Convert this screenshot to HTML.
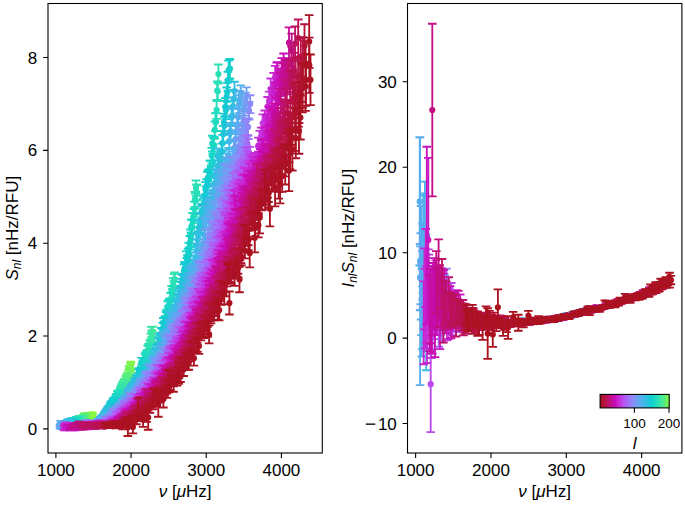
<!DOCTYPE html>
<html><head><meta charset="utf-8"><style>html,body{margin:0;padding:0;background:#fff;overflow:hidden;}svg{display:block;}</style></head>
<body><svg width="685" height="506" viewBox="0 0 685 506"><defs><clipPath id="cl"><rect x="48.0" y="3.5" width="274.3" height="449.5"/></clipPath><clipPath id="cr"><rect x="407.5" y="3.5" width="274.4" height="449.5"/></clipPath><linearGradient id="cm" x1="0" x2="1" y1="0" y2="0"><stop offset="0.000" stop-color="#aa121e"/><stop offset="0.050" stop-color="#b41238"/><stop offset="0.110" stop-color="#bc1260"/><stop offset="0.165" stop-color="#c40e94"/><stop offset="0.215" stop-color="#c80cb8"/><stop offset="0.275" stop-color="#c82cd8"/><stop offset="0.340" stop-color="#b850f0"/><stop offset="0.410" stop-color="#a070f8"/><stop offset="0.485" stop-color="#8890f8"/><stop offset="0.560" stop-color="#60a8f0"/><stop offset="0.635" stop-color="#40b8e8"/><stop offset="0.740" stop-color="#10ccd0"/><stop offset="0.810" stop-color="#20dcc0"/><stop offset="0.885" stop-color="#40e8a0"/><stop offset="0.950" stop-color="#60f070"/><stop offset="1.000" stop-color="#88f840"/></linearGradient></defs><g clip-path="url(#cl)" fill="none"><path stroke="#88f840" stroke-width="6.2" stroke-linecap="round" d="M92.7 416.3h0"/><path stroke="#88f840" stroke-width="6.2" stroke-linecap="round" d="M92.4 416.8h0"/><path stroke="#88f840" stroke-width="6.2" stroke-linecap="round" d="M92.2 414.7h0"/><path stroke="#88f840" stroke-width="6.2" stroke-linecap="round" d="M91.9 415.1h0"/><path stroke="#88f840" stroke-width="6.2" stroke-linecap="round" d="M91.7 414.6h0"/><path stroke="#88f840" stroke-width="6.2" stroke-linecap="round" d="M91.4 415.7h0"/><path stroke="#88f840" stroke-width="6.2" stroke-linecap="round" d="M91.2 416h0"/><path stroke="#88f840" stroke-width="6.2" stroke-linecap="round" d="M90.9 416.3h0"/><path stroke="#88f840" stroke-width="6.2" stroke-linecap="round" d="M90.7 417.5h0"/><path stroke="#88f840" stroke-width="6.2" stroke-linecap="round" d="M90.4 417h0"/><path stroke="#88f840" stroke-width="6.2" stroke-linecap="round" d="M90.2 416.8h0"/><path stroke="#88f840" stroke-width="6.2" stroke-linecap="round" d="M89.9 417.8h0"/><path stroke="#88f840" stroke-width="6.2" stroke-linecap="round" d="M89.6 416.2h0"/><path stroke="#88f840" stroke-width="6.2" stroke-linecap="round" d="M89.4 416.6h0"/><path stroke="#88f840" stroke-width="6.2" stroke-linecap="round" d="M89.1 416.5h0"/><path stroke="#88f840" stroke-width="6.2" stroke-linecap="round" d="M88.9 416.6h0"/><path stroke="#88f840" stroke-width="6.2" stroke-linecap="round" d="M88.6 415.4h0"/><path stroke="#88f840" stroke-width="6.2" stroke-linecap="round" d="M88.3 416.2h0"/><path stroke="#88f840" stroke-width="6.2" stroke-linecap="round" d="M88.1 415.3h0"/><path stroke="#88f840" stroke-width="6.2" stroke-linecap="round" d="M87.8 416.4h0"/><path stroke="#88f840" stroke-width="6.2" stroke-linecap="round" d="M87.5 415.2h0"/><path stroke="#88f840" stroke-width="6.2" stroke-linecap="round" d="M87.3 416.9h0"/><path stroke="#88f840" stroke-width="6.2" stroke-linecap="round" d="M131 365.4h0M87 417.7h0"/><path stroke="#84f745" stroke-width="6.2" stroke-linecap="round" d="M130.7 367.7h0M86.8 416.4h0"/><path stroke="#80f64a" stroke-width="6.2" stroke-linecap="round" d="M130.4 366.2h0M86.5 416.6h0"/><path stroke="#7cf64e" stroke-width="6.2" stroke-linecap="round" d="M130 371h0M86.2 415.2h0"/><path stroke="#78f553" stroke-width="6.2" stroke-linecap="round" d="M129.7 372.7h0M86 417.8h0"/><path stroke="#74f458" stroke-width="6.2" stroke-linecap="round" d="M129.3 371.9h0M85.7 415.7h0"/><path stroke="#70f35d" stroke-width="6.2" stroke-linecap="round" d="M129 369.5h0M85.4 416.9h0"/><path stroke="#6cf262" stroke-width="6.2" stroke-linecap="round" d="M128.6 373.6h0M85.1 419.2h0"/><path stroke="#68f266" stroke-width="6.2" stroke-linecap="round" d="M128.3 377.1h0M84.9 417h0"/><path stroke="#64f16b" stroke-width="6.2" stroke-linecap="round" d="M128 376.7h0M84.6 418.6h0"/><path stroke="#60f070" stroke-width="6.2" stroke-linecap="round" d="M127.6 375.8h0M84.3 415.3h0"/><path stroke="#5eef74" stroke-width="6.2" stroke-linecap="round" d="M127.3 378h0M84.1 417h0"/><path stroke="#5bef77" stroke-width="6.2" stroke-linecap="round" d="M126.9 378.2h0M83.8 420.4h0"/><path stroke="#59ee7b" stroke-width="6.2" stroke-linecap="round" d="M126.6 377.4h0M83.5 418.6h0"/><path stroke="#56ee7f" stroke-width="6.2" stroke-linecap="round" d="M126.2 379.6h0M83.2 417.2h0"/><path stroke="#54ed82" stroke-width="6.2" stroke-linecap="round" d="M125.8 379.4h0M83 417h0"/><path stroke="#51ec86" stroke-width="6.2" stroke-linecap="round" d="M125.5 381.9h0M82.7 417.5h0"/><path stroke="#4fec8a" stroke-width="6.2" stroke-linecap="round" d="M125.1 382.2h0M82.4 419.1h0"/><path stroke="#4ceb8e" stroke-width="6.2" stroke-linecap="round" d="M124.8 382.1h0M82.1 418.4h0"/><path stroke="#4aea91" stroke-width="6.2" stroke-linecap="round" d="M124.4 382.4h0M81.9 417.4h0"/><path stroke="#47ea95" stroke-width="6.2" stroke-linecap="round" d="M124.1 382.6h0M81.6 418h0"/><path stroke="#45e999" stroke-width="6.2" stroke-linecap="round" d="M123.7 384.3h0M152.9 332.2h0M81.3 421.5h0"/><path stroke="#42e99c" stroke-width="6.2" stroke-linecap="round" d="M123.3 385.9h0M152.5 338.6h0M81 418.1h0"/><path stroke="#40e8a0" stroke-width="6.2" stroke-linecap="round" d="M123 384h0M152.1 336h0M80.7 420.2h0"/><path stroke="#3ee7a2" stroke-width="6.2" stroke-linecap="round" d="M122.6 385.4h0M151.7 336.6h0M80.5 419h0"/><path stroke="#3ce6a4" stroke-width="6.2" stroke-linecap="round" d="M122.3 388h0M151.2 332.2h0M80.2 419.6h0"/><path stroke="#3ae6a6" stroke-width="6.2" stroke-linecap="round" d="M121.9 386.6h0M150.8 339h0M79.9 418h0"/><path stroke="#37e5a9" stroke-width="6.2" stroke-linecap="round" d="M121.5 390.4h0M150.4 347.4h0M79.6 419.6h0"/><path stroke="#35e4ab" stroke-width="6.2" stroke-linecap="round" d="M121.2 388.2h0M149.9 345.1h0M79.3 420.5h0"/><path stroke="#33e3ad" stroke-width="6.2" stroke-linecap="round" d="M120.8 388.9h0M149.5 350.9h0M79 418.2h0"/><path stroke="#31e2af" stroke-width="6.2" stroke-linecap="round" d="M120.4 390.6h0M149.1 350.9h0M174.6 279.1h0M78.7 420.9h0"/><path stroke="#2fe2b1" stroke-width="6.2" stroke-linecap="round" d="M120.1 391.3h0M148.6 349h0M174.2 280.6h0M78.5 420.9h0"/><path stroke="#2de1b3" stroke-width="6.2" stroke-linecap="round" d="M119.7 392.7h0M148.2 350.8h0M173.7 287.6h0M197.1 192.9h0M78.2 420.8h0"/><path stroke="#2be0b5" stroke-width="6.2" stroke-linecap="round" d="M119.3 393.9h0M147.8 350.3h0M173.2 284.6h0M196.5 192.2h0M218.4 74h0M77.9 421.7h0"/><path stroke="#29dfb7" stroke-width="6.2" stroke-linecap="round" d="M118.9 395h0M147.3 354.7h0M172.7 294.9h0M196 188.1h0M217.8 91.3h0M77.6 418.9h0"/><path stroke="#26deba" stroke-width="6.2" stroke-linecap="round" d="M118.6 395.3h0M146.9 355.9h0M172.2 295.7h0M195.4 201h0M217.2 90.6h0M77.3 421.5h0"/><path stroke="#24debc" stroke-width="6.2" stroke-linecap="round" d="M118.2 393.5h0M146.4 361.3h0M171.7 292.3h0M194.9 199.4h0M216.6 109.8h0M77 421.1h0"/><path stroke="#22ddbe" stroke-width="6.2" stroke-linecap="round" d="M117.8 393h0M146 356.6h0M171.2 298.5h0M194.3 209h0M216 122h0M76.7 418.8h0"/><path stroke="#20dcc0" stroke-width="6.2" stroke-linecap="round" d="M117.4 393.7h0M145.5 359.2h0M170.7 299.2h0M193.8 216h0M215.4 122.2h0M76.4 418.2h0"/><path stroke="#1fdbc1" stroke-width="6.2" stroke-linecap="round" d="M117.1 396.8h0M145.1 357.8h0M170.2 306.7h0M193.2 220h0M214.8 129.9h0M76.1 420.6h0"/><path stroke="#1edac2" stroke-width="6.2" stroke-linecap="round" d="M116.7 396.6h0M144.7 363.3h0M169.6 304.5h0M192.6 220.2h0M214.2 145.3h0M75.8 420.8h0"/><path stroke="#1dd9c3" stroke-width="6.2" stroke-linecap="round" d="M116.3 396.5h0M144.2 362.8h0M169.1 306.7h0M192.1 226.9h0M213.5 146.4h0M75.5 423.4h0"/><path stroke="#1bd7c5" stroke-width="6.2" stroke-linecap="round" d="M115.9 397.2h0M143.8 363.1h0M168.6 305.9h0M191.5 226.7h0M212.9 161.7h0M75.2 421.9h0"/><path stroke="#1ad6c6" stroke-width="6.2" stroke-linecap="round" d="M115.5 398.9h0M143.3 365.1h0M168.1 312.2h0M190.9 239.2h0M212.3 143.6h0M74.9 420.1h0"/><path stroke="#19d5c7" stroke-width="6.2" stroke-linecap="round" d="M115.2 399.9h0M142.8 367.8h0M167.6 307.2h0M190.4 236.4h0M211.7 155.7h0M74.6 422.1h0"/><path stroke="#18d4c8" stroke-width="6.2" stroke-linecap="round" d="M114.8 401.2h0M142.4 366.7h0M167.1 317h0M189.8 242.8h0M211.1 173.8h0M74.3 420.6h0"/><path stroke="#17d3c9" stroke-width="6.2" stroke-linecap="round" d="M114.4 400.3h0M141.9 368.6h0M166.6 315.6h0M189.2 254h0M210.5 168h0M74 421h0"/><path stroke="#16d2ca" stroke-width="6.2" stroke-linecap="round" d="M114 400.6h0M141.5 362h0M166.1 317.8h0M188.7 249.5h0M209.9 168.6h0M229.9 68.6h0M73.7 422.6h0"/><path stroke="#15d1cb" stroke-width="6.2" stroke-linecap="round" d="M113.6 401.6h0M141 371.8h0M165.5 322.9h0M188.1 255.2h0M209.2 177h0M229.3 69.6h0M73.4 420.6h0"/><path stroke="#13cfcd" stroke-width="6.2" stroke-linecap="round" d="M113.2 400.4h0M140.6 373.5h0M165 321.9h0M187.5 261.6h0M208.6 177.3h0M228.6 70.3h0M73.1 421.9h0"/><path stroke="#12cece" stroke-width="6.2" stroke-linecap="round" d="M112.8 403.2h0M140.1 373.4h0M164.5 324.1h0M186.9 264.5h0M208 177.9h0M227.9 81.3h0M72.8 420.5h0"/><path stroke="#11cdcf" stroke-width="6.2" stroke-linecap="round" d="M112.4 402.6h0M139.6 373h0M164 327h0M186.4 257.9h0M207.4 179.4h0M227.3 92.3h0M72.5 420.6h0"/><path stroke="#10ccd0" stroke-width="6.2" stroke-linecap="round" d="M112 404.3h0M139.2 372.1h0M163.4 323.6h0M185.8 270.3h0M206.7 186.6h0M226.6 96.8h0M72.2 422.3h0"/><path stroke="#12cbd1" stroke-width="6.2" stroke-linecap="round" d="M111.6 403.8h0M138.7 373.1h0M162.9 328.4h0M185.2 269.4h0M206.1 193.9h0M225.9 109.9h0M71.9 421.9h0"/><path stroke="#15cad2" stroke-width="6.2" stroke-linecap="round" d="M111.2 404.4h0M138.2 376.6h0M162.4 334.6h0M184.6 268.4h0M205.5 189.5h0M225.2 107.1h0M71.6 420h0"/><path stroke="#17c9d3" stroke-width="6.2" stroke-linecap="round" d="M110.8 403.8h0M137.8 379.7h0M161.9 333.3h0M184 270.8h0M204.8 201.6h0M224.5 125.7h0M71.3 422.2h0"/><path stroke="#19c8d5" stroke-width="6.2" stroke-linecap="round" d="M110.4 405.8h0M137.3 382.4h0M161.3 333.3h0M183.4 279.9h0M204.2 203.4h0M223.9 122.3h0M71 423.5h0"/><path stroke="#1bc7d6" stroke-width="6.2" stroke-linecap="round" d="M110 406.3h0M136.8 379.3h0M160.8 338.1h0M182.9 281.2h0M203.5 205.6h0M223.2 134.3h0M70.7 422.2h0"/><path stroke="#1ec6d7" stroke-width="6.2" stroke-linecap="round" d="M109.6 407.5h0M136.3 378.8h0M160.2 339.6h0M182.3 280.6h0M202.9 213.1h0M222.5 143.2h0M70.3 421.8h0"/><path stroke="#20c5d8" stroke-width="6.2" stroke-linecap="round" d="M109.2 408.1h0M135.9 383.4h0M159.7 340.4h0M181.7 285.1h0M202.3 211h0M221.8 151.7h0M70 421.8h0"/><path stroke="#22c4d9" stroke-width="6.2" stroke-linecap="round" d="M108.8 408.1h0M135.4 381.6h0M159.2 342.4h0M181.1 288.1h0M201.6 211.9h0M221.1 158.3h0M69.7 421.8h0"/><path stroke="#25c3da" stroke-width="6.2" stroke-linecap="round" d="M108.4 408.8h0M134.9 386h0M158.6 343.9h0M180.5 292.5h0M201 219.5h0M220.4 161.1h0M69.4 422.6h0"/><path stroke="#27c2db" stroke-width="6.2" stroke-linecap="round" d="M108 408.5h0M134.4 381.9h0M158.1 348.3h0M179.9 294.4h0M200.3 220.9h0M219.7 164.4h0M69.1 422.6h0"/><path stroke="#29c2dd" stroke-width="6.2" stroke-linecap="round" d="M107.6 409.4h0M133.9 384.3h0M157.5 349.9h0M179.3 300.8h0M199.7 226.2h0M219 173.7h0M68.8 423.2h0"/><path stroke="#2bc1de" stroke-width="6.2" stroke-linecap="round" d="M107.2 410.6h0M133.5 385.8h0M157 350.4h0M178.7 296.4h0M199 228h0M218.3 168.3h0M68.4 421h0"/><path stroke="#2ec0df" stroke-width="6.2" stroke-linecap="round" d="M106.8 412.6h0M133 386.9h0M156.4 352.8h0M178.1 299.7h0M198.3 237.8h0M217.6 156.2h0M68.1 420.6h0"/><path stroke="#30bfe0" stroke-width="6.2" stroke-linecap="round" d="M106.4 411.9h0M132.5 386.8h0M155.9 354.1h0M177.4 303.8h0M197.7 239.8h0M216.9 174.1h0M67.8 422.6h0"/><path stroke="#32bee1" stroke-width="6.2" stroke-linecap="round" d="M106 411.4h0M132 387.7h0M155.3 354.2h0M176.8 304.4h0M197 250.6h0M216.2 177.7h0M234.5 91.1h0M67.5 422.9h0"/><path stroke="#35bde2" stroke-width="6.2" stroke-linecap="round" d="M105.5 413.1h0M131.5 388.2h0M154.8 355.3h0M176.2 306.5h0M196.4 245.8h0M215.5 183.3h0M233.8 98.9h0M67.1 421.1h0"/><path stroke="#37bce3" stroke-width="6.2" stroke-linecap="round" d="M105.1 413.8h0M131 389.3h0M154.2 355.3h0M175.6 310.8h0M195.7 258.7h0M214.8 176.5h0M233 106.3h0M66.8 422.3h0"/><path stroke="#39bbe5" stroke-width="6.2" stroke-linecap="round" d="M104.7 413.2h0M130.5 392.1h0M153.6 358.6h0M175 310.5h0M195 261.8h0M214 192.7h0M232.2 115.9h0M66.5 425.9h0"/><path stroke="#3bbae6" stroke-width="6.2" stroke-linecap="round" d="M104.3 415.5h0M130 391h0M153.1 361.8h0M174.4 313.7h0M194.3 266.1h0M213.3 191h0M231.5 117.4h0M66.2 424.9h0"/><path stroke="#3eb9e7" stroke-width="6.2" stroke-linecap="round" d="M103.9 415.6h0M129.5 390.8h0M152.5 360.6h0M173.7 314.3h0M193.7 265.5h0M212.6 197.2h0M230.7 131.4h0M65.8 424.2h0"/><path stroke="#40b8e8" stroke-width="6.2" stroke-linecap="round" d="M103.4 415.7h0M129 393.7h0M152 363.8h0M173.1 318.8h0M193 269.9h0M211.9 200.9h0M229.9 133.2h0M65.5 426.2h0"/><path stroke="#42b7e9" stroke-width="6.2" stroke-linecap="round" d="M103 416.7h0M128.5 392h0M151.4 364.2h0M172.5 320.8h0M192.3 270.9h0M211.1 199.2h0M229.2 141.4h0M65.2 425.5h0"/><path stroke="#44b6e9" stroke-width="6.2" stroke-linecap="round" d="M102.6 417.2h0M128 393.9h0M150.8 370.4h0M171.9 318.9h0M191.6 271.2h0M210.4 204.7h0M228.4 155.9h0M64.8 425.3h0"/><path stroke="#46b5ea" stroke-width="6.2" stroke-linecap="round" d="M102.2 417.5h0M127.5 393.9h0M150.2 367.1h0M171.2 321.8h0M190.9 272.4h0M209.7 205.3h0M227.6 161.5h0M64.5 424h0"/><path stroke="#49b4ea" stroke-width="6.2" stroke-linecap="round" d="M101.7 418h0M127 397.1h0M149.7 368.4h0M170.6 324.4h0M190.3 274h0M208.9 206.9h0M226.8 169.5h0M64.1 425.9h0"/><path stroke="#4bb3eb" stroke-width="6.2" stroke-linecap="round" d="M101.3 417.7h0M126.5 396.3h0M149.1 368.4h0M170 317.5h0M189.6 280.1h0M208.2 208.7h0M226 165h0M63.8 425h0"/><path stroke="#4db2eb" stroke-width="6.2" stroke-linecap="round" d="M100.9 418.8h0M126 399.6h0M148.5 375.8h0M169.3 325.9h0M188.9 273.9h0M207.4 215.4h0M225.2 166.6h0M63.5 425.7h0"/><path stroke="#4fb1ec" stroke-width="6.2" stroke-linecap="round" d="M100.4 418.7h0M125.4 398.3h0M147.9 374.3h0M168.7 331.1h0M188.2 279.1h0M206.7 220.9h0M224.5 174h0M63.1 425.4h0"/><path stroke="#51afec" stroke-width="6.2" stroke-linecap="round" d="M100 419.5h0M124.9 399.1h0M147.3 369.9h0M168 336.4h0M187.5 283h0M205.9 212.7h0M223.7 171.4h0M240.7 94.5h0M62.8 425.1h0"/><path stroke="#53aeed" stroke-width="6.2" stroke-linecap="round" d="M99.5 421.4h0M124.4 400.4h0M146.7 374.9h0M167.4 334.8h0M186.8 289.8h0M205.2 236.6h0M222.9 172h0M239.9 100.1h0M62.4 426.3h0M60 426.6h0"/><path stroke="#55aded" stroke-width="6.2" stroke-linecap="round" d="M99.1 422h0M123.9 400.1h0M146.2 376.1h0M166.7 336h0M186.1 290.8h0M204.4 235.2h0M222.1 178.7h0M239.1 104.2h0M62.1 424.5h0"/><path stroke="#57acee" stroke-width="6.2" stroke-linecap="round" d="M98.6 420.6h0M123.4 400.1h0M145.6 379.7h0M166.1 344.5h0M185.4 295.7h0M203.7 223.9h0M221.3 176.3h0M238.2 117.1h0M61.8 426h0M60.4 426.6h0"/><path stroke="#5aabee" stroke-width="6.2" stroke-linecap="round" d="M98.2 420.6h0M122.8 402.9h0M145 376.3h0M165.4 343.9h0M184.6 297h0M202.9 245.5h0M220.4 184.3h0M237.3 125.4h0M61.4 424h0"/><path stroke="#5caaef" stroke-width="6.2" stroke-linecap="round" d="M97.8 421.5h0M122.3 401.3h0M144.4 378.6h0M164.8 342.8h0M183.9 299.4h0M202.2 249.8h0M219.6 189.8h0M236.5 131.1h0M61.1 426.9h0"/><path stroke="#5ea9ef" stroke-width="6.2" stroke-linecap="round" d="M97.3 421.4h0M121.8 402.3h0M143.8 381.2h0M164.1 340.5h0M183.2 300.5h0M201.4 253.3h0M218.8 178.6h0M235.6 139.1h0M60.7 423.4h0"/><path stroke="#60a8f0" stroke-width="6.2" stroke-linecap="round" d="M96.9 423h0M121.2 405.2h0M143.2 380.9h0M163.4 348.3h0M182.5 305.9h0M200.6 259h0M218 195.2h0M234.8 147.9h0M60.3 425.9h0"/><path stroke="#63a6f1" stroke-width="6.2" stroke-linecap="round" d="M96.4 422.7h0M120.7 404.6h0M142.6 382.4h0M162.8 337.7h0M181.8 310.4h0M199.8 257.8h0M217.2 194.7h0M233.9 148.3h0"/><path stroke="#65a5f1" stroke-width="6.2" stroke-linecap="round" d="M95.9 422.6h0M120.2 405.2h0M142 383.8h0M162.1 352.9h0M181 308.3h0M199.1 268.6h0M216.4 195.4h0M233 159.4h0"/><path stroke="#68a3f2" stroke-width="6.2" stroke-linecap="round" d="M95.5 425h0M119.6 405.4h0M141.3 384.1h0M161.4 351.2h0M180.3 311.6h0M198.3 265.9h0M215.5 201.6h0M232.2 170.2h0"/><path stroke="#6ba2f2" stroke-width="6.2" stroke-linecap="round" d="M95 424.1h0M119.1 406h0M140.7 384.8h0M160.8 355.7h0M179.6 315.3h0M197.5 267.7h0M214.7 208h0M231.3 165.6h0"/><path stroke="#6da0f3" stroke-width="6.2" stroke-linecap="round" d="M94.6 424.3h0M118.5 407.1h0M140.1 382.7h0M160.1 357.3h0M178.8 319.1h0M196.7 276.9h0M213.9 210.4h0M230.4 174.5h0M246.5 96.6h0"/><path stroke="#709ef3" stroke-width="6.2" stroke-linecap="round" d="M94.1 423.5h0M118 408.3h0M139.5 387.5h0M159.4 359.2h0M178.1 323.9h0M195.9 272.5h0M213 217.2h0M229.5 164h0M245.5 101.7h0"/><path stroke="#739df4" stroke-width="6.2" stroke-linecap="round" d="M93.6 422.9h0M117.4 407.9h0M138.9 386.3h0M158.7 364.2h0M177.4 319.2h0M195.1 279.6h0M212.2 218.6h0M228.6 174.5h0M244.6 106.7h0"/><path stroke="#759bf4" stroke-width="6.2" stroke-linecap="round" d="M93.2 424.5h0M116.9 408.2h0M138.3 388.9h0M158 361.2h0M176.6 322.3h0M194.3 281.8h0M211.3 223h0M227.7 174h0M243.7 119.8h0"/><path stroke="#789af5" stroke-width="6.2" stroke-linecap="round" d="M92.7 424.1h0M116.3 409h0M137.6 389.2h0M157.3 363.5h0M175.9 324.4h0M193.5 282.1h0M210.5 227.5h0M226.8 178.7h0M242.7 123.8h0"/><path stroke="#7b98f5" stroke-width="6.2" stroke-linecap="round" d="M92.2 424.3h0M115.8 411.2h0M137 390.6h0M156.6 362.8h0M175.1 328.2h0M192.7 288.8h0M209.6 234.3h0M225.9 189.4h0M241.8 134h0"/><path stroke="#7d96f6" stroke-width="6.2" stroke-linecap="round" d="M91.7 424h0M115.2 411.5h0M136.4 392.9h0M155.9 366.1h0M174.4 329h0M191.9 283.9h0M208.8 240.2h0M225 186.7h0M240.8 137.4h0"/><path stroke="#8095f6" stroke-width="6.2" stroke-linecap="round" d="M91.3 422.7h0M114.7 411.1h0M135.7 395h0M155.2 370.6h0M173.6 334.8h0M191.1 293.6h0M207.9 235.5h0M224.1 171h0M239.9 147.2h0"/><path stroke="#8393f7" stroke-width="6.2" stroke-linecap="round" d="M90.8 424.2h0M114.1 412.6h0M135.1 394h0M154.5 363h0M172.8 329.6h0M190.3 293.6h0M207 248.7h0M223.2 192.5h0M238.9 147.1h0"/><path stroke="#8592f7" stroke-width="6.2" stroke-linecap="round" d="M90.3 423.8h0M113.5 410.4h0M134.4 394.5h0M153.8 368.4h0M172.1 331.6h0M189.5 293.3h0M206.2 253.5h0M222.3 196.3h0M237.9 152.2h0"/><path stroke="#8890f8" stroke-width="6.2" stroke-linecap="round" d="M89.8 423.5h0M113 411.2h0M133.8 396.1h0M153.1 377.2h0M171.3 333.5h0M188.6 299.4h0M205.3 255.4h0M221.4 197.6h0M237 165.1h0"/><path stroke="#8a8ef8" stroke-width="6.2" stroke-linecap="round" d="M89.3 423.2h0M112.4 415.5h0M133.1 396.6h0M152.4 374.8h0M170.5 340.9h0M187.8 302h0M204.4 259.6h0M220.4 205.6h0M236 168.6h0"/><path stroke="#8b8cf8" stroke-width="6.2" stroke-linecap="round" d="M88.8 424h0M111.8 413.9h0M132.5 397.7h0M151.7 378.5h0M169.7 338.9h0M187 303.9h0M203.5 260.5h0M219.5 208.8h0M235 164.5h0M250.2 104.1h0"/><path stroke="#8d8af8" stroke-width="6.2" stroke-linecap="round" d="M88.4 424.7h0M111.2 415h0M131.8 398.2h0M151 370.5h0M169 343.3h0M186.1 304.8h0M202.6 266.7h0M218.6 217.8h0M234.1 171.9h0M249.1 110.7h0"/><path stroke="#8e87f8" stroke-width="6.2" stroke-linecap="round" d="M87.9 424.8h0M110.6 416.5h0M131.2 397.7h0M150.2 377.2h0M168.2 341.1h0M185.3 308.6h0M201.7 273.3h0M217.6 219.3h0M233.1 172.9h0M248.1 126.9h0"/><path stroke="#9085f8" stroke-width="6.2" stroke-linecap="round" d="M87.4 425.4h0M110.1 418h0M130.5 399.5h0M149.5 376h0M167.4 353.1h0M184.4 303.1h0M200.8 269.2h0M216.7 219.4h0M232.1 174.1h0M247.1 127.1h0"/><path stroke="#9283f8" stroke-width="6.2" stroke-linecap="round" d="M86.9 422h0M109.5 417.4h0M129.9 396.2h0M148.8 381.5h0M166.6 352.5h0M183.6 315.9h0M199.9 267.4h0M215.7 220.8h0M231.1 183.7h0M246 129.5h0"/><path stroke="#9381f8" stroke-width="6.2" stroke-linecap="round" d="M86.4 424h0M108.9 417.1h0M129.2 400.9h0M148 384.2h0M165.8 353.8h0M182.7 315.5h0M199 279.7h0M214.8 228.5h0M230.1 183.9h0M245 144h0"/><path stroke="#957ff8" stroke-width="6.2" stroke-linecap="round" d="M85.9 426.1h0M108.3 418.2h0M128.5 401.7h0M147.3 384.2h0M165 354.9h0M181.9 316.7h0M198.1 284.4h0M213.8 235.4h0M229.1 189.7h0M243.9 149.1h0"/><path stroke="#967df8" stroke-width="6.2" stroke-linecap="round" d="M85.3 424.4h0M107.7 418.9h0M127.8 401h0M146.5 382.6h0M164.2 359.8h0M181 322.3h0M197.2 283.2h0M212.9 228.4h0M228.1 191.4h0M242.9 155h0"/><path stroke="#987bf8" stroke-width="6.2" stroke-linecap="round" d="M84.8 423.8h0M107.1 420.3h0M127.2 405.2h0M145.8 376.7h0M163.4 358.8h0M180.1 324.5h0M196.3 286h0M211.9 239.8h0M227 197.7h0M241.8 158.1h0"/><path stroke="#9a79f8" stroke-width="6.2" stroke-linecap="round" d="M84.3 423.8h0M106.5 420.8h0M126.5 404h0M145 385.8h0M162.6 359.2h0M179.3 326.5h0M195.4 287.3h0M210.9 245h0M226 193.5h0M240.8 160.9h0"/><path stroke="#9b76f8" stroke-width="6.2" stroke-linecap="round" d="M83.8 425.1h0M105.9 418.6h0M125.8 405.5h0M144.3 386.3h0M161.7 361.9h0M178.4 328h0M194.4 294h0M209.9 248.1h0M225 197.8h0M239.7 174h0"/><path stroke="#9d74f8" stroke-width="6.2" stroke-linecap="round" d="M83.3 426h0M105.2 421.1h0M125.1 405.1h0M143.5 386.5h0M160.9 365.2h0M177.5 327.4h0M193.5 295.2h0M208.9 260.6h0M224 204.1h0M238.6 170h0"/><path stroke="#9e72f8" stroke-width="6.2" stroke-linecap="round" d="M82.8 425.7h0M104.6 421.9h0M124.4 403.5h0M142.8 389.3h0M160.1 366.8h0M176.6 333.7h0M192.5 294h0M207.9 257.6h0M222.9 206.6h0M237.5 174.7h0"/><path stroke="#a070f8" stroke-width="6.2" stroke-linecap="round" d="M82.2 427.3h0M104 421.5h0M123.7 406.8h0M142 393h0M159.2 370.5h0M175.7 331.2h0M191.6 298.3h0M207 264.7h0M221.9 215.5h0M236.4 178.9h0"/><path stroke="#a26ef7" stroke-width="6.2" stroke-linecap="round" d="M81.7 425.5h0M103.4 422.3h0M123 406.5h0M141.2 392.5h0M158.4 372.6h0M174.8 336.6h0M190.6 303.8h0M205.9 267.6h0M220.8 215.5h0M235.4 180.1h0"/><path stroke="#a36bf7" stroke-width="6.2" stroke-linecap="round" d="M81.2 425.8h0M102.8 424.1h0M122.3 409.4h0M140.4 390.8h0M157.6 372.8h0M173.9 340.8h0M189.7 307.8h0M204.9 267.8h0M219.8 226.6h0M234.3 188.6h0M248.4 147.1h0"/><path stroke="#a569f6" stroke-width="6.2" stroke-linecap="round" d="M80.6 426.5h0M102.1 424.5h0M121.6 410.5h0M139.6 391.7h0M156.7 369.4h0M173 346.9h0M188.7 308h0M203.9 274.4h0M218.7 226.9h0M233.1 180.2h0M247.3 143.2h0"/><path stroke="#a767f6" stroke-width="6.2" stroke-linecap="round" d="M80.1 426.5h0M101.5 425.1h0M120.9 409.7h0M138.9 393.8h0M155.9 375.3h0M172.1 346.5h0M187.8 313.9h0M202.9 282.1h0M217.6 231.1h0M232 192h0M246.1 155.8h0"/><path stroke="#a965f5" stroke-width="6.2" stroke-linecap="round" d="M79.6 424.5h0M100.9 424.7h0M120.1 411.8h0M138.1 398.6h0M155 376.5h0M171.2 346.2h0M186.8 312.1h0M201.9 277.9h0M216.6 238.5h0M230.9 199.4h0M245 163.6h0"/><path stroke="#aa62f5" stroke-width="6.2" stroke-linecap="round" d="M79 427.5h0M100.2 423.8h0M119.4 411.4h0M137.3 397.7h0M154.1 378.3h0M170.3 350.7h0M185.8 320.1h0M200.8 280h0M215.5 243.4h0M229.8 197.1h0M243.8 166.5h0"/><path stroke="#ac60f4" stroke-width="6.2" stroke-linecap="round" d="M78.5 425.5h0M99.6 423.9h0M118.7 412.6h0M136.5 400.7h0M153.3 378.1h0M169.3 352h0M184.8 321.9h0M199.8 284.1h0M214.4 248.9h0M228.7 196.4h0M242.6 169h0"/><path stroke="#ae5ef3" stroke-width="6.2" stroke-linecap="round" d="M77.9 426h0M98.9 423.9h0M117.9 413.4h0M135.6 400.9h0M152.4 381.9h0M168.4 356.3h0M183.8 323.9h0M198.8 289.3h0M213.3 251.2h0M227.5 211.6h0M241.4 167.6h0"/><path stroke="#af5bf3" stroke-width="6.2" stroke-linecap="round" d="M77.4 425.5h0M98.3 425.7h0M117.2 414.7h0M134.8 397.2h0M151.5 384.2h0M167.5 362h0M182.8 326h0M197.7 294h0M212.2 254.9h0M226.4 207.8h0M240.2 171.9h0"/><path stroke="#b159f2" stroke-width="6.2" stroke-linecap="round" d="M76.8 425.8h0M97.6 423.2h0M116.5 414.1h0M134 403.2h0M150.6 386.6h0M166.5 358.9h0M181.8 332.5h0M196.7 297.8h0M211.1 261.9h0M225.2 218.7h0M239 177.1h0"/><path stroke="#b357f2" stroke-width="6.2" stroke-linecap="round" d="M76.2 425.1h0M96.9 425.9h0M115.7 417.2h0M133.2 400.9h0M149.7 384h0M165.6 362.1h0M180.8 331.1h0M195.6 300.9h0M210 264.8h0M224.1 218.7h0M237.8 178.7h0"/><path stroke="#b555f1" stroke-width="6.2" stroke-linecap="round" d="M75.7 425.5h0M96.3 424.9h0M115 417.9h0M132.4 403.2h0M148.8 387.5h0M164.6 366.3h0M179.8 332.6h0M194.5 303.9h0M208.9 265.4h0M222.9 227.9h0M236.6 186.4h0M250.1 154.5h0"/><path stroke="#b652f1" stroke-width="6.2" stroke-linecap="round" d="M75.1 426.3h0M95.6 425.1h0M114.2 419.9h0M131.5 403.2h0M147.9 387.1h0M163.6 365.1h0M178.8 340.9h0M193.4 303.5h0M207.7 272.8h0M221.7 228h0M235.4 188.9h0M248.8 164.1h0"/><path stroke="#b850f0" stroke-width="6.2" stroke-linecap="round" d="M74.5 426.8h0M94.9 423.3h0M113.4 419h0M130.7 407h0M147 386.6h0M162.7 369.6h0M177.7 342.7h0M192.4 306.4h0M206.6 280.2h0M220.5 240.2h0M234.2 189.3h0M247.6 158.9h0"/><path stroke="#b94dee" stroke-width="6.2" stroke-linecap="round" d="M73.9 426.2h0M94.2 426h0M112.7 418.9h0M129.8 407.2h0M146.1 391.1h0M161.7 372.2h0M176.7 342.6h0M191.3 308.7h0M205.5 278.1h0M219.3 236.5h0M232.9 193.1h0M246.3 154.7h0"/><path stroke="#ba4aec" stroke-width="6.2" stroke-linecap="round" d="M73.4 425.9h0M93.5 424.6h0M111.9 419.4h0M129 405.6h0M145.2 392.1h0M160.7 375.9h0M175.6 343.4h0M190.2 319h0M204.3 284.1h0M218.1 242.8h0M231.7 203h0M245 174h0M70.9 426.6h0"/><path stroke="#bc48ea" stroke-width="6.2" stroke-linecap="round" d="M72.8 427.8h0M92.9 426.6h0M111.1 420h0M128.1 407h0M144.2 392.8h0M159.7 377.6h0M174.6 346.5h0M189.1 318.6h0M203.1 282.4h0M216.9 250.9h0M230.4 201.9h0M243.7 174.5h0"/><path stroke="#bd45e9" stroke-width="6.2" stroke-linecap="round" d="M72.2 426.8h0M92.2 424.3h0M110.3 421.6h0M127.3 409.1h0M143.3 394.2h0M158.7 369.8h0M173.5 351h0M187.9 321h0M202 286.1h0M215.7 257.9h0M229.2 208.8h0M242.4 180.6h0"/><path stroke="#be42e7" stroke-width="6.2" stroke-linecap="round" d="M71.6 428h0M91.5 423.3h0M109.5 421.7h0M126.4 408.9h0M142.4 398.3h0M157.7 375.3h0M172.5 357.5h0M186.8 325.5h0M200.8 289.5h0M214.5 263.5h0M227.9 215.4h0M241.1 189h0"/><path stroke="#bf3fe5" stroke-width="6.2" stroke-linecap="round" d="M71 426.6h0M90.7 424.6h0M108.7 422.9h0M125.5 409h0M141.4 394.2h0M156.7 377.7h0M171.4 352.6h0M185.7 326.9h0M199.6 296.1h0M213.3 267h0M226.6 218.5h0M239.8 186.7h0M252.7 161.7h0"/><path stroke="#c13de3" stroke-width="6.2" stroke-linecap="round" d="M70.4 427.4h0M90 425.9h0M107.9 422.2h0M124.6 410.2h0M140.5 397.5h0M155.6 378.2h0M170.3 353.5h0M184.5 327.6h0M198.4 294.2h0M212 265.5h0M225.3 221.2h0M238.4 189.7h0M251.3 161.9h0"/><path stroke="#c23ae1" stroke-width="6.2" stroke-linecap="round" d="M69.8 426.5h0M89.3 424.7h0M107.1 423.2h0M123.7 411.2h0M139.5 397.7h0M154.6 382.8h0M169.2 357.7h0M183.4 333.7h0M197.2 301.4h0M210.8 273.7h0M224 237.4h0M237.1 190.8h0M250 168.3h0M262.7 123.3h0"/><path stroke="#c337df" stroke-width="6.2" stroke-linecap="round" d="M69.1 425.9h0M88.6 427.1h0M106.3 422.8h0M122.8 411.1h0M138.5 399.1h0M153.6 382h0M168.1 362.2h0M182.2 334.5h0M196 301.9h0M209.5 277.7h0M222.7 239.2h0M235.7 198h0M248.6 168.6h0M261.2 136.2h0"/><path stroke="#c434de" stroke-width="6.2" stroke-linecap="round" d="M68.5 425.6h0M87.9 425.6h0M105.5 423.4h0M121.9 414.5h0M137.5 399.8h0M152.5 384.5h0M167 364.9h0M181.1 337.4h0M194.8 307.1h0M208.2 278.8h0M221.4 242h0M234.4 204.6h0M247.2 177.6h0M259.8 139.2h0"/><path stroke="#c632dc" stroke-width="6.2" stroke-linecap="round" d="M67.9 427h0M87.1 427.2h0M104.6 423.6h0M121 415.3h0M136.6 401.3h0M151.5 387.7h0M165.9 363.3h0M179.9 343.1h0M193.6 308.2h0M207 282.1h0M220.1 252.3h0M233 206.2h0M245.8 175.6h0M258.3 145.7h0M270.7 89.1h0"/><path stroke="#c72fda" stroke-width="6.2" stroke-linecap="round" d="M67.3 428.1h0M86.4 425.4h0M103.8 424.3h0M120.1 417.1h0M135.6 402.8h0M150.4 390.7h0M164.8 370.1h0M178.7 344.7h0M192.3 311.6h0M205.7 283.3h0M218.8 255.7h0M231.6 209.6h0M244.3 175h0M256.9 162.3h0M269.2 101.7h0"/><path stroke="#c82cd8" stroke-width="6.2" stroke-linecap="round" d="M66.6 426.9h0M85.6 425.1h0M103 423.3h0M119.2 419.2h0M134.6 406.3h0M149.3 391.2h0M163.6 369.3h0M177.5 346.6h0M191.1 318.1h0M204.4 294.4h0M217.4 259.7h0M230.2 221.4h0M242.9 182.2h0M255.4 160.7h0M267.7 106.7h0"/><path stroke="#c829d5" stroke-width="6.2" stroke-linecap="round" d="M66 424.8h0M84.9 425.4h0M102.1 424.1h0M118.2 418h0M133.5 407.5h0M148.3 388.2h0M162.5 375.4h0M176.3 350h0M189.8 323.5h0M203.1 298.1h0M216.1 266.3h0M228.8 224.7h0M241.4 187.7h0M253.9 165.7h0M266.2 125.3h0"/><path stroke="#c827d3" stroke-width="6.2" stroke-linecap="round" d="M65.3 427.2h0M84.1 425.6h0M101.2 424.1h0M117.3 419h0M132.5 405.2h0M147.2 392.2h0M161.3 375.9h0M175.1 352.8h0M188.6 327.3h0M201.7 298.4h0M214.7 270h0M227.4 228.4h0M240 190.7h0M252.4 164.1h0M264.7 119.4h0M276.8 74.6h0"/><path stroke="#c824d0" stroke-width="6.2" stroke-linecap="round" d="M64.7 426.1h0M83.3 425.7h0M100.4 422h0M116.3 419.8h0M131.5 408.9h0M146.1 396.5h0M160.2 377.7h0M173.9 350.4h0M187.3 327h0M200.4 296.9h0M213.3 265.5h0M226 237.2h0M238.5 195.1h0M250.9 176.5h0M263.1 136.1h0M275.2 77.3h0"/><path stroke="#c821cd" stroke-width="6.2" stroke-linecap="round" d="M64 428h0M82.6 424.7h0M99.5 423.8h0M115.4 420.1h0M130.5 408.2h0M145 396.1h0M159 378.2h0M172.7 359.3h0M186 326.8h0M199.1 305.8h0M211.9 274.9h0M224.6 239.2h0M237 205.4h0M249.4 171h0M261.5 152.7h0M273.6 83.8h0"/><path stroke="#c81fcb" stroke-width="6.2" stroke-linecap="round" d="M81.8 424.6h0M98.6 425.4h0M114.4 420.4h0M129.4 410.7h0M143.8 397.9h0M157.8 377.5h0M171.4 364.5h0M184.7 332.4h0M197.7 306.3h0M210.5 278.9h0M223.1 249.4h0M235.5 208.8h0M247.8 178.1h0M260 153.8h0M272 98.5h0"/><path stroke="#c81cc8" stroke-width="6.2" stroke-linecap="round" d="M81 425.3h0M97.7 424.7h0M113.4 423.1h0M128.4 412.1h0M142.7 397.5h0M156.6 385.6h0M170.2 362.1h0M183.4 336.2h0M196.4 311.4h0M209.1 283.8h0M221.7 251.9h0M234 197h0M246.3 183.3h0M258.4 159.3h0M270.4 117.6h0"/><path stroke="#c819c5" stroke-width="6.2" stroke-linecap="round" d="M80.2 427.7h0M96.8 423h0M112.4 421.9h0M127.3 411.1h0M141.6 402.6h0M155.4 383.4h0M168.9 361.7h0M182.1 340.4h0M195 312.3h0M207.7 290.5h0M220.2 259.7h0M232.5 220.4h0M244.7 181.6h0M256.8 171.1h0M268.7 115.9h0"/><path stroke="#c817c3" stroke-width="6.2" stroke-linecap="round" d="M79.4 425.5h0M95.9 425.1h0M111.4 423.2h0M126.2 411.7h0M140.4 396.8h0M154.2 385.6h0M167.6 370.3h0M180.7 348.7h0M193.6 319.3h0M206.2 286.4h0M218.7 255.9h0M231 227.6h0M243.1 194.7h0M255.2 174.6h0M267.1 123.6h0M278.9 80.9h0M68.5 426.6h0"/><path stroke="#c814c0" stroke-width="6.2" stroke-linecap="round" d="M78.6 425.4h0M95 424.1h0M110.4 424.8h0M125.1 412.7h0M139.3 400.6h0M153 391.7h0M166.3 372.5h0M179.4 349.3h0M192.2 321.2h0M204.8 297.2h0M217.2 264.4h0M229.4 227.6h0M241.6 192.8h0M253.5 168.1h0M265.4 135.5h0M277.2 73.9h0"/><path stroke="#c811bd" stroke-width="6.2" stroke-linecap="round" d="M77.7 425.4h0M94.1 425.1h0M109.4 425.1h0M124 415h0M138.1 403.7h0M151.7 388.8h0M165 374.4h0M178 352h0M190.8 322h0M203.3 303.1h0M215.7 271.6h0M227.9 230h0M240 207.6h0M251.9 179.5h0M263.7 147.3h0M275.5 93.6h0M67.1 426.6h0"/><path stroke="#c80fbb" stroke-width="6.2" stroke-linecap="round" d="M76.9 426.5h0M93.1 424.4h0M108.4 423.7h0M122.9 418.1h0M136.9 405.4h0M150.5 394.9h0M163.7 370.5h0M176.6 356.1h0M189.3 327.4h0M201.8 302.4h0M214.2 277.5h0M226.3 241.4h0M238.3 213.2h0M250.2 178.3h0M262 147.9h0M273.7 113.8h0"/><path stroke="#c80cb8" stroke-width="6.2" stroke-linecap="round" d="M76.1 425.4h0M92.2 425.5h0M107.3 424.1h0M121.8 419.4h0M135.7 405.4h0M149.2 393.6h0M162.4 375.8h0M175.3 353.8h0M187.9 330.9h0M200.3 307.2h0M212.6 279.6h0M224.7 251.5h0M236.7 215.6h0M248.6 183.3h0M260.3 156.9h0M272 116.3h0M283.6 67.3h0"/><path stroke="#c80cb4" stroke-width="6.2" stroke-linecap="round" d="M75.2 428.1h0M91.2 427.1h0M106.3 424.4h0M120.7 418.7h0M134.5 407.3h0M147.9 395.6h0M161 383h0M173.9 359.5h0M186.4 339.3h0M198.8 307.4h0M211.1 283.5h0M223.1 257.3h0M235.1 202.2h0M246.9 182.1h0M258.6 164.6h0M270.2 134.5h0M281.8 71.1h0"/><path stroke="#c70cb1" stroke-width="6.2" stroke-linecap="round" d="M74.4 425.6h0M90.3 424.5h0M105.2 423.5h0M119.5 418.5h0M133.3 410.8h0M146.6 395.6h0M159.7 382.6h0M172.4 361.7h0M185 341.3h0M197.3 313.9h0M209.5 286.1h0M221.5 263.8h0M233.4 224.9h0M245.2 193.6h0M256.9 176.4h0M268.4 139.7h0M279.9 92.5h0"/><path stroke="#c70dad" stroke-width="6.2" stroke-linecap="round" d="M73.5 426.1h0M89.3 426h0M104.2 424.8h0M118.4 418.8h0M132 412.1h0M145.3 397.5h0M158.3 383.8h0M171 364.1h0M183.5 343.1h0M195.8 317.4h0M207.9 294.5h0M219.9 262.2h0M231.7 229.4h0M243.5 196.8h0M255.1 180.5h0M266.7 153.8h0M278.1 100h0"/><path stroke="#c60daa" stroke-width="6.2" stroke-linecap="round" d="M72.6 426.5h0M88.3 426.1h0M103.1 425.9h0M117.2 420.2h0M130.8 410.8h0M144 402.8h0M156.9 384.9h0M169.6 368.5h0M182 347h0M194.2 321.7h0M206.3 301.1h0M218.2 263.7h0M230 237.5h0M241.7 199.8h0M253.3 177.9h0M264.8 153.6h0M276.3 108.5h0"/><path stroke="#c60da6" stroke-width="6.2" stroke-linecap="round" d="M71.7 427.6h0M87.3 425.9h0M102 424.6h0M116 423.4h0M129.5 413.5h0M142.7 401.4h0M155.5 386.3h0M168.1 370.3h0M180.5 350.3h0M192.7 327.5h0M204.7 301.7h0M216.6 271.6h0M228.3 243.9h0M240 207.5h0M251.5 184.7h0M263 159.5h0M274.4 118.9h0M285.7 74.4h0"/><path stroke="#c60da2" stroke-width="6.2" stroke-linecap="round" d="M70.8 427h0M86.3 426.4h0M100.9 424.9h0M114.8 423.3h0M128.3 412.6h0M141.3 402.2h0M154.1 390.7h0M166.6 374.9h0M178.9 351.7h0M191.1 327.6h0M203 302.5h0M214.9 275.7h0M226.6 245.2h0M238.2 216.7h0M249.7 187.2h0M261.2 172.6h0M272.5 119.9h0M283.8 76.2h0"/><path stroke="#c50d9f" stroke-width="6.2" stroke-linecap="round" d="M69.9 427.4h0M85.3 425.2h0M99.7 425.4h0M113.6 424.2h0M127 416.6h0M140 405.2h0M152.7 392.3h0M165.1 373h0M177.4 355.2h0M189.5 331.1h0M201.4 308.1h0M213.2 284.7h0M224.9 260.2h0M236.4 216.6h0M247.9 192.7h0M259.3 169.8h0M270.6 139.6h0M281.9 81.1h0"/><path stroke="#c50e9b" stroke-width="6.2" stroke-linecap="round" d="M84.2 424.4h0M98.6 423.2h0M112.4 422.4h0M125.7 417.8h0M138.6 405h0M151.2 393.5h0M163.6 378h0M175.8 360.4h0M187.9 336.7h0M199.7 311.2h0M211.5 289.2h0M223.1 262.1h0M234.6 232.6h0M246 194.5h0M257.4 174.7h0M268.7 152.1h0M279.9 84.3h0"/><path stroke="#c40e98" stroke-width="6.2" stroke-linecap="round" d="M83.2 425.1h0M97.5 424.6h0M111.1 425.1h0M124.3 416.9h0M137.2 407.5h0M149.8 397.8h0M162.1 378.9h0M174.2 363.5h0M186.2 339.7h0M198 313.6h0M209.7 290.6h0M221.3 258.7h0M232.8 231.6h0M244.2 201.6h0M255.5 178.4h0M266.7 162.6h0M277.9 114.8h0M289 42.7h0"/><path stroke="#c40e94" stroke-width="6.2" stroke-linecap="round" d="M82.1 426.2h0M96.3 424.4h0M109.9 424.5h0M123 418.3h0M135.8 409h0M148.3 397.7h0M160.6 382.1h0M172.6 369.8h0M184.6 344.8h0M196.3 315h0M208 298.8h0M219.5 274.6h0M230.9 246h0M242.3 204.9h0M253.6 181h0M264.8 165.6h0M275.9 125.3h0M287 74.9h0"/><path stroke="#c30e8f" stroke-width="6.2" stroke-linecap="round" d="M81 425.8h0M95.1 425.7h0M108.6 424h0M121.6 416.6h0M134.4 411.7h0M146.8 399.9h0M159 385.5h0M171 367.6h0M182.9 347.4h0M194.6 322.1h0M206.2 306.1h0M217.7 273.1h0M229.1 248.4h0M240.4 215.5h0M251.6 189.5h0M262.8 168.9h0M273.9 131.3h0M285 73.2h0"/><path stroke="#c30f8b" stroke-width="6.2" stroke-linecap="round" d="M79.9 425.2h0M93.9 425.5h0M107.3 423.7h0M120.3 422.3h0M132.9 411h0M145.3 401.1h0M157.4 384.8h0M169.4 369.6h0M181.2 355.1h0M192.8 323.9h0M204.4 305.1h0M215.8 272h0M227.2 262.4h0M238.5 224.8h0M249.7 199.5h0M260.8 167.2h0M271.9 143.5h0M282.9 76.1h0"/><path stroke="#c20f86" stroke-width="6.2" stroke-linecap="round" d="M78.8 423.5h0M92.7 425.1h0M106 425.7h0M118.9 421.2h0M131.4 413.9h0M143.7 399.9h0M155.8 387.5h0M167.7 374.7h0M179.5 356h0M191.1 329.2h0M202.6 309.3h0M214 289.3h0M225.3 261.5h0M236.5 231.6h0M247.7 196.2h0M258.8 178.8h0M269.8 154h0M280.8 101.2h0M291.7 49.9h0M72.6 426.6h0"/><path stroke="#c10f81" stroke-width="6.2" stroke-linecap="round" d="M77.7 426h0M91.4 425.4h0M104.7 424.9h0M117.5 424.1h0M129.9 413.5h0M142.2 403.3h0M154.2 393h0M166 373.8h0M177.7 357.6h0M189.3 334.9h0M200.7 316.8h0M212.1 294.3h0M223.3 266.2h0M234.5 234.5h0M245.6 204.7h0M256.7 182.7h0M267.7 162h0M278.7 123.4h0M289.6 79.2h0"/><path stroke="#c0107c" stroke-width="6.2" stroke-linecap="round" d="M76.5 425h0M90.2 425.5h0M103.3 423.4h0M116 422h0M128.4 415.6h0M140.6 406.5h0M152.5 396.5h0M164.3 381.8h0M175.9 362.5h0M187.5 340h0M198.9 318.4h0M210.2 296.7h0M221.4 269.5h0M232.5 243.4h0M243.6 214.1h0M254.6 184.4h0M265.6 165.4h0M276.5 128.7h0M287.4 78h0"/><path stroke="#c01078" stroke-width="6.2" stroke-linecap="round" d="M88.9 424.1h0M101.9 424h0M114.6 422.5h0M126.9 417h0M139 407.6h0M150.9 397.5h0M162.6 382.4h0M174.2 367.9h0M185.6 346h0M197 323.1h0M208.2 302h0M219.4 266.9h0M230.5 252.1h0M241.5 215.9h0M252.5 192.1h0M263.5 173.4h0M274.4 138.6h0M285.2 93h0"/><path stroke="#bf1173" stroke-width="6.2" stroke-linecap="round" d="M87.6 426h0M100.5 425.3h0M113.1 422.6h0M125.3 414.2h0M137.4 408.8h0M149.2 397h0M160.8 382.7h0M172.3 371.9h0M183.7 351h0M195 328.2h0M206.3 306.6h0M217.4 281.1h0M228.5 258.8h0M239.5 223.9h0M250.4 196.1h0M261.3 176.9h0M272.2 155.4h0M283 111.3h0M293.7 69.8h0"/><path stroke="#be116e" stroke-width="6.2" stroke-linecap="round" d="M86.3 425.3h0M99.1 425h0M111.6 422.7h0M123.8 419h0M135.7 408.3h0M147.4 402.9h0M159 389.8h0M170.5 372.4h0M181.9 355.8h0M193.1 331.4h0M204.3 306.8h0M215.4 282.5h0M226.4 265h0M237.3 231h0M248.2 201.2h0M259.1 179.1h0M269.9 162.4h0M280.7 118.9h0M291.5 62.1h0"/><path stroke="#bd1169" stroke-width="6.2" stroke-linecap="round" d="M85 425.6h0M97.7 425.5h0M110.1 424h0M122.2 420.6h0M134 409.5h0M145.7 393.2h0M157.2 392.7h0M168.6 374.3h0M179.9 358.2h0M191.1 336.2h0M202.2 313.5h0M213.3 291.1h0M224.3 274.8h0M235.2 242h0M246.1 208.6h0M256.9 171.4h0M267.7 168.8h0M278.4 136h0M289.1 74.2h0"/><path stroke="#bd1265" stroke-width="6.2" stroke-linecap="round" d="M83.6 427.3h0M96.2 426.9h0M108.5 425.6h0M120.5 422.1h0M132.3 414.1h0M143.9 404h0M155.4 391.7h0M166.7 377.7h0M178 362h0M189.1 341.7h0M200.2 320.4h0M211.2 294.9h0M222.1 274.7h0M233 253.5h0M243.9 215.2h0M254.6 190.2h0M265.4 171.1h0M276.1 141.3h0M286.8 102h0"/><path stroke="#bc1260" stroke-width="6.2" stroke-linecap="round" d="M82.2 424.4h0M94.7 424.8h0M106.9 424.8h0M118.9 423.7h0M130.6 415.7h0M142.1 408.1h0M153.5 396.4h0M164.8 385.7h0M176 363.2h0M187.1 346.7h0M198.1 319.9h0M209.1 302.9h0M220 278.5h0M230.8 257.5h0M241.6 224.6h0M252.4 203.2h0M263.1 176.2h0M273.8 159.3h0M284.4 113h0M295.1 43.6h0"/><path stroke="#bb125d" stroke-width="6.2" stroke-linecap="round" d="M93.2 425.1h0M105.3 426.3h0M117.2 422.8h0M128.8 418.8h0M140.3 400h0M151.6 397h0M162.9 381.2h0M174 370.6h0M185 350.2h0M196 327.9h0M206.9 303.3h0M217.8 288.3h0M228.6 263.1h0M239.3 231.6h0M250.1 206.6h0M260.7 178.5h0M271.4 164.4h0M282 128.4h0M292.6 85.5h0"/><path stroke="#bb1259" stroke-width="6.2" stroke-linecap="round" d="M91.7 425.6h0M103.7 426.7h0M115.4 424.8h0M127 415.5h0M138.4 408.2h0M149.7 399.9h0M160.9 386.4h0M171.9 372.1h0M182.9 354.3h0M193.9 335.1h0M204.7 315.1h0M215.5 294.5h0M226.3 266.5h0M237 239.2h0M247.7 212.9h0M258.4 194h0M269 169h0M279.6 132.3h0M290.2 85.5h0"/><path stroke="#ba1256" stroke-width="6.2" stroke-linecap="round" d="M90.1 425.8h0M102 425.9h0M113.7 422.9h0M125.2 418.4h0M136.5 413.2h0M147.7 402.3h0M158.8 390.5h0M169.9 373.7h0M180.8 362.7h0M191.7 339.6h0M202.5 319h0M213.3 298.2h0M224 278.7h0M234.7 249.3h0M245.3 222.1h0M256 195.7h0M266.6 164.9h0M277.1 149.5h0M287.7 113.4h0M298.2 38h0"/><path stroke="#b91253" stroke-width="6.2" stroke-linecap="round" d="M100.3 424.9h0M111.9 422.8h0M123.3 421.9h0M134.6 413.3h0M145.7 404.4h0M156.8 394.3h0M167.7 378.7h0M178.6 360.6h0M189.5 344.3h0M200.3 327.7h0M211 300.6h0M221.7 280.6h0M232.3 256.4h0M242.9 229.1h0M253.5 199.1h0M264.1 171.6h0M274.6 158.8h0M285.1 124.6h0M295.6 75h0"/><path stroke="#b9124f" stroke-width="6.2" stroke-linecap="round" d="M98.6 425.1h0M110.1 425.4h0M121.4 422.7h0M132.6 416.5h0M143.7 407.8h0M154.7 392h0M165.6 387h0M176.4 371.6h0M187.2 345.7h0M198 330h0M208.6 307.1h0M219.3 285.7h0M229.9 262.7h0M240.5 235.9h0M251 206.4h0M261.6 184.6h0M272.1 165.3h0M282.6 132.2h0M293 86.2h0"/><path stroke="#b8124c" stroke-width="6.2" stroke-linecap="round" d="M96.8 425.2h0M108.2 425.4h0M119.5 423h0M130.6 420.2h0M141.6 408.6h0M152.5 398.9h0M163.4 382.9h0M174.2 371.4h0M184.9 353.8h0M195.6 326.9h0M206.3 309h0M216.9 296.8h0M227.5 275.8h0M238 242.5h0M248.5 214.4h0M259 189.4h0M269.5 170.6h0M280 148h0M290.4 117.4h0M300.8 56.9h0"/><path stroke="#b71249" stroke-width="6.2" stroke-linecap="round" d="M106.3 424.2h0M117.5 423.9h0M128.5 420.2h0M139.5 410h0M150.4 400.2h0M161.2 390.7h0M171.9 378h0M182.6 361.4h0M193.2 342.3h0M203.8 320.9h0M214.4 296.5h0M225 278.3h0M235.5 254.7h0M246 225.1h0M256.4 202.3h0M266.9 176.4h0M277.3 163.5h0M287.7 120.4h0M298.1 76.6h0"/><path stroke="#b71245" stroke-width="6.2" stroke-linecap="round" d="M104.3 424.5h0M115.4 425.6h0M126.4 421.2h0M137.3 413.3h0M148.1 405.7h0M158.9 391.5h0M169.6 381.2h0M180.2 363.1h0M190.8 346.6h0M201.4 325.2h0M211.9 307h0M222.4 283.1h0M232.9 264.7h0M243.4 230.9h0M253.8 202.8h0M264.2 181.7h0M274.6 161h0M285 145.4h0M295.4 102h0"/><path stroke="#b61242" stroke-width="6.2" stroke-linecap="round" d="M102.3 424.9h0M113.3 422.9h0M124.3 421.5h0M135.1 414.7h0M145.8 405.2h0M156.5 398.3h0M167.2 383.9h0M177.8 367.8h0M188.3 353.6h0M198.9 330.4h0M209.4 308h0M219.8 292.1h0M230.3 266.4h0M240.7 241.9h0M251.1 203.3h0M261.5 191.8h0M271.9 175.5h0M282.3 151.1h0M292.6 117.1h0M302.9 58h0"/><path stroke="#b5123f" stroke-width="6.2" stroke-linecap="round" d="M111.2 423.7h0M122.1 423.7h0M132.8 417.3h0M143.5 410.9h0M154.2 397h0M164.8 386.4h0M175.3 374.1h0M185.8 353.1h0M196.3 333.8h0M206.8 316.4h0M217.2 298.8h0M227.6 276.4h0M238 255h0M248.4 221.4h0M258.8 195.1h0M269.1 175.7h0M279.5 167.8h0M289.8 126.4h0M300.1 75.5h0"/><path stroke="#b5123b" stroke-width="6.2" stroke-linecap="round" d="M109 425.3h0M119.8 422.8h0M130.5 419h0M141.1 409.2h0M151.7 403h0M162.3 391.1h0M172.8 374.9h0M183.2 361.9h0M193.7 338.4h0M204.1 321.2h0M214.5 302.6h0M224.9 286.3h0M235.3 265.7h0M245.6 232.8h0M256 206.5h0M266.3 186.8h0M276.6 159.1h0M286.9 132.6h0M297.2 93.2h0"/><path stroke="#b41238" stroke-width="6.2" stroke-linecap="round" d="M106.8 424.3h0M117.5 422.9h0M128.1 422.1h0M138.7 411.5h0M149.2 403.1h0M159.7 393.4h0M170.2 379.1h0M180.6 362.3h0M191 347.5h0M201.4 326.3h0M211.8 308.7h0M222.1 287.3h0M232.5 265.6h0M242.8 239.9h0M253.1 212.1h0M263.4 197h0M273.7 164.9h0M284 155.3h0M294.3 98h0M304.5 45.7h0"/><path stroke="#b31235" stroke-width="6.2" stroke-linecap="round" d="M115.1 425h0M125.6 421.4h0M136.2 417.6h0M146.7 407.8h0M157.1 398.2h0M167.5 384.7h0M177.9 365.4h0M188.3 353.9h0M198.6 333.6h0M209 308.4h0M219.3 296h0M229.6 276.6h0M239.9 254.5h0M250.2 218.5h0M260.5 198.5h0M270.8 176.9h0M281 157.2h0M291.3 131.2h0M301.5 82.4h0"/><path stroke="#b21233" stroke-width="6.2" stroke-linecap="round" d="M112.6 426.3h0M123.1 423.3h0M133.6 413.5h0M144 410.4h0M154.4 402.1h0M164.8 391.5h0M175.2 373.8h0M185.5 357.7h0M195.8 341.4h0M206.1 320.8h0M216.4 302.2h0M226.7 280.9h0M237 261.9h0M247.2 234.1h0M257.5 206.3h0M267.8 189.5h0M278 158.2h0M288.2 141.9h0M298.5 108.9h0"/><path stroke="#b11230" stroke-width="6.2" stroke-linecap="round" d="M110.1 424.8h0M120.5 423.2h0M130.9 421.6h0M141.3 411.8h0M151.7 402.9h0M162 394h0M172.3 374.7h0M182.6 363.5h0M192.9 344.9h0M203.2 330.1h0M213.5 308.6h0M223.7 286.8h0M234 269.3h0M244.2 243.9h0M254.5 218.4h0M264.7 189.2h0M274.9 176.4h0M285.1 157h0M295.3 113.4h0M305.6 64.1h0"/><path stroke="#b0122e" stroke-width="6.2" stroke-linecap="round" d="M107.4 425.2h0M117.8 423.2h0M128.2 421.5h0M138.5 414.1h0M148.8 408.5h0M159.1 396.3h0M169.4 385.5h0M179.7 368h0M189.9 356.8h0M200.2 327.8h0M210.4 316.2h0M220.7 286.3h0M230.9 276.5h0M241.1 256.9h0M251.3 218.2h0M261.6 196.6h0M271.8 182h0M282 164.1h0M292.2 138.1h0M302.4 86.5h0"/><path stroke="#af122b" stroke-width="6.2" stroke-linecap="round" d="M115 424.3h0M125.3 423.2h0M135.6 417.6h0M145.9 412.7h0M156.2 400.4h0M166.4 389.4h0M176.7 374.6h0M186.9 358.5h0M197.1 337.7h0M207.3 322h0M217.5 303.3h0M227.8 268.7h0M238 267.2h0M248.2 238h0M258.4 207.1h0M268.5 192.7h0M278.7 180.4h0M288.9 147.5h0M299.1 102.6h0M309.3 65.2h0"/><path stroke="#ae1228" stroke-width="6.2" stroke-linecap="round" d="M112.1 424.4h0M122.4 423.6h0M132.6 419.2h0M142.9 414.7h0M153.1 404.7h0M163.3 392.8h0M173.5 381.5h0M183.7 362.1h0M193.9 347.1h0M204.1 328.5h0M214.3 310.3h0M224.5 289.9h0M234.7 271.7h0M244.9 250.8h0M255.1 228.1h0M265.3 199.6h0M275.4 178.7h0M285.6 161.6h0M295.8 138.1h0M306 79.9h0"/><path stroke="#ad1226" stroke-width="6.2" stroke-linecap="round" d="M109.1 425.9h0M119.3 426h0M129.5 419.7h0M139.7 415.6h0M149.9 408h0M160.1 397h0M170.3 384.8h0M180.5 376.6h0M190.7 354.1h0M200.9 334.5h0M211 317.2h0M221.2 297.9h0M231.4 276.3h0M241.5 257.2h0M251.7 221h0M261.9 199.8h0M272.1 178.6h0M282.2 175.8h0M292.4 149.4h0M302.5 87.9h0"/><path stroke="#ac1223" stroke-width="6.2" stroke-linecap="round" d="M105.9 425h0M116.1 424.5h0M126.2 421h0M136.4 419.6h0M146.6 416.3h0M156.8 400.4h0M166.9 391.7h0M177.1 379.5h0M187.3 363.8h0M197.4 345.3h0M207.6 329.8h0M217.8 311.8h0M227.9 273.3h0M238.1 267.7h0M248.3 239.6h0M258.4 225.2h0M268.6 193h0M278.7 180.5h0M288.9 170.7h0M299 130.9h0M309.2 41.5h0"/><path stroke="#ab1221" stroke-width="6.2" stroke-linecap="round" d="M112.6 423.9h0M122.8 425.8h0M132.9 427h0M143.1 419.7h0M153.2 397.6h0M163.4 399h0M173.6 384h0M183.7 369.2h0M193.9 358.2h0M204 329.8h0M214.2 310.8h0M224.3 294h0M234.5 274.3h0M244.6 237.6h0M254.8 237.7h0M264.9 187.4h0M275.1 187.7h0M285.2 164.7h0M295.4 129.3h0M305.5 86.4h0"/><path stroke="#aa121e" stroke-width="6.2" stroke-linecap="round" d="M107.6 425.8h0M117.7 425.6h0M127.9 427.3h0M138 409.6h0M148.2 417.5h0M158.3 403.7h0M168.5 381.5h0M178.6 375.5h0M188.8 362.5h0M198.9 345.9h0M209.1 334.4h0M219.2 310.1h0M229.4 303h0M239.5 279.4h0M249.7 253.1h0M259.8 217.4h0M269.9 208.8h0M280.1 184.5h0M290.2 149.5h0M300.4 117.6h0M310.5 79.8h0"/><path stroke="#88f840" stroke-width="1.85" d="M92.7 414V418.7M88.4 414h8.6M88.4 418.7h8.6"/><path stroke="#88f840" stroke-width="1.85" d="M92.4 414.3V419.3M88.1 414.3h8.6M88.1 419.3h8.6"/><path stroke="#88f840" stroke-width="1.85" d="M92.2 412.9V416.6M87.9 412.9h8.6M87.9 416.6h8.6"/><path stroke="#88f840" stroke-width="1.85" d="M91.9 413.1V417M87.6 413.1h8.6M87.6 417h8.6"/><path stroke="#88f840" stroke-width="1.85" d="M91.7 412.3V416.9M87.4 412.3h8.6M87.4 416.9h8.6"/><path stroke="#88f840" stroke-width="1.85" d="M91.4 413.6V417.9M87.1 413.6h8.6M87.1 417.9h8.6"/><path stroke="#88f840" stroke-width="1.85" d="M91.2 413.5V418.6M86.9 413.5h8.6M86.9 418.6h8.6"/><path stroke="#88f840" stroke-width="1.85" d="M90.9 414V418.5M86.6 414h8.6M86.6 418.5h8.6"/><path stroke="#88f840" stroke-width="1.85" d="M90.7 415.5V419.4M86.4 415.5h8.6M86.4 419.4h8.6"/><path stroke="#88f840" stroke-width="1.85" d="M90.4 414.6V419.3M86.1 414.6h8.6M86.1 419.3h8.6"/><path stroke="#88f840" stroke-width="1.85" d="M90.2 414.7V418.9M85.9 414.7h8.6M85.9 418.9h8.6"/><path stroke="#88f840" stroke-width="1.85" d="M89.9 415.5V420M85.6 415.5h8.6M85.6 420h8.6"/><path stroke="#88f840" stroke-width="1.85" d="M89.6 413.7V418.7M85.3 413.7h8.6M85.3 418.7h8.6"/><path stroke="#88f840" stroke-width="1.85" d="M89.4 414.5V418.8M85.1 414.5h8.6M85.1 418.8h8.6"/><path stroke="#88f840" stroke-width="1.85" d="M89.1 414.4V418.6M84.8 414.4h8.6M84.8 418.6h8.6"/><path stroke="#88f840" stroke-width="1.85" d="M88.9 414.1V419.1M84.6 414.1h8.6M84.6 419.1h8.6"/><path stroke="#88f840" stroke-width="1.85" d="M88.6 413.6V417.3M84.3 413.6h8.6M84.3 417.3h8.6"/><path stroke="#88f840" stroke-width="1.85" d="M88.3 414V418.5M84 414h8.6M84 418.5h8.6"/><path stroke="#88f840" stroke-width="1.85" d="M88.1 412.9V417.7M83.8 412.9h8.6M83.8 417.7h8.6"/><path stroke="#88f840" stroke-width="1.85" d="M87.8 413.9V418.8M83.5 413.9h8.6M83.5 418.8h8.6"/><path stroke="#88f840" stroke-width="1.85" d="M87.5 413V417.5M83.2 413h8.6M83.2 417.5h8.6"/><path stroke="#88f840" stroke-width="1.85" d="M87.3 414.5V419.2M83 414.5h8.6M83 419.2h8.6"/><path stroke="#88f840" stroke-width="1.85" d="M131 361.7V369M126.7 361.7h8.6M126.7 369h8.6M87 415.8V419.7M82.7 415.8h8.6M82.7 419.7h8.6"/><path stroke="#84f745" stroke-width="1.85" d="M130.7 364.1V371.3M126.4 364.1h8.6M126.4 371.3h8.6M86.8 414.5V418.2M82.5 414.5h8.6M82.5 418.2h8.6"/><path stroke="#80f64a" stroke-width="1.85" d="M130.4 362.6V369.8M126.1 362.6h8.6M126.1 369.8h8.6M86.5 414.2V419M82.2 414.2h8.6M82.2 419h8.6"/><path stroke="#7cf64e" stroke-width="1.85" d="M130 367.4V374.5M125.7 367.4h8.6M125.7 374.5h8.6M86.2 413.4V417.1M81.9 413.4h8.6M81.9 417.1h8.6"/><path stroke="#78f553" stroke-width="1.85" d="M129.7 369.2V376.2M125.4 369.2h8.6M125.4 376.2h8.6M86 415.8V419.9M81.7 415.8h8.6M81.7 419.9h8.6"/><path stroke="#74f458" stroke-width="1.85" d="M129.3 368.5V375.4M125 368.5h8.6M125 375.4h8.6M85.7 413.7V417.7M81.4 413.7h8.6M81.4 417.7h8.6"/><path stroke="#70f35d" stroke-width="1.85" d="M129 366.1V372.9M124.7 366.1h8.6M124.7 372.9h8.6M85.4 415V418.9M81.1 415h8.6M81.1 418.9h8.6"/><path stroke="#6cf262" stroke-width="1.85" d="M128.6 370.2V376.9M124.3 370.2h8.6M124.3 376.9h8.6M85.1 417.1V421.2M80.8 417.1h8.6M80.8 421.2h8.6"/><path stroke="#68f266" stroke-width="1.85" d="M128.3 373.7V380.4M124 373.7h8.6M124 380.4h8.6M84.9 414.6V419.3M80.6 414.6h8.6M80.6 419.3h8.6"/><path stroke="#64f16b" stroke-width="1.85" d="M128 373.4V380M123.7 373.4h8.6M123.7 380h8.6M84.6 416.7V420.6M80.3 416.7h8.6M80.3 420.6h8.6"/><path stroke="#60f070" stroke-width="1.85" d="M127.6 372.6V379.1M123.3 372.6h8.6M123.3 379.1h8.6M84.3 413.5V417.1M80 413.5h8.6M80 417.1h8.6"/><path stroke="#5eef74" stroke-width="1.85" d="M127.3 374.8V381.2M123 374.8h8.6M123 381.2h8.6M84.1 414.9V419.1M79.8 414.9h8.6M79.8 419.1h8.6"/><path stroke="#5bef77" stroke-width="1.85" d="M126.9 375V381.4M122.6 375h8.6M122.6 381.4h8.6M83.8 418.8V422M79.5 418.8h8.6M79.5 422h8.6"/><path stroke="#59ee7b" stroke-width="1.85" d="M126.6 374.3V380.5M122.3 374.3h8.6M122.3 380.5h8.6M83.5 416.6V420.5M79.2 416.6h8.6M79.2 420.5h8.6"/><path stroke="#56ee7f" stroke-width="1.85" d="M126.2 376.5V382.7M121.9 376.5h8.6M121.9 382.7h8.6M83.2 415.7V418.8M78.9 415.7h8.6M78.9 418.8h8.6"/><path stroke="#54ed82" stroke-width="1.85" d="M125.8 376.3V382.4M121.5 376.3h8.6M121.5 382.4h8.6M83 415.1V418.9M78.7 415.1h8.6M78.7 418.9h8.6"/><path stroke="#51ec86" stroke-width="1.85" d="M125.5 378.8V384.9M121.2 378.8h8.6M121.2 384.9h8.6M82.7 415.7V419.4M78.4 415.7h8.6M78.4 419.4h8.6"/><path stroke="#4fec8a" stroke-width="1.85" d="M125.1 379.2V385.2M120.8 379.2h8.6M120.8 385.2h8.6M82.4 417.3V420.9M78.1 417.3h8.6M78.1 420.9h8.6"/><path stroke="#4ceb8e" stroke-width="1.85" d="M124.8 379.1V385M120.5 379.1h8.6M120.5 385h8.6M82.1 416.5V420.3M77.8 416.5h8.6M77.8 420.3h8.6"/><path stroke="#4aea91" stroke-width="1.85" d="M124.4 379.5V385.3M120.1 379.5h8.6M120.1 385.3h8.6M81.9 415.8V419M77.6 415.8h8.6M77.6 419h8.6"/><path stroke="#47ea95" stroke-width="1.85" d="M124.1 379.7V385.5M119.8 379.7h8.6M119.8 385.5h8.6M81.6 416.3V419.7M77.3 416.3h8.6M77.3 419.7h8.6"/><path stroke="#45e999" stroke-width="1.85" d="M123.7 381.5V387.1M119.4 381.5h8.6M119.4 387.1h8.6M152.9 326.6V337.8M148.6 326.6h8.6M148.6 337.8h8.6M81.3 419.6V423.5M77 419.6h8.6M77 423.5h8.6"/><path stroke="#42e99c" stroke-width="1.85" d="M123.3 383.2V388.7M119 383.2h8.6M119 388.7h8.6M152.5 333.1V344.1M148.2 333.1h8.6M148.2 344.1h8.6M81 416.2V420M76.7 416.2h8.6M76.7 420h8.6"/><path stroke="#40e8a0" stroke-width="1.85" d="M123 381.2V386.7M118.7 381.2h8.6M118.7 386.7h8.6M152.1 330.5V341.5M147.8 330.5h8.6M147.8 341.5h8.6M80.7 418.3V422M76.4 418.3h8.6M76.4 422h8.6"/><path stroke="#3ee7a2" stroke-width="1.85" d="M122.6 382.7V388.1M118.3 382.7h8.6M118.3 388.1h8.6M151.7 331.2V342M147.4 331.2h8.6M147.4 342h8.6M80.5 417.4V420.6M76.2 417.4h8.6M76.2 420.6h8.6"/><path stroke="#3ce6a4" stroke-width="1.85" d="M122.3 385.3V390.7M118 385.3h8.6M118 390.7h8.6M151.2 326.9V337.5M146.9 326.9h8.6M146.9 337.5h8.6M80.2 417.9V421.4M75.9 417.9h8.6M75.9 421.4h8.6"/><path stroke="#3ae6a6" stroke-width="1.85" d="M121.9 384V389.2M117.6 384h8.6M117.6 389.2h8.6M150.8 333.7V344.3M146.5 333.7h8.6M146.5 344.3h8.6M79.9 416.1V419.9M75.6 416.1h8.6M75.6 419.9h8.6"/><path stroke="#37e5a9" stroke-width="1.85" d="M121.5 387.8V393M117.2 387.8h8.6M117.2 393h8.6M150.4 342.2V352.6M146.1 342.2h8.6M146.1 352.6h8.6M79.6 417.7V421.5M75.3 417.7h8.6M75.3 421.5h8.6"/><path stroke="#35e4ab" stroke-width="1.85" d="M121.2 385.7V390.7M116.9 385.7h8.6M116.9 390.7h8.6M149.9 340V350.3M145.6 340h8.6M145.6 350.3h8.6M79.3 419.1V421.9M75 419.1h8.6M75 421.9h8.6"/><path stroke="#33e3ad" stroke-width="1.85" d="M120.8 386.4V391.4M116.5 386.4h8.6M116.5 391.4h8.6M149.5 345.9V356M145.2 345.9h8.6M145.2 356h8.6M79 416.9V419.5M74.7 416.9h8.6M74.7 419.5h8.6"/><path stroke="#31e2af" stroke-width="1.85" d="M120.4 388.1V393M116.1 388.1h8.6M116.1 393h8.6M149.1 345.9V356M144.8 345.9h8.6M144.8 356h8.6M174.6 272.5V285.6M170.3 272.5h8.6M170.3 285.6h8.6M78.7 419.7V422.2M74.4 419.7h8.6M74.4 422.2h8.6"/><path stroke="#2fe2b1" stroke-width="1.85" d="M120.1 388.9V393.8M115.8 388.9h8.6M115.8 393.8h8.6M148.6 344V353.9M144.3 344h8.6M144.3 353.9h8.6M174.2 274.1V287.1M169.9 274.1h8.6M169.9 287.1h8.6M78.5 419.1V422.6M74.2 419.1h8.6M74.2 422.6h8.6"/><path stroke="#2de1b3" stroke-width="1.85" d="M119.7 390.2V395.1M115.4 390.2h8.6M115.4 395.1h8.6M148.2 345.9V355.7M143.9 345.9h8.6M143.9 355.7h8.6M173.7 281.2V294.1M169.4 281.2h8.6M169.4 294.1h8.6M197.1 185.2V200.6M192.8 185.2h8.6M192.8 200.6h8.6M78.2 419.3V422.2M73.9 419.3h8.6M73.9 422.2h8.6"/><path stroke="#2be0b5" stroke-width="1.85" d="M119.3 391.5V396.3M115 391.5h8.6M115 396.3h8.6M147.8 345.5V355.2M143.5 345.5h8.6M143.5 355.2h8.6M173.2 278.2V291M168.9 278.2h8.6M168.9 291h8.6M196.5 184.5V199.8M192.2 184.5h8.6M192.2 199.8h8.6M218.4 64.5V83.5M214.1 64.5h8.6M214.1 83.5h8.6M77.9 419.8V423.6M73.6 419.8h8.6M73.6 423.6h8.6"/><path stroke="#29dfb7" stroke-width="1.85" d="M118.9 392.6V397.4M114.6 392.6h8.6M114.6 397.4h8.6M147.3 349.9V359.5M143 349.9h8.6M143 359.5h8.6M172.7 288.6V301.3M168.4 288.6h8.6M168.4 301.3h8.6M196 180.5V195.7M191.7 180.5h8.6M191.7 195.7h8.6M217.8 81.9V100.8M213.5 81.9h8.6M213.5 100.8h8.6M77.6 417.1V420.8M73.3 417.1h8.6M73.3 420.8h8.6"/><path stroke="#26deba" stroke-width="1.85" d="M118.6 392.9V397.7M114.3 392.9h8.6M114.3 397.7h8.6M146.9 351.2V360.7M142.6 351.2h8.6M142.6 360.7h8.6M172.2 289.4V302.1M167.9 289.4h8.6M167.9 302.1h8.6M195.4 193.4V208.5M191.1 193.4h8.6M191.1 208.5h8.6M217.2 81.4V99.9M212.9 81.4h8.6M212.9 99.9h8.6M77.3 419.8V423.2M73 419.8h8.6M73 423.2h8.6"/><path stroke="#24debc" stroke-width="1.85" d="M118.2 391.1V395.9M113.9 391.1h8.6M113.9 395.9h8.6M146.4 356.6V365.9M142.1 356.6h8.6M142.1 365.9h8.6M171.7 286V298.6M167.4 286h8.6M167.4 298.6h8.6M194.9 191.9V206.8M190.6 191.9h8.6M190.6 206.8h8.6M216.6 100.7V118.9M212.3 100.7h8.6M212.3 118.9h8.6M77 419.7V422.4M72.7 419.7h8.6M72.7 422.4h8.6"/><path stroke="#22ddbe" stroke-width="1.85" d="M117.8 390.7V395.4M113.5 390.7h8.6M113.5 395.4h8.6M146 352V361.3M141.7 352h8.6M141.7 361.3h8.6M171.2 292.3V304.8M166.9 292.3h8.6M166.9 304.8h8.6M194.3 201.6V216.4M190 201.6h8.6M190 216.4h8.6M216 113.1V131M211.7 113.1h8.6M211.7 131h8.6M76.7 417.5V420.1M72.4 417.5h8.6M72.4 420.1h8.6"/><path stroke="#20dcc0" stroke-width="1.85" d="M117.4 391.4V396.1M113.1 391.4h8.6M113.1 396.1h8.6M145.5 354.7V363.8M141.2 354.7h8.6M141.2 363.8h8.6M170.7 293.1V305.4M166.4 293.1h8.6M166.4 305.4h8.6M193.8 208.7V223.3M189.5 208.7h8.6M189.5 223.3h8.6M215.4 113.4V131M211.1 113.4h8.6M211.1 131h8.6M76.4 416.8V419.5M72.1 416.8h8.6M72.1 419.5h8.6"/><path stroke="#1fdbc1" stroke-width="1.85" d="M117.1 394.4V399.1M112.8 394.4h8.6M112.8 399.1h8.6M145.1 353.3V362.4M140.8 353.3h8.6M140.8 362.4h8.6M170.2 300.6V312.8M165.9 300.6h8.6M165.9 312.8h8.6M193.2 212.8V227.3M188.9 212.8h8.6M188.9 227.3h8.6M214.8 121.3V138.5M210.5 121.3h8.6M210.5 138.5h8.6M76.1 418.8V422.4M71.8 418.8h8.6M71.8 422.4h8.6"/><path stroke="#1edac2" stroke-width="1.85" d="M116.7 394.3V398.9M112.4 394.3h8.6M112.4 398.9h8.6M144.7 358.8V367.8M140.4 358.8h8.6M140.4 367.8h8.6M169.6 298.4V310.6M165.3 298.4h8.6M165.3 310.6h8.6M192.6 213V227.4M188.3 213h8.6M188.3 227.4h8.6M214.2 136.9V153.7M209.9 136.9h8.6M209.9 153.7h8.6M75.8 419.6V422M71.5 419.6h8.6M71.5 422h8.6"/><path stroke="#1dd9c3" stroke-width="1.85" d="M116.3 394.2V398.8M112 394.2h8.6M112 398.8h8.6M144.2 358.4V367.3M139.9 358.4h8.6M139.9 367.3h8.6M169.1 300.6V312.7M164.8 300.6h8.6M164.8 312.7h8.6M192.1 219.7V234M187.8 219.7h8.6M187.8 234h8.6M213.5 138.2V154.5M209.2 138.2h8.6M209.2 154.5h8.6M75.5 421.8V425M71.2 421.8h8.6M71.2 425h8.6"/><path stroke="#1bd7c5" stroke-width="1.85" d="M115.9 394.9V399.4M111.6 394.9h8.6M111.6 399.4h8.6M143.8 358.7V367.5M139.5 358.7h8.6M139.5 367.5h8.6M168.6 299.9V311.9M164.3 299.9h8.6M164.3 311.9h8.6M191.5 219.6V233.7M187.2 219.6h8.6M187.2 233.7h8.6M212.9 153.8V169.7M208.6 153.8h8.6M208.6 169.7h8.6M75.2 420.4V423.3M70.9 420.4h8.6M70.9 423.3h8.6"/><path stroke="#1ad6c6" stroke-width="1.85" d="M115.5 396.7V401.2M111.2 396.7h8.6M111.2 401.2h8.6M143.3 360.8V369.5M139 360.8h8.6M139 369.5h8.6M168.1 306.3V318.2M163.8 306.3h8.6M163.8 318.2h8.6M190.9 232.3V246.2M186.6 232.3h8.6M186.6 246.2h8.6M212.3 135.7V151.5M208 135.7h8.6M208 151.5h8.6M74.9 418.9V421.3M70.6 418.9h8.6M70.6 421.3h8.6"/><path stroke="#19d5c7" stroke-width="1.85" d="M115.2 397.6V402.1M110.9 397.6h8.6M110.9 402.1h8.6M142.8 363.5V372M138.5 363.5h8.6M138.5 372h8.6M167.6 301.3V313.2M163.3 301.3h8.6M163.3 313.2h8.6M190.4 229.5V243.3M186.1 229.5h8.6M186.1 243.3h8.6M211.7 147.9V163.6M207.4 147.9h8.6M207.4 163.6h8.6M74.6 420.8V423.3M70.3 420.8h8.6M70.3 423.3h8.6"/><path stroke="#18d4c8" stroke-width="1.85" d="M114.8 399V403.4M110.5 399h8.6M110.5 403.4h8.6M142.4 362.5V371M138.1 362.5h8.6M138.1 371h8.6M167.1 311.1V322.8M162.8 311.1h8.6M162.8 322.8h8.6M189.8 236V249.6M185.5 236h8.6M185.5 249.6h8.6M211.1 166V181.6M206.8 166h8.6M206.8 181.6h8.6M74.3 419.4V421.9M70 419.4h8.6M70 421.9h8.6"/><path stroke="#17d3c9" stroke-width="1.85" d="M114.4 398V402.5M110.1 398h8.6M110.1 402.5h8.6M141.9 364.4V372.8M137.6 364.4h8.6M137.6 372.8h8.6M166.6 309.7V321.4M162.3 309.7h8.6M162.3 321.4h8.6M189.2 247.3V260.7M184.9 247.3h8.6M184.9 260.7h8.6M210.5 160.3V175.8M206.2 160.3h8.6M206.2 175.8h8.6M74 419.6V422.4M69.7 419.6h8.6M69.7 422.4h8.6"/><path stroke="#16d2ca" stroke-width="1.85" d="M114 398.4V402.8M109.7 398.4h8.6M109.7 402.8h8.6M141.5 357.8V366.1M137.2 357.8h8.6M137.2 366.1h8.6M166.1 312V323.6M161.8 312h8.6M161.8 323.6h8.6M188.7 242.8V256.1M184.4 242.8h8.6M184.4 256.1h8.6M209.9 160.9V176.3M205.6 160.9h8.6M205.6 176.3h8.6M229.9 58.8V78.4M225.6 58.8h8.6M225.6 78.4h8.6M73.7 420.9V424.3M69.4 420.9h8.6M69.4 424.3h8.6"/><path stroke="#15d1cb" stroke-width="1.85" d="M113.6 399.4V403.8M109.3 399.4h8.6M109.3 403.8h8.6M141 367.7V375.9M136.7 367.7h8.6M136.7 375.9h8.6M165.5 317.1V328.6M161.2 317.1h8.6M161.2 328.6h8.6M188.1 248.7V261.8M183.8 248.7h8.6M183.8 261.8h8.6M209.2 169.3V184.6M204.9 169.3h8.6M204.9 184.6h8.6M229.3 59.9V79.4M225 59.9h8.6M225 79.4h8.6M73.4 418.9V422.3M69.1 418.9h8.6M69.1 422.3h8.6"/><path stroke="#13cfcd" stroke-width="1.85" d="M113.2 398.2V402.5M108.9 398.2h8.6M108.9 402.5h8.6M140.6 369.5V377.5M136.3 369.5h8.6M136.3 377.5h8.6M165 316.2V327.6M160.7 316.2h8.6M160.7 327.6h8.6M187.5 255.1V268.2M183.2 255.1h8.6M183.2 268.2h8.6M208.6 169.7V184.9M204.3 169.7h8.6M204.3 184.9h8.6M228.6 60.6V79.9M224.3 60.6h8.6M224.3 79.9h8.6M73.1 420.6V423.3M68.8 420.6h8.6M68.8 423.3h8.6"/><path stroke="#12cece" stroke-width="1.85" d="M112.8 401.1V405.4M108.5 401.1h8.6M108.5 405.4h8.6M140.1 369.4V377.4M135.8 369.4h8.6M135.8 377.4h8.6M164.5 318.4V329.8M160.2 318.4h8.6M160.2 329.8h8.6M186.9 258V271M182.6 258h8.6M182.6 271h8.6M208 170.4V185.5M203.7 170.4h8.6M203.7 185.5h8.6M227.9 71.7V90.8M223.6 71.7h8.6M223.6 90.8h8.6M72.8 418.9V422.2M68.5 418.9h8.6M68.5 422.2h8.6"/><path stroke="#11cdcf" stroke-width="1.85" d="M112.4 400.5V404.8M108.1 400.5h8.6M108.1 404.8h8.6M139.6 369V376.9M135.3 369h8.6M135.3 376.9h8.6M164 321.4V332.6M159.7 321.4h8.6M159.7 332.6h8.6M186.4 251.4V264.3M182.1 251.4h8.6M182.1 264.3h8.6M207.4 171.9V186.9M203.1 171.9h8.6M203.1 186.9h8.6M227.3 82.9V101.8M223 82.9h8.6M223 101.8h8.6M72.5 419.1V422.2M68.2 419.1h8.6M68.2 422.2h8.6"/><path stroke="#10ccd0" stroke-width="1.85" d="M112 402.2V406.4M107.7 402.2h8.6M107.7 406.4h8.6M139.2 368.2V376M134.9 368.2h8.6M134.9 376h8.6M163.4 318V329.2M159.1 318h8.6M159.1 329.2h8.6M185.8 263.8V276.7M181.5 263.8h8.6M181.5 276.7h8.6M206.7 179.2V194M202.4 179.2h8.6M202.4 194h8.6M226.6 87.5V106.1M222.3 87.5h8.6M222.3 106.1h8.6M72.2 420.8V423.8M67.9 420.8h8.6M67.9 423.8h8.6"/><path stroke="#12cbd1" stroke-width="1.85" d="M111.6 401.7V405.9M107.3 401.7h8.6M107.3 405.9h8.6M138.7 369.2V376.9M134.4 369.2h8.6M134.4 376.9h8.6M162.9 322.8V334M158.6 322.8h8.6M158.6 334h8.6M185.2 263V275.8M180.9 263h8.6M180.9 275.8h8.6M206.1 186.5V201.2M201.8 186.5h8.6M201.8 201.2h8.6M225.9 100.8V119.1M221.6 100.8h8.6M221.6 119.1h8.6M71.9 420.7V423M67.6 420.7h8.6M67.6 423h8.6"/><path stroke="#15cad2" stroke-width="1.85" d="M111.2 402.3V406.4M106.9 402.3h8.6M106.9 406.4h8.6M138.2 372.8V380.5M133.9 372.8h8.6M133.9 380.5h8.6M162.4 329.1V340.2M158.1 329.1h8.6M158.1 340.2h8.6M184.6 262V274.8M180.3 262h8.6M180.3 274.8h8.6M205.5 182.1V196.8M201.2 182.1h8.6M201.2 196.8h8.6M225.2 98.1V116.1M220.9 98.1h8.6M220.9 116.1h8.6M71.6 418.3V421.7M67.3 418.3h8.6M67.3 421.7h8.6"/><path stroke="#17c9d3" stroke-width="1.85" d="M110.8 401.7V405.9M106.5 401.7h8.6M106.5 405.9h8.6M137.8 375.9V383.5M133.5 375.9h8.6M133.5 383.5h8.6M161.9 327.8V338.8M157.6 327.8h8.6M157.6 338.8h8.6M184 264.4V277.1M179.7 264.4h8.6M179.7 277.1h8.6M204.8 194.3V208.9M200.5 194.3h8.6M200.5 208.9h8.6M224.5 116.9V134.5M220.2 116.9h8.6M220.2 134.5h8.6M71.3 420.6V423.8M67 420.6h8.6M67 423.8h8.6"/><path stroke="#19c8d5" stroke-width="1.85" d="M110.4 403.7V407.8M106.1 403.7h8.6M106.1 407.8h8.6M137.3 378.7V386.1M133 378.7h8.6M133 386.1h8.6M161.3 327.8V338.8M157 327.8h8.6M157 338.8h8.6M183.4 273.6V286.2M179.1 273.6h8.6M179.1 286.2h8.6M204.2 196.2V210.7M199.9 196.2h8.6M199.9 210.7h8.6M223.9 113.6V130.9M219.6 113.6h8.6M219.6 130.9h8.6M71 422.2V424.7M66.7 422.2h8.6M66.7 424.7h8.6"/><path stroke="#1bc7d6" stroke-width="1.85" d="M110 404.3V408.4M105.7 404.3h8.6M105.7 408.4h8.6M136.8 375.6V383M132.5 375.6h8.6M132.5 383h8.6M160.8 332.7V343.6M156.5 332.7h8.6M156.5 343.6h8.6M182.9 275V287.5M178.6 275h8.6M178.6 287.5h8.6M203.5 198.5V212.8M199.2 198.5h8.6M199.2 212.8h8.6M223.2 125.8V142.7M218.9 125.8h8.6M218.9 142.7h8.6M70.7 420.6V423.8M66.4 420.6h8.6M66.4 423.8h8.6"/><path stroke="#1ec6d7" stroke-width="1.85" d="M109.6 405.4V409.5M105.3 405.4h8.6M105.3 409.5h8.6M136.3 375.2V382.5M132 375.2h8.6M132 382.5h8.6M160.2 334.2V345M155.9 334.2h8.6M155.9 345h8.6M182.3 274.4V286.9M178 274.4h8.6M178 286.9h8.6M202.9 206V220.2M198.6 206h8.6M198.6 220.2h8.6M222.5 134.9V151.5M218.2 134.9h8.6M218.2 151.5h8.6M70.3 420.8V422.8M66 420.8h8.6M66 422.8h8.6"/><path stroke="#20c5d8" stroke-width="1.85" d="M109.2 406.1V410.1M104.9 406.1h8.6M104.9 410.1h8.6M135.9 379.7V387M131.6 379.7h8.6M131.6 387h8.6M159.7 335.1V345.8M155.4 335.1h8.6M155.4 345.8h8.6M181.7 278.9V291.3M177.4 278.9h8.6M177.4 291.3h8.6M202.3 204V218.1M198 204h8.6M198 218.1h8.6M221.8 143.6V159.8M217.5 143.6h8.6M217.5 159.8h8.6M70 420.8V422.8M65.7 420.8h8.6M65.7 422.8h8.6"/><path stroke="#22c4d9" stroke-width="1.85" d="M108.8 406.1V410.1M104.5 406.1h8.6M104.5 410.1h8.6M135.4 378V385.1M131.1 378h8.6M131.1 385.1h8.6M159.2 337.1V347.8M154.9 337.1h8.6M154.9 347.8h8.6M181.1 282V294.3M176.8 282h8.6M176.8 294.3h8.6M201.6 204.9V218.8M197.3 204.9h8.6M197.3 218.8h8.6M221.1 150.4V166.3M216.8 150.4h8.6M216.8 166.3h8.6M69.7 420.7V422.9M65.4 420.7h8.6M65.4 422.9h8.6"/><path stroke="#25c3da" stroke-width="1.85" d="M108.4 406.8V410.8M104.1 406.8h8.6M104.1 410.8h8.6M134.9 382.4V389.5M130.6 382.4h8.6M130.6 389.5h8.6M158.6 338.6V349.2M154.3 338.6h8.6M154.3 349.2h8.6M180.5 286.4V298.6M176.2 286.4h8.6M176.2 298.6h8.6M201 212.6V226.4M196.7 212.6h8.6M196.7 226.4h8.6M220.4 153.3V169M216.1 153.3h8.6M216.1 169h8.6M69.4 421.2V424M65.1 421.2h8.6M65.1 424h8.6"/><path stroke="#27c2db" stroke-width="1.85" d="M108 406.6V410.5M103.7 406.6h8.6M103.7 410.5h8.6M134.4 378.4V385.4M130.1 378.4h8.6M130.1 385.4h8.6M158.1 343.1V353.6M153.8 343.1h8.6M153.8 353.6h8.6M179.9 288.3V300.5M175.6 288.3h8.6M175.6 300.5h8.6M200.3 214.1V227.8M196 214.1h8.6M196 227.8h8.6M219.7 156.6V172.3M215.4 156.6h8.6M215.4 172.3h8.6M69.1 421.2V424M64.8 421.2h8.6M64.8 424h8.6"/><path stroke="#29c2dd" stroke-width="1.85" d="M107.6 407.5V411.4M103.3 407.5h8.6M103.3 411.4h8.6M133.9 380.8V387.7M129.6 380.8h8.6M129.6 387.7h8.6M157.5 344.6V355.1M153.2 344.6h8.6M153.2 355.1h8.6M179.3 294.7V306.9M175 294.7h8.6M175 306.9h8.6M199.7 219.4V233M195.4 219.4h8.6M195.4 233h8.6M219 165.9V181.5M214.7 165.9h8.6M214.7 181.5h8.6M68.8 421.9V424.5M64.5 421.9h8.6M64.5 424.5h8.6"/><path stroke="#2bc1de" stroke-width="1.85" d="M107.2 408.6V412.5M102.9 408.6h8.6M102.9 412.5h8.6M133.5 382.4V389.2M129.2 382.4h8.6M129.2 389.2h8.6M157 345.2V355.5M152.7 345.2h8.6M152.7 355.5h8.6M178.7 290.4V302.5M174.4 290.4h8.6M174.4 302.5h8.6M199 221.3V234.7M194.7 221.3h8.6M194.7 234.7h8.6M218.3 160.5V176M214 160.5h8.6M214 176h8.6M68.4 419.9V422.2M64.1 419.9h8.6M64.1 422.2h8.6"/><path stroke="#2ec0df" stroke-width="1.85" d="M106.8 410.6V414.5M102.5 410.6h8.6M102.5 414.5h8.6M133 383.5V390.2M128.7 383.5h8.6M128.7 390.2h8.6M156.4 347.7V358M152.1 347.7h8.6M152.1 358h8.6M178.1 293.7V305.7M173.8 293.7h8.6M173.8 305.7h8.6M198.3 231.1V244.4M194 231.1h8.6M194 244.4h8.6M217.6 148.5V163.9M213.3 148.5h8.6M213.3 163.9h8.6M68.1 419.3V421.9M63.8 419.3h8.6M63.8 421.9h8.6"/><path stroke="#30bfe0" stroke-width="1.85" d="M106.4 410V413.8M102.1 410h8.6M102.1 413.8h8.6M132.5 383.5V390.2M128.2 383.5h8.6M128.2 390.2h8.6M155.9 348.9V359.2M151.6 348.9h8.6M151.6 359.2h8.6M177.4 297.8V309.8M173.1 297.8h8.6M173.1 309.8h8.6M197.7 233.2V246.4M193.4 233.2h8.6M193.4 246.4h8.6M216.9 166.5V181.7M212.6 166.5h8.6M212.6 181.7h8.6M67.8 421.6V423.6M63.5 421.6h8.6M63.5 423.6h8.6"/><path stroke="#32bee1" stroke-width="1.85" d="M106 409.4V413.3M101.7 409.4h8.6M101.7 413.3h8.6M132 384.4V391M127.7 384.4h8.6M127.7 391h8.6M155.3 349.1V359.3M151 349.1h8.6M151 359.3h8.6M176.8 298.4V310.3M172.5 298.4h8.6M172.5 310.3h8.6M197 244.1V257.1M192.7 244.1h8.6M192.7 257.1h8.6M216.2 170.1V185.2M211.9 170.1h8.6M211.9 185.2h8.6M234.5 81.7V100.4M230.2 81.7h8.6M230.2 100.4h8.6M67.5 421.3V424.4M63.2 421.3h8.6M63.2 424.4h8.6"/><path stroke="#35bde2" stroke-width="1.85" d="M105.5 411.2V415M101.2 411.2h8.6M101.2 415h8.6M131.5 385V391.4M127.2 385h8.6M127.2 391.4h8.6M154.8 350.3V360.4M150.5 350.3h8.6M150.5 360.4h8.6M176.2 300.6V312.4M171.9 300.6h8.6M171.9 312.4h8.6M196.4 239.4V252.3M192.1 239.4h8.6M192.1 252.3h8.6M215.5 175.8V190.8M211.2 175.8h8.6M211.2 190.8h8.6M233.8 89.8V108.1M229.5 89.8h8.6M229.5 108.1h8.6M67.1 419.9V422.4M62.8 419.9h8.6M62.8 422.4h8.6"/><path stroke="#37bce3" stroke-width="1.85" d="M105.1 411.8V415.7M100.8 411.8h8.6M100.8 415.7h8.6M131 386.1V392.5M126.7 386.1h8.6M126.7 392.5h8.6M154.2 350.3V360.4M149.9 350.3h8.6M149.9 360.4h8.6M175.6 304.9V316.7M171.3 304.9h8.6M171.3 316.7h8.6M195.7 252.4V265.1M191.4 252.4h8.6M191.4 265.1h8.6M214.8 169.1V184M210.5 169.1h8.6M210.5 184h8.6M233 97.3V115.3M228.7 97.3h8.6M228.7 115.3h8.6M66.8 421.1V423.5M62.5 421.1h8.6M62.5 423.5h8.6"/><path stroke="#39bbe5" stroke-width="1.85" d="M104.7 411.3V415.1M100.4 411.3h8.6M100.4 415.1h8.6M130.5 388.9V395.2M126.2 388.9h8.6M126.2 395.2h8.6M153.6 353.6V363.6M149.3 353.6h8.6M149.3 363.6h8.6M175 304.7V316.4M170.7 304.7h8.6M170.7 316.4h8.6M195 255.5V268.1M190.7 255.5h8.6M190.7 268.1h8.6M214 185.3V200.1M209.7 185.3h8.6M209.7 200.1h8.6M232.2 107V124.7M227.9 107h8.6M227.9 124.7h8.6M66.5 424.9V426.8M62.2 424.9h8.6M62.2 426.8h8.6"/><path stroke="#3bbae6" stroke-width="1.85" d="M104.3 413.5V417.4M100 413.5h8.6M100 417.4h8.6M130 387.9V394M125.7 387.9h8.6M125.7 394h8.6M153.1 356.9V366.8M148.8 356.9h8.6M148.8 366.8h8.6M174.4 307.9V319.5M170.1 307.9h8.6M170.1 319.5h8.6M194.3 259.8V272.3M190 259.8h8.6M190 272.3h8.6M213.3 183.7V198.4M209 183.7h8.6M209 198.4h8.6M231.5 108.7V126.1M227.2 108.7h8.6M227.2 126.1h8.6M66.2 423.5V426.3M61.9 423.5h8.6M61.9 426.3h8.6"/><path stroke="#3eb9e7" stroke-width="1.85" d="M103.9 413.7V417.5M99.6 413.7h8.6M99.6 417.5h8.6M129.5 387.7V393.8M125.2 387.7h8.6M125.2 393.8h8.6M152.5 355.7V365.5M148.2 355.7h8.6M148.2 365.5h8.6M173.7 308.6V320.1M169.4 308.6h8.6M169.4 320.1h8.6M193.7 259.3V271.7M189.4 259.3h8.6M189.4 271.7h8.6M212.6 190V204.5M208.3 190h8.6M208.3 204.5h8.6M230.7 122.9V139.9M226.4 122.9h8.6M226.4 139.9h8.6M65.8 422.6V425.8M61.5 422.6h8.6M61.5 425.8h8.6"/><path stroke="#40b8e8" stroke-width="1.85" d="M103.4 413.8V417.5M99.1 413.8h8.6M99.1 417.5h8.6M129 390.8V396.7M124.7 390.8h8.6M124.7 396.7h8.6M152 358.9V368.6M147.7 358.9h8.6M147.7 368.6h8.6M173.1 313.1V324.6M168.8 313.1h8.6M168.8 324.6h8.6M193 263.7V276.1M188.7 263.7h8.6M188.7 276.1h8.6M211.9 193.7V208.1M207.6 193.7h8.6M207.6 208.1h8.6M229.9 124.8V141.5M225.6 124.8h8.6M225.6 141.5h8.6M65.5 424.7V427.8M61.2 424.7h8.6M61.2 427.8h8.6"/><path stroke="#42b7e9" stroke-width="1.85" d="M103 414.8V418.5M98.7 414.8h8.6M98.7 418.5h8.6M128.5 389.1V394.9M124.2 389.1h8.6M124.2 394.9h8.6M151.4 359.4V369M147.1 359.4h8.6M147.1 369h8.6M172.5 315.1V326.5M168.2 315.1h8.6M168.2 326.5h8.6M192.3 264.7V277.1M188 264.7h8.6M188 277.1h8.6M211.1 192.1V206.4M206.8 192.1h8.6M206.8 206.4h8.6M229.2 133.2V149.6M224.9 133.2h8.6M224.9 149.6h8.6M65.2 423V428M60.9 423h8.6M60.9 428h8.6"/><path stroke="#44b6e9" stroke-width="1.85" d="M102.6 415.3V419.1M98.3 415.3h8.6M98.3 419.1h8.6M128 391V396.7M123.7 391h8.6M123.7 396.7h8.6M150.8 365.7V375.1M146.5 365.7h8.6M146.5 375.1h8.6M171.9 313.3V324.6M167.6 313.3h8.6M167.6 324.6h8.6M191.6 265.1V277.3M187.3 265.1h8.6M187.3 277.3h8.6M210.4 197.6V211.8M206.1 197.6h8.6M206.1 211.8h8.6M228.4 147.9V163.9M224.1 147.9h8.6M224.1 163.9h8.6M64.8 423V427.6M60.5 423h8.6M60.5 427.6h8.6"/><path stroke="#46b5ea" stroke-width="1.85" d="M102.2 415.6V419.4M97.9 415.6h8.6M97.9 419.4h8.6M127.5 391.1V396.8M123.2 391.1h8.6M123.2 396.8h8.6M150.2 362.5V371.8M145.9 362.5h8.6M145.9 371.8h8.6M171.2 316.2V327.4M166.9 316.2h8.6M166.9 327.4h8.6M190.9 266.3V278.5M186.6 266.3h8.6M186.6 278.5h8.6M209.7 198.4V212.3M205.4 198.4h8.6M205.4 212.3h8.6M227.6 153.6V169.3M223.3 153.6h8.6M223.3 169.3h8.6M64.5 422.9V425M60.2 422.9h8.6M60.2 425h8.6"/><path stroke="#49b4ea" stroke-width="1.85" d="M101.7 416.2V419.9M97.4 416.2h8.6M97.4 419.9h8.6M127 394.3V399.8M122.7 394.3h8.6M122.7 399.8h8.6M149.7 363.8V373M145.4 363.8h8.6M145.4 373h8.6M170.6 318.8V329.9M166.3 318.8h8.6M166.3 329.9h8.6M190.3 267.9V280M186 267.9h8.6M186 280h8.6M208.9 200V213.8M204.6 200h8.6M204.6 213.8h8.6M226.8 161.7V177.3M222.5 161.7h8.6M222.5 177.3h8.6M64.1 424.4V427.5M59.8 424.4h8.6M59.8 427.5h8.6"/><path stroke="#4bb3eb" stroke-width="1.85" d="M101.3 415.8V419.5M97 415.8h8.6M97 419.5h8.6M126.5 393.6V399.1M122.2 393.6h8.6M122.2 399.1h8.6M149.1 363.9V373M144.8 363.9h8.6M144.8 373h8.6M170 312V323M165.7 312h8.6M165.7 323h8.6M189.6 274.1V286.2M185.3 274.1h8.6M185.3 286.2h8.6M208.2 201.9V215.5M203.9 201.9h8.6M203.9 215.5h8.6M226 157.3V172.8M221.7 157.3h8.6M221.7 172.8h8.6M63.8 423.5V426.5M59.5 423.5h8.6M59.5 426.5h8.6"/><path stroke="#4db2eb" stroke-width="1.85" d="M100.9 416.9V420.6M96.6 416.9h8.6M96.6 420.6h8.6M126 396.9V402.3M121.7 396.9h8.6M121.7 402.3h8.6M148.5 371.4V380.3M144.2 371.4h8.6M144.2 380.3h8.6M169.3 320.4V331.4M165 320.4h8.6M165 331.4h8.6M188.9 267.9V279.9M184.6 267.9h8.6M184.6 279.9h8.6M207.4 208.7V222.1M203.1 208.7h8.6M203.1 222.1h8.6M225.2 158.8V174.3M220.9 158.8h8.6M220.9 174.3h8.6M63.5 423V428.3M59.2 423h8.6M59.2 428.3h8.6"/><path stroke="#4fb1ec" stroke-width="1.85" d="M100.4 416.8V420.5M96.1 416.8h8.6M96.1 420.5h8.6M125.4 395.7V400.9M121.1 395.7h8.6M121.1 400.9h8.6M147.9 369.9V378.7M143.6 369.9h8.6M143.6 378.7h8.6M168.7 325.7V336.6M164.4 325.7h8.6M164.4 336.6h8.6M188.2 273.1V285.1M183.9 273.1h8.6M183.9 285.1h8.6M206.7 214.2V227.5M202.4 214.2h8.6M202.4 227.5h8.6M224.5 166.4V181.7M220.2 166.4h8.6M220.2 181.7h8.6M63.1 423.2V427.5M58.8 423.2h8.6M58.8 427.5h8.6"/><path stroke="#51afec" stroke-width="1.85" d="M100 417.7V421.3M95.7 417.7h8.6M95.7 421.3h8.6M124.9 396.5V401.7M120.6 396.5h8.6M120.6 401.7h8.6M147.3 365.5V374.3M143 365.5h8.6M143 374.3h8.6M168 330.9V341.8M163.7 330.9h8.6M163.7 341.8h8.6M187.5 277.1V289M183.2 277.1h8.6M183.2 289h8.6M205.9 206.1V219.2M201.6 206.1h8.6M201.6 219.2h8.6M223.7 163.8V179M219.4 163.8h8.6M219.4 179h8.6M240.7 85.3V103.7M236.4 85.3h8.6M236.4 103.7h8.6M62.8 423.9V426.3M58.5 423.9h8.6M58.5 426.3h8.6"/><path stroke="#53aeed" stroke-width="1.85" d="M99.5 419.5V423.2M95.2 419.5h8.6M95.2 423.2h8.6M124.4 397.9V403M120.1 397.9h8.6M120.1 403h8.6M146.7 370.6V379.2M142.4 370.6h8.6M142.4 379.2h8.6M167.4 329.4V340.2M163.1 329.4h8.6M163.1 340.2h8.6M186.8 283.9V295.7M182.5 283.9h8.6M182.5 295.7h8.6M205.2 230.1V243M200.9 230.1h8.6M200.9 243h8.6M222.9 164.5V179.6M218.6 164.5h8.6M218.6 179.6h8.6M239.9 91V109.1M235.6 91h8.6M235.6 109.1h8.6M62.4 424.2V428.5M58.1 424.2h8.6M58.1 428.5h8.6M60 425.2V428M55.7 425.2h8.6M55.7 428h8.6"/><path stroke="#55aded" stroke-width="1.85" d="M99.1 420.1V423.8M94.8 420.1h8.6M94.8 423.8h8.6M123.9 397.6V402.6M119.6 397.6h8.6M119.6 402.6h8.6M146.2 371.8V380.3M141.9 371.8h8.6M141.9 380.3h8.6M166.7 330.7V341.4M162.4 330.7h8.6M162.4 341.4h8.6M186.1 284.9V296.6M181.8 284.9h8.6M181.8 296.6h8.6M204.4 228.8V241.6M200.1 228.8h8.6M200.1 241.6h8.6M222.1 171.3V186.2M217.8 171.3h8.6M217.8 186.2h8.6M239.1 95.3V113.1M234.8 95.3h8.6M234.8 113.1h8.6M62.1 421.8V427.1M57.8 421.8h8.6M57.8 427.1h8.6"/><path stroke="#57acee" stroke-width="1.85" d="M98.6 418.8V422.4M94.3 418.8h8.6M94.3 422.4h8.6M123.4 397.7V402.6M119.1 397.7h8.6M119.1 402.6h8.6M145.6 375.5V383.9M141.3 375.5h8.6M141.3 383.9h8.6M166.1 339.2V349.8M161.8 339.2h8.6M161.8 349.8h8.6M185.4 289.9V301.6M181.1 289.9h8.6M181.1 301.6h8.6M203.7 217.6V230.3M199.4 217.6h8.6M199.4 230.3h8.6M221.3 168.9V183.8M217 168.9h8.6M217 183.8h8.6M238.2 108.3V125.8M233.9 108.3h8.6M233.9 125.8h8.6M61.8 423.9V428.1M57.5 423.9h8.6M57.5 428.1h8.6M60.4 425.2V428M56.1 425.2h8.6M56.1 428h8.6"/><path stroke="#5aabee" stroke-width="1.85" d="M98.2 418.8V422.5M93.9 418.8h8.6M93.9 422.5h8.6M122.8 400.5V405.3M118.5 400.5h8.6M118.5 405.3h8.6M145 372.2V380.5M140.7 372.2h8.6M140.7 380.5h8.6M165.4 338.6V349.2M161.1 338.6h8.6M161.1 349.2h8.6M184.6 291.2V302.8M180.3 291.2h8.6M180.3 302.8h8.6M202.9 239.2V251.7M198.6 239.2h8.6M198.6 251.7h8.6M220.4 176.9V191.6M216.1 176.9h8.6M216.1 191.6h8.6M237.3 116.9V134M233 116.9h8.6M233 134h8.6M61.4 422.7V425.3M57.1 422.7h8.6M57.1 425.3h8.6"/><path stroke="#5caaef" stroke-width="1.85" d="M97.8 419.7V423.3M93.5 419.7h8.6M93.5 423.3h8.6M122.3 399V403.6M118 399h8.6M118 403.6h8.6M144.4 374.5V382.7M140.1 374.5h8.6M140.1 382.7h8.6M164.8 337.6V348.1M160.5 337.6h8.6M160.5 348.1h8.6M183.9 293.6V305.2M179.6 293.6h8.6M179.6 305.2h8.6M202.2 243.6V256M197.9 243.6h8.6M197.9 256h8.6M219.6 182.5V197.1M215.3 182.5h8.6M215.3 197.1h8.6M236.5 122.7V139.5M232.2 122.7h8.6M232.2 139.5h8.6M61.1 424.6V429.1M56.8 424.6h8.6M56.8 429.1h8.6"/><path stroke="#5ea9ef" stroke-width="1.85" d="M97.3 419.6V423.2M93 419.6h8.6M93 423.2h8.6M121.8 400.1V404.6M117.5 400.1h8.6M117.5 404.6h8.6M143.8 377.2V385.3M139.5 377.2h8.6M139.5 385.3h8.6M164.1 335.3V345.7M159.8 335.3h8.6M159.8 345.7h8.6M183.2 294.8V306.3M178.9 294.8h8.6M178.9 306.3h8.6M201.4 247.2V259.5M197.1 247.2h8.6M197.1 259.5h8.6M218.8 171.4V185.9M214.5 171.4h8.6M214.5 185.9h8.6M235.6 130.8V147.3M231.3 130.8h8.6M231.3 147.3h8.6M60.7 420.9V425.9M56.4 420.9h8.6M56.4 425.9h8.6"/><path stroke="#60a8f0" stroke-width="1.85" d="M96.9 421.2V424.8M92.6 421.2h8.6M92.6 424.8h8.6M121.2 402.9V407.4M116.9 402.9h8.6M116.9 407.4h8.6M143.2 376.9V384.9M138.9 376.9h8.6M138.9 384.9h8.6M163.4 343.1V353.4M159.1 343.1h8.6M159.1 353.4h8.6M182.5 300.1V311.6M178.2 300.1h8.6M178.2 311.6h8.6M200.6 253V265.1M196.3 253h8.6M196.3 265.1h8.6M218 188V202.4M213.7 188h8.6M213.7 202.4h8.6M234.8 139.8V156M230.5 139.8h8.6M230.5 156h8.6M60.3 424.2V427.5M56 424.2h8.6M56 427.5h8.6"/><path stroke="#63a6f1" stroke-width="1.85" d="M96.4 420.9V424.6M92.1 420.9h8.6M92.1 424.6h8.6M120.7 402.4V406.8M116.4 402.4h8.6M116.4 406.8h8.6M142.6 378.5V386.4M138.3 378.5h8.6M138.3 386.4h8.6M162.8 332.6V342.8M158.5 332.6h8.6M158.5 342.8h8.6M181.8 304.7V316.1M177.5 304.7h8.6M177.5 316.1h8.6M199.8 251.8V263.9M195.5 251.8h8.6M195.5 263.9h8.6M217.2 187.5V201.8M212.9 187.5h8.6M212.9 201.8h8.6M233.9 140.4V156.3M229.6 140.4h8.6M229.6 156.3h8.6"/><path stroke="#65a5f1" stroke-width="1.85" d="M95.9 420.7V424.4M91.6 420.7h8.6M91.6 424.4h8.6M120.2 403V407.4M115.9 403h8.6M115.9 407.4h8.6M142 379.9V387.7M137.7 379.9h8.6M137.7 387.7h8.6M162.1 347.8V358M157.8 347.8h8.6M157.8 358h8.6M181 302.6V314M176.7 302.6h8.6M176.7 314h8.6M199.1 262.6V274.6M194.8 262.6h8.6M194.8 274.6h8.6M216.4 188.3V202.4M212.1 188.3h8.6M212.1 202.4h8.6M233 151.6V167.2M228.7 151.6h8.6M228.7 167.2h8.6"/><path stroke="#68a3f2" stroke-width="1.85" d="M95.5 423.2V426.8M91.2 423.2h8.6M91.2 426.8h8.6M119.6 403.3V407.5M115.3 403.3h8.6M115.3 407.5h8.6M141.3 380.2V387.9M137 380.2h8.6M137 387.9h8.6M161.4 346.1V356.2M157.1 346.1h8.6M157.1 356.2h8.6M180.3 305.9V317.2M176 305.9h8.6M176 317.2h8.6M198.3 259.9V271.9M194 259.9h8.6M194 271.9h8.6M215.5 194.6V208.6M211.2 194.6h8.6M211.2 208.6h8.6M232.2 162.4V178M227.9 162.4h8.6M227.9 178h8.6"/><path stroke="#6ba2f2" stroke-width="1.85" d="M95 422.2V425.9M90.7 422.2h8.6M90.7 425.9h8.6M119.1 403.8V408.1M114.8 403.8h8.6M114.8 408.1h8.6M140.7 381V388.6M136.4 381h8.6M136.4 388.6h8.6M160.8 350.6V360.7M156.5 350.6h8.6M156.5 360.7h8.6M179.6 309.6V320.9M175.3 309.6h8.6M175.3 320.9h8.6M197.5 261.8V273.7M193.2 261.8h8.6M193.2 273.7h8.6M214.7 201.2V214.9M210.4 201.2h8.6M210.4 214.9h8.6M231.3 157.9V173.3M227 157.9h8.6M227 173.3h8.6"/><path stroke="#6da0f3" stroke-width="1.85" d="M94.6 422.5V426.1M90.3 422.5h8.6M90.3 426.1h8.6M118.5 405V409.2M114.2 405h8.6M114.2 409.2h8.6M140.1 379V386.5M135.8 379h8.6M135.8 386.5h8.6M160.1 352.3V362.3M155.8 352.3h8.6M155.8 362.3h8.6M178.8 313.5V324.7M174.5 313.5h8.6M174.5 324.7h8.6M196.7 270.9V282.8M192.4 270.9h8.6M192.4 282.8h8.6M213.9 203.6V217.2M209.6 203.6h8.6M209.6 217.2h8.6M230.4 166.8V182.2M226.1 166.8h8.6M226.1 182.2h8.6M246.5 87.4V105.8M242.2 87.4h8.6M242.2 105.8h8.6"/><path stroke="#709ef3" stroke-width="1.85" d="M94.1 421.7V425.3M89.8 421.7h8.6M89.8 425.3h8.6M118 406.2V410.4M113.7 406.2h8.6M113.7 410.4h8.6M139.5 383.8V391.2M135.2 383.8h8.6M135.2 391.2h8.6M159.4 354.2V364.2M155.1 354.2h8.6M155.1 364.2h8.6M178.1 318.3V329.4M173.8 318.3h8.6M173.8 329.4h8.6M195.9 266.6V278.4M191.6 266.6h8.6M191.6 278.4h8.6M213 210.5V223.9M208.7 210.5h8.6M208.7 223.9h8.6M229.5 156.4V171.6M225.2 156.4h8.6M225.2 171.6h8.6M245.5 92.7V110.7M241.2 92.7h8.6M241.2 110.7h8.6"/><path stroke="#739df4" stroke-width="1.85" d="M93.6 421.1V424.8M89.3 421.1h8.6M89.3 424.8h8.6M117.4 405.9V410M113.1 405.9h8.6M113.1 410h8.6M138.9 382.7V389.9M134.6 382.7h8.6M134.6 389.9h8.6M158.7 359.3V369.2M154.4 359.3h8.6M154.4 369.2h8.6M177.4 313.6V324.7M173.1 313.6h8.6M173.1 324.7h8.6M195.1 273.8V285.5M190.8 273.8h8.6M190.8 285.5h8.6M212.2 211.9V225.2M207.9 211.9h8.6M207.9 225.2h8.6M228.6 166.9V182M224.3 166.9h8.6M224.3 182h8.6M244.6 97.9V115.6M240.3 97.9h8.6M240.3 115.6h8.6"/><path stroke="#759bf4" stroke-width="1.85" d="M93.2 422.7V426.4M88.9 422.7h8.6M88.9 426.4h8.6M116.9 406.2V410.3M112.6 406.2h8.6M112.6 410.3h8.6M138.3 385.3V392.5M134 385.3h8.6M134 392.5h8.6M158 356.3V366.2M153.7 356.3h8.6M153.7 366.2h8.6M176.6 316.8V327.9M172.3 316.8h8.6M172.3 327.9h8.6M194.3 276V287.7M190 276h8.6M190 287.7h8.6M211.3 216.4V229.5M207 216.4h8.6M207 229.5h8.6M227.7 166.5V181.4M223.4 166.5h8.6M223.4 181.4h8.6M243.7 111.2V128.5M239.4 111.2h8.6M239.4 128.5h8.6"/><path stroke="#789af5" stroke-width="1.85" d="M92.7 422.3V426M88.4 422.3h8.6M88.4 426h8.6M116.3 406.9V411M112 406.9h8.6M112 411h8.6M137.6 385.7V392.7M133.3 385.7h8.6M133.3 392.7h8.6M157.3 358.6V368.4M153 358.6h8.6M153 368.4h8.6M175.9 318.9V330M171.6 318.9h8.6M171.6 330h8.6M193.5 276.3V287.9M189.2 276.3h8.6M189.2 287.9h8.6M210.5 221V233.9M206.2 221h8.6M206.2 233.9h8.6M226.8 171.3V186.1M222.5 171.3h8.6M222.5 186.1h8.6M242.7 115.3V132.4M238.4 115.3h8.6M238.4 132.4h8.6"/><path stroke="#7b98f5" stroke-width="1.85" d="M92.2 422.4V426.1M87.9 422.4h8.6M87.9 426.1h8.6M115.8 409.2V413.2M111.5 409.2h8.6M111.5 413.2h8.6M137 387.2V394.1M132.7 387.2h8.6M132.7 394.1h8.6M156.6 357.9V367.6M152.3 357.9h8.6M152.3 367.6h8.6M175.1 322.7V333.7M170.8 322.7h8.6M170.8 333.7h8.6M192.7 283.1V294.6M188.4 283.1h8.6M188.4 294.6h8.6M209.6 227.9V240.6M205.3 227.9h8.6M205.3 240.6h8.6M225.9 182V196.8M221.6 182h8.6M221.6 196.8h8.6M241.8 125.6V142.4M237.5 125.6h8.6M237.5 142.4h8.6"/><path stroke="#7d96f6" stroke-width="1.85" d="M91.7 422.1V425.9M87.4 422.1h8.6M87.4 425.9h8.6M115.2 409.5V413.5M110.9 409.5h8.6M110.9 413.5h8.6M136.4 389.5V396.3M132.1 389.5h8.6M132.1 396.3h8.6M155.9 361.2V370.9M151.6 361.2h8.6M151.6 370.9h8.6M174.4 323.6V334.5M170.1 323.6h8.6M170.1 334.5h8.6M191.9 278.1V289.6M187.6 278.1h8.6M187.6 289.6h8.6M208.8 233.9V246.4M204.5 233.9h8.6M204.5 246.4h8.6M225 179.4V194M220.7 179.4h8.6M220.7 194h8.6M240.8 129.2V145.6M236.5 129.2h8.6M236.5 145.6h8.6"/><path stroke="#8095f6" stroke-width="1.85" d="M91.3 420.8V424.5M87 420.8h8.6M87 424.5h8.6M114.7 409.2V413.1M110.4 409.2h8.6M110.4 413.1h8.6M135.7 391.6V398.3M131.4 391.6h8.6M131.4 398.3h8.6M155.2 365.8V375.4M150.9 365.8h8.6M150.9 375.4h8.6M173.6 329.4V340.2M169.3 329.4h8.6M169.3 340.2h8.6M191.1 287.9V299.3M186.8 287.9h8.6M186.8 299.3h8.6M207.9 229.3V241.6M203.6 229.3h8.6M203.6 241.6h8.6M224.1 163.7V178.2M219.8 163.7h8.6M219.8 178.2h8.6M239.9 139.1V155.3M235.6 139.1h8.6M235.6 155.3h8.6"/><path stroke="#8393f7" stroke-width="1.85" d="M90.8 422.4V426.1M86.5 422.4h8.6M86.5 426.1h8.6M114.1 410.6V414.5M109.8 410.6h8.6M109.8 414.5h8.6M135.1 390.7V397.3M130.8 390.7h8.6M130.8 397.3h8.6M154.5 358.2V367.8M150.2 358.2h8.6M150.2 367.8h8.6M172.8 324.2V335M168.5 324.2h8.6M168.5 335h8.6M190.3 287.9V299.3M186 287.9h8.6M186 299.3h8.6M207 242.7V254.8M202.7 242.7h8.6M202.7 254.8h8.6M223.2 185.3V199.7M218.9 185.3h8.6M218.9 199.7h8.6M238.9 139.2V155M234.6 139.2h8.6M234.6 155h8.6"/><path stroke="#8592f7" stroke-width="1.85" d="M90.3 421.9V425.7M86 421.9h8.6M86 425.7h8.6M113.5 408.4V412.3M109.2 408.4h8.6M109.2 412.3h8.6M134.4 391.3V397.8M130.1 391.3h8.6M130.1 397.8h8.6M153.8 363.6V373.1M149.5 363.6h8.6M149.5 373.1h8.6M172.1 326.3V337M167.8 326.3h8.6M167.8 337h8.6M189.5 287.6V298.9M185.2 287.6h8.6M185.2 298.9h8.6M206.2 247.5V259.5M201.9 247.5h8.6M201.9 259.5h8.6M222.3 189.2V203.4M218 189.2h8.6M218 203.4h8.6M237.9 144.5V160M233.6 144.5h8.6M233.6 160h8.6"/><path stroke="#8890f8" stroke-width="1.85" d="M89.8 421.6V425.4M85.5 421.6h8.6M85.5 425.4h8.6M113 409.3V413.1M108.7 409.3h8.6M108.7 413.1h8.6M133.8 392.9V399.3M129.5 392.9h8.6M129.5 399.3h8.6M153.1 372.5V381.9M148.8 372.5h8.6M148.8 381.9h8.6M171.3 328.2V338.7M167 328.2h8.6M167 338.7h8.6M188.6 293.8V305M184.3 293.8h8.6M184.3 305h8.6M205.3 249.6V261.3M201 249.6h8.6M201 261.3h8.6M221.4 190.5V204.6M217.1 190.5h8.6M217.1 204.6h8.6M237 157.3V172.8M232.7 157.3h8.6M232.7 172.8h8.6"/><path stroke="#8a8ef8" stroke-width="1.85" d="M89.3 421.3V425.2M85 421.3h8.6M85 425.2h8.6M112.4 413.7V417.4M108.1 413.7h8.6M108.1 417.4h8.6M133.1 393.4V399.7M128.8 393.4h8.6M128.8 399.7h8.6M152.4 370.2V379.4M148.1 370.2h8.6M148.1 379.4h8.6M170.5 335.7V346.2M166.2 335.7h8.6M166.2 346.2h8.6M187.8 296.5V307.6M183.5 296.5h8.6M183.5 307.6h8.6M204.4 253.7V265.5M200.1 253.7h8.6M200.1 265.5h8.6M220.4 198.7V212.6M216.1 198.7h8.6M216.1 212.6h8.6M236 160.9V176.3M231.7 160.9h8.6M231.7 176.3h8.6"/><path stroke="#8b8cf8" stroke-width="1.85" d="M88.8 422.1V425.9M84.5 422.1h8.6M84.5 425.9h8.6M111.8 412V415.7M107.5 412h8.6M107.5 415.7h8.6M132.5 394.6V400.8M128.2 394.6h8.6M128.2 400.8h8.6M151.7 373.9V383.1M147.4 373.9h8.6M147.4 383.1h8.6M169.7 333.7V344.1M165.4 333.7h8.6M165.4 344.1h8.6M187 298.3V309.4M182.7 298.3h8.6M182.7 309.4h8.6M203.5 254.7V266.3M199.2 254.7h8.6M199.2 266.3h8.6M219.5 202V215.7M215.2 202h8.6M215.2 215.7h8.6M235 156.8V172.1M230.7 156.8h8.6M230.7 172.1h8.6M250.2 95.2V113.1M245.9 95.2h8.6M245.9 113.1h8.6"/><path stroke="#8d8af8" stroke-width="1.85" d="M88.4 422.7V426.6M84.1 422.7h8.6M84.1 426.6h8.6M111.2 413.1V416.8M106.9 413.1h8.6M106.9 416.8h8.6M131.8 395.1V401.2M127.5 395.1h8.6M127.5 401.2h8.6M151 366V375M146.7 366h8.6M146.7 375h8.6M169 338.1V348.5M164.7 338.1h8.6M164.7 348.5h8.6M186.1 299.3V310.4M181.8 299.3h8.6M181.8 310.4h8.6M202.6 260.9V272.5M198.3 260.9h8.6M198.3 272.5h8.6M218.6 211V224.6M214.3 211h8.6M214.3 224.6h8.6M234.1 164.4V179.5M229.8 164.4h8.6M229.8 179.5h8.6M249.1 101.9V119.5M244.8 101.9h8.6M244.8 119.5h8.6"/><path stroke="#8e87f8" stroke-width="1.85" d="M87.9 422.9V426.8M83.6 422.9h8.6M83.6 426.8h8.6M110.6 414.7V418.3M106.3 414.7h8.6M106.3 418.3h8.6M131.2 394.7V400.7M126.9 394.7h8.6M126.9 400.7h8.6M150.2 372.8V381.6M145.9 372.8h8.6M145.9 381.6h8.6M168.2 336V346.3M163.9 336h8.6M163.9 346.3h8.6M185.3 303.1V314.2M181 303.1h8.6M181 314.2h8.6M201.7 267.6V279.1M197.4 267.6h8.6M197.4 279.1h8.6M217.6 212.6V226M213.3 212.6h8.6M213.3 226h8.6M233.1 165.4V180.4M228.8 165.4h8.6M228.8 180.4h8.6M248.1 118.3V135.5M243.8 118.3h8.6M243.8 135.5h8.6"/><path stroke="#9085f8" stroke-width="1.85" d="M87.4 423.4V427.3M83.1 423.4h8.6M83.1 427.3h8.6M110.1 416.2V419.8M105.8 416.2h8.6M105.8 419.8h8.6M130.5 396.6V402.4M126.2 396.6h8.6M126.2 402.4h8.6M149.5 371.7V380.4M145.2 371.7h8.6M145.2 380.4h8.6M167.4 348V358.2M163.1 348h8.6M163.1 358.2h8.6M184.4 297.6V308.6M180.1 297.6h8.6M180.1 308.6h8.6M200.8 263.4V274.9M196.5 263.4h8.6M196.5 274.9h8.6M216.7 212.8V226M212.4 212.8h8.6M212.4 226h8.6M232.1 166.6V181.5M227.8 166.6h8.6M227.8 181.5h8.6M247.1 118.7V135.6M242.8 118.7h8.6M242.8 135.6h8.6"/><path stroke="#9283f8" stroke-width="1.85" d="M86.9 420V424M82.6 420h8.6M82.6 424h8.6M109.5 415.6V419.2M105.2 415.6h8.6M105.2 419.2h8.6M129.9 393.3V399.1M125.6 393.3h8.6M125.6 399.1h8.6M148.8 377.2V385.8M144.5 377.2h8.6M144.5 385.8h8.6M166.6 347.5V357.6M162.3 347.5h8.6M162.3 357.6h8.6M183.6 310.4V321.3M179.3 310.4h8.6M179.3 321.3h8.6M199.9 261.7V273.1M195.6 261.7h8.6M195.6 273.1h8.6M215.7 214.3V227.3M211.4 214.3h8.6M211.4 227.3h8.6M231.1 176.3V191.1M226.8 176.3h8.6M226.8 191.1h8.6M246 121.3V137.8M241.7 121.3h8.6M241.7 137.8h8.6"/><path stroke="#9381f8" stroke-width="1.85" d="M86.4 422V426M82.1 422h8.6M82.1 426h8.6M108.9 415.3V418.8M104.6 415.3h8.6M104.6 418.8h8.6M129.2 398.1V403.7M124.9 398.1h8.6M124.9 403.7h8.6M148 379.9V388.4M143.7 379.9h8.6M143.7 388.4h8.6M165.8 348.8V358.8M161.5 348.8h8.6M161.5 358.8h8.6M182.7 310V320.9M178.4 310h8.6M178.4 320.9h8.6M199 274V285.3M194.7 274h8.6M194.7 285.3h8.6M214.8 222.1V234.9M210.5 222.1h8.6M210.5 234.9h8.6M230.1 176.6V191.2M225.8 176.6h8.6M225.8 191.2h8.6M245 135.8V152.1M240.7 135.8h8.6M240.7 152.1h8.6"/><path stroke="#957ff8" stroke-width="1.85" d="M85.9 424.1V428.1M81.6 424.1h8.6M81.6 428.1h8.6M108.3 416.5V420M104 416.5h8.6M104 420h8.6M128.5 398.9V404.4M124.2 398.9h8.6M124.2 404.4h8.6M147.3 380V388.4M143 380h8.6M143 388.4h8.6M165 349.9V359.9M160.7 349.9h8.6M160.7 359.9h8.6M181.9 311.3V322.1M177.6 311.3h8.6M177.6 322.1h8.6M198.1 278.8V290.1M193.8 278.8h8.6M193.8 290.1h8.6M213.8 229.1V241.8M209.5 229.1h8.6M209.5 241.8h8.6M229.1 182.5V197M224.8 182.5h8.6M224.8 197h8.6M243.9 141.2V157.1M239.6 141.2h8.6M239.6 157.1h8.6"/><path stroke="#967df8" stroke-width="1.85" d="M85.3 422.4V426.4M81 422.4h8.6M81 426.4h8.6M107.7 417.2V420.7M103.4 417.2h8.6M103.4 420.7h8.6M127.8 398.3V403.6M123.5 398.3h8.6M123.5 403.6h8.6M146.5 378.5V386.7M142.2 378.5h8.6M142.2 386.7h8.6M164.2 354.8V364.7M159.9 354.8h8.6M159.9 364.7h8.6M181 316.9V327.7M176.7 316.9h8.6M176.7 327.7h8.6M197.2 277.5V288.8M192.9 277.5h8.6M192.9 288.8h8.6M212.9 222.2V234.7M208.6 222.2h8.6M208.6 234.7h8.6M228.1 184.2V198.5M223.8 184.2h8.6M223.8 198.5h8.6M242.9 147.2V162.8M238.6 147.2h8.6M238.6 162.8h8.6"/><path stroke="#987bf8" stroke-width="1.85" d="M84.8 421.8V425.8M80.5 421.8h8.6M80.5 425.8h8.6M107.1 418.5V422M102.8 418.5h8.6M102.8 422h8.6M127.2 402.6V407.8M122.9 402.6h8.6M122.9 407.8h8.6M145.8 372.6V380.7M141.5 372.6h8.6M141.5 380.7h8.6M163.4 353.8V363.7M159.1 353.8h8.6M159.1 363.7h8.6M180.1 319.1V329.9M175.8 319.1h8.6M175.8 329.9h8.6M196.3 280.4V291.6M192 280.4h8.6M192 291.6h8.6M211.9 233.6V245.9M207.6 233.6h8.6M207.6 245.9h8.6M227 190.6V204.8M222.7 190.6h8.6M222.7 204.8h8.6M241.8 150.4V165.8M237.5 150.4h8.6M237.5 165.8h8.6"/><path stroke="#9a79f8" stroke-width="1.85" d="M84.3 421.8V425.8M80 421.8h8.6M80 425.8h8.6M106.5 419.1V422.6M102.2 419.1h8.6M102.2 422.6h8.6M126.5 401.5V406.6M122.2 401.5h8.6M122.2 406.6h8.6M145 381.9V389.8M140.7 381.9h8.6M140.7 389.8h8.6M162.6 354.3V364.1M158.3 354.3h8.6M158.3 364.1h8.6M179.3 321.1V331.9M175 321.1h8.6M175 331.9h8.6M195.4 281.8V292.9M191.1 281.8h8.6M191.1 292.9h8.6M210.9 238.9V251M206.6 238.9h8.6M206.6 251h8.6M226 186.4V200.6M221.7 186.4h8.6M221.7 200.6h8.6M240.8 153.2V168.5M236.5 153.2h8.6M236.5 168.5h8.6"/><path stroke="#9b76f8" stroke-width="1.85" d="M83.8 423.1V427.2M79.5 423.1h8.6M79.5 427.2h8.6M105.9 416.8V420.3M101.6 416.8h8.6M101.6 420.3h8.6M125.8 403V408M121.5 403h8.6M121.5 408h8.6M144.3 382.4V390.2M140 382.4h8.6M140 390.2h8.6M161.7 357V366.7M157.4 357h8.6M157.4 366.7h8.6M178.4 322.7V333.4M174.1 322.7h8.6M174.1 333.4h8.6M194.4 288.5V299.6M190.1 288.5h8.6M190.1 299.6h8.6M209.9 242.2V254M205.6 242.2h8.6M205.6 254h8.6M225 190.9V204.8M220.7 190.9h8.6M220.7 204.8h8.6M239.7 166.4V181.6M235.4 166.4h8.6M235.4 181.6h8.6"/><path stroke="#9d74f8" stroke-width="1.85" d="M83.3 423.9V428M79 423.9h8.6M79 428h8.6M105.2 419.4V422.9M100.9 419.4h8.6M100.9 422.9h8.6M125.1 402.7V407.6M120.8 402.7h8.6M120.8 407.6h8.6M143.5 382.6V390.3M139.2 382.6h8.6M139.2 390.3h8.6M160.9 360.4V370M156.6 360.4h8.6M156.6 370h8.6M177.5 322.1V332.8M173.2 322.1h8.6M173.2 332.8h8.6M193.5 289.7V300.7M189.2 289.7h8.6M189.2 300.7h8.6M208.9 254.8V266.4M204.6 254.8h8.6M204.6 266.4h8.6M224 197.2V211M219.7 197.2h8.6M219.7 211h8.6M238.6 162.4V177.6M234.3 162.4h8.6M234.3 177.6h8.6"/><path stroke="#9e72f8" stroke-width="1.85" d="M82.8 423.6V427.7M78.5 423.6h8.6M78.5 427.7h8.6M104.6 420.2V423.6M100.3 420.2h8.6M100.3 423.6h8.6M124.4 401.2V405.9M120.1 401.2h8.6M120.1 405.9h8.6M142.8 385.5V393.1M138.5 385.5h8.6M138.5 393.1h8.6M160.1 362V371.6M155.8 362h8.6M155.8 371.6h8.6M176.6 328.4V339M172.3 328.4h8.6M172.3 339h8.6M192.5 288.6V299.5M188.2 288.6h8.6M188.2 299.5h8.6M207.9 251.9V263.4M203.6 251.9h8.6M203.6 263.4h8.6M222.9 199.8V213.4M218.6 199.8h8.6M218.6 213.4h8.6M237.5 167.1V182.2M233.2 167.1h8.6M233.2 182.2h8.6"/><path stroke="#a070f8" stroke-width="1.85" d="M82.2 425.2V429.3M77.9 425.2h8.6M77.9 429.3h8.6M104 419.8V423.2M99.7 419.8h8.6M99.7 423.2h8.6M123.7 404.5V409.2M119.4 404.5h8.6M119.4 409.2h8.6M142 389.3V396.7M137.7 389.3h8.6M137.7 396.7h8.6M159.2 365.7V375.2M154.9 365.7h8.6M154.9 375.2h8.6M175.7 325.9V336.5M171.4 325.9h8.6M171.4 336.5h8.6M191.6 292.8V303.8M187.3 292.8h8.6M187.3 303.8h8.6M207 259V270.4M202.7 259h8.6M202.7 270.4h8.6M221.9 208.8V222.2M217.6 208.8h8.6M217.6 222.2h8.6M236.4 171.4V186.3M232.1 171.4h8.6M232.1 186.3h8.6"/><path stroke="#a26ef7" stroke-width="1.85" d="M81.7 423.4V427.6M77.4 423.4h8.6M77.4 427.6h8.6M103.4 420.5V424M99.1 420.5h8.6M99.1 424h8.6M123 404.3V408.8M118.7 404.3h8.6M118.7 408.8h8.6M141.2 388.8V396.1M136.9 388.8h8.6M136.9 396.1h8.6M158.4 367.8V377.3M154.1 367.8h8.6M154.1 377.3h8.6M174.8 331.4V341.9M170.5 331.4h8.6M170.5 341.9h8.6M190.6 298.4V309.3M186.3 298.4h8.6M186.3 309.3h8.6M205.9 262V273.3M201.6 262h8.6M201.6 273.3h8.6M220.8 208.9V222.1M216.5 208.9h8.6M216.5 222.1h8.6M235.4 172.8V187.5M231.1 172.8h8.6M231.1 187.5h8.6"/><path stroke="#a36bf7" stroke-width="1.85" d="M81.2 423.7V427.9M76.9 423.7h8.6M76.9 427.9h8.6M102.8 422.4V425.8M98.5 422.4h8.6M98.5 425.8h8.6M122.3 407.3V411.6M118 407.3h8.6M118 411.6h8.6M140.4 387.2V394.4M136.1 387.2h8.6M136.1 394.4h8.6M157.6 368.1V377.5M153.3 368.1h8.6M153.3 377.5h8.6M173.9 335.6V346M169.6 335.6h8.6M169.6 346h8.6M189.7 302.3V313.2M185.4 302.3h8.6M185.4 313.2h8.6M204.9 262.2V273.4M200.6 262.2h8.6M200.6 273.4h8.6M219.8 220.1V233.1M215.5 220.1h8.6M215.5 233.1h8.6M234.3 181.3V195.9M230 181.3h8.6M230 195.9h8.6M248.4 139.1V155.2M244.1 139.1h8.6M244.1 155.2h8.6"/><path stroke="#a569f6" stroke-width="1.85" d="M80.6 424.4V428.6M76.3 424.4h8.6M76.3 428.6h8.6M102.1 422.8V426.2M97.8 422.8h8.6M97.8 426.2h8.6M121.6 408.4V412.6M117.3 408.4h8.6M117.3 412.6h8.6M139.6 388.2V395.2M135.3 388.2h8.6M135.3 395.2h8.6M156.7 364.7V374.1M152.4 364.7h8.6M152.4 374.1h8.6M173 341.8V352.1M168.7 341.8h8.6M168.7 352.1h8.6M188.7 302.6V313.4M184.4 302.6h8.6M184.4 313.4h8.6M203.9 268.8V279.9M199.6 268.8h8.6M199.6 279.9h8.6M218.7 220.4V233.3M214.4 220.4h8.6M214.4 233.3h8.6M233.1 173V187.5M228.8 173h8.6M228.8 187.5h8.6M247.3 135.4V151.1M243 135.4h8.6M243 151.1h8.6"/><path stroke="#a767f6" stroke-width="1.85" d="M80.1 424.4V428.6M75.8 424.4h8.6M75.8 428.6h8.6M101.5 423.4V426.8M97.2 423.4h8.6M97.2 426.8h8.6M120.9 407.7V411.8M116.6 407.7h8.6M116.6 411.8h8.6M138.9 390.3V397.3M134.6 390.3h8.6M134.6 397.3h8.6M155.9 370.6V379.9M151.6 370.6h8.6M151.6 379.9h8.6M172.1 341.3V351.6M167.8 341.3h8.6M167.8 351.6h8.6M187.8 308.6V319.3M183.5 308.6h8.6M183.5 319.3h8.6M202.9 276.6V287.7M198.6 276.6h8.6M198.6 287.7h8.6M217.6 224.8V237.4M213.3 224.8h8.6M213.3 237.4h8.6M232 184.8V199.2M227.7 184.8h8.6M227.7 199.2h8.6M246.1 148.1V163.5M241.8 148.1h8.6M241.8 163.5h8.6"/><path stroke="#a965f5" stroke-width="1.85" d="M79.6 422.3V426.6M75.3 422.3h8.6M75.3 426.6h8.6M100.9 422.9V426.4M96.6 422.9h8.6M96.6 426.4h8.6M120.1 409.8V413.8M115.8 409.8h8.6M115.8 413.8h8.6M138.1 395.2V402M133.8 395.2h8.6M133.8 402h8.6M155 371.8V381.1M150.7 371.8h8.6M150.7 381.1h8.6M171.2 341.1V351.3M166.9 341.1h8.6M166.9 351.3h8.6M186.8 306.8V317.5M182.5 306.8h8.6M182.5 317.5h8.6M201.9 272.4V283.5M197.6 272.4h8.6M197.6 283.5h8.6M216.6 232.3V244.7M212.3 232.3h8.6M212.3 244.7h8.6M230.9 192.3V206.5M226.6 192.3h8.6M226.6 206.5h8.6M245 155.9V171.3M240.7 155.9h8.6M240.7 171.3h8.6"/><path stroke="#aa62f5" stroke-width="1.85" d="M79 425.4V429.7M74.7 425.4h8.6M74.7 429.7h8.6M100.2 422V425.5M95.9 422h8.6M95.9 425.5h8.6M119.4 409.4V413.4M115.1 409.4h8.6M115.1 413.4h8.6M137.3 394.3V401M133 394.3h8.6M133 401h8.6M154.1 373.7V382.9M149.8 373.7h8.6M149.8 382.9h8.6M170.3 345.7V355.7M166 345.7h8.6M166 355.7h8.6M185.8 314.8V325.4M181.5 314.8h8.6M181.5 325.4h8.6M200.8 274.5V285.5M196.5 274.5h8.6M196.5 285.5h8.6M215.5 237.3V249.6M211.2 237.3h8.6M211.2 249.6h8.6M229.8 190.1V204.2M225.5 190.1h8.6M225.5 204.2h8.6M243.8 158.9V174.1M239.5 158.9h8.6M239.5 174.1h8.6"/><path stroke="#ac60f4" stroke-width="1.85" d="M78.5 423.3V427.6M74.2 423.3h8.6M74.2 427.6h8.6M99.6 422.2V425.7M95.3 422.2h8.6M95.3 425.7h8.6M118.7 410.6V414.5M114.4 410.6h8.6M114.4 414.5h8.6M136.5 397.4V404M132.2 397.4h8.6M132.2 404h8.6M153.3 373.5V382.6M149 373.5h8.6M149 382.6h8.6M169.3 347V356.9M165 347h8.6M165 356.9h8.6M184.8 316.6V327.2M180.5 316.6h8.6M180.5 327.2h8.6M199.8 278.7V289.6M195.5 278.7h8.6M195.5 289.6h8.6M214.4 242.9V254.9M210.1 242.9h8.6M210.1 254.9h8.6M228.7 189.4V203.4M224.4 189.4h8.6M224.4 203.4h8.6M242.6 161.4V176.5M238.3 161.4h8.6M238.3 176.5h8.6"/><path stroke="#ae5ef3" stroke-width="1.85" d="M77.9 423.9V428.2M73.6 423.9h8.6M73.6 428.2h8.6M98.9 422.2V425.7M94.6 422.2h8.6M94.6 425.7h8.6M117.9 411.5V415.3M113.6 411.5h8.6M113.6 415.3h8.6M135.6 397.7V404.2M131.3 397.7h8.6M131.3 404.2h8.6M152.4 377.4V386.4M148.1 377.4h8.6M148.1 386.4h8.6M168.4 351.4V361.3M164.1 351.4h8.6M164.1 361.3h8.6M183.8 318.6V329.1M179.5 318.6h8.6M179.5 329.1h8.6M198.8 283.9V294.7M194.5 283.9h8.6M194.5 294.7h8.6M213.3 245.3V257.1M209 245.3h8.6M209 257.1h8.6M227.5 204.8V218.5M223.2 204.8h8.6M223.2 218.5h8.6M241.4 160.1V175.1M237.1 160.1h8.6M237.1 175.1h8.6"/><path stroke="#af5bf3" stroke-width="1.85" d="M77.4 423.3V427.7M73.1 423.3h8.6M73.1 427.7h8.6M98.3 423.9V427.4M94 423.9h8.6M94 427.4h8.6M117.2 412.8V416.6M112.9 412.8h8.6M112.9 416.6h8.6M134.8 394V400.3M130.5 394h8.6M130.5 400.3h8.6M151.5 379.8V388.7M147.2 379.8h8.6M147.2 388.7h8.6M167.5 357V366.9M163.2 357h8.6M163.2 366.9h8.6M182.8 320.7V331.2M178.5 320.7h8.6M178.5 331.2h8.6M197.7 288.6V299.4M193.4 288.6h8.6M193.4 299.4h8.6M212.2 249.1V260.7M207.9 249.1h8.6M207.9 260.7h8.6M226.4 201V214.5M222.1 201h8.6M222.1 214.5h8.6M240.2 164.5V179.3M235.9 164.5h8.6M235.9 179.3h8.6"/><path stroke="#b159f2" stroke-width="1.85" d="M76.8 423.6V427.9M72.5 423.6h8.6M72.5 427.9h8.6M97.6 421.4V425M93.3 421.4h8.6M93.3 425h8.6M116.5 412.2V416M112.2 412.2h8.6M112.2 416h8.6M134 400.1V406.3M129.7 400.1h8.6M129.7 406.3h8.6M150.6 382.2V390.9M146.3 382.2h8.6M146.3 390.9h8.6M166.5 354.1V363.8M162.2 354.1h8.6M162.2 363.8h8.6M181.8 327.3V337.8M177.5 327.3h8.6M177.5 337.8h8.6M196.7 292.4V303.2M192.4 292.4h8.6M192.4 303.2h8.6M211.1 256.1V267.6M206.8 256.1h8.6M206.8 267.6h8.6M225.2 212V225.4M220.9 212h8.6M220.9 225.4h8.6M239 169.8V184.5M234.7 169.8h8.6M234.7 184.5h8.6"/><path stroke="#b357f2" stroke-width="1.85" d="M76.2 422.9V427.3M71.9 422.9h8.6M71.9 427.3h8.6M96.9 424.1V427.7M92.6 424.1h8.6M92.6 427.7h8.6M115.7 415.4V419.1M111.4 415.4h8.6M111.4 419.1h8.6M133.2 397.9V404M128.9 397.9h8.6M128.9 404h8.6M149.7 379.7V388.2M145.4 379.7h8.6M145.4 388.2h8.6M165.6 357.3V366.9M161.3 357.3h8.6M161.3 366.9h8.6M180.8 325.9V336.3M176.5 325.9h8.6M176.5 336.3h8.6M195.6 295.6V306.3M191.3 295.6h8.6M191.3 306.3h8.6M210 259.1V270.5M205.7 259.1h8.6M205.7 270.5h8.6M224.1 212.1V225.3M219.8 212.1h8.6M219.8 225.3h8.6M237.8 171.4V186M233.5 171.4h8.6M233.5 186h8.6"/><path stroke="#b555f1" stroke-width="1.85" d="M75.7 423.3V427.7M71.4 423.3h8.6M71.4 427.7h8.6M96.3 423.1V426.7M92 423.1h8.6M92 426.7h8.6M115 416V419.7M110.7 416h8.6M110.7 419.7h8.6M132.4 400.2V406.1M128.1 400.2h8.6M128.1 406.1h8.6M148.8 383.4V391.7M144.5 383.4h8.6M144.5 391.7h8.6M164.6 361.5V371.1M160.3 361.5h8.6M160.3 371.1h8.6M179.8 327.4V337.9M175.5 327.4h8.6M175.5 337.9h8.6M194.5 298.6V309.2M190.2 298.6h8.6M190.2 309.2h8.6M208.9 259.8V271M204.6 259.8h8.6M204.6 271h8.6M222.9 221.4V234.4M218.6 221.4h8.6M218.6 234.4h8.6M236.6 179.2V193.6M232.3 179.2h8.6M232.3 193.6h8.6M250.1 146.8V162.3M245.8 146.8h8.6M245.8 162.3h8.6"/><path stroke="#b652f1" stroke-width="1.85" d="M75.1 424.1V428.5M70.8 424.1h8.6M70.8 428.5h8.6M95.6 423.3V426.9M91.3 423.3h8.6M91.3 426.9h8.6M114.2 418.1V421.7M109.9 418.1h8.6M109.9 421.7h8.6M131.5 400.3V406.1M127.2 400.3h8.6M127.2 406.1h8.6M147.9 382.9V391.2M143.6 382.9h8.6M143.6 391.2h8.6M163.6 360.3V369.9M159.3 360.3h8.6M159.3 369.9h8.6M178.8 335.8V346.1M174.5 335.8h8.6M174.5 346.1h8.6M193.4 298.2V308.8M189.1 298.2h8.6M189.1 308.8h8.6M207.7 267.3V278.3M203.4 267.3h8.6M203.4 278.3h8.6M221.7 221.6V234.3M217.4 221.6h8.6M217.4 234.3h8.6M235.4 181.8V196.1M231.1 181.8h8.6M231.1 196.1h8.6M248.8 156.4V171.7M244.5 156.4h8.6M244.5 171.7h8.6"/><path stroke="#b850f0" stroke-width="1.85" d="M74.5 424.6V429M70.2 424.6h8.6M70.2 429h8.6M94.9 421.5V425.1M90.6 421.5h8.6M90.6 425.1h8.6M113.4 417.2V420.8M109.1 417.2h8.6M109.1 420.8h8.6M130.7 404.1V409.8M126.4 404.1h8.6M126.4 409.8h8.6M147 382.6V390.7M142.7 382.6h8.6M142.7 390.7h8.6M162.7 364.9V374.4M158.4 364.9h8.6M158.4 374.4h8.6M177.7 337.5V347.8M173.4 337.5h8.6M173.4 347.8h8.6M192.4 301.1V311.7M188.1 301.1h8.6M188.1 311.7h8.6M206.6 274.7V285.6M202.3 274.7h8.6M202.3 285.6h8.6M220.5 233.9V246.5M216.2 233.9h8.6M216.2 246.5h8.6M234.2 182.2V196.4M229.9 182.2h8.6M229.9 196.4h8.6M247.6 151.3V166.5M243.3 151.3h8.6M243.3 166.5h8.6"/><path stroke="#b94dee" stroke-width="1.85" d="M73.9 424V428.4M69.6 424h8.6M69.6 428.4h8.6M94.2 424.2V427.8M89.9 424.2h8.6M89.9 427.8h8.6M112.7 417.1V420.7M108.4 417.1h8.6M108.4 420.7h8.6M129.8 404.4V409.9M125.5 404.4h8.6M125.5 409.9h8.6M146.1 387.1V395M141.8 387.1h8.6M141.8 395h8.6M161.7 367.5V376.9M157.4 367.5h8.6M157.4 376.9h8.6M176.7 337.5V347.8M172.4 337.5h8.6M172.4 347.8h8.6M191.3 303.5V314M187 303.5h8.6M187 314h8.6M205.5 272.6V283.5M201.2 272.6h8.6M201.2 283.5h8.6M219.3 230.3V242.6M215 230.3h8.6M215 242.6h8.6M232.9 186.1V200.1M228.6 186.1h8.6M228.6 200.1h8.6M246.3 147.2V162.3M242 147.2h8.6M242 162.3h8.6"/><path stroke="#ba4aec" stroke-width="1.85" d="M73.4 423.7V428.1M69.1 423.7h8.6M69.1 428.1h8.6M93.5 422.8V426.4M89.2 422.8h8.6M89.2 426.4h8.6M111.9 417.6V421.1M107.6 417.6h8.6M107.6 421.1h8.6M129 402.9V408.3M124.7 402.9h8.6M124.7 408.3h8.6M145.2 388.2V396M140.9 388.2h8.6M140.9 396h8.6M160.7 371.2V380.5M156.4 371.2h8.6M156.4 380.5h8.6M175.6 338.3V348.5M171.3 338.3h8.6M171.3 348.5h8.6M190.2 313.7V324.2M185.9 313.7h8.6M185.9 324.2h8.6M204.3 278.7V289.5M200 278.7h8.6M200 289.5h8.6M218.1 236.7V248.8M213.8 236.7h8.6M213.8 248.8h8.6M231.7 196.1V210M227.4 196.1h8.6M227.4 210h8.6M245 166.5V181.5M240.7 166.5h8.6M240.7 181.5h8.6M70.9 425.2V428M66.6 425.2h8.6M66.6 428h8.6"/><path stroke="#bc48ea" stroke-width="1.85" d="M72.8 425.6V430M68.5 425.6h8.6M68.5 430h8.6M92.9 424.8V428.5M88.6 424.8h8.6M88.6 428.5h8.6M111.1 418.3V421.8M106.8 418.3h8.6M106.8 421.8h8.6M128.1 404.4V409.6M123.8 404.4h8.6M123.8 409.6h8.6M144.2 389V396.6M139.9 389h8.6M139.9 396.6h8.6M159.7 372.9V382.2M155.4 372.9h8.6M155.4 382.2h8.6M174.6 341.5V351.6M170.3 341.5h8.6M170.3 351.6h8.6M189.1 313.4V323.8M184.8 313.4h8.6M184.8 323.8h8.6M203.1 277V287.8M198.8 277h8.6M198.8 287.8h8.6M216.9 245V256.8M212.6 245h8.6M212.6 256.8h8.6M230.4 195.1V208.7M226.1 195.1h8.6M226.1 208.7h8.6M243.7 167V181.9M239.4 167h8.6M239.4 181.9h8.6"/><path stroke="#bd45e9" stroke-width="1.85" d="M72.2 424.5V429M67.9 424.5h8.6M67.9 429h8.6M92.2 422.4V426.1M87.9 422.4h8.6M87.9 426.1h8.6M110.3 419.9V423.3M106 419.9h8.6M106 423.3h8.6M127.3 406.5V411.6M123 406.5h8.6M123 411.6h8.6M143.3 390.5V398M139 390.5h8.6M139 398h8.6M158.7 365.2V374.4M154.4 365.2h8.6M154.4 374.4h8.6M173.5 346V356M169.2 346h8.6M169.2 356h8.6M187.9 315.8V326.2M183.6 315.8h8.6M183.6 326.2h8.6M202 280.8V291.4M197.7 280.8h8.6M197.7 291.4h8.6M215.7 252.1V263.8M211.4 252.1h8.6M211.4 263.8h8.6M229.2 202.1V215.5M224.9 202.1h8.6M224.9 215.5h8.6M242.4 173.2V187.9M238.1 173.2h8.6M238.1 187.9h8.6"/><path stroke="#be42e7" stroke-width="1.85" d="M71.6 425.8V430.3M67.3 425.8h8.6M67.3 430.3h8.6M91.5 421.4V425.1M87.2 421.4h8.6M87.2 425.1h8.6M109.5 420V423.4M105.2 420h8.6M105.2 423.4h8.6M126.4 406.4V411.3M122.1 406.4h8.6M122.1 411.3h8.6M142.4 394.6V401.9M138.1 394.6h8.6M138.1 401.9h8.6M157.7 370.7V379.9M153.4 370.7h8.6M153.4 379.9h8.6M172.5 352.6V362.5M168.2 352.6h8.6M168.2 362.5h8.6M186.8 320.4V330.7M182.5 320.4h8.6M182.5 330.7h8.6M200.8 284.2V294.8M196.5 284.2h8.6M196.5 294.8h8.6M214.5 257.7V269.2M210.2 257.7h8.6M210.2 269.2h8.6M227.9 208.7V222M223.6 208.7h8.6M223.6 222h8.6M241.1 181.7V196.3M236.8 181.7h8.6M236.8 196.3h8.6"/><path stroke="#bf3fe5" stroke-width="1.85" d="M71 424.3V428.8M66.7 424.3h8.6M66.7 428.8h8.6M90.7 422.8V426.5M86.4 422.8h8.6M86.4 426.5h8.6M108.7 421.2V424.6M104.4 421.2h8.6M104.4 424.6h8.6M125.5 406.7V411.4M121.2 406.7h8.6M121.2 411.4h8.6M141.4 390.7V397.8M137.1 390.7h8.6M137.1 397.8h8.6M156.7 373.1V382.2M152.4 373.1h8.6M152.4 382.2h8.6M171.4 347.7V357.5M167.1 347.7h8.6M167.1 357.5h8.6M185.7 321.7V332M181.4 321.7h8.6M181.4 332h8.6M199.6 290.8V301.4M195.3 290.8h8.6M195.3 301.4h8.6M213.3 261.3V272.6M209 261.3h8.6M209 272.6h8.6M226.6 212V225M222.3 212h8.6M222.3 225h8.6M239.8 179.5V193.9M235.5 179.5h8.6M235.5 193.9h8.6M252.7 154V169.4M248.4 154h8.6M248.4 169.4h8.6"/><path stroke="#c13de3" stroke-width="1.85" d="M70.4 425.2V429.6M66.1 425.2h8.6M66.1 429.6h8.6M90 424.1V427.8M85.7 424.1h8.6M85.7 427.8h8.6M107.9 420.6V423.9M103.6 420.6h8.6M103.6 423.9h8.6M124.6 407.9V412.4M120.3 407.9h8.6M120.3 412.4h8.6M140.5 394V401M136.2 394h8.6M136.2 401h8.6M155.6 373.6V382.7M151.3 373.6h8.6M151.3 382.7h8.6M170.3 348.6V358.3M166 348.6h8.6M166 358.3h8.6M184.5 322.5V332.8M180.2 322.5h8.6M180.2 332.8h8.6M198.4 289V299.5M194.1 289h8.6M194.1 299.5h8.6M212 259.9V271.1M207.7 259.9h8.6M207.7 271.1h8.6M225.3 214.7V227.6M221 214.7h8.6M221 227.6h8.6M238.4 182.6V196.9M234.1 182.6h8.6M234.1 196.9h8.6M251.3 154.2V169.5M247 154.2h8.6M247 169.5h8.6"/><path stroke="#c23ae1" stroke-width="1.85" d="M69.8 424.3V428.8M65.5 424.3h8.6M65.5 428.8h8.6M89.3 422.8V426.6M85 422.8h8.6M85 426.6h8.6M107.1 421.5V424.8M102.8 421.5h8.6M102.8 424.8h8.6M123.7 409V413.4M119.4 409h8.6M119.4 413.4h8.6M139.5 394.3V401.2M135.2 394.3h8.6M135.2 401.2h8.6M154.6 378.2V387.3M150.3 378.2h8.6M150.3 387.3h8.6M169.2 352.9V362.6M164.9 352.9h8.6M164.9 362.6h8.6M183.4 328.6V338.8M179.1 328.6h8.6M179.1 338.8h8.6M197.2 296.2V306.7M192.9 296.2h8.6M192.9 306.7h8.6M210.8 268.2V279.2M206.5 268.2h8.6M206.5 279.2h8.6M224 231.1V243.7M219.7 231.1h8.6M219.7 243.7h8.6M237.1 183.7V197.8M232.8 183.7h8.6M232.8 197.8h8.6M250 160.8V175.9M245.7 160.8h8.6M245.7 175.9h8.6M262.7 114.4V132.2M258.4 114.4h8.6M258.4 132.2h8.6"/><path stroke="#c337df" stroke-width="1.85" d="M69.1 423.6V428.1M64.8 423.6h8.6M64.8 428.1h8.6M88.6 425.2V429M84.3 425.2h8.6M84.3 429h8.6M106.3 421.1V424.5M102 421.1h8.6M102 424.5h8.6M122.8 408.9V413.2M118.5 408.9h8.6M118.5 413.2h8.6M138.5 395.8V402.5M134.2 395.8h8.6M134.2 402.5h8.6M153.6 377.5V386.5M149.3 377.5h8.6M149.3 386.5h8.6M168.1 357.4V367M163.8 357.4h8.6M163.8 367h8.6M182.2 329.4V339.6M177.9 329.4h8.6M177.9 339.6h8.6M196 296.8V307.1M191.7 296.8h8.6M191.7 307.1h8.6M209.5 272.3V283.2M205.2 272.3h8.6M205.2 283.2h8.6M222.7 233.1V245.4M218.4 233.1h8.6M218.4 245.4h8.6M235.7 191V205M231.4 191h8.6M231.4 205h8.6M248.6 161.1V176.1M244.3 161.1h8.6M244.3 176.1h8.6M261.2 127.6V144.8M256.9 127.6h8.6M256.9 144.8h8.6"/><path stroke="#c434de" stroke-width="1.85" d="M68.5 423.4V427.9M64.2 423.4h8.6M64.2 427.9h8.6M87.9 423.7V427.6M83.6 423.7h8.6M83.6 427.6h8.6M105.5 421.7V425.1M101.2 421.7h8.6M101.2 425.1h8.6M121.9 412.4V416.5M117.6 412.4h8.6M117.6 416.5h8.6M137.5 396.5V403.1M133.2 396.5h8.6M133.2 403.1h8.6M152.5 380.1V388.9M148.2 380.1h8.6M148.2 388.9h8.6M167 360.1V369.7M162.7 360.1h8.6M162.7 369.7h8.6M181.1 332.3V342.5M176.8 332.3h8.6M176.8 342.5h8.6M194.8 302V312.3M190.5 302h8.6M190.5 312.3h8.6M208.2 273.4V284.2M203.9 273.4h8.6M203.9 284.2h8.6M221.4 235.9V248M217.1 235.9h8.6M217.1 248h8.6M234.4 197.8V211.5M230.1 197.8h8.6M230.1 211.5h8.6M247.2 170.2V185.1M242.9 170.2h8.6M242.9 185.1h8.6M259.8 130.9V147.6M255.5 130.9h8.6M255.5 147.6h8.6"/><path stroke="#c632dc" stroke-width="1.85" d="M67.9 424.8V429.3M63.6 424.8h8.6M63.6 429.3h8.6M87.1 425.3V429.2M82.8 425.3h8.6M82.8 429.2h8.6M104.6 421.9V425.3M100.3 421.9h8.6M100.3 425.3h8.6M121 413.3V417.2M116.7 413.3h8.6M116.7 417.2h8.6M136.6 398.1V404.5M132.3 398.1h8.6M132.3 404.5h8.6M151.5 383.3V392M147.2 383.3h8.6M147.2 392h8.6M165.9 358.6V368M161.6 358.6h8.6M161.6 368h8.6M179.9 338.1V348.2M175.6 338.1h8.6M175.6 348.2h8.6M193.6 303.1V313.4M189.3 303.1h8.6M189.3 313.4h8.6M207 276.7V287.4M202.7 276.7h8.6M202.7 287.4h8.6M220.1 246.4V258.3M215.8 246.4h8.6M215.8 258.3h8.6M233 199.5V213M228.7 199.5h8.6M228.7 213h8.6M245.8 168.2V182.9M241.5 168.2h8.6M241.5 182.9h8.6M258.3 137.6V153.8M254 137.6h8.6M254 153.8h8.6M270.7 78.5V99.6M266.4 78.5h8.6M266.4 99.6h8.6"/><path stroke="#c72fda" stroke-width="1.85" d="M67.3 425.9V430.4M63 425.9h8.6M63 430.4h8.6M86.4 423.4V427.3M82.1 423.4h8.6M82.1 427.3h8.6M103.8 422.6V426M99.5 422.6h8.6M99.5 426h8.6M120.1 415.2V419M115.8 415.2h8.6M115.8 419h8.6M135.6 399.7V406M131.3 399.7h8.6M131.3 406h8.6M150.4 386.5V395M146.1 386.5h8.6M146.1 395h8.6M164.8 365.4V374.7M160.5 365.4h8.6M160.5 374.7h8.6M178.7 339.7V349.8M174.4 339.7h8.6M174.4 349.8h8.6M192.3 306.5V316.7M188 306.5h8.6M188 316.7h8.6M205.7 278.1V288.6M201.4 278.1h8.6M201.4 288.6h8.6M218.8 249.9V261.6M214.5 249.9h8.6M214.5 261.6h8.6M231.6 202.9V216.2M227.3 202.9h8.6M227.3 216.2h8.6M244.3 167.7V182.3M240 167.7h8.6M240 182.3h8.6M256.9 154.4V170.1M252.6 154.4h8.6M252.6 170.1h8.6M269.2 91.6V111.7M264.9 91.6h8.6M264.9 111.7h8.6"/><path stroke="#c82cd8" stroke-width="1.85" d="M66.6 424.6V429.2M62.3 424.6h8.6M62.3 429.2h8.6M85.6 423.1V427.1M81.3 423.1h8.6M81.3 427.1h8.6M103 421.6V425M98.7 421.6h8.6M98.7 425h8.6M119.2 417.3V421M114.9 417.3h8.6M114.9 421h8.6M134.6 403.2V409.3M130.3 403.2h8.6M130.3 409.3h8.6M149.3 387.1V395.4M145 387.1h8.6M145 395.4h8.6M163.6 364.7V374M159.3 364.7h8.6M159.3 374h8.6M177.5 341.6V351.6M173.2 341.6h8.6M173.2 351.6h8.6M191.1 313V323.2M186.8 313h8.6M186.8 323.2h8.6M204.4 289.2V299.6M200.1 289.2h8.6M200.1 299.6h8.6M217.4 254V265.5M213.1 254h8.6M213.1 265.5h8.6M230.2 214.9V228M225.9 214.9h8.6M225.9 228h8.6M242.9 175V189.4M238.6 175h8.6M238.6 189.4h8.6M255.4 153V168.4M251.1 153h8.6M251.1 168.4h8.6M267.7 97V116.3M263.4 97h8.6M263.4 116.3h8.6"/><path stroke="#c829d5" stroke-width="1.85" d="M66 422.5V427.1M61.7 422.5h8.6M61.7 427.1h8.6M84.9 423.4V427.4M80.6 423.4h8.6M80.6 427.4h8.6M102.1 422.4V425.8M97.8 422.4h8.6M97.8 425.8h8.6M118.2 416.2V419.8M113.9 416.2h8.6M113.9 419.8h8.6M133.5 404.6V410.5M129.2 404.6h8.6M129.2 410.5h8.6M148.3 384.1V392.2M144 384.1h8.6M144 392.2h8.6M162.5 370.8V380.1M158.2 370.8h8.6M158.2 380.1h8.6M176.3 345V355M172 345h8.6M172 355h8.6M189.8 318.4V328.6M185.5 318.4h8.6M185.5 328.6h8.6M203.1 292.9V303.3M198.8 292.9h8.6M198.8 303.3h8.6M216.1 260.7V272M211.8 260.7h8.6M211.8 272h8.6M228.8 218.2V231.2M224.5 218.2h8.6M224.5 231.2h8.6M241.4 180.6V194.9M237.1 180.6h8.6M237.1 194.9h8.6M253.9 158.1V173.3M249.6 158.1h8.6M249.6 173.3h8.6M266.2 116.1V134.6M261.9 116.1h8.6M261.9 134.6h8.6"/><path stroke="#c827d3" stroke-width="1.85" d="M65.3 424.9V429.5M61 424.9h8.6M61 429.5h8.6M84.1 423.5V427.6M79.8 423.5h8.6M79.8 427.6h8.6M101.2 422.4V425.9M96.9 422.4h8.6M96.9 425.9h8.6M117.3 417.2V420.8M113 417.2h8.6M113 420.8h8.6M132.5 402.3V408.1M128.2 402.3h8.6M128.2 408.1h8.6M147.2 388.2V396.1M142.9 388.2h8.6M142.9 396.1h8.6M161.3 371.3V380.5M157 371.3h8.6M157 380.5h8.6M175.1 347.9V357.8M170.8 347.9h8.6M170.8 357.8h8.6M188.6 322.2V332.4M184.3 322.2h8.6M184.3 332.4h8.6M201.7 293.2V303.6M197.4 293.2h8.6M197.4 303.6h8.6M214.7 264.4V275.6M210.4 264.4h8.6M210.4 275.6h8.6M227.4 222V234.7M223.1 222h8.6M223.1 234.7h8.6M240 183.7V197.8M235.7 183.7h8.6M235.7 197.8h8.6M252.4 156.5V171.6M248.1 156.5h8.6M248.1 171.6h8.6M264.7 110.5V128.3M260.4 110.5h8.6M260.4 128.3h8.6M276.8 62.6V86.7M272.5 62.6h8.6M272.5 86.7h8.6"/><path stroke="#c824d0" stroke-width="1.85" d="M64.7 423.8V428.4M60.4 423.8h8.6M60.4 428.4h8.6M83.3 423.7V427.8M79 423.7h8.6M79 427.8h8.6M100.4 420.3V423.8M96.1 420.3h8.6M96.1 423.8h8.6M116.3 418V421.6M112 418h8.6M112 421.6h8.6M131.5 406.1V411.7M127.2 406.1h8.6M127.2 411.7h8.6M146.1 392.7V400.4M141.8 392.7h8.6M141.8 400.4h8.6M160.2 373.1V382.3M155.9 373.1h8.6M155.9 382.3h8.6M173.9 345.5V355.3M169.6 345.5h8.6M169.6 355.3h8.6M187.3 322V332.1M183 322h8.6M183 332.1h8.6M200.4 291.7V302M196.1 291.7h8.6M196.1 302h8.6M213.3 260V271M209 260h8.6M209 271h8.6M226 231V243.4M221.7 231h8.6M221.7 243.4h8.6M238.5 188.1V202M234.2 188.1h8.6M234.2 202h8.6M250.9 169V183.9M246.6 169h8.6M246.6 183.9h8.6M263.1 127.5V144.7M258.8 127.5h8.6M258.8 144.7h8.6M275.2 65.8V88.7M270.9 65.8h8.6M270.9 88.7h8.6"/><path stroke="#c821cd" stroke-width="1.85" d="M64 425.8V430.3M59.7 425.8h8.6M59.7 430.3h8.6M82.6 422.6V426.7M78.3 422.6h8.6M78.3 426.7h8.6M99.5 422.1V425.6M95.2 422.1h8.6M95.2 425.6h8.6M115.4 418.3V421.8M111.1 418.3h8.6M111.1 421.8h8.6M130.5 405.5V411M126.2 405.5h8.6M126.2 411h8.6M145 392.3V399.9M140.7 392.3h8.6M140.7 399.9h8.6M159 373.7V382.7M154.7 373.7h8.6M154.7 382.7h8.6M172.7 354.5V364.2M168.4 354.5h8.6M168.4 364.2h8.6M186 321.8V331.8M181.7 321.8h8.6M181.7 331.8h8.6M199.1 300.7V310.9M194.8 300.7h8.6M194.8 310.9h8.6M211.9 269.5V280.3M207.6 269.5h8.6M207.6 280.3h8.6M224.6 233.1V245.3M220.3 233.1h8.6M220.3 245.3h8.6M237 198.5V212.2M232.7 198.5h8.6M232.7 212.2h8.6M249.4 163.6V178.3M245.1 163.6h8.6M245.1 178.3h8.6M261.5 144.4V161M257.2 144.4h8.6M257.2 161h8.6M273.6 72.9V94.7M269.3 72.9h8.6M269.3 94.7h8.6"/><path stroke="#c81fcb" stroke-width="1.85" d="M81.8 422.5V426.6M77.5 422.5h8.6M77.5 426.6h8.6M98.6 423.6V427.1M94.3 423.6h8.6M94.3 427.1h8.6M114.4 418.7V422.2M110.1 418.7h8.6M110.1 422.2h8.6M129.4 408.1V413.4M125.1 408.1h8.6M125.1 413.4h8.6M143.8 394.2V401.6M139.5 394.2h8.6M139.5 401.6h8.6M157.8 373V382M153.5 373h8.6M153.5 382h8.6M171.4 359.7V369.3M167.1 359.7h8.6M167.1 369.3h8.6M184.7 327.4V337.4M180.4 327.4h8.6M180.4 337.4h8.6M197.7 301.2V311.4M193.4 301.2h8.6M193.4 311.4h8.6M210.5 273.5V284.2M206.2 273.5h8.6M206.2 284.2h8.6M223.1 243.4V255.3M218.8 243.4h8.6M218.8 255.3h8.6M235.5 202.1V215.6M231.2 202.1h8.6M231.2 215.6h8.6M247.8 170.8V185.4M243.5 170.8h8.6M243.5 185.4h8.6M260 145.8V161.8M255.7 145.8h8.6M255.7 161.8h8.6M272 88.1V108.9M267.7 88.1h8.6M267.7 108.9h8.6"/><path stroke="#c81cc8" stroke-width="1.85" d="M81 423.2V427.4M76.7 423.2h8.6M76.7 427.4h8.6M97.7 423V426.5M93.4 423h8.6M93.4 426.5h8.6M113.4 421.4V424.8M109.1 421.4h8.6M109.1 424.8h8.6M128.4 409.6V414.7M124.1 409.6h8.6M124.1 414.7h8.6M142.7 393.9V401.1M138.4 393.9h8.6M138.4 401.1h8.6M156.6 381.1V390.1M152.3 381.1h8.6M152.3 390.1h8.6M170.2 357.3V366.8M165.9 357.3h8.6M165.9 366.8h8.6M183.4 331.2V341.2M179.1 331.2h8.6M179.1 341.2h8.6M196.4 306.3V316.4M192.1 306.3h8.6M192.1 316.4h8.6M209.1 278.5V289.1M204.8 278.5h8.6M204.8 289.1h8.6M221.7 246V257.7M217.4 246h8.6M217.4 257.7h8.6M234 190.4V203.7M229.7 190.4h8.6M229.7 203.7h8.6M246.3 176V190.5M242 176h8.6M242 190.5h8.6M258.4 151.6V167.1M254.1 151.6h8.6M254.1 167.1h8.6M270.4 107.7V127.6M266.1 107.7h8.6M266.1 127.6h8.6"/><path stroke="#c819c5" stroke-width="1.85" d="M80.2 425.6V429.8M75.9 425.6h8.6M75.9 429.8h8.6M96.8 421.2V424.7M92.5 421.2h8.6M92.5 424.7h8.6M112.4 420.2V423.6M108.1 420.2h8.6M108.1 423.6h8.6M127.3 408.6V413.5M123 408.6h8.6M123 413.5h8.6M141.6 399.1V406.1M137.3 399.1h8.6M137.3 406.1h8.6M155.4 379V387.9M151.1 379h8.6M151.1 387.9h8.6M168.9 357V366.4M164.6 357h8.6M164.6 366.4h8.6M182.1 335.4V345.3M177.8 335.4h8.6M177.8 345.3h8.6M195 307.2V317.3M190.7 307.2h8.6M190.7 317.3h8.6M207.7 285.3V295.7M203.4 285.3h8.6M203.4 295.7h8.6M220.2 254V265.4M215.9 254h8.6M215.9 265.4h8.6M232.5 213.8V226.9M228.2 213.8h8.6M228.2 226.9h8.6M244.7 174.5V188.7M240.4 174.5h8.6M240.4 188.7h8.6M256.8 163.4V178.7M252.5 163.4h8.6M252.5 178.7h8.6M268.7 106.5V125.4M264.4 106.5h8.6M264.4 125.4h8.6"/><path stroke="#c817c3" stroke-width="1.85" d="M79.4 423.3V427.6M75.1 423.3h8.6M75.1 427.6h8.6M95.9 423.3V426.9M91.6 423.3h8.6M91.6 426.9h8.6M111.4 421.5V424.9M107.1 421.5h8.6M107.1 424.9h8.6M126.2 409.3V414M121.9 409.3h8.6M121.9 414h8.6M140.4 393.3V400.2M136.1 393.3h8.6M136.1 400.2h8.6M154.2 381.2V390.1M149.9 381.2h8.6M149.9 390.1h8.6M167.6 365.6V375M163.3 365.6h8.6M163.3 375h8.6M180.7 343.8V353.6M176.4 343.8h8.6M176.4 353.6h8.6M193.6 314.3V324.3M189.3 314.3h8.6M189.3 324.3h8.6M206.2 281.3V291.5M201.9 281.3h8.6M201.9 291.5h8.6M218.7 250.3V261.6M214.4 250.3h8.6M214.4 261.6h8.6M231 221.2V234M226.7 221.2h8.6M226.7 234h8.6M243.1 187.6V201.7M238.8 187.6h8.6M238.8 201.7h8.6M255.2 167V182.2M250.9 167h8.6M250.9 182.2h8.6M267.1 114.5V132.6M262.8 114.5h8.6M262.8 132.6h8.6M278.9 68.6V93.2M274.6 68.6h8.6M274.6 93.2h8.6M68.5 425.2V428M64.2 425.2h8.6M64.2 428h8.6"/><path stroke="#c814c0" stroke-width="1.85" d="M78.6 423.3V427.6M74.3 423.3h8.6M74.3 427.6h8.6M95 422.3V425.9M90.7 422.3h8.6M90.7 425.9h8.6M110.4 423.1V426.5M106.1 423.1h8.6M106.1 426.5h8.6M125.1 410.4V414.9M120.8 410.4h8.6M120.8 414.9h8.6M139.3 397.3V403.9M135 397.3h8.6M135 403.9h8.6M153 387.3V396M148.7 387.3h8.6M148.7 396h8.6M166.3 367.8V377.1M162 367.8h8.6M162 377.1h8.6M179.4 344.4V354.2M175.1 344.4h8.6M175.1 354.2h8.6M192.2 316.2V326.2M187.9 316.2h8.6M187.9 326.2h8.6M204.8 292.1V302.3M200.5 292.1h8.6M200.5 302.3h8.6M217.2 258.8V270M212.9 258.8h8.6M212.9 270h8.6M229.4 221.3V233.9M225.1 221.3h8.6M225.1 233.9h8.6M241.6 185.8V199.8M237.3 185.8h8.6M237.3 199.8h8.6M253.5 160.7V175.6M249.2 160.7h8.6M249.2 175.6h8.6M265.4 126.8V144.2M261.1 126.8h8.6M261.1 144.2h8.6M277.2 62.2V85.6M272.9 62.2h8.6M272.9 85.6h8.6"/><path stroke="#c811bd" stroke-width="1.85" d="M77.7 423.3V427.6M73.4 423.3h8.6M73.4 427.6h8.6M94.1 423.3V426.9M89.8 423.3h8.6M89.8 426.9h8.6M109.4 423.4V426.7M105.1 423.4h8.6M105.1 426.7h8.6M124 412.8V417.1M119.7 412.8h8.6M119.7 417.1h8.6M138.1 400.5V407M133.8 400.5h8.6M133.8 407h8.6M151.7 384.5V393M147.4 384.5h8.6M147.4 393h8.6M165 369.8V379M160.7 369.8h8.6M160.7 379h8.6M178 347.1V356.8M173.7 347.1h8.6M173.7 356.8h8.6M190.8 317V327M186.5 317h8.6M186.5 327h8.6M203.3 298V308.2M199 298h8.6M199 308.2h8.6M215.7 266.1V277.1M211.4 266.1h8.6M211.4 277.1h8.6M227.9 223.8V236.1M223.6 223.8h8.6M223.6 236.1h8.6M240 200.7V214.5M235.7 200.7h8.6M235.7 214.5h8.6M251.9 172.1V186.9M247.6 172.1h8.6M247.6 186.9h8.6M263.7 139V155.7M259.4 139h8.6M259.4 155.7h8.6M275.5 82.6V104.7M271.2 82.6h8.6M271.2 104.7h8.6M67.1 425.2V428M62.8 425.2h8.6M62.8 428h8.6"/><path stroke="#c80fbb" stroke-width="1.85" d="M76.9 424.3V428.7M72.6 424.3h8.6M72.6 428.7h8.6M93.1 422.6V426.2M88.8 422.6h8.6M88.8 426.2h8.6M108.4 422V425.3M104.1 422h8.6M104.1 425.3h8.6M122.9 416.1V420.2M118.6 416.1h8.6M118.6 420.2h8.6M136.9 402.3V408.6M132.6 402.3h8.6M132.6 408.6h8.6M150.5 390.8V399.1M146.2 390.8h8.6M146.2 399.1h8.6M163.7 365.9V375M159.4 365.9h8.6M159.4 375h8.6M176.6 351.2V361M172.3 351.2h8.6M172.3 361h8.6M189.3 322.4V332.3M185 322.4h8.6M185 332.3h8.6M201.8 297.4V307.4M197.5 297.4h8.6M197.5 307.4h8.6M214.2 272.1V283M209.9 272.1h8.6M209.9 283h8.6M226.3 235.3V247.4M222 235.3h8.6M222 247.4h8.6M238.3 206.4V220M234 206.4h8.6M234 220h8.6M250.2 171V185.6M245.9 171h8.6M245.9 185.6h8.6M262 139.8V156M257.7 139.8h8.6M257.7 156h8.6M273.7 103.3V124.3M269.4 103.3h8.6M269.4 124.3h8.6"/><path stroke="#c80cb8" stroke-width="1.85" d="M76.1 423.2V427.5M71.8 423.2h8.6M71.8 427.5h8.6M92.2 423.7V427.4M87.9 423.7h8.6M87.9 427.4h8.6M107.3 422.5V425.8M103 422.5h8.6M103 425.8h8.6M121.8 417.5V421.4M117.5 417.5h8.6M117.5 421.4h8.6M135.7 402.3V408.5M131.4 402.3h8.6M131.4 408.5h8.6M149.2 389.6V397.7M144.9 389.6h8.6M144.9 397.7h8.6M162.4 371.3V380.4M158.1 371.3h8.6M158.1 380.4h8.6M175.3 348.9V358.6M171 348.9h8.6M171 358.6h8.6M187.9 326V335.9M183.6 326h8.6M183.6 335.9h8.6M200.3 302.2V312.3M196 302.2h8.6M196 312.3h8.6M212.6 274.3V284.9M208.3 274.3h8.6M208.3 284.9h8.6M224.7 245.6V257.4M220.4 245.6h8.6M220.4 257.4h8.6M236.7 209V222.3M232.4 209h8.6M232.4 222.3h8.6M248.6 176.1V190.5M244.3 176.1h8.6M244.3 190.5h8.6M260.3 149.1V164.7M256 149.1h8.6M256 164.7h8.6M272 106.4V126.2M267.7 106.4h8.6M267.7 126.2h8.6M283.6 53.5V81.1M279.3 53.5h8.6M279.3 81.1h8.6"/><path stroke="#c80cb4" stroke-width="1.85" d="M75.2 425.9V430.2M70.9 425.9h8.6M70.9 430.2h8.6M91.2 425.2V428.9M86.9 425.2h8.6M86.9 428.9h8.6M106.3 422.7V426.1M102 422.7h8.6M102 426.1h8.6M120.7 416.9V420.6M116.4 416.9h8.6M116.4 420.6h8.6M134.5 404.4V410.3M130.2 404.4h8.6M130.2 410.3h8.6M147.9 391.7V399.6M143.6 391.7h8.6M143.6 399.6h8.6M161 378.5V387.5M156.7 378.5h8.6M156.7 387.5h8.6M173.9 354.7V364.3M169.6 354.7h8.6M169.6 364.3h8.6M186.4 334.4V344.2M182.1 334.4h8.6M182.1 344.2h8.6M198.8 302.4V312.4M194.5 302.4h8.6M194.5 312.4h8.6M211.1 278.2V288.7M206.8 278.2h8.6M206.8 288.7h8.6M223.1 251.5V263.1M218.8 251.5h8.6M218.8 263.1h8.6M235.1 195.7V208.7M230.8 195.7h8.6M230.8 208.7h8.6M246.9 175V189.2M242.6 175h8.6M242.6 189.2h8.6M258.6 156.9V172.3M254.3 156.9h8.6M254.3 172.3h8.6M270.2 125V143.9M265.9 125h8.6M265.9 143.9h8.6M281.8 58.1V84.1M277.5 58.1h8.6M277.5 84.1h8.6"/><path stroke="#c70cb1" stroke-width="1.85" d="M74.4 423.4V427.8M70.1 423.4h8.6M70.1 427.8h8.6M90.3 422.6V426.3M86 422.6h8.6M86 426.3h8.6M105.2 421.9V425.2M100.9 421.9h8.6M100.9 425.2h8.6M119.5 416.7V420.3M115.2 416.7h8.6M115.2 420.3h8.6M133.3 407.9V413.7M129 407.9h8.6M129 413.7h8.6M146.6 391.8V399.4M142.3 391.8h8.6M142.3 399.4h8.6M159.7 378.1V387.1M155.4 378.1h8.6M155.4 387.1h8.6M172.4 356.9V366.4M168.1 356.9h8.6M168.1 366.4h8.6M185 336.4V346.1M180.7 336.4h8.6M180.7 346.1h8.6M197.3 308.9V318.8M193 308.9h8.6M193 318.8h8.6M209.5 280.9V291.2M205.2 280.9h8.6M205.2 291.2h8.6M221.5 258.1V269.5M217.2 258.1h8.6M217.2 269.5h8.6M233.4 218.5V231.3M229.1 218.5h8.6M229.1 231.3h8.6M245.2 186.6V200.7M240.9 186.6h8.6M240.9 200.7h8.6M256.9 168.9V184M252.6 168.9h8.6M252.6 184h8.6M268.4 130.7V148.8M264.1 130.7h8.6M264.1 148.8h8.6M279.9 80.2V104.7M275.6 80.2h8.6M275.6 104.7h8.6"/><path stroke="#c70dad" stroke-width="1.85" d="M73.5 423.9V428.3M69.2 423.9h8.6M69.2 428.3h8.6M89.3 424.1V427.9M85 424.1h8.6M85 427.9h8.6M104.2 423.1V426.5M99.9 423.1h8.6M99.9 426.5h8.6M118.4 417V420.6M114.1 417h8.6M114.1 420.6h8.6M132 409.4V414.9M127.7 409.4h8.6M127.7 414.9h8.6M145.3 393.8V401.3M141 393.8h8.6M141 401.3h8.6M158.3 379.4V388.3M154 379.4h8.6M154 388.3h8.6M171 359.3V368.8M166.7 359.3h8.6M166.7 368.8h8.6M183.5 338.2V348M179.2 338.2h8.6M179.2 348h8.6M195.8 312.5V322.4M191.5 312.5h8.6M191.5 322.4h8.6M207.9 289.4V299.5M203.6 289.4h8.6M203.6 299.5h8.6M219.9 256.6V267.8M215.6 256.6h8.6M215.6 267.8h8.6M231.7 223.1V235.7M227.4 223.1h8.6M227.4 235.7h8.6M243.5 189.9V203.8M239.2 189.9h8.6M239.2 203.8h8.6M255.1 173.1V187.9M250.8 173.1h8.6M250.8 187.9h8.6M266.7 145.2V162.4M262.4 145.2h8.6M262.4 162.4h8.6M278.1 88.4V111.5M273.8 88.4h8.6M273.8 111.5h8.6"/><path stroke="#c60daa" stroke-width="1.85" d="M72.6 424.3V428.7M68.3 424.3h8.6M68.3 428.7h8.6M88.3 424.1V428M84 424.1h8.6M84 428h8.6M103.1 424.2V427.6M98.8 424.2h8.6M98.8 427.6h8.6M117.2 418.4V422M112.9 418.4h8.6M112.9 422h8.6M130.8 408.1V413.5M126.5 408.1h8.6M126.5 413.5h8.6M144 399.2V406.4M139.7 399.2h8.6M139.7 406.4h8.6M156.9 380.5V389.3M152.6 380.5h8.6M152.6 389.3h8.6M169.6 363.8V373.1M165.3 363.8h8.6M165.3 373.1h8.6M182 342.2V351.9M177.7 342.2h8.6M177.7 351.9h8.6M194.2 316.8V326.6M189.9 316.8h8.6M189.9 326.6h8.6M206.3 296.1V306.1M202 296.1h8.6M202 306.1h8.6M218.2 258.2V269.2M213.9 258.2h8.6M213.9 269.2h8.6M230 231.4V243.6M225.7 231.4h8.6M225.7 243.6h8.6M241.7 193V206.7M237.4 193h8.6M237.4 206.7h8.6M253.3 170.6V185.2M249 170.6h8.6M249 185.2h8.6M264.8 145.3V161.9M260.5 145.3h8.6M260.5 161.9h8.6M276.3 97.6V119.4M272 97.6h8.6M272 119.4h8.6"/><path stroke="#c60da6" stroke-width="1.85" d="M71.7 425.4V429.8M67.4 425.4h8.6M67.4 429.8h8.6M87.3 423.9V427.8M83 423.9h8.6M83 427.8h8.6M102 422.9V426.3M97.7 422.9h8.6M97.7 426.3h8.6M116 421.6V425.1M111.7 421.6h8.6M111.7 425.1h8.6M129.5 410.9V416.1M125.2 410.9h8.6M125.2 416.1h8.6M142.7 397.9V405M138.4 397.9h8.6M138.4 405h8.6M155.5 382V390.7M151.2 382h8.6M151.2 390.7h8.6M168.1 365.7V374.9M163.8 365.7h8.6M163.8 374.9h8.6M180.5 345.5V355.1M176.2 345.5h8.6M176.2 355.1h8.6M192.7 322.6V332.4M188.4 322.6h8.6M188.4 332.4h8.6M204.7 296.7V306.7M200.4 296.7h8.6M200.4 306.7h8.6M216.6 266.2V277M212.3 266.2h8.6M212.3 277h8.6M228.3 237.9V249.9M224 237.9h8.6M224 249.9h8.6M240 200.8V214.2M235.7 200.8h8.6M235.7 214.2h8.6M251.5 177.5V191.9M247.2 177.5h8.6M247.2 191.9h8.6M263 151.5V167.5M258.7 151.5h8.6M258.7 167.5h8.6M274.4 108.7V129.2M270.1 108.7h8.6M270.1 129.2h8.6M285.7 60.1V88.6M281.4 60.1h8.6M281.4 88.6h8.6"/><path stroke="#c60da2" stroke-width="1.85" d="M70.8 424.8V429.2M66.5 424.8h8.6M66.5 429.2h8.6M86.3 424.5V428.4M82 424.5h8.6M82 428.4h8.6M100.9 423.2V426.6M96.6 423.2h8.6M96.6 426.6h8.6M114.8 421.6V425M110.5 421.6h8.6M110.5 425h8.6M128.3 410.2V415.1M124 410.2h8.6M124 415.1h8.6M141.3 398.8V405.6M137 398.8h8.6M137 405.6h8.6M154.1 386.3V395M149.8 386.3h8.6M149.8 395h8.6M166.6 370.4V379.5M162.3 370.4h8.6M162.3 379.5h8.6M178.9 346.9V356.5M174.6 346.9h8.6M174.6 356.5h8.6M191.1 322.7V332.5M186.8 322.7h8.6M186.8 332.5h8.6M203 297.5V307.4M198.7 297.5h8.6M198.7 307.4h8.6M214.9 270.3V281M210.6 270.3h8.6M210.6 281h8.6M226.6 239.3V251M222.3 239.3h8.6M222.3 251h8.6M238.2 210.2V223.3M233.9 210.2h8.6M233.9 223.3h8.6M249.7 180V194.3M245.4 180h8.6M245.4 194.3h8.6M261.2 164.8V180.3M256.9 164.8h8.6M256.9 180.3h8.6M272.5 110.2V129.5M268.2 110.2h8.6M268.2 129.5h8.6M283.8 62.8V89.5M279.5 62.8h8.6M279.5 89.5h8.6"/><path stroke="#c50d9f" stroke-width="1.85" d="M69.9 425.2V429.7M65.6 425.2h8.6M65.6 429.7h8.6M85.3 423.2V427.2M81 423.2h8.6M81 427.2h8.6M99.7 423.7V427.2M95.4 423.7h8.6M95.4 427.2h8.6M113.6 422.5V425.9M109.3 422.5h8.6M109.3 425.9h8.6M127 414.3V419M122.7 414.3h8.6M122.7 419h8.6M140 401.9V408.6M135.7 401.9h8.6M135.7 408.6h8.6M152.7 388.1V396.6M148.4 388.1h8.6M148.4 396.6h8.6M165.1 368.5V377.5M160.8 368.5h8.6M160.8 377.5h8.6M177.4 350.4V360M173.1 350.4h8.6M173.1 360h8.6M189.5 326.2V335.9M185.2 326.2h8.6M185.2 335.9h8.6M201.4 303.2V313M197.1 303.2h8.6M197.1 313h8.6M213.2 279.5V289.9M208.9 279.5h8.6M208.9 289.9h8.6M224.9 254.5V265.9M220.6 254.5h8.6M220.6 265.9h8.6M236.4 210.1V223M232.1 210.1h8.6M232.1 223h8.6M247.9 185.6V199.7M243.6 185.6h8.6M243.6 199.7h8.6M259.3 162.1V177.4M255 162.1h8.6M255 177.4h8.6M270.6 130.4V148.8M266.3 130.4h8.6M266.3 148.8h8.6M281.9 68.6V93.7M277.6 68.6h8.6M277.6 93.7h8.6"/><path stroke="#c50e9b" stroke-width="1.85" d="M84.2 422.4V426.5M79.9 422.4h8.6M79.9 426.5h8.6M98.6 421.4V424.9M94.3 421.4h8.6M94.3 424.9h8.6M112.4 420.7V424.1M108.1 420.7h8.6M108.1 424.1h8.6M125.7 415.6V420M121.4 415.6h8.6M121.4 420h8.6M138.6 401.8V408.3M134.3 401.8h8.6M134.3 408.3h8.6M151.2 389.4V397.6M146.9 389.4h8.6M146.9 397.6h8.6M163.6 373.5V382.5M159.3 373.5h8.6M159.3 382.5h8.6M175.8 355.6V365.2M171.5 355.6h8.6M171.5 365.2h8.6M187.9 331.9V341.6M183.6 331.9h8.6M183.6 341.6h8.6M199.7 306.3V316.1M195.4 306.3h8.6M195.4 316.1h8.6M211.5 284.1V294.4M207.2 284.1h8.6M207.2 294.4h8.6M223.1 256.5V267.8M218.8 256.5h8.6M218.8 267.8h8.6M234.6 226.2V238.9M230.3 226.2h8.6M230.3 238.9h8.6M246 187.6V201.5M241.7 187.6h8.6M241.7 201.5h8.6M257.4 167.3V182.2M253.1 167.3h8.6M253.1 182.2h8.6M268.7 143.4V160.9M264.4 143.4h8.6M264.4 160.9h8.6M279.9 72.5V96M275.6 72.5h8.6M275.6 96h8.6"/><path stroke="#c40e98" stroke-width="1.85" d="M83.2 423V427.1M78.9 423h8.6M78.9 427.1h8.6M97.5 422.9V426.4M93.2 422.9h8.6M93.2 426.4h8.6M111.1 423.5V426.8M106.8 423.5h8.6M106.8 426.8h8.6M124.3 414.8V419M120 414.8h8.6M120 419h8.6M137.2 404.4V410.7M132.9 404.4h8.6M132.9 410.7h8.6M149.8 393.8V401.8M145.5 393.8h8.6M145.5 401.8h8.6M162.1 374.5V383.4M157.8 374.5h8.6M157.8 383.4h8.6M174.2 358.8V368.2M169.9 358.8h8.6M169.9 368.2h8.6M186.2 334.8V344.5M181.9 334.8h8.6M181.9 344.5h8.6M198 308.7V318.4M193.7 308.7h8.6M193.7 318.4h8.6M209.7 285.5V295.6M205.4 285.5h8.6M205.4 295.6h8.6M221.3 253.1V264.2M217 253.1h8.6M217 264.2h8.6M232.8 225.4V237.8M228.5 225.4h8.6M228.5 237.8h8.6M244.2 194.8V208.4M239.9 194.8h8.6M239.9 208.4h8.6M255.5 171.1V185.8M251.2 171.1h8.6M251.2 185.8h8.6M266.7 154.2V170.9M262.4 154.2h8.6M262.4 170.9h8.6M277.9 103.8V125.8M273.6 103.8h8.6M273.6 125.8h8.6M289 27.3V58.1M284.7 27.3h8.6M284.7 58.1h8.6"/><path stroke="#c40e94" stroke-width="1.85" d="M82.1 424.1V428.2M77.8 424.1h8.6M77.8 428.2h8.6M96.3 422.7V426.2M92 422.7h8.6M92 426.2h8.6M109.9 422.9V426.2M105.6 422.9h8.6M105.6 426.2h8.6M123 416.3V420.3M118.7 416.3h8.6M118.7 420.3h8.6M135.8 405.9V412M131.5 405.9h8.6M131.5 412h8.6M148.3 393.8V401.6M144 393.8h8.6M144 401.6h8.6M160.6 377.7V386.6M156.3 377.7h8.6M156.3 386.6h8.6M172.6 365.1V374.5M168.3 365.1h8.6M168.3 374.5h8.6M184.6 340V349.6M180.3 340h8.6M180.3 349.6h8.6M196.3 310.2V319.9M192 310.2h8.6M192 319.9h8.6M208 293.8V303.8M203.7 293.8h8.6M203.7 303.8h8.6M219.5 269.2V280M215.2 269.2h8.6M215.2 280h8.6M230.9 240V252.1M226.6 240h8.6M226.6 252.1h8.6M242.3 198.2V211.6M238 198.2h8.6M238 211.6h8.6M253.6 173.8V188.2M249.3 173.8h8.6M249.3 188.2h8.6M264.8 157.5V173.7M260.5 157.5h8.6M260.5 173.7h8.6M275.9 115V135.6M271.6 115h8.6M271.6 135.6h8.6M287 60.5V89.3M282.7 60.5h8.6M282.7 89.3h8.6"/><path stroke="#c30e8f" stroke-width="1.85" d="M81 423.7V427.9M76.7 423.7h8.6M76.7 427.9h8.6M95.1 423.9V427.5M90.8 423.9h8.6M90.8 427.5h8.6M108.6 422.3V425.6M104.3 422.3h8.6M104.3 425.6h8.6M121.6 414.7V418.5M117.3 414.7h8.6M117.3 418.5h8.6M134.4 408.8V414.7M130.1 408.8h8.6M130.1 414.7h8.6M146.8 396.1V403.7M142.5 396.1h8.6M142.5 403.7h8.6M159 381.1V389.9M154.7 381.1h8.6M154.7 389.9h8.6M171 362.9V372.2M166.7 362.9h8.6M166.7 372.2h8.6M182.9 342.7V352.2M178.6 342.7h8.6M178.6 352.2h8.6M194.6 317.2V326.9M190.3 317.2h8.6M190.3 326.9h8.6M206.2 301.2V311M201.9 301.2h8.6M201.9 311h8.6M217.7 267.7V278.4M213.4 267.7h8.6M213.4 278.4h8.6M229.1 242.5V254.3M224.8 242.5h8.6M224.8 254.3h8.6M240.4 208.9V222M236.1 208.9h8.6M236.1 222h8.6M251.6 182.4V196.6M247.3 182.4h8.6M247.3 196.6h8.6M262.8 161.1V176.8M258.5 161.1h8.6M258.5 176.8h8.6M273.9 121.5V141M269.6 121.5h8.6M269.6 141h8.6M285 59.8V86.6M280.7 59.8h8.6M280.7 86.6h8.6"/><path stroke="#c30f8b" stroke-width="1.85" d="M79.9 423.1V427.3M75.6 423.1h8.6M75.6 427.3h8.6M93.9 423.7V427.3M89.6 423.7h8.6M89.6 427.3h8.6M107.3 422V425.3M103 422h8.6M103 425.3h8.6M120.3 420.5V424.1M116 420.5h8.6M116 424.1h8.6M132.9 408.2V413.8M128.6 408.2h8.6M128.6 413.8h8.6M145.3 397.4V404.8M141 397.4h8.6M141 404.8h8.6M157.4 380.4V389.2M153.1 380.4h8.6M153.1 389.2h8.6M169.4 365V374.1M165.1 365h8.6M165.1 374.1h8.6M181.2 350.4V359.8M176.9 350.4h8.6M176.9 359.8h8.6M192.8 319.1V328.7M188.5 319.1h8.6M188.5 328.7h8.6M204.4 300.2V310M200.1 300.2h8.6M200.1 310h8.6M215.8 266.8V277.3M211.5 266.8h8.6M211.5 277.3h8.6M227.2 256.7V268.1M222.9 256.7h8.6M222.9 268.1h8.6M238.5 218.4V231.3M234.2 218.4h8.6M234.2 231.3h8.6M249.7 192.5V206.5M245.4 192.5h8.6M245.4 206.5h8.6M260.8 159.6V174.9M256.5 159.6h8.6M256.5 174.9h8.6M271.9 134.3V152.7M267.6 134.3h8.6M267.6 152.7h8.6M282.9 63.6V88.6M278.6 63.6h8.6M278.6 88.6h8.6"/><path stroke="#c20f86" stroke-width="1.85" d="M78.8 421.4V425.6M74.5 421.4h8.6M74.5 425.6h8.6M92.7 423.3V426.9M88.4 423.3h8.6M88.4 426.9h8.6M106 424.1V427.4M101.7 424.1h8.6M101.7 427.4h8.6M118.9 419.5V423M114.6 419.5h8.6M114.6 423h8.6M131.4 411.3V416.6M127.1 411.3h8.6M127.1 416.6h8.6M143.7 396.3V403.4M139.4 396.3h8.6M139.4 403.4h8.6M155.8 383.2V391.9M151.5 383.2h8.6M151.5 391.9h8.6M167.7 370.1V379.2M163.4 370.1h8.6M163.4 379.2h8.6M179.5 351.3V360.7M175.2 351.3h8.6M175.2 360.7h8.6M191.1 324.5V334M186.8 324.5h8.6M186.8 334h8.6M202.6 304.4V314.1M198.3 304.4h8.6M198.3 314.1h8.6M214 284.1V294.4M209.7 284.1h8.6M209.7 294.4h8.6M225.3 255.9V267.2M221 255.9h8.6M221 267.2h8.6M236.5 225.3V237.9M232.2 225.3h8.6M232.2 237.9h8.6M247.7 189.3V203.1M243.4 189.3h8.6M243.4 203.1h8.6M258.8 171.3V186.2M254.5 171.3h8.6M254.5 186.2h8.6M269.8 145.3V162.8M265.5 145.3h8.6M265.5 162.8h8.6M280.8 89.5V112.8M276.5 89.5h8.6M276.5 112.8h8.6M291.7 33.6V66.2M287.4 33.6h8.6M287.4 66.2h8.6M72.6 425.2V428M68.3 425.2h8.6M68.3 428h8.6"/><path stroke="#c10f81" stroke-width="1.85" d="M77.7 423.8V428.1M73.4 423.8h8.6M73.4 428.1h8.6M91.4 423.5V427.2M87.1 423.5h8.6M87.1 427.2h8.6M104.7 423.2V426.6M100.4 423.2h8.6M100.4 426.6h8.6M117.5 422.3V425.8M113.2 422.3h8.6M113.2 425.8h8.6M129.9 410.9V416M125.6 410.9h8.6M125.6 416h8.6M142.2 399.9V406.7M137.9 399.9h8.6M137.9 406.7h8.6M154.2 388.7V397.3M149.9 388.7h8.6M149.9 397.3h8.6M166 369.3V378.2M161.7 369.3h8.6M161.7 378.2h8.6M177.7 352.9V362.4M173.4 352.9h8.6M173.4 362.4h8.6M189.3 330.1V339.7M185 330.1h8.6M185 339.7h8.6M200.7 312V321.6M196.4 312h8.6M196.4 321.6h8.6M212.1 289.2V299.4M207.8 289.2h8.6M207.8 299.4h8.6M223.3 260.6V271.7M219 260.6h8.6M219 271.7h8.6M234.5 228.3V240.6M230.2 228.3h8.6M230.2 240.6h8.6M245.6 197.9V211.4M241.3 197.9h8.6M241.3 211.4h8.6M256.7 175.5V190M252.4 175.5h8.6M252.4 190h8.6M267.7 153.7V170.4M263.4 153.7h8.6M263.4 170.4h8.6M278.7 112.6V134.2M274.4 112.6h8.6M274.4 134.2h8.6M289.6 64V94.3M285.3 64h8.6M285.3 94.3h8.6"/><path stroke="#c0107c" stroke-width="1.85" d="M76.5 422.8V427.2M72.2 422.8h8.6M72.2 427.2h8.6M90.2 423.6V427.4M85.9 423.6h8.6M85.9 427.4h8.6M103.3 421.7V425.1M99 421.7h8.6M99 425.1h8.6M116 420.3V423.8M111.7 420.3h8.6M111.7 423.8h8.6M128.4 413.1V418M124.1 413.1h8.6M124.1 418h8.6M140.6 403.1V409.8M136.3 403.1h8.6M136.3 409.8h8.6M152.5 392.3V400.7M148.2 392.3h8.6M148.2 400.7h8.6M164.3 377.4V386.3M160 377.4h8.6M160 386.3h8.6M175.9 357.8V367.2M171.6 357.8h8.6M171.6 367.2h8.6M187.5 335.3V344.7M183.2 335.3h8.6M183.2 344.7h8.6M198.9 313.6V323.2M194.6 313.6h8.6M194.6 323.2h8.6M210.2 291.7V301.6M205.9 291.7h8.6M205.9 301.6h8.6M221.4 264.1V275M217.1 264.1h8.6M217.1 275h8.6M232.5 237.4V249.3M228.2 237.4h8.6M228.2 249.3h8.6M243.6 207.4V220.7M239.3 207.4h8.6M239.3 220.7h8.6M254.6 177.3V191.6M250.3 177.3h8.6M250.3 191.6h8.6M265.6 157.3V173.4M261.3 157.3h8.6M261.3 173.4h8.6M276.5 118.5V138.8M272.2 118.5h8.6M272.2 138.8h8.6M287.4 64V92M283.1 64h8.6M283.1 92h8.6"/><path stroke="#c01078" stroke-width="1.85" d="M88.9 422.2V426M84.6 422.2h8.6M84.6 426h8.6M101.9 422.3V425.7M97.6 422.3h8.6M97.6 425.7h8.6M114.6 420.8V424.1M110.3 420.8h8.6M110.3 424.1h8.6M126.9 414.7V419.3M122.6 414.7h8.6M122.6 419.3h8.6M139 404.4V410.8M134.7 404.4h8.6M134.7 410.8h8.6M150.9 393.4V401.5M146.6 393.4h8.6M146.6 401.5h8.6M162.6 378V386.8M158.3 378h8.6M158.3 386.8h8.6M174.2 363.2V372.5M169.9 363.2h8.6M169.9 372.5h8.6M185.6 341.3V350.7M181.3 341.3h8.6M181.3 350.7h8.6M197 318.3V327.9M192.7 318.3h8.6M192.7 327.9h8.6M208.2 297.1V306.9M203.9 297.1h8.6M203.9 306.9h8.6M219.4 261.6V272.3M215.1 261.6h8.6M215.1 272.3h8.6M230.5 246.3V257.9M226.2 246.3h8.6M226.2 257.9h8.6M241.5 209.4V222.4M237.2 209.4h8.6M237.2 222.4h8.6M252.5 185.1V199.1M248.2 185.1h8.6M248.2 199.1h8.6M263.5 165.6V181.2M259.2 165.6h8.6M259.2 181.2h8.6M274.4 129V148.1M270.1 129h8.6M270.1 148.1h8.6M285.2 80V106M280.9 80h8.6M280.9 106h8.6"/><path stroke="#bf1173" stroke-width="1.85" d="M87.6 424V427.9M83.3 424h8.6M83.3 427.9h8.6M100.5 423.6V427M96.2 423.6h8.6M96.2 427h8.6M113.1 420.9V424.3M108.8 420.9h8.6M108.8 424.3h8.6M125.3 412V416.3M121 412h8.6M121 416.3h8.6M137.4 405.8V411.9M133.1 405.8h8.6M133.1 411.9h8.6M149.2 393.1V400.9M144.9 393.1h8.6M144.9 400.9h8.6M160.8 378.4V387.1M156.5 378.4h8.6M156.5 387.1h8.6M172.3 367.3V376.5M168 367.3h8.6M168 376.5h8.6M183.7 346.3V355.7M179.4 346.3h8.6M179.4 355.7h8.6M195 323.4V332.9M190.7 323.4h8.6M190.7 332.9h8.6M206.3 301.8V311.4M202 301.8h8.6M202 311.4h8.6M217.4 275.9V286.3M213.1 275.9h8.6M213.1 286.3h8.6M228.5 253.1V264.4M224.2 253.1h8.6M224.2 264.4h8.6M239.5 217.5V230.2M235.2 217.5h8.6M235.2 230.2h8.6M250.4 189.2V203M246.1 189.2h8.6M246.1 203h8.6M261.3 169.3V184.4M257 169.3h8.6M257 184.4h8.6M272.2 146.4V164.4M267.9 146.4h8.6M267.9 164.4h8.6M283 99.3V123.4M278.7 99.3h8.6M278.7 123.4h8.6M293.7 52.8V86.7M289.4 52.8h8.6M289.4 86.7h8.6"/><path stroke="#be116e" stroke-width="1.85" d="M86.3 423.3V427.2M82 423.3h8.6M82 427.2h8.6M99.1 423.3V426.7M94.8 423.3h8.6M94.8 426.7h8.6M111.6 421V424.4M107.3 421h8.6M107.3 424.4h8.6M123.8 417V421M119.5 417h8.6M119.5 421h8.6M135.7 405.3V411.2M131.4 405.3h8.6M131.4 411.2h8.6M147.4 399.1V406.7M143.1 399.1h8.6M143.1 406.7h8.6M159 385.5V394.1M154.7 385.5h8.6M154.7 394.1h8.6M170.5 367.9V376.9M166.2 367.9h8.6M166.2 376.9h8.6M181.9 351.2V360.5M177.6 351.2h8.6M177.6 360.5h8.6M193.1 326.7V336.1M188.8 326.7h8.6M188.8 336.1h8.6M204.3 302V311.6M200 302h8.6M200 311.6h8.6M215.4 277.4V287.6M211.1 277.4h8.6M211.1 287.6h8.6M226.4 259.4V270.5M222.1 259.4h8.6M222.1 270.5h8.6M237.3 224.8V237.2M233 224.8h8.6M233 237.2h8.6M248.2 194.5V208M243.9 194.5h8.6M243.9 208h8.6M259.1 171.7V186.4M254.8 171.7h8.6M254.8 186.4h8.6M269.9 153.8V170.9M265.6 153.8h8.6M265.6 170.9h8.6M280.7 107.8V130.1M276.4 107.8h8.6M276.4 130.1h8.6M291.5 46.5V77.7M287.2 46.5h8.6M287.2 77.7h8.6"/><path stroke="#bd1169" stroke-width="1.85" d="M85 423.6V427.6M80.7 423.6h8.6M80.7 427.6h8.6M97.7 423.8V427.3M93.4 423.8h8.6M93.4 427.3h8.6M110.1 422.3V425.6M105.8 422.3h8.6M105.8 425.6h8.6M122.2 418.7V422.6M117.9 418.7h8.6M117.9 422.6h8.6M134 406.7V412.3M129.7 406.7h8.6M129.7 412.3h8.6M145.7 389.5V396.8M141.4 389.5h8.6M141.4 396.8h8.6M157.2 388.4V396.9M152.9 388.4h8.6M152.9 396.9h8.6M168.6 369.8V378.8M164.3 369.8h8.6M164.3 378.8h8.6M179.9 353.5V362.9M175.6 353.5h8.6M175.6 362.9h8.6M191.1 331.5V340.9M186.8 331.5h8.6M186.8 340.9h8.6M202.2 308.7V318.2M197.9 308.7h8.6M197.9 318.2h8.6M213.3 286.1V296.1M209 286.1h8.6M209 296.1h8.6M224.3 269.3V280.2M220 269.3h8.6M220 280.2h8.6M235.2 236V248M230.9 236h8.6M230.9 248h8.6M246.1 202V215.2M241.8 202h8.6M241.8 215.2h8.6M256.9 164.3V178.6M252.6 164.3h8.6M252.6 178.6h8.6M267.7 160.6V177M263.4 160.6h8.6M263.4 177h8.6M278.4 125.6V146.5M274.1 125.6h8.6M274.1 146.5h8.6M289.1 59.8V88.6M284.8 59.8h8.6M284.8 88.6h8.6"/><path stroke="#bd1265" stroke-width="1.85" d="M83.6 425.2V429.3M79.3 425.2h8.6M79.3 429.3h8.6M96.2 425.2V428.7M91.9 425.2h8.6M91.9 428.7h8.6M108.5 423.9V427.2M104.2 423.9h8.6M104.2 427.2h8.6M120.5 420.4V423.9M116.2 420.4h8.6M116.2 423.9h8.6M132.3 411.4V416.8M128 411.4h8.6M128 416.8h8.6M143.9 400.5V407.5M139.6 400.5h8.6M139.6 407.5h8.6M155.4 387.5V396M151.1 387.5h8.6M151.1 396h8.6M166.7 373.2V382.1M162.4 373.2h8.6M162.4 382.1h8.6M178 357.4V366.7M173.7 357.4h8.6M173.7 366.7h8.6M189.1 337V346.4M184.8 337h8.6M184.8 346.4h8.6M200.2 315.6V325.1M195.9 315.6h8.6M195.9 325.1h8.6M211.2 290V299.8M206.9 290h8.6M206.9 299.8h8.6M222.1 269.3V280.1M217.8 269.3h8.6M217.8 280.1h8.6M233 247.7V259.4M228.7 247.7h8.6M228.7 259.4h8.6M243.9 208.7V221.7M239.6 208.7h8.6M239.6 221.7h8.6M254.6 183.2V197.2M250.3 183.2h8.6M250.3 197.2h8.6M265.4 163.2V179.1M261.1 163.2h8.6M261.1 179.1h8.6M276.1 131.6V151.1M271.8 131.6h8.6M271.8 151.1h8.6M286.8 88.7V115.3M282.5 88.7h8.6M282.5 115.3h8.6"/><path stroke="#bc1260" stroke-width="1.85" d="M82.2 422.3V426.4M77.9 422.3h8.6M77.9 426.4h8.6M94.7 423V426.6M90.4 423h8.6M90.4 426.6h8.6M106.9 423.1V426.4M102.6 423.1h8.6M102.6 426.4h8.6M118.9 421.9V425.4M114.6 421.9h8.6M114.6 425.4h8.6M130.6 413.2V418.3M126.3 413.2h8.6M126.3 418.3h8.6M142.1 404.7V411.5M137.8 404.7h8.6M137.8 411.5h8.6M153.5 392.2V400.6M149.2 392.2h8.6M149.2 400.6h8.6M164.8 381.3V390.1M160.5 381.3h8.6M160.5 390.1h8.6M176 358.5V367.8M171.7 358.5h8.6M171.7 367.8h8.6M187.1 342.1V351.4M182.8 342.1h8.6M182.8 351.4h8.6M198.1 315.2V324.6M193.8 315.2h8.6M193.8 324.6h8.6M209.1 298.1V307.7M204.8 298.1h8.6M204.8 307.7h8.6M220 273.2V283.8M215.7 273.2h8.6M215.7 283.8h8.6M230.8 251.8V263.2M226.5 251.8h8.6M226.5 263.2h8.6M241.6 218.3V230.9M237.3 218.3h8.6M237.3 230.9h8.6M252.4 196.3V210.1M248.1 196.3h8.6M248.1 210.1h8.6M263.1 168.5V183.8M258.8 168.5h8.6M258.8 183.8h8.6M273.8 150.2V168.5M269.5 150.2h8.6M269.5 168.5h8.6M284.4 100.8V125.3M280.1 100.8h8.6M280.1 125.3h8.6M295.1 26.5V60.8M290.8 26.5h8.6M290.8 60.8h8.6"/><path stroke="#bb125d" stroke-width="1.85" d="M93.2 423.3V426.9M88.9 423.3h8.6M88.9 426.9h8.6M105.3 424.6V428M101 424.6h8.6M101 428h8.6M117.2 421.1V424.5M112.9 421.1h8.6M112.9 424.5h8.6M128.8 416.4V421.2M124.5 416.4h8.6M124.5 421.2h8.6M140.3 396.8V403.3M136 396.8h8.6M136 403.3h8.6M151.6 393V401.1M147.3 393h8.6M147.3 401.1h8.6M162.9 376.8V385.5M158.6 376.8h8.6M158.6 385.5h8.6M174 366V375.2M169.7 366h8.6M169.7 375.2h8.6M185 345.6V354.8M180.7 345.6h8.6M180.7 354.8h8.6M196 323.2V332.5M191.7 323.2h8.6M191.7 332.5h8.6M206.9 298.5V308M202.6 298.5h8.6M202.6 308h8.6M217.8 283.1V293.4M213.5 283.1h8.6M213.5 293.4h8.6M228.6 257.5V268.7M224.3 257.5h8.6M224.3 268.7h8.6M239.3 225.4V237.8M235 225.4h8.6M235 237.8h8.6M250.1 199.9V213.3M245.8 199.9h8.6M245.8 213.3h8.6M260.7 171.1V185.9M256.4 171.1h8.6M256.4 185.9h8.6M271.4 155.7V173.1M267.1 155.7h8.6M267.1 173.1h8.6M282 117.1V139.6M277.7 117.1h8.6M277.7 139.6h8.6M292.6 69.8V101.1M288.3 69.8h8.6M288.3 101.1h8.6"/><path stroke="#bb1259" stroke-width="1.85" d="M91.7 423.8V427.4M87.4 423.8h8.6M87.4 427.4h8.6M103.7 425V428.4M99.4 425h8.6M99.4 428.4h8.6M115.4 423.1V426.5M111.1 423.1h8.6M111.1 426.5h8.6M127 413.2V417.8M122.7 413.2h8.6M122.7 417.8h8.6M138.4 405V411.3M134.1 405h8.6M134.1 411.3h8.6M149.7 396V403.8M145.4 396h8.6M145.4 403.8h8.6M160.9 382.1V390.7M156.6 382.1h8.6M156.6 390.7h8.6M171.9 367.6V376.6M167.6 367.6h8.6M167.6 376.6h8.6M182.9 349.7V358.9M178.6 349.7h8.6M178.6 358.9h8.6M193.9 330.5V339.8M189.6 330.5h8.6M189.6 339.8h8.6M204.7 310.4V319.8M200.4 310.4h8.6M200.4 319.8h8.6M215.5 289.5V299.6M211.2 289.5h8.6M211.2 299.6h8.6M226.3 261.1V272M222 261.1h8.6M222 272h8.6M237 233.2V245.3M232.7 233.2h8.6M232.7 245.3h8.6M247.7 206.3V219.5M243.4 206.3h8.6M243.4 219.5h8.6M258.4 186.8V201.2M254.1 186.8h8.6M254.1 201.2h8.6M269 160.7V177.3M264.7 160.7h8.6M264.7 177.3h8.6M279.6 121.8V142.8M275.3 121.8h8.6M275.3 142.8h8.6M290.2 71.1V99.9M285.9 71.1h8.6M285.9 99.9h8.6"/><path stroke="#ba1256" stroke-width="1.85" d="M90.1 423.9V427.6M85.8 423.9h8.6M85.8 427.6h8.6M102 424.2V427.6M97.7 424.2h8.6M97.7 427.6h8.6M113.7 421.2V424.5M109.4 421.2h8.6M109.4 424.5h8.6M125.2 416.3V420.5M120.9 416.3h8.6M120.9 420.5h8.6M136.5 410.2V416.2M132.2 410.2h8.6M132.2 416.2h8.6M147.7 398.5V406M143.4 398.5h8.6M143.4 406h8.6M158.8 386.3V394.8M154.5 386.3h8.6M154.5 394.8h8.6M169.9 369.2V378.1M165.6 369.2h8.6M165.6 378.1h8.6M180.8 358.1V367.3M176.5 358.1h8.6M176.5 367.3h8.6M191.7 335V344.2M187.4 335h8.6M187.4 344.2h8.6M202.5 314.3V323.6M198.2 314.3h8.6M198.2 323.6h8.6M213.3 293.2V303.1M209 293.2h8.6M209 303.1h8.6M224 273.3V284M219.7 273.3h8.6M219.7 284h8.6M234.7 243.4V255.1M230.4 243.4h8.6M230.4 255.1h8.6M245.3 215.7V228.6M241 215.7h8.6M241 228.6h8.6M256 188.7V202.7M251.7 188.7h8.6M251.7 202.7h8.6M266.6 156.9V172.9M262.3 156.9h8.6M262.3 172.9h8.6M277.1 139.7V159.2M272.8 139.7h8.6M272.8 159.2h8.6M287.7 100.2V126.5M283.4 100.2h8.6M283.4 126.5h8.6M298.2 19.5V56.5M293.9 19.5h8.6M293.9 56.5h8.6"/><path stroke="#b91253" stroke-width="1.85" d="M100.3 423.2V426.6M96 423.2h8.6M96 426.6h8.6M111.9 421.2V424.5M107.6 421.2h8.6M107.6 424.5h8.6M123.3 419.9V423.9M119 419.9h8.6M119 423.9h8.6M134.6 410.5V416.1M130.3 410.5h8.6M130.3 416.1h8.6M145.7 400.8V408M141.4 400.8h8.6M141.4 408h8.6M156.8 390.1V398.5M152.5 390.1h8.6M152.5 398.5h8.6M167.7 374.3V383.1M163.4 374.3h8.6M163.4 383.1h8.6M178.6 356V365.2M174.3 356h8.6M174.3 365.2h8.6M189.5 339.7V348.9M185.2 339.7h8.6M185.2 348.9h8.6M200.3 323.1V332.4M196 323.1h8.6M196 332.4h8.6M211 295.7V305.4M206.7 295.7h8.6M206.7 305.4h8.6M221.7 275.4V285.8M217.4 275.4h8.6M217.4 285.8h8.6M232.3 250.7V262M228 250.7h8.6M228 262h8.6M242.9 222.8V235.4M238.6 222.8h8.6M238.6 235.4h8.6M253.5 192.2V205.9M249.2 192.2h8.6M249.2 205.9h8.6M264.1 164V179.3M259.8 164h8.6M259.8 179.3h8.6M274.6 149.7V168M270.3 149.7h8.6M270.3 168h8.6M285.1 112.5V136.6M280.8 112.5h8.6M280.8 136.6h8.6M295.6 58.1V91.9M291.3 58.1h8.6M291.3 91.9h8.6"/><path stroke="#b9124f" stroke-width="1.85" d="M98.6 423.4V426.8M94.3 423.4h8.6M94.3 426.8h8.6M110.1 423.8V427.1M105.8 423.8h8.6M105.8 427.1h8.6M121.4 420.9V424.5M117.1 420.9h8.6M117.1 424.5h8.6M132.6 413.8V419.2M128.3 413.8h8.6M128.3 419.2h8.6M143.7 404.4V411.3M139.4 404.4h8.6M139.4 411.3h8.6M154.7 387.9V396.2M150.4 387.9h8.6M150.4 396.2h8.6M165.6 382.6V391.3M161.3 382.6h8.6M161.3 391.3h8.6M176.4 367V376.1M172.1 367h8.6M172.1 376.1h8.6M187.2 341.2V350.3M182.9 341.2h8.6M182.9 350.3h8.6M198 325.4V334.6M193.7 325.4h8.6M193.7 334.6h8.6M208.6 302.3V311.8M204.3 302.3h8.6M204.3 311.8h8.6M219.3 280.5V290.8M215 280.5h8.6M215 290.8h8.6M229.9 257.1V268.2M225.6 257.1h8.6M225.6 268.2h8.6M240.5 229.8V242.1M236.2 229.8h8.6M236.2 242.1h8.6M251 199.7V213.1M246.7 199.7h8.6M246.7 213.1h8.6M261.6 177.2V192M257.3 177.2h8.6M257.3 192h8.6M272.1 156.6V174M267.8 156.6h8.6M267.8 174h8.6M282.6 121.1V143.3M278.3 121.1h8.6M278.3 143.3h8.6M293 70.8V101.6M288.7 70.8h8.6M288.7 101.6h8.6"/><path stroke="#b8124c" stroke-width="1.85" d="M96.8 423.4V426.9M92.5 423.4h8.6M92.5 426.9h8.6M108.2 423.8V427M103.9 423.8h8.6M103.9 427h8.6M119.5 421.3V424.8M115.2 421.3h8.6M115.2 424.8h8.6M130.6 417.7V422.8M126.3 417.7h8.6M126.3 422.8h8.6M141.6 405.3V411.9M137.3 405.3h8.6M137.3 411.9h8.6M152.5 394.9V403M148.2 394.9h8.6M148.2 403h8.6M163.4 378.6V387.2M159.1 378.6h8.6M159.1 387.2h8.6M174.2 366.9V375.9M169.9 366.9h8.6M169.9 375.9h8.6M184.9 349.3V358.4M180.6 349.3h8.6M180.6 358.4h8.6M195.6 322.3V331.4M191.3 322.3h8.6M191.3 331.4h8.6M206.3 304.3V313.6M202 304.3h8.6M202 313.6h8.6M216.9 291.7V301.8M212.6 291.7h8.6M212.6 301.8h8.6M227.5 270.4V281.2M223.2 270.4h8.6M223.2 281.2h8.6M238 236.6V248.4M233.7 236.6h8.6M233.7 248.4h8.6M248.5 207.9V220.9M244.2 207.9h8.6M244.2 220.9h8.6M259 182.3V196.5M254.7 182.3h8.6M254.7 196.5h8.6M269.5 162.4V178.9M265.2 162.4h8.6M265.2 178.9h8.6M280 137.7V158.3M275.7 137.7h8.6M275.7 158.3h8.6M290.4 103.3V131.4M286.1 103.3h8.6M286.1 131.4h8.6M300.8 37.2V76.6M296.5 37.2h8.6M296.5 76.6h8.6"/><path stroke="#b71249" stroke-width="1.85" d="M106.3 422.5V425.8M102 422.5h8.6M102 425.8h8.6M117.5 422.2V425.7M113.2 422.2h8.6M113.2 425.7h8.6M128.5 417.8V422.5M124.2 417.8h8.6M124.2 422.5h8.6M139.5 406.9V413.2M135.2 406.9h8.6M135.2 413.2h8.6M150.4 396.3V404.1M146.1 396.3h8.6M146.1 404.1h8.6M161.2 386.5V395M156.9 386.5h8.6M156.9 395h8.6M171.9 373.6V382.5M167.6 373.6h8.6M167.6 382.5h8.6M182.6 356.9V366M178.3 356.9h8.6M178.3 366h8.6M193.2 337.7V346.8M188.9 337.7h8.6M188.9 346.8h8.6M203.8 316.3V325.5M199.5 316.3h8.6M199.5 325.5h8.6M214.4 291.6V301.4M210.1 291.6h8.6M210.1 301.4h8.6M225 273V283.6M220.7 273h8.6M220.7 283.6h8.6M235.5 249V260.4M231.2 249h8.6M231.2 260.4h8.6M246 218.7V231.4M241.7 218.7h8.6M241.7 231.4h8.6M256.4 195.3V209.2M252.1 195.3h8.6M252.1 209.2h8.6M266.9 168.5V184.3M262.6 168.5h8.6M262.6 184.3h8.6M277.3 154V173.1M273 154h8.6M273 173.1h8.6M287.7 107.6V133.1M283.4 107.6h8.6M283.4 133.1h8.6M298.1 58.8V94.5M293.8 58.8h8.6M293.8 94.5h8.6"/><path stroke="#b71245" stroke-width="1.85" d="M104.3 422.9V426.2M100 422.9h8.6M100 426.2h8.6M115.4 423.9V427.3M111.1 423.9h8.6M111.1 427.3h8.6M126.4 419V423.4M122.1 419h8.6M122.1 423.4h8.6M137.3 410.3V416.3M133 410.3h8.6M133 416.3h8.6M148.1 401.9V409.4M143.8 401.9h8.6M143.8 409.4h8.6M158.9 387.3V395.7M154.6 387.3h8.6M154.6 395.7h8.6M169.6 376.8V385.6M165.3 376.8h8.6M165.3 385.6h8.6M180.2 358.6V367.7M175.9 358.6h8.6M175.9 367.7h8.6M190.8 342.1V351.2M186.5 342.1h8.6M186.5 351.2h8.6M201.4 320.6V329.8M197.1 320.6h8.6M197.1 329.8h8.6M211.9 302.3V311.8M207.6 302.3h8.6M207.6 311.8h8.6M222.4 277.9V288.3M218.1 277.9h8.6M218.1 288.3h8.6M232.9 259.1V270.3M228.6 259.1h8.6M228.6 270.3h8.6M243.4 224.7V237M239.1 224.7h8.6M239.1 237h8.6M253.8 196.1V209.5M249.5 196.1h8.6M249.5 209.5h8.6M264.2 174.1V189.2M259.9 174.1h8.6M259.9 189.2h8.6M274.6 152V170M270.3 152h8.6M270.3 170h8.6M285 133.7V157.1M280.7 133.7h8.6M280.7 157.1h8.6M295.4 85.8V118.3M291.1 85.8h8.6M291.1 118.3h8.6"/><path stroke="#b61242" stroke-width="1.85" d="M102.3 423.2V426.6M98 423.2h8.6M98 426.6h8.6M113.3 421.2V424.6M109 421.2h8.6M109 424.6h8.6M124.3 419.4V423.5M120 419.4h8.6M120 423.5h8.6M135.1 411.9V417.6M130.8 411.9h8.6M130.8 417.6h8.6M145.8 401.6V408.8M141.5 401.6h8.6M141.5 408.8h8.6M156.5 394.1V402.4M152.2 394.1h8.6M152.2 402.4h8.6M167.2 379.5V388.2M162.9 379.5h8.6M162.9 388.2h8.6M177.8 363.3V372.3M173.5 363.3h8.6M173.5 372.3h8.6M188.3 349.1V358.1M184 349.1h8.6M184 358.1h8.6M198.9 325.9V335M194.6 325.9h8.6M194.6 335h8.6M209.4 303.3V312.7M205.1 303.3h8.6M205.1 312.7h8.6M219.8 287V297.2M215.5 287h8.6M215.5 297.2h8.6M230.3 260.9V271.9M226 260.9h8.6M226 271.9h8.6M240.7 235.9V247.9M236.4 235.9h8.6M236.4 247.9h8.6M251.1 196.7V209.9M246.8 196.7h8.6M246.8 209.9h8.6M261.5 184.6V199.1M257.2 184.6h8.6M257.2 199.1h8.6M271.9 167V184.1M267.6 167h8.6M267.6 184.1h8.6M282.3 140.3V161.8M278 140.3h8.6M278 161.8h8.6M292.6 102.4V131.7M288.3 102.4h8.6M288.3 131.7h8.6M302.9 37.4V78.6M298.6 37.4h8.6M298.6 78.6h8.6"/><path stroke="#b5123f" stroke-width="1.85" d="M111.2 422V425.3M106.9 422h8.6M106.9 425.3h8.6M122.1 421.9V425.6M117.8 421.9h8.6M117.8 425.6h8.6M132.8 414.7V420M128.5 414.7h8.6M128.5 420h8.6M143.5 407.5V414.3M139.2 407.5h8.6M139.2 414.3h8.6M154.2 392.9V401.2M149.9 392.9h8.6M149.9 401.2h8.6M164.8 382.1V390.7M160.5 382.1h8.6M160.5 390.7h8.6M175.3 369.6V378.6M171 369.6h8.6M171 378.6h8.6M185.8 348.6V357.6M181.5 348.6h8.6M181.5 357.6h8.6M196.3 329.3V338.3M192 329.3h8.6M192 338.3h8.6M206.8 311.8V320.9M202.5 311.8h8.6M202.5 320.9h8.6M217.2 293.8V303.7M212.9 293.8h8.6M212.9 303.7h8.6M227.6 271.1V281.8M223.3 271.1h8.6M223.3 281.8h8.6M238 249.2V260.8M233.7 249.2h8.6M233.7 260.8h8.6M248.4 215V227.8M244.1 215h8.6M244.1 227.8h8.6M258.8 188.1V202.1M254.5 188.1h8.6M254.5 202.1h8.6M269.1 167.6V183.8M264.8 167.6h8.6M264.8 183.8h8.6M279.5 157.9V177.7M275.2 157.9h8.6M275.2 177.7h8.6M289.8 113.2V139.7M285.5 113.2h8.6M285.5 139.7h8.6M300.1 56.8V94.1M295.8 56.8h8.6M295.8 94.1h8.6"/><path stroke="#b5123b" stroke-width="1.85" d="M109 423.7V427M104.7 423.7h8.6M104.7 427h8.6M119.8 421V424.5M115.5 421h8.6M115.5 424.5h8.6M130.5 416.5V421.5M126.2 416.5h8.6M126.2 421.5h8.6M141.1 406V412.4M136.8 406h8.6M136.8 412.4h8.6M151.7 399V407M147.4 399h8.6M147.4 407h8.6M162.3 386.8V395.3M158 386.8h8.6M158 395.3h8.6M172.8 370.4V379.3M168.5 370.4h8.6M168.5 379.3h8.6M183.2 357.4V366.4M178.9 357.4h8.6M178.9 366.4h8.6M193.7 333.9V342.9M189.4 333.9h8.6M189.4 342.9h8.6M204.1 316.6V325.7M199.8 316.6h8.6M199.8 325.7h8.6M214.5 297.7V307.4M210.2 297.7h8.6M210.2 307.4h8.6M224.9 281.1V291.6M220.6 281.1h8.6M220.6 291.6h8.6M235.3 260V271.3M231 260h8.6M231 271.3h8.6M245.6 226.6V239.1M241.3 226.6h8.6M241.3 239.1h8.6M256 199.7V213.3M251.7 199.7h8.6M251.7 213.3h8.6M266.3 179V194.5M262 179h8.6M262 194.5h8.6M276.6 149.8V168.5M272.3 149.8h8.6M272.3 168.5h8.6M286.9 120.5V144.8M282.6 120.5h8.6M282.6 144.8h8.6M297.2 76.3V110.1M292.9 76.3h8.6M292.9 110.1h8.6"/><path stroke="#b41238" stroke-width="1.85" d="M106.8 422.7V425.9M102.5 422.7h8.6M102.5 425.9h8.6M117.5 421.2V424.6M113.2 421.2h8.6M113.2 424.6h8.6M128.1 419.8V424.4M123.8 419.8h8.6M123.8 424.4h8.6M138.7 408.5V414.6M134.4 408.5h8.6M134.4 414.6h8.6M149.2 399.3V407M144.9 399.3h8.6M144.9 407h8.6M159.7 389.2V397.6M155.4 389.2h8.6M155.4 397.6h8.6M170.2 374.7V383.5M165.9 374.7h8.6M165.9 383.5h8.6M180.6 357.8V366.8M176.3 357.8h8.6M176.3 366.8h8.6M191 343V352M186.7 343h8.6M186.7 352h8.6M201.4 321.7V330.8M197.1 321.7h8.6M197.1 330.8h8.6M211.8 303.9V313.4M207.5 303.9h8.6M207.5 313.4h8.6M222.1 282.1V292.4M217.8 282.1h8.6M217.8 292.4h8.6M232.5 260.1V271.2M228.2 260.1h8.6M228.2 271.2h8.6M242.8 233.8V246M238.5 233.8h8.6M238.5 246h8.6M253.1 205.4V218.7M248.8 205.4h8.6M248.8 218.7h8.6M263.4 189.6V204.5M259.1 189.6h8.6M259.1 204.5h8.6M273.7 156V173.7M269.4 156h8.6M269.4 173.7h8.6M284 144.1V166.4M279.7 144.1h8.6M279.7 166.4h8.6M294.3 82.7V113.2M290 82.7h8.6M290 113.2h8.6M304.5 24.2V67.2M300.2 24.2h8.6M300.2 67.2h8.6"/><path stroke="#b31235" stroke-width="1.85" d="M115.1 423.3V426.7M110.8 423.3h8.6M110.8 426.7h8.6M125.6 419.3V423.5M121.3 419.3h8.6M121.3 423.5h8.6M136.2 414.8V420.5M131.9 414.8h8.6M131.9 420.5h8.6M146.7 404.2V411.4M142.4 404.2h8.6M142.4 411.4h8.6M157.1 394V402.4M152.8 394h8.6M152.8 402.4h8.6M167.5 380.4V389.1M163.2 380.4h8.6M163.2 389.1h8.6M177.9 360.9V369.9M173.6 360.9h8.6M173.6 369.9h8.6M188.3 349.4V358.3M184 349.4h8.6M184 358.3h8.6M198.6 329.1V338.2M194.3 329.1h8.6M194.3 338.2h8.6M209 303.7V313M204.7 303.7h8.6M204.7 313h8.6M219.3 291V301.1M215 291h8.6M215 301.1h8.6M229.6 271.2V282.1M225.3 271.2h8.6M225.3 282.1h8.6M239.9 248.6V260.4M235.6 248.6h8.6M235.6 260.4h8.6M250.2 212V225M245.9 212h8.6M245.9 225h8.6M260.5 191.3V205.8M256.2 191.3h8.6M256.2 205.8h8.6M270.8 168.4V185.3M266.5 168.4h8.6M266.5 185.3h8.6M281 146.8V167.5M276.7 146.8h8.6M276.7 167.5h8.6M291.3 117.4V145M287 117.4h8.6M287 145h8.6M301.5 63V101.8M297.2 63h8.6M297.2 101.8h8.6"/><path stroke="#b21233" stroke-width="1.85" d="M112.6 424.6V427.9M108.3 424.6h8.6M108.3 427.9h8.6M123.1 421.4V425.2M118.8 421.4h8.6M118.8 425.2h8.6M133.6 410.8V416.2M129.3 410.8h8.6M129.3 416.2h8.6M144 406.9V413.8M139.7 406.9h8.6M139.7 413.8h8.6M154.4 397.9V406.2M150.1 397.9h8.6M150.1 406.2h8.6M164.8 387.2V395.8M160.5 387.2h8.6M160.5 395.8h8.6M175.2 369.3V378.3M170.9 369.3h8.6M170.9 378.3h8.6M185.5 353.2V362.2M181.2 353.2h8.6M181.2 362.2h8.6M195.8 336.9V346M191.5 336.9h8.6M191.5 346h8.6M206.1 316.2V325.4M201.8 316.2h8.6M201.8 325.4h8.6M216.4 297.2V307.2M212.1 297.2h8.6M212.1 307.2h8.6M226.7 275.5V286.3M222.4 275.5h8.6M222.4 286.3h8.6M237 256.1V267.7M232.7 256.1h8.6M232.7 267.7h8.6M247.2 227.7V240.5M242.9 227.7h8.6M242.9 240.5h8.6M257.5 199.3V213.4M253.2 199.3h8.6M253.2 213.4h8.6M267.8 181.4V197.6M263.5 181.4h8.6M263.5 197.6h8.6M278 148.4V168.1M273.7 148.4h8.6M273.7 168.1h8.6M288.2 129.2V154.7M283.9 129.2h8.6M283.9 154.7h8.6M298.5 91.2V126.6M294.2 91.2h8.6M294.2 126.6h8.6"/><path stroke="#b11230" stroke-width="1.85" d="M110.1 423.2V426.5M105.8 423.2h8.6M105.8 426.5h8.6M120.5 421.4V424.9M116.2 421.4h8.6M116.2 424.9h8.6M130.9 419.1V424.2M126.6 419.1h8.6M126.6 424.2h8.6M141.3 408.5V415.1M137 408.5h8.6M137 415.1h8.6M151.7 398.9V406.9M147.4 398.9h8.6M147.4 406.9h8.6M162 389.8V398.3M157.7 389.8h8.6M157.7 398.3h8.6M172.3 370.3V379.2M168 370.3h8.6M168 379.2h8.6M182.6 359V368.1M178.3 359h8.6M178.3 368.1h8.6M192.9 340.3V349.4M188.6 340.3h8.6M188.6 349.4h8.6M203.2 325.5V334.8M198.9 325.5h8.6M198.9 334.8h8.6M213.5 303.7V313.6M209.2 303.7h8.6M209.2 313.6h8.6M223.7 281.4V292.1M219.4 281.4h8.6M219.4 292.1h8.6M234 263.5V275.1M229.7 263.5h8.6M229.7 275.1h8.6M244.2 237.6V250.2M239.9 237.6h8.6M239.9 250.2h8.6M254.5 211.5V225.4M250.2 211.5h8.6M250.2 225.4h8.6M264.7 181.3V197.1M260.4 181.3h8.6M260.4 197.1h8.6M274.9 166.9V185.8M270.6 166.9h8.6M270.6 185.8h8.6M285.1 145.1V169M280.8 145.1h8.6M280.8 169h8.6M295.3 97.2V129.7M291 97.2h8.6M291 129.7h8.6M305.6 41.1V87M301.3 41.1h8.6M301.3 87h8.6"/><path stroke="#b0122e" stroke-width="1.85" d="M107.4 423.5V426.8M103.1 423.5h8.6M103.1 426.8h8.6M117.8 421.5V425M113.5 421.5h8.6M113.5 425h8.6M128.2 419.1V423.8M123.9 419.1h8.6M123.9 423.8h8.6M138.5 411V417.2M134.2 411h8.6M134.2 417.2h8.6M148.8 404.6V412.3M144.5 404.6h8.6M144.5 412.3h8.6M159.1 392.1V400.6M154.8 392.1h8.6M154.8 400.6h8.6M169.4 381V390M165.1 381h8.6M165.1 390h8.6M179.7 363.4V372.7M175.4 363.4h8.6M175.4 372.7h8.6M189.9 352.1V361.4M185.6 352.1h8.6M185.6 361.4h8.6M200.2 323.1V332.6M195.9 323.1h8.6M195.9 332.6h8.6M210.4 311.3V321.2M206.1 311.3h8.6M206.1 321.2h8.6M220.7 280.9V291.6M216.4 280.9h8.6M216.4 291.6h8.6M230.9 270.7V282.3M226.6 270.7h8.6M226.6 282.3h8.6M241.1 250.6V263.2M236.8 250.6h8.6M236.8 263.2h8.6M251.3 211.2V225.2M247 211.2h8.6M247 225.2h8.6M261.6 188.8V204.5M257.3 188.8h8.6M257.3 204.5h8.6M271.8 172.8V191.3M267.5 172.8h8.6M267.5 191.3h8.6M282 152.6V175.6M277.7 152.6h8.6M277.7 175.6h8.6M292.2 122.9V153.4M287.9 122.9h8.6M287.9 153.4h8.6M302.4 65V107.9M298.1 65h8.6M298.1 107.9h8.6"/><path stroke="#af122b" stroke-width="1.85" d="M115 422.6V426M110.7 422.6h8.6M110.7 426h8.6M125.3 421V425.3M121 421h8.6M121 425.3h8.6M135.6 414.7V420.6M131.3 414.7h8.6M131.3 420.6h8.6M145.9 409V416.5M141.6 409h8.6M141.6 416.5h8.6M156.2 396.1V404.8M151.9 396.1h8.6M151.9 404.8h8.6M166.4 384.8V393.9M162.1 384.8h8.6M162.1 393.9h8.6M176.7 369.8V379.3M172.4 369.8h8.6M172.4 379.3h8.6M186.9 353.7V363.2M182.6 353.7h8.6M182.6 363.2h8.6M197.1 332.8V342.6M192.8 332.8h8.6M192.8 342.6h8.6M207.3 316.9V327M203 316.9h8.6M203 327h8.6M217.5 297.8V308.8M213.2 297.8h8.6M213.2 308.8h8.6M227.8 262.7V274.7M223.5 262.7h8.6M223.5 274.7h8.6M238 260.7V273.7M233.7 260.7h8.6M233.7 273.7h8.6M248.2 230.9V245.2M243.9 230.9h8.6M243.9 245.2h8.6M258.4 199.1V215M254.1 199.1h8.6M254.1 215h8.6M268.5 183.4V202M264.2 183.4h8.6M264.2 202h8.6M278.7 168.9V191.8M274.4 168.9h8.6M274.4 191.8h8.6M288.9 132.7V162.2M284.6 132.7h8.6M284.6 162.2h8.6M299.1 82.1V123M294.8 82.1h8.6M294.8 123h8.6M309.3 37.6V92.8M305 37.6h8.6M305 92.8h8.6"/><path stroke="#ae1228" stroke-width="1.85" d="M112.1 422.7V426.1M107.8 422.7h8.6M107.8 426.1h8.6M122.4 421.6V425.7M118.1 421.6h8.6M118.1 425.7h8.6M132.6 416.3V422.2M128.3 416.3h8.6M128.3 422.2h8.6M142.9 411V418.4M138.6 411h8.6M138.6 418.4h8.6M153.1 400.2V409.2M148.8 400.2h8.6M148.8 409.2h8.6M163.3 388.1V397.5M159 388.1h8.6M159 397.5h8.6M173.5 376.6V386.4M169.2 376.6h8.6M169.2 386.4h8.6M183.7 357.2V367.1M179.4 357.2h8.6M179.4 367.1h8.6M193.9 342.1V352.2M189.6 342.1h8.6M189.6 352.2h8.6M204.1 323.2V333.8M199.8 323.2h8.6M199.8 333.8h8.6M214.3 304.5V316M210 304.5h8.6M210 316h8.6M224.5 283.6V296.2M220.2 283.6h8.6M220.2 296.2h8.6M234.7 264.8V278.5M230.4 264.8h8.6M230.4 278.5h8.6M244.9 243.3V258.3M240.6 243.3h8.6M240.6 258.3h8.6M255.1 219.7V236.5M250.8 219.7h8.6M250.8 236.5h8.6M265.3 189.9V209.3M261 189.9h8.6M261 209.3h8.6M275.4 166.9V190.5M271.1 166.9h8.6M271.1 190.5h8.6M285.6 146.7V176.4M281.3 146.7h8.6M281.3 176.4h8.6M295.8 117.9V158.2M291.5 117.9h8.6M291.5 158.2h8.6M306 53.9V105.9M301.7 53.9h8.6M301.7 105.9h8.6"/><path stroke="#ad1226" stroke-width="1.85" d="M109.1 424.2V427.6M104.8 424.2h8.6M104.8 427.6h8.6M119.3 424.1V428M115 424.1h8.6M115 428h8.6M129.5 416.7V422.8M125.2 416.7h8.6M125.2 422.8h8.6M139.7 411.7V419.4M135.4 411.7h8.6M135.4 419.4h8.6M149.9 403.3V412.8M145.6 403.3h8.6M145.6 412.8h8.6M160.1 391.8V402.2M155.8 391.8h8.6M155.8 402.2h8.6M170.3 379.5V390.1M166 379.5h8.6M166 390.1h8.6M180.5 371.3V382M176.2 371.3h8.6M176.2 382h8.6M190.7 348.6V359.5M186.4 348.6h8.6M186.4 359.5h8.6M200.9 328.8V340.3M196.6 328.8h8.6M196.6 340.3h8.6M211 311V323.4M206.7 311h8.6M206.7 323.4h8.6M221.2 291V304.7M216.9 291h8.6M216.9 304.7h8.6M231.4 268.8V283.8M227.1 268.8h8.6M227.1 283.8h8.6M241.5 249V265.4M237.2 249h8.6M237.2 265.4h8.6M251.7 211.8V230.3M247.4 211.8h8.6M247.4 230.3h8.6M261.9 189.3V210.3M257.6 189.3h8.6M257.6 210.3h8.6M272.1 165.9V191.3M267.8 165.9h8.6M267.8 191.3h8.6M282.2 159.8V191.8M277.9 159.8h8.6M277.9 191.8h8.6M292.4 128.3V170.6M288.1 128.3h8.6M288.1 170.6h8.6M302.5 63.5V112.4M298.2 63.5h8.6M298.2 112.4h8.6"/><path stroke="#ac1223" stroke-width="1.85" d="M105.9 423.2V426.7M101.6 423.2h8.6M101.6 426.7h8.6M116.1 422.7V426.3M111.8 422.7h8.6M111.8 426.3h8.6M126.2 417.7V424.3M121.9 417.7h8.6M121.9 424.3h8.6M136.4 415V424.2M132.1 415h8.6M132.1 424.2h8.6M146.6 410.9V421.8M142.3 410.9h8.6M142.3 421.8h8.6M156.8 394.2V406.6M152.5 394.2h8.6M152.5 406.6h8.6M166.9 385.4V397.9M162.6 385.4h8.6M162.6 397.9h8.6M177.1 373.4V385.6M172.8 373.4h8.6M172.8 385.6h8.6M187.3 357.8V369.8M183 357.8h8.6M183 369.8h8.6M197.4 338.9V351.7M193.1 338.9h8.6M193.1 351.7h8.6M207.6 322.8V336.8M203.3 322.8h8.6M203.3 336.8h8.6M217.8 304V319.6M213.5 304h8.6M213.5 319.6h8.6M227.9 264.7V282M223.6 264.7h8.6M223.6 282h8.6M238.1 258.2V277.2M233.8 258.2h8.6M233.8 277.2h8.6M248.3 229V250.2M244 229h8.6M244 250.2h8.6M258.4 213.2V237.3M254.1 213.2h8.6M254.1 237.3h8.6M268.6 178.6V207.5M264.3 178.6h8.6M264.3 207.5h8.6M278.7 162.4V198.6M274.4 162.4h8.6M274.4 198.6h8.6M288.9 150.3V191.1M284.6 150.3h8.6M284.6 191.1h8.6M299 108.2V153.7M294.7 108.2h8.6M294.7 153.7h8.6M309.2 15.1V67.8M304.9 15.1h8.6M304.9 67.8h8.6"/><path stroke="#ab1221" stroke-width="1.85" d="M112.6 422.1V425.7M108.3 422.1h8.6M108.3 425.7h8.6M122.8 422.2V429.4M118.5 422.2h8.6M118.5 429.4h8.6M132.9 420.7V433.4M128.6 420.7h8.6M128.6 433.4h8.6M143.1 412.4V426.9M138.8 412.4h8.6M138.8 426.9h8.6M153.2 389.2V405.9M148.9 389.2h8.6M148.9 405.9h8.6M163.4 390.5V407.5M159.1 390.5h8.6M159.1 407.5h8.6M173.6 376.3V391.7M169.3 376.3h8.6M169.3 391.7h8.6M183.7 362.4V376M179.4 362.4h8.6M179.4 376h8.6M193.9 350.8V365.6M189.6 350.8h8.6M189.6 365.6h8.6M204 321.5V338M199.7 321.5h8.6M199.7 338h8.6M214.2 301.5V320.2M209.9 301.5h8.6M209.9 320.2h8.6M224.3 283.6V304.4M220 283.6h8.6M220 304.4h8.6M234.5 262.7V285.9M230.2 262.7h8.6M230.2 285.9h8.6M244.6 224.8V250.4M240.3 224.8h8.6M240.3 250.4h8.6M254.8 223V252.3M250.5 223h8.6M250.5 252.3h8.6M264.9 170.1V204.6M260.6 170.1h8.6M260.6 204.6h8.6M275.1 169.1V206.4M270.8 169.1h8.6M270.8 206.4h8.6M285.2 144.9V184.5M280.9 144.9h8.6M280.9 184.5h8.6M295.4 107.8V150.8M291.1 107.8h8.6M291.1 150.8h8.6M305.5 61.9V110.8M301.2 61.9h8.6M301.2 110.8h8.6"/><path stroke="#aa121e" stroke-width="1.85" d="M107.6 424V427.6M103.3 424h8.6M103.3 427.6h8.6M117.7 422.8V428.3M113.4 422.8h8.6M113.4 428.3h8.6M127.9 418.7V436M123.6 418.7h8.6M123.6 436h8.6M138 398.4V420.8M133.7 398.4h8.6M133.7 420.8h8.6M148.2 405.3V429.7M143.9 405.3h8.6M143.9 429.7h8.6M158.3 390.6V416.7M154 390.6h8.6M154 416.7h8.6M168.5 370.4V392.6M164.2 370.4h8.6M164.2 392.6h8.6M178.6 367.1V383.8M174.3 367.1h8.6M174.3 383.8h8.6M188.8 355.2V369.7M184.5 355.2h8.6M184.5 369.7h8.6M198.9 337.9V353.9M194.6 337.9h8.6M194.6 353.9h8.6M209.1 325.3V343.4M204.8 325.3h8.6M204.8 343.4h8.6M219.2 299.9V320.4M214.9 299.9h8.6M214.9 320.4h8.6M229.4 291.5V314.5M225.1 291.5h8.6M225.1 314.5h8.6M239.5 266.7V292.2M235.2 266.7h8.6M235.2 292.2h8.6M249.7 239V267.3M245.4 239h8.6M245.4 267.3h8.6M259.8 201.4V233.4M255.5 201.4h8.6M255.5 233.4h8.6M269.9 191.3V226.3M265.6 191.3h8.6M265.6 226.3h8.6M280.1 165.6V203.3M275.8 165.6h8.6M275.8 203.3h8.6M290.2 129.5V169.5M285.9 129.5h8.6M285.9 169.5h8.6M300.4 95.6V139.5M296.1 95.6h8.6M296.1 139.5h8.6M310.5 54.5V105.1M306.2 54.5h8.6M306.2 105.1h8.6"/></g><g clip-path="url(#cr)" fill="none"><path stroke="#88f840" stroke-width="6.2" stroke-linecap="round" d="M452.5 308.2h0"/><path stroke="#88f840" stroke-width="6.2" stroke-linecap="round" d="M452.2 309.7h0"/><path stroke="#88f840" stroke-width="6.2" stroke-linecap="round" d="M452 308.5h0"/><path stroke="#88f840" stroke-width="6.2" stroke-linecap="round" d="M451.7 315.8h0"/><path stroke="#88f840" stroke-width="6.2" stroke-linecap="round" d="M451.5 312.7h0"/><path stroke="#88f840" stroke-width="6.2" stroke-linecap="round" d="M451.2 308.6h0"/><path stroke="#88f840" stroke-width="6.2" stroke-linecap="round" d="M451 310.1h0"/><path stroke="#88f840" stroke-width="6.2" stroke-linecap="round" d="M450.7 309.4h0"/><path stroke="#88f840" stroke-width="6.2" stroke-linecap="round" d="M450.5 308.6h0"/><path stroke="#88f840" stroke-width="6.2" stroke-linecap="round" d="M450.2 314.6h0"/><path stroke="#88f840" stroke-width="6.2" stroke-linecap="round" d="M449.9 307.9h0"/><path stroke="#88f840" stroke-width="6.2" stroke-linecap="round" d="M449.7 308h0"/><path stroke="#88f840" stroke-width="6.2" stroke-linecap="round" d="M449.4 310.3h0"/><path stroke="#88f840" stroke-width="6.2" stroke-linecap="round" d="M449.2 307.4h0"/><path stroke="#88f840" stroke-width="6.2" stroke-linecap="round" d="M448.9 301.2h0"/><path stroke="#88f840" stroke-width="6.2" stroke-linecap="round" d="M448.6 309h0"/><path stroke="#88f840" stroke-width="6.2" stroke-linecap="round" d="M448.4 311h0"/><path stroke="#88f840" stroke-width="6.2" stroke-linecap="round" d="M448.1 306.8h0"/><path stroke="#88f840" stroke-width="6.2" stroke-linecap="round" d="M447.9 303.9h0"/><path stroke="#88f840" stroke-width="6.2" stroke-linecap="round" d="M447.6 316.3h0"/><path stroke="#88f840" stroke-width="6.2" stroke-linecap="round" d="M447.3 303.2h0"/><path stroke="#88f840" stroke-width="6.2" stroke-linecap="round" d="M447.1 313.8h0"/><path stroke="#88f840" stroke-width="6.2" stroke-linecap="round" d="M490.9 322.6h0M446.8 313.4h0"/><path stroke="#84f745" stroke-width="6.2" stroke-linecap="round" d="M490.6 322.9h0M446.5 307.6h0"/><path stroke="#80f64a" stroke-width="6.2" stroke-linecap="round" d="M490.2 322.2h0M446.3 312.2h0"/><path stroke="#7cf64e" stroke-width="6.2" stroke-linecap="round" d="M489.9 323h0M446 306.3h0"/><path stroke="#78f553" stroke-width="6.2" stroke-linecap="round" d="M489.6 323.2h0M445.7 308.1h0"/><path stroke="#74f458" stroke-width="6.2" stroke-linecap="round" d="M489.2 322.7h0M445.5 309.7h0"/><path stroke="#70f35d" stroke-width="6.2" stroke-linecap="round" d="M488.9 321.8h0M445.2 305.9h0"/><path stroke="#6cf262" stroke-width="6.2" stroke-linecap="round" d="M488.5 322.7h0M444.9 308.3h0"/><path stroke="#68f266" stroke-width="6.2" stroke-linecap="round" d="M488.2 323.5h0M444.6 302.7h0"/><path stroke="#64f16b" stroke-width="6.2" stroke-linecap="round" d="M487.8 323.2h0M444.4 305h0"/><path stroke="#60f070" stroke-width="6.2" stroke-linecap="round" d="M487.5 322.7h0M444.1 303.3h0"/><path stroke="#5eef74" stroke-width="6.2" stroke-linecap="round" d="M487.1 323.1h0M443.8 304.7h0"/><path stroke="#5bef77" stroke-width="6.2" stroke-linecap="round" d="M486.8 323h0M443.6 300.2h0"/><path stroke="#59ee7b" stroke-width="6.2" stroke-linecap="round" d="M486.4 322.5h0M443.3 308.9h0"/><path stroke="#56ee7f" stroke-width="6.2" stroke-linecap="round" d="M486.1 322.9h0M443 306.7h0"/><path stroke="#54ed82" stroke-width="6.2" stroke-linecap="round" d="M485.7 322.7h0M442.7 303.9h0"/><path stroke="#51ec86" stroke-width="6.2" stroke-linecap="round" d="M485.4 323.2h0M442.5 312.7h0"/><path stroke="#4fec8a" stroke-width="6.2" stroke-linecap="round" d="M485 323.1h0M442.2 300.2h0"/><path stroke="#4ceb8e" stroke-width="6.2" stroke-linecap="round" d="M484.6 322.8h0M441.9 305.9h0"/><path stroke="#4aea91" stroke-width="6.2" stroke-linecap="round" d="M484.3 322.7h0M441.6 302.1h0"/><path stroke="#47ea95" stroke-width="6.2" stroke-linecap="round" d="M483.9 322.5h0M441.3 301.3h0"/><path stroke="#45e999" stroke-width="6.2" stroke-linecap="round" d="M483.6 322.8h0M512.9 323.2h0M441.1 303.2h0"/><path stroke="#42e99c" stroke-width="6.2" stroke-linecap="round" d="M483.2 323.1h0M512.4 324h0M440.8 291h0"/><path stroke="#40e8a0" stroke-width="6.2" stroke-linecap="round" d="M482.8 322.1h0M512 323.3h0M440.5 303.6h0"/><path stroke="#3ee7a2" stroke-width="6.2" stroke-linecap="round" d="M482.5 322.3h0M511.6 323.1h0M440.2 301.6h0"/><path stroke="#3ce6a4" stroke-width="6.2" stroke-linecap="round" d="M482.1 322.9h0M511.2 322.1h0M439.9 306.6h0"/><path stroke="#3ae6a6" stroke-width="6.2" stroke-linecap="round" d="M481.8 322h0M510.7 322.9h0M439.6 303.8h0"/><path stroke="#37e5a9" stroke-width="6.2" stroke-linecap="round" d="M481.4 323.2h0M510.3 324.1h0M439.4 301.9h0"/><path stroke="#35e4ab" stroke-width="6.2" stroke-linecap="round" d="M481 322h0M509.9 323.4h0M439.1 303h0"/><path stroke="#33e3ad" stroke-width="6.2" stroke-linecap="round" d="M480.7 321.9h0M509.4 324.1h0M438.8 300.2h0"/><path stroke="#31e2af" stroke-width="6.2" stroke-linecap="round" d="M480.3 322.2h0M509 323.8h0M534.6 321.2h0M438.5 304.4h0"/><path stroke="#2fe2b1" stroke-width="6.2" stroke-linecap="round" d="M479.9 322.2h0M508.6 323.1h0M534.1 321.1h0M438.2 300.7h0"/><path stroke="#2de1b3" stroke-width="6.2" stroke-linecap="round" d="M479.5 322.4h0M508.1 323.1h0M533.6 321.7h0M557.1 318.9h0M437.9 301.3h0"/><path stroke="#2be0b5" stroke-width="6.2" stroke-linecap="round" d="M479.2 322.5h0M507.7 322.8h0M533.1 321.1h0M556.6 318.6h0M578.5 312.5h0M437.6 300.7h0"/><path stroke="#29dfb7" stroke-width="6.2" stroke-linecap="round" d="M478.8 322.6h0M507.2 323.4h0M532.6 322.1h0M556 318.1h0M577.9 313.6h0M437.3 299.4h0"/><path stroke="#26deba" stroke-width="6.2" stroke-linecap="round" d="M478.4 322.4h0M506.8 323.4h0M532.1 322h0M555.4 318.9h0M577.3 313.1h0M437 300.6h0"/><path stroke="#24debc" stroke-width="6.2" stroke-linecap="round" d="M478 321.1h0M506.4 324.2h0M531.6 321.3h0M554.9 318.5h0M576.7 314.1h0M436.8 296.2h0"/><path stroke="#22ddbe" stroke-width="6.2" stroke-linecap="round" d="M477.7 320.4h0M505.9 323h0M531.1 321.8h0M554.3 319h0M576.1 314.6h0M436.5 302.4h0"/><path stroke="#20dcc0" stroke-width="6.2" stroke-linecap="round" d="M477.3 320.5h0M505.5 323.3h0M530.6 321.7h0M553.8 319.3h0M575.4 314.2h0M436.2 297.3h0"/><path stroke="#1fdbc1" stroke-width="6.2" stroke-linecap="round" d="M476.9 321.6h0M505 322.7h0M530.1 322.4h0M553.2 319.3h0M574.8 314.3h0M435.9 300.2h0"/><path stroke="#1edac2" stroke-width="6.2" stroke-linecap="round" d="M476.5 321.2h0M504.6 323.6h0M529.6 321.9h0M552.7 319h0M574.2 314.9h0M435.6 294.3h0"/><path stroke="#1dd9c3" stroke-width="6.2" stroke-linecap="round" d="M476.2 320.8h0M504.1 323.3h0M529.1 321.9h0M552.1 319.3h0M573.6 314.4h0M435.3 296.1h0"/><path stroke="#1bd7c5" stroke-width="6.2" stroke-linecap="round" d="M475.8 320.7h0M503.7 323h0M528.6 321.6h0M551.5 319h0M573 315h0M435 293h0"/><path stroke="#1ad6c6" stroke-width="6.2" stroke-linecap="round" d="M475.4 321.3h0M503.2 323.2h0M528.1 322.2h0M551 319.8h0M572.4 313.4h0M434.7 298.3h0"/><path stroke="#19d5c7" stroke-width="6.2" stroke-linecap="round" d="M475 321.5h0M502.8 323.5h0M527.6 321.3h0M550.4 319.1h0M571.8 314.4h0M434.4 296.9h0"/><path stroke="#18d4c8" stroke-width="6.2" stroke-linecap="round" d="M474.6 321.8h0M502.3 323h0M527.1 322.4h0M549.8 319.4h0M571.2 315.9h0M434.1 298.1h0"/><path stroke="#17d3c9" stroke-width="6.2" stroke-linecap="round" d="M474.2 320.9h0M501.8 323.1h0M526.5 321.9h0M549.3 320.2h0M570.5 315.3h0M433.8 297.9h0"/><path stroke="#16d2ca" stroke-width="6.2" stroke-linecap="round" d="M473.8 320.6h0M501.4 321.1h0M526 322h0M548.7 319.3h0M569.9 315.3h0M590.1 310.5h0M433.5 295.2h0"/><path stroke="#15d1cb" stroke-width="6.2" stroke-linecap="round" d="M473.4 320.8h0M500.9 323.3h0M525.5 322.5h0M548.1 319.5h0M569.3 316h0M589.4 310.3h0M433.2 301.6h0"/><path stroke="#13cfcd" stroke-width="6.2" stroke-linecap="round" d="M473.1 319.6h0M500.5 323.5h0M525 322.1h0M547.5 319.9h0M568.7 315.9h0M588.7 310.2h0M432.9 302.3h0"/><path stroke="#12cece" stroke-width="6.2" stroke-linecap="round" d="M472.7 321h0M500 323.3h0M524.5 322.2h0M547 320.1h0M568.1 315.9h0M588 310.8h0M432.6 294.3h0"/><path stroke="#11cdcf" stroke-width="6.2" stroke-linecap="round" d="M472.3 320.1h0M499.5 323h0M523.9 322.4h0M546.4 319.1h0M567.4 315.9h0M587.4 311.5h0M432.3 310.5h0"/><path stroke="#10ccd0" stroke-width="6.2" stroke-linecap="round" d="M471.9 320.8h0M499.1 322.5h0M523.4 321.7h0M545.8 320.3h0M566.8 316.4h0M586.7 311.5h0M431.9 299.4h0"/><path stroke="#12cbd1" stroke-width="6.2" stroke-linecap="round" d="M471.5 319.9h0M498.6 322.6h0M522.9 322.2h0M545.2 319.9h0M566.2 317h0M586 312.1h0M431.6 298h0"/><path stroke="#15cad2" stroke-width="6.2" stroke-linecap="round" d="M471.1 319.9h0M498.1 323.3h0M522.3 323h0M544.6 319.6h0M565.5 316.5h0M585.3 311.5h0M431.3 291.7h0"/><path stroke="#17c9d3" stroke-width="6.2" stroke-linecap="round" d="M470.7 318.9h0M497.7 324h0M521.8 322.5h0M544 319.6h0M564.9 317.5h0M584.6 312.6h0M431 293.5h0"/><path stroke="#19c8d5" stroke-width="6.2" stroke-linecap="round" d="M470.3 319.9h0M497.2 324.5h0M521.3 322.3h0M543.5 320.5h0M564.2 317.5h0M584 311.8h0M430.7 292.5h0"/><path stroke="#1bc7d6" stroke-width="6.2" stroke-linecap="round" d="M469.9 319.8h0M496.7 323.3h0M520.7 322.8h0M542.9 320.4h0M563.6 317.5h0M583.3 312.3h0M430.4 297.2h0"/><path stroke="#1ec6d7" stroke-width="6.2" stroke-linecap="round" d="M469.5 320.2h0M496.2 322.9h0M520.2 322.8h0M542.3 320.1h0M563 318h0M582.6 312.5h0M430.1 302.9h0"/><path stroke="#20c5d8" stroke-width="6.2" stroke-linecap="round" d="M469.1 320.1h0M495.8 324h0M519.7 322.6h0M541.7 320.4h0M562.3 317.6h0M581.9 312.7h0M429.8 294.7h0"/><path stroke="#22c4d9" stroke-width="6.2" stroke-linecap="round" d="M468.7 319.6h0M495.3 323.2h0M519.1 322.7h0M541.1 320.5h0M561.7 317.4h0M581.2 312.8h0M429.4 293.3h0"/><path stroke="#25c3da" stroke-width="6.2" stroke-linecap="round" d="M468.3 319.6h0M494.8 324.3h0M518.6 322.7h0M540.5 320.8h0M561 317.9h0M580.5 312.9h0M429.1 298.6h0"/><path stroke="#27c2db" stroke-width="6.2" stroke-linecap="round" d="M467.8 318.6h0M494.3 322.7h0M518 323.2h0M539.9 320.8h0M560.4 317.9h0M579.8 313.1h0M428.8 292.1h0"/><path stroke="#29c2dd" stroke-width="6.2" stroke-linecap="round" d="M467.4 318.7h0M493.8 323.2h0M517.5 323.1h0M539.3 321.4h0M559.7 318.1h0M579.1 314h0M428.5 300.2h0"/><path stroke="#2bc1de" stroke-width="6.2" stroke-linecap="round" d="M467 319.1h0M493.3 323.4h0M516.9 322.9h0M538.7 320.5h0M559 318h0M578.4 313.4h0M428.2 296h0"/><path stroke="#2ec0df" stroke-width="6.2" stroke-linecap="round" d="M466.6 320.4h0M492.9 323.5h0M516.4 323.1h0M538.1 320.7h0M558.4 318.7h0M577.7 312.2h0M427.8 298.9h0"/><path stroke="#30bfe0" stroke-width="6.2" stroke-linecap="round" d="M466.2 318.9h0M492.4 323.1h0M515.8 323.1h0M537.4 321.1h0M557.7 318.5h0M577 313.8h0M427.5 291.5h0"/><path stroke="#32bee1" stroke-width="6.2" stroke-linecap="round" d="M465.8 317.4h0M491.9 323.1h0M515.3 322.9h0M536.8 320.9h0M557.1 319.3h0M576.3 314.1h0M594.7 309.3h0M427.2 296.5h0"/><path stroke="#35bde2" stroke-width="6.2" stroke-linecap="round" d="M465.4 318.6h0M491.4 323h0M514.7 322.9h0M536.2 320.9h0M556.4 318.4h0M575.5 314.5h0M593.9 309.5h0M426.9 294.1h0"/><path stroke="#37bce3" stroke-width="6.2" stroke-linecap="round" d="M464.9 318.5h0M490.9 323.1h0M514.1 322.6h0M535.6 321.3h0M555.7 319.4h0M574.8 313.7h0M593.1 309.7h0M426.5 297.3h0"/><path stroke="#39bbe5" stroke-width="6.2" stroke-linecap="round" d="M464.5 316.8h0M490.4 323.8h0M513.6 323h0M535 321h0M555 319.3h0M574.1 315.2h0M592.4 310.1h0M426.2 312h0"/><path stroke="#3bbae6" stroke-width="6.2" stroke-linecap="round" d="M464.1 319h0M489.9 323h0M513 323.5h0M534.4 321.2h0M554.4 319.6h0M573.4 315h0M591.6 309.7h0M425.9 261h0"/><path stroke="#3eb9e7" stroke-width="6.2" stroke-linecap="round" d="M463.7 318.2h0M489.4 322.5h0M512.5 322.9h0M533.7 321.1h0M553.7 319.3h0M572.7 315.5h0M590.8 310.5h0M425.5 299.2h0"/><path stroke="#40b8e8" stroke-width="6.2" stroke-linecap="round" d="M463.2 316.9h0M488.9 323.4h0M511.9 323.3h0M533.1 321.5h0M553 319.6h0M571.9 315.7h0M590.1 310.1h0M425.2 271.7h0"/><path stroke="#42b7e9" stroke-width="6.2" stroke-linecap="round" d="M462.8 317h0M488.4 322.3h0M511.3 323.1h0M532.5 321.5h0M552.3 319.5h0M571.2 315.4h0M589.3 310.4h0M424.9 249.4h0"/><path stroke="#44b6e9" stroke-width="6.2" stroke-linecap="round" d="M462.4 316.8h0M487.9 322.6h0M510.7 324.2h0M531.8 321h0M551.7 319.3h0M570.5 315.8h0M588.5 311.2h0M424.5 287.8h0"/><path stroke="#46b5ea" stroke-width="6.2" stroke-linecap="round" d="M462 316.4h0M487.4 322.3h0M510.2 323.1h0M531.2 321.2h0M551 319.2h0M569.7 315.6h0M587.7 311.3h0M424.2 297h0"/><path stroke="#49b4ea" stroke-width="6.2" stroke-linecap="round" d="M461.5 316.5h0M486.9 323.5h0M509.6 323.1h0M530.6 321.4h0M550.3 319.1h0M569 315.5h0M586.9 312h0M423.9 244.2h0"/><path stroke="#4bb3eb" stroke-width="6.2" stroke-linecap="round" d="M461.1 314.7h0M486.3 322.8h0M509 322.8h0M529.9 320h0M549.6 319.6h0M568.3 315.5h0M586.1 311.5h0M423.5 294.5h0"/><path stroke="#4db2eb" stroke-width="6.2" stroke-linecap="round" d="M460.7 316h0M485.8 324h0M508.4 324.3h0M529.3 321.2h0M548.9 318.6h0M567.5 315.9h0M585.4 311.6h0M423.2 247.1h0"/><path stroke="#4fb1ec" stroke-width="6.2" stroke-linecap="round" d="M460.2 314.6h0M485.3 323.1h0M507.8 323.6h0M528.6 321.8h0M548.2 319h0M566.8 316.3h0M584.6 312.3h0M422.8 262.7h0"/><path stroke="#51afec" stroke-width="6.2" stroke-linecap="round" d="M459.8 315.4h0M484.8 323.1h0M507.3 322.2h0M528 322.4h0M547.5 319.2h0M566 315.2h0M583.8 312h0M600.9 307.8h0M422.5 254.9h0"/><path stroke="#53aeed" stroke-width="6.2" stroke-linecap="round" d="M459.3 319h0M484.3 323.4h0M506.7 323.3h0M527.3 321.9h0M546.8 319.8h0M565.3 317.4h0M583 312h0M600 307.8h0M422.2 300h0M419.7 201.4h0"/><path stroke="#55aded" stroke-width="6.2" stroke-linecap="round" d="M458.9 319.5h0M483.8 322.9h0M506.1 323.4h0M526.7 321.7h0M546.1 319.7h0M564.5 317h0M582.2 312.6h0M599.2 307.7h0M421.8 308h0"/><path stroke="#57acee" stroke-width="6.2" stroke-linecap="round" d="M458.5 314.5h0M483.2 322.5h0M505.5 324.2h0M526 322.9h0M545.4 320.1h0M563.7 315.4h0M581.3 312.2h0M598.3 308.4h0M421.5 299.6h0M420.1 261.2h0"/><path stroke="#5aabee" stroke-width="6.2" stroke-linecap="round" d="M458 313.2h0M482.7 323.5h0M504.9 322.9h0M525.4 322.5h0M544.7 320h0M563 317.5h0M580.5 312.9h0M597.5 308.7h0M421.1 262.8h0"/><path stroke="#5caaef" stroke-width="6.2" stroke-linecap="round" d="M457.6 314.3h0M482.2 322.1h0M504.3 323.3h0M524.7 322h0M543.9 320.1h0M562.2 317.7h0M579.7 313.4h0M596.6 308.7h0M420.8 268.7h0"/><path stroke="#5ea9ef" stroke-width="6.2" stroke-linecap="round" d="M457.1 312.4h0M481.6 322.2h0M503.7 323.8h0M524.1 321.2h0M543.2 320h0M561.4 317.8h0M578.9 312.1h0M595.8 309h0M420.4 278.2h0"/><path stroke="#60a8f0" stroke-width="6.2" stroke-linecap="round" d="M456.7 316.4h0M481.1 323.4h0M503.1 323.5h0M523.4 322.3h0M542.5 320.5h0M560.7 318.1h0M578.1 313.8h0M594.9 309.3h0M420.1 277h0"/><path stroke="#63a6f1" stroke-width="6.2" stroke-linecap="round" d="M456.2 313.9h0M480.6 322.5h0M502.5 323.7h0M522.7 319.9h0M541.8 320.9h0M559.9 317.8h0M577.3 313.6h0M594 308.8h0"/><path stroke="#65a5f1" stroke-width="6.2" stroke-linecap="round" d="M455.7 311.2h0M480 322.4h0M501.9 323.8h0M522.1 322.6h0M541 320.3h0M559.1 319h0M576.4 313.5h0M593.2 309.6h0"/><path stroke="#68a3f2" stroke-width="6.2" stroke-linecap="round" d="M455.3 320.7h0M479.5 321.9h0M501.3 323.6h0M521.4 321.9h0M540.3 320.5h0M558.3 318.5h0M575.6 313.9h0M592.3 310.7h0"/><path stroke="#6ba2f2" stroke-width="6.2" stroke-linecap="round" d="M454.8 315.9h0M478.9 321.7h0M500.6 323.6h0M520.7 322.6h0M539.6 320.8h0M557.5 318.5h0M574.8 314.4h0M591.4 310.2h0"/><path stroke="#6da0f3" stroke-width="6.2" stroke-linecap="round" d="M454.4 316.5h0M478.4 321.9h0M500 322.6h0M520 322.7h0M538.8 321.1h0M556.7 319.3h0M573.9 314.4h0M590.5 311.1h0M606.6 306.2h0"/><path stroke="#709ef3" stroke-width="6.2" stroke-linecap="round" d="M453.9 312.1h0M477.8 322.2h0M499.4 323.9h0M519.3 322.8h0M538.1 321.6h0M556 318.5h0M573.1 314.9h0M589.6 309.9h0M605.7 306.3h0"/><path stroke="#739df4" stroke-width="6.2" stroke-linecap="round" d="M453.4 308.6h0M477.3 321.3h0M498.8 323.1h0M518.7 323.6h0M537.4 320.6h0M555.2 319.2h0M572.2 314.8h0M588.7 310.9h0M604.7 306.3h0"/><path stroke="#759bf4" stroke-width="6.2" stroke-linecap="round" d="M453 315.8h0M476.7 320.8h0M498.2 323.7h0M518 322.7h0M536.6 320.8h0M554.4 319.2h0M571.4 315h0M587.8 310.8h0M603.8 307.1h0"/><path stroke="#789af5" stroke-width="6.2" stroke-linecap="round" d="M452.5 313.1h0M476.2 320.7h0M497.5 323.4h0M517.3 322.9h0M535.9 320.9h0M553.6 318.9h0M570.5 315.3h0M586.9 311.2h0M602.9 307h0"/><path stroke="#7b98f5" stroke-width="6.2" stroke-linecap="round" d="M452 312.9h0M475.6 321.9h0M496.9 323.5h0M516.6 322.4h0M535.1 321.3h0M552.7 319.6h0M569.7 315.7h0M586 312.2h0M601.9 307.6h0"/><path stroke="#7d96f6" stroke-width="6.2" stroke-linecap="round" d="M451.5 310.8h0M475.1 321.5h0M496.3 323.9h0M515.9 322.8h0M534.3 321.2h0M551.9 318.6h0M568.8 316.1h0M585.1 311.9h0M601 307.5h0"/><path stroke="#8095f6" stroke-width="6.2" stroke-linecap="round" d="M451.1 302h0M474.5 320.3h0M495.6 324.4h0M515.2 323.6h0M533.6 321.9h0M551.1 319.6h0M568 315.2h0M584.2 310h0M600 308h0"/><path stroke="#8393f7" stroke-width="6.2" stroke-linecap="round" d="M450.6 310.3h0M473.9 320.9h0M495 323.5h0M514.5 321.4h0M532.8 320.7h0M550.3 319.4h0M567.1 316.4h0M583.3 312.3h0M599 307.4h0"/><path stroke="#8592f7" stroke-width="6.2" stroke-linecap="round" d="M450.1 306.7h0M473.4 317.5h0M494.3 323.3h0M513.8 322.4h0M532 320.8h0M549.5 319h0M566.2 316.7h0M582.4 312.6h0M598.1 307.6h0"/><path stroke="#8890f8" stroke-width="6.2" stroke-linecap="round" d="M449.6 303.7h0M472.8 317.4h0M493.7 323.6h0M513 324.3h0M531.3 320.7h0M548.6 319.6h0M565.3 316.6h0M581.5 312.6h0M597.1 309h0"/><path stroke="#8a8ef8" stroke-width="6.2" stroke-linecap="round" d="M449.1 300.8h0M472.2 321.6h0M493 323.4h0M512.3 323.4h0M530.5 321.8h0M547.8 319.7h0M564.5 316.9h0M580.5 313.2h0M596.1 309.3h0"/><path stroke="#8b8cf8" stroke-width="6.2" stroke-linecap="round" d="M448.6 304.5h0M471.6 318.3h0M492.4 323.6h0M511.6 324.1h0M529.7 321h0M547 319.7h0M563.6 316.9h0M579.6 313.3h0M595.2 308.8h0M610.3 304.8h0"/><path stroke="#8d8af8" stroke-width="6.2" stroke-linecap="round" d="M448.1 308.3h0M471.1 318.2h0M491.7 323.4h0M510.9 321.6h0M528.9 321.5h0M546.1 319.6h0M562.7 317.5h0M578.7 314.1h0M594.2 309.6h0M609.3 305h0"/><path stroke="#8e87f8" stroke-width="6.2" stroke-linecap="round" d="M447.6 308.3h0M470.5 319.1h0M491.1 322.7h0M510.2 323.2h0M528.1 320.7h0M545.3 319.8h0M561.8 318.2h0M577.7 314h0M593.2 309.6h0M608.3 306.2h0"/><path stroke="#9085f8" stroke-width="6.2" stroke-linecap="round" d="M447.1 311.2h0M469.9 320.6h0M490.4 323.2h0M509.4 322.5h0M527.4 322.7h0M544.5 318.7h0M560.9 317.5h0M576.8 313.8h0M592.2 309.6h0M607.2 305.7h0"/><path stroke="#9283f8" stroke-width="6.2" stroke-linecap="round" d="M446.6 284h0M469.3 318.7h0M489.7 321h0M508.7 323.8h0M526.6 322.2h0M543.6 320.4h0M560 317.1h0M575.8 313.7h0M591.2 310.6h0M606.2 305.5h0"/><path stroke="#9381f8" stroke-width="6.2" stroke-linecap="round" d="M446.1 298h0M468.7 317h0M489.1 323h0M507.9 324.3h0M525.8 322.1h0M542.7 320h0M559.1 318.6h0M574.9 314.3h0M590.2 310.5h0M605.1 306.6h0"/><path stroke="#957ff8" stroke-width="6.2" stroke-linecap="round" d="M445.6 314.3h0M468.1 318h0M488.4 323h0M507.2 324h0M525 322.1h0M541.9 319.9h0M558.2 319h0M573.9 314.8h0M589.2 311.1h0M604.1 306.7h0"/><path stroke="#967df8" stroke-width="6.2" stroke-linecap="round" d="M445.1 299.2h0M467.5 318.1h0M487.7 322h0M506.5 323.2h0M524.1 322.8h0M541 320.5h0M557.2 318.5h0M572.9 313.6h0M588.2 311.1h0M603 306.9h0"/><path stroke="#987bf8" stroke-width="6.2" stroke-linecap="round" d="M444.6 293.5h0M466.9 319.6h0M487 324h0M505.7 320.8h0M523.3 322.2h0M540.1 320.6h0M556.3 318.6h0M572 314.6h0M587.2 311.8h0M602 307.1h0"/><path stroke="#9a79f8" stroke-width="6.2" stroke-linecap="round" d="M444.1 292.2h0M466.3 319.6h0M486.3 322.8h0M505 323.5h0M522.5 322h0M539.3 320.6h0M555.4 318.4h0M571 314.9h0M586.1 311.2h0M600.9 307.4h0"/><path stroke="#9b76f8" stroke-width="6.2" stroke-linecap="round" d="M443.6 303.5h0M465.7 312.6h0M485.7 323.1h0M504.2 323.3h0M521.7 322.3h0M538.4 320.6h0M554.5 319.1h0M570 314.9h0M585.1 311.4h0M599.8 308.8h0"/><path stroke="#9d74f8" stroke-width="6.2" stroke-linecap="round" d="M443 310.5h0M465.1 317.5h0M485 322.4h0M503.4 322.9h0M520.9 322.7h0M537.5 320.2h0M553.5 318.9h0M569 316.2h0M584.1 311.9h0M598.8 308.3h0"/><path stroke="#9e72f8" stroke-width="6.2" stroke-linecap="round" d="M442.5 307.2h0M464.4 317.9h0M484.3 320.6h0M502.7 323.5h0M520 322.7h0M536.6 321h0M552.6 318.5h0M568 315.6h0M583 311.9h0M597.7 308.8h0"/><path stroke="#a070f8" stroke-width="6.2" stroke-linecap="round" d="M442 322.2h0M463.8 314.9h0M483.6 322.3h0M501.9 324.5h0M519.2 323.3h0M535.7 320.2h0M551.6 318.8h0M567 316.4h0M582 312.7h0M596.6 309.2h0"/><path stroke="#a26ef7" stroke-width="6.2" stroke-linecap="round" d="M441.5 303.9h0M463.2 315.4h0M482.9 321.2h0M501.1 323.9h0M518.4 323.5h0M534.8 320.8h0M550.7 319.3h0M566 316.6h0M580.9 312.4h0M595.5 309.2h0"/><path stroke="#a36bf7" stroke-width="6.2" stroke-linecap="round" d="M440.9 306.3h0M462.6 319.9h0M482.1 322.7h0M500.3 322.7h0M517.5 323.1h0M533.9 321.2h0M549.7 319.6h0M565 316.5h0M579.9 313.5h0M594.4 310.1h0M608.6 305.4h0"/><path stroke="#a569f6" stroke-width="6.2" stroke-linecap="round" d="M440.4 313h0M461.9 320.7h0M481.4 322.7h0M499.5 322.6h0M516.7 321.8h0M533 322h0M548.7 319.3h0M564 317.2h0M578.8 313.3h0M593.3 309h0M607.4 304.5h0"/><path stroke="#a767f6" stroke-width="6.2" stroke-linecap="round" d="M439.9 312.4h0M461.3 322.5h0M480.7 321.1h0M498.8 323h0M515.8 323.1h0M532.1 321.5h0M547.8 319.9h0M563 318.1h0M577.7 313.4h0M592.2 310.3h0M606.3 305.6h0"/><path stroke="#a965f5" stroke-width="6.2" stroke-linecap="round" d="M439.3 290h0M460.7 320.3h0M480 322.1h0M498 324.7h0M514.9 323.2h0M531.2 321h0M546.8 319.3h0M561.9 317.3h0M576.7 314h0M591 311h0M605.1 306.5h0"/><path stroke="#aa62f5" stroke-width="6.2" stroke-linecap="round" d="M438.8 322.9h0M460 315.6h0M479.3 320.6h0M497.2 323.9h0M514.1 323.4h0M530.2 321.5h0M545.8 320.2h0M560.9 317.4h0M575.6 314.2h0M589.9 310.7h0M603.9 306.9h0"/><path stroke="#ac60f4" stroke-width="6.2" stroke-linecap="round" d="M438.2 299.4h0M459.4 315.6h0M478.5 320.7h0M496.4 324.8h0M513.2 323h0M529.3 321.4h0M544.8 320.2h0M559.9 317.8h0M574.5 314.5h0M588.8 310.3h0M602.8 307.2h0"/><path stroke="#ae5ef3" stroke-width="6.2" stroke-linecap="round" d="M437.7 305.1h0M458.7 314.7h0M477.8 320.4h0M495.5 324.5h0M512.3 323.8h0M528.4 322.1h0M543.8 320.2h0M558.8 318.4h0M573.4 314.4h0M587.6 311.9h0M601.6 307h0"/><path stroke="#af5bf3" stroke-width="6.2" stroke-linecap="round" d="M437.1 298h0M458.1 322.4h0M477.1 320.7h0M494.7 322.1h0M511.4 324.1h0M527.4 323h0M542.8 320.3h0M557.8 318.7h0M572.3 314.5h0M586.5 311.2h0M600.4 307.5h0"/><path stroke="#b159f2" stroke-width="6.2" stroke-linecap="round" d="M436.5 300.4h0M457.4 309.3h0M476.3 318.1h0M493.9 324.7h0M510.6 324.5h0M526.5 321.9h0M541.8 321.1h0M556.7 318.9h0M571.2 315.3h0M585.3 312.2h0M599.2 308h0"/><path stroke="#b357f2" stroke-width="6.2" stroke-linecap="round" d="M436 291.6h0M456.7 322.4h0M475.6 321.1h0M493.1 323h0M509.7 323.2h0M525.5 322.3h0M540.8 320.5h0M555.6 319h0M570.1 315.6h0M584.2 311.9h0M598 308h0"/><path stroke="#b555f1" stroke-width="6.2" stroke-linecap="round" d="M435.4 295.5h0M456.1 316.2h0M474.8 321h0M492.2 323.6h0M508.8 324h0M524.6 322.9h0M539.8 320.4h0M554.6 319.2h0M568.9 315.4h0M583 312.8h0M596.8 308.9h0M610.3 304.4h0"/><path stroke="#b652f1" stroke-width="6.2" stroke-linecap="round" d="M434.8 304.7h0M455.4 316.8h0M474 323.3h0M491.4 323.1h0M507.8 323.4h0M523.6 322.2h0M538.8 321.6h0M553.5 318.8h0M567.8 316.3h0M581.8 312.5h0M595.5 309.1h0M609 305.5h0"/><path stroke="#b850f0" stroke-width="6.2" stroke-linecap="round" d="M434.3 310.2h0M454.7 305.3h0M473.3 320.8h0M490.6 324.7h0M506.9 322.8h0M522.6 322.9h0M537.7 321.5h0M552.4 318.9h0M566.7 317.1h0M580.6 313.7h0M594.3 309h0M607.7 304.9h0"/><path stroke="#b94dee" stroke-width="6.2" stroke-linecap="round" d="M433.7 301.2h0M454 320.4h0M472.5 319.3h0M489.7 324.2h0M506 323.9h0M521.6 323.2h0M536.7 321.1h0M551.3 318.9h0M565.5 316.6h0M579.4 312.8h0M593.1 309.3h0M606.5 304.4h0"/><path stroke="#ba4aec" stroke-width="6.2" stroke-linecap="round" d="M433.1 296.8h0M453.3 310.5h0M471.7 318.8h0M488.9 322.5h0M505.1 323.8h0M520.6 323.7h0M535.6 320.8h0M550.2 320.2h0M564.4 317.3h0M578.2 313.2h0M591.8 310.3h0M605.2 306.8h0M430.7 384.2h0"/><path stroke="#bc48ea" stroke-width="6.2" stroke-linecap="round" d="M432.5 322.6h0M452.6 323h0M470.9 318.8h0M488 322.7h0M504.2 323.5h0M519.6 323.7h0M534.6 321h0M549.1 319.8h0M563.2 316.9h0M577 313.8h0M590.6 309.8h0M603.9 306.8h0"/><path stroke="#bd45e9" stroke-width="6.2" stroke-linecap="round" d="M431.9 307.3h0M451.9 305.4h0M470.1 320.9h0M487.1 323.5h0M503.2 323.6h0M518.6 321.2h0M533.5 321.4h0M548 319.8h0M562 317.2h0M575.8 314.3h0M589.3 310.4h0M602.6 307.5h0"/><path stroke="#be42e7" stroke-width="6.2" stroke-linecap="round" d="M431.3 325.3h0M451.2 296.6h0M469.4 319.5h0M486.3 322.5h0M502.3 324.8h0M517.6 322.4h0M532.4 322.4h0M546.8 320.2h0M560.8 317.5h0M574.6 314.9h0M588 310.9h0M601.2 308.5h0"/><path stroke="#bf3fe5" stroke-width="6.2" stroke-linecap="round" d="M430.7 303h0M450.5 305.7h0M468.6 321h0M485.4 321.8h0M501.3 322.6h0M516.6 322.7h0M531.4 321h0M545.7 320.1h0M559.7 318.2h0M573.3 315.2h0M586.7 311h0M599.9 308.1h0M612.9 304.2h0"/><path stroke="#c13de3" stroke-width="6.2" stroke-linecap="round" d="M430.1 315.4h0M449.8 314.9h0M467.7 316.9h0M484.5 321.7h0M500.4 323.6h0M515.6 322.5h0M530.3 320.8h0M544.6 319.9h0M558.5 317.7h0M572.1 314.8h0M585.4 311.1h0M598.6 308.4h0M611.5 304.2h0"/><path stroke="#c23ae1" stroke-width="6.2" stroke-linecap="round" d="M429.5 301.5h0M449.1 304h0M466.9 318h0M483.6 321.7h0M499.4 323.2h0M514.6 323.5h0M529.2 321.3h0M543.4 320.6h0M557.3 318.5h0M570.8 315.7h0M584.1 312.8h0M597.2 308.4h0M610.1 305.1h0M622.8 301h0"/><path stroke="#c337df" stroke-width="6.2" stroke-linecap="round" d="M428.9 290.1h0M448.4 323.1h0M466.1 315.7h0M482.7 320.2h0M498.4 323.4h0M513.5 322.9h0M528.1 322h0M542.2 320.4h0M556.1 318.2h0M569.6 316.1h0M582.8 312.6h0M595.9 309.1h0M608.7 305.1h0M621.4 301.9h0"/><path stroke="#c434de" stroke-width="6.2" stroke-linecap="round" d="M428.3 285.5h0M447.6 310.2h0M465.3 316.9h0M481.8 322.4h0M497.4 323.1h0M512.5 323.2h0M527 322.2h0M541.1 320.5h0M554.8 318.6h0M568.3 316.1h0M581.5 312.5h0M594.5 309.7h0M607.3 306.2h0M620 301.8h0"/><path stroke="#c632dc" stroke-width="6.2" stroke-linecap="round" d="M427.6 307.8h0M446.9 323.1h0M464.5 317h0M480.9 321.8h0M496.5 323.2h0M511.4 323.8h0M525.9 321.3h0M539.9 321.1h0M553.6 318.4h0M567 316.3h0M580.2 313.5h0M593.1 309.6h0M605.9 305.9h0M618.5 302.1h0M631 298.3h0"/><path stroke="#c72fda" stroke-width="6.2" stroke-linecap="round" d="M427 325.5h0M446.2 306h0M463.6 318.9h0M479.9 322.2h0M495.5 323.4h0M510.3 324.3h0M524.7 322.5h0M538.7 321h0M552.4 318.6h0M565.7 316.3h0M578.8 313.5h0M591.8 309.7h0M604.5 305.8h0M617 303.6h0M629.5 299.1h0"/><path stroke="#c82cd8" stroke-width="6.2" stroke-linecap="round" d="M426.4 304.6h0M445.4 302.6h0M462.8 313.4h0M479 324.1h0M494.4 324.7h0M509.3 324h0M523.6 321.8h0M537.5 320.8h0M551.1 319.2h0M564.4 317.7h0M577.5 313.7h0M590.4 310.9h0M603 306.7h0M615.6 303.1h0M627.9 299h0"/><path stroke="#c829d5" stroke-width="6.2" stroke-linecap="round" d="M425.7 268h0M444.6 303.9h0M461.9 316.2h0M478.1 321.3h0M493.4 324.8h0M508.2 322.2h0M522.4 323h0M536.3 321h0M549.8 319.8h0M563.1 318.1h0M576.1 314.5h0M589 311h0M601.6 307.4h0M614.1 303.8h0M626.4 300.5h0"/><path stroke="#c827d3" stroke-width="6.2" stroke-linecap="round" d="M425.1 308.5h0M443.9 304.8h0M461.1 315.1h0M477.1 321.6h0M492.4 322.6h0M507.1 323.1h0M521.3 322.7h0M535.1 321.2h0M548.6 320.1h0M561.8 317.9h0M574.8 314.8h0M587.5 311.1h0M600.1 307.7h0M612.6 303.6h0M624.9 299.1h0M637 296.9h0"/><path stroke="#c824d0" stroke-width="6.2" stroke-linecap="round" d="M424.4 288.9h0M443.1 305.7h0M460.2 303.2h0M476.2 321.6h0M491.4 324.2h0M506 324.3h0M520.1 322.9h0M533.9 320.2h0M547.3 319.6h0M560.5 317.4h0M573.4 313.9h0M586.1 311.9h0M598.7 308.1h0M611.1 305.2h0M623.3 300.6h0M635.4 296.5h0"/><path stroke="#c821cd" stroke-width="6.2" stroke-linecap="round" d="M423.7 322.7h0M442.3 293.3h0M459.3 311.2h0M475.2 320.6h0M490.3 322.9h0M504.9 323.6h0M518.9 322.6h0M532.6 321.8h0M546 319.1h0M559.1 318.6h0M572 315.1h0M584.7 311.7h0M597.2 309.1h0M609.5 304.5h0M621.7 302.2h0M633.8 296.8h0"/><path stroke="#c81fcb" stroke-width="6.2" stroke-linecap="round" d="M441.5 290.8h0M458.4 318.2h0M474.2 319.7h0M489.3 323.8h0M503.8 323.9h0M517.8 321.9h0M531.4 322.6h0M544.7 319.8h0M557.8 318.4h0M570.6 315.4h0M583.2 312.6h0M595.7 309.2h0M608 305.4h0M620.2 301.8h0M632.2 297.8h0"/><path stroke="#c81cc8" stroke-width="6.2" stroke-linecap="round" d="M440.8 297.6h0M457.5 313.5h0M473.3 324.2h0M488.2 324h0M502.6 323.2h0M516.6 324h0M530.1 321.6h0M543.4 320h0M556.4 318.8h0M569.2 315.9h0M581.8 312.4h0M594.2 307.3h0M606.4 306h0M618.6 302.1h0M630.6 299.3h0"/><path stroke="#c819c5" stroke-width="6.2" stroke-linecap="round" d="M440 324.5h0M456.6 301.1h0M472.3 319.3h0M487.2 322h0M501.5 325.1h0M515.4 322.8h0M528.9 321h0M542.1 320.3h0M555 318.5h0M567.7 316.7h0M580.3 313.1h0M592.6 310.1h0M604.9 305.7h0M617 303.7h0M628.9 298.3h0"/><path stroke="#c817c3" stroke-width="6.2" stroke-linecap="round" d="M439.1 297.1h0M455.7 313h0M471.3 320.7h0M486.1 321.3h0M500.3 321.5h0M514.1 323h0M527.6 322.7h0M540.7 321.4h0M553.6 319.3h0M566.3 315.8h0M578.8 312.3h0M591.1 310.7h0M603.3 307.4h0M615.3 304.2h0M627.3 298.5h0M639.1 296.5h0M428.3 239.9h0"/><path stroke="#c814c0" stroke-width="6.2" stroke-linecap="round" d="M438.3 294.8h0M454.8 305.3h0M470.3 324.4h0M485 320.8h0M499.2 322.8h0M512.9 324.6h0M526.3 322.7h0M539.4 321h0M552.2 319.2h0M564.8 317.3h0M577.3 313.4h0M589.6 310.3h0M601.7 307.1h0M613.7 303.3h0M625.6 299.5h0M637.4 295h0"/><path stroke="#c811bd" stroke-width="6.2" stroke-linecap="round" d="M437.5 293.8h0M453.9 311.5h0M469.2 324.7h0M483.9 321.7h0M498 323.8h0M511.7 322.9h0M525 322.6h0M538 321h0M550.8 318.9h0M563.4 318h0M575.8 314.2h0M588 310.1h0M600.1 308.8h0M612.1 304.8h0M623.9 300.5h0M635.7 296.7h0M426.8 235.6h0"/><path stroke="#c80fbb" stroke-width="6.2" stroke-linecap="round" d="M436.7 306.2h0M452.9 305.5h0M468.2 319.1h0M482.8 324h0M496.8 324h0M510.4 324.6h0M523.7 321h0M536.6 321.4h0M549.4 319.4h0M561.9 317.6h0M574.2 314.9h0M586.4 311.1h0M598.5 309.2h0M610.4 304.6h0M622.2 299.9h0M634 298.3h0"/><path stroke="#c80cb8" stroke-width="6.2" stroke-linecap="round" d="M435.8 290h0M452 312.6h0M467.2 319.7h0M481.7 324.5h0M495.6 323.1h0M509.1 323.3h0M522.3 322.1h0M535.2 320.4h0M547.9 319.6h0M560.4 318.2h0M572.7 314.9h0M584.8 312.1h0M596.8 309.2h0M608.7 305.2h0M620.5 300.9h0M632.2 297.8h0M643.8 294.6h0"/><path stroke="#c80cb4" stroke-width="6.2" stroke-linecap="round" d="M435 326.3h0M451 323.6h0M466.1 319.7h0M480.5 322.2h0M494.4 323.4h0M507.9 323.5h0M521 323.8h0M533.8 321.3h0M546.5 320.7h0M558.9 318h0M571.1 315.3h0M583.2 312.3h0M595.2 307h0M607 305h0M618.8 302h0M630.4 299.3h0M642 294.5h0"/><path stroke="#c70cb1" stroke-width="6.2" stroke-linecap="round" d="M434.1 290h0M450.1 301.6h0M465.1 314.8h0M479.4 320.3h0M493.2 324.9h0M506.6 322.9h0M519.6 323.2h0M532.4 321.3h0M545 320.5h0M557.4 318.6h0M569.6 315.4h0M581.6 313h0M593.5 309.7h0M605.3 306.5h0M617 303.6h0M628.7 299.4h0M640.2 296.5h0"/><path stroke="#c70dad" stroke-width="6.2" stroke-linecap="round" d="M433.2 296.1h0M449.1 313.3h0M464 319h0M478.2 318.9h0M491.9 325h0M505.3 323.1h0M518.3 323h0M531 321.3h0M543.5 320.3h0M555.8 318.7h0M568 316.5h0M580 312.5h0M591.9 309.9h0M603.6 306.8h0M615.3 304.2h0M626.9 300.7h0M638.3 296.7h0"/><path stroke="#c60daa" stroke-width="6.2" stroke-linecap="round" d="M432.4 300.5h0M448.1 312.7h0M462.9 323.2h0M477 319.5h0M490.7 322.7h0M503.9 325.1h0M516.9 322.8h0M529.5 321.9h0M542 320.5h0M554.3 319h0M566.4 317.3h0M578.3 312.5h0M590.2 310.5h0M601.9 307h0M613.5 303.8h0M625 300h0M636.5 296.8h0"/><path stroke="#c60da6" stroke-width="6.2" stroke-linecap="round" d="M431.5 317.4h0M447.1 309.9h0M461.8 315.4h0M475.8 324.8h0M489.4 323.8h0M502.6 323.7h0M515.5 322.6h0M528.1 321.8h0M540.5 320.6h0M552.7 319.6h0M564.7 317.1h0M576.6 313.4h0M588.4 310.9h0M600.1 307.7h0M611.7 304.6h0M623.2 300.5h0M634.6 297.2h0M646 294.2h0"/><path stroke="#c60da2" stroke-width="6.2" stroke-linecap="round" d="M430.6 306.1h0M446.1 314.1h0M460.7 315.6h0M474.6 322.6h0M488.1 321.5h0M501.2 323.4h0M514.1 323.6h0M526.6 322.5h0M538.9 320.3h0M551.1 319.1h0M563.1 317h0M575 313.8h0M586.7 310.4h0M598.3 308.6h0M609.9 304.9h0M621.3 302.3h0M632.7 296.5h0M644 293.8h0"/><path stroke="#c50d9f" stroke-width="6.2" stroke-linecap="round" d="M429.6 312.9h0M445 300.2h0M459.5 317.4h0M473.4 323.2h0M486.8 324.1h0M499.9 324.3h0M512.6 323.4h0M525.1 321.3h0M537.4 320.6h0M549.5 319.3h0M561.4 317.7h0M573.3 314.9h0M585 312.1h0M596.6 308.2h0M608.1 305.6h0M619.5 302h0M630.8 298.5h0M642.1 294h0"/><path stroke="#c50e9b" stroke-width="6.2" stroke-linecap="round" d="M444 291h0M458.4 301.9h0M472.2 316.3h0M485.5 323.8h0M498.5 323.3h0M511.2 323h0M523.6 322.3h0M535.8 321.3h0M547.9 319.8h0M559.8 317.9h0M571.5 315.4h0M583.2 312.2h0M594.7 310h0M606.2 305.8h0M617.6 302.6h0M628.9 299.6h0M640.1 293.5h0"/><path stroke="#c40e98" stroke-width="6.2" stroke-linecap="round" d="M442.9 295.8h0M457.3 310.2h0M471 324.8h0M484.2 321.3h0M497.1 323.9h0M509.7 324.2h0M522.1 322h0M534.2 321.5h0M546.2 319.7h0M558.1 317.9h0M569.8 315.3h0M581.4 311.3h0M592.9 309.3h0M604.3 306.5h0M615.7 303.1h0M626.9 300.3h0M638.2 296.5h0M649.3 289.4h0"/><path stroke="#c40e94" stroke-width="6.2" stroke-linecap="round" d="M441.9 306.7h0M456.1 307.5h0M469.7 321.9h0M482.9 321.8h0M495.7 323.8h0M508.2 323.5h0M520.5 322.4h0M532.6 322.5h0M544.6 320.1h0M556.4 317.7h0M568 316.3h0M579.6 313.5h0M591.1 310.8h0M602.4 306.7h0M613.7 303.4h0M625 300.6h0M636.2 296.8h0M647.3 292.8h0"/><path stroke="#c30e8f" stroke-width="6.2" stroke-linecap="round" d="M440.8 300.7h0M454.9 315.5h0M468.4 318.8h0M481.5 316.9h0M494.2 324.7h0M506.7 323.8h0M518.9 322.8h0M531 321.3h0M542.9 320h0M554.6 318.4h0M566.2 317.3h0M577.8 313h0M589.2 310.5h0M600.5 307.9h0M611.8 304.5h0M623 301.1h0M634.1 296.9h0M645.2 291.9h0"/><path stroke="#c30f8b" stroke-width="6.2" stroke-linecap="round" d="M439.7 291.6h0M453.7 313.1h0M467.1 315.9h0M480.1 325.1h0M492.8 322.7h0M505.2 323.6h0M517.4 321.8h0M529.3 321.1h0M541.2 321h0M552.9 318.2h0M564.4 316.9h0M575.9 312.5h0M587.3 312h0M598.6 308.8h0M609.8 305.9h0M621 300.9h0M632.1 297.9h0M643.1 291.7h0"/><path stroke="#c20f86" stroke-width="6.2" stroke-linecap="round" d="M438.6 267.4h0M452.5 308.8h0M465.8 323.7h0M478.7 320.9h0M491.3 323.8h0M503.6 322.1h0M515.8 322h0M527.7 322h0M539.5 320.7h0M551.1 318.6h0M562.6 317.3h0M574 315h0M585.4 311.6h0M596.6 309.3h0M607.8 305.3h0M618.9 302.5h0M630 298.7h0M641 294.1h0M652 289.3h0M432.3 110h0"/><path stroke="#c10f81" stroke-width="6.2" stroke-linecap="round" d="M437.4 297.9h0M451.2 309h0M464.5 318.3h0M477.3 325.4h0M489.8 321.6h0M502.1 323.1h0M514.1 323.3h0M526 321h0M537.7 320.4h0M549.3 319.1h0M560.8 318.3h0M572.1 315.5h0M583.4 312h0M594.7 309.1h0M605.8 306.2h0M616.9 303h0M627.9 299.4h0M638.9 296h0M649.8 292.4h0"/><path stroke="#c0107c" stroke-width="6.2" stroke-linecap="round" d="M436.3 282.2h0M450 308.8h0M463.1 308.8h0M475.9 317h0M488.3 321.6h0M500.5 324h0M512.5 323.8h0M524.3 322.9h0M535.9 321h0M547.5 319.4h0M558.9 318.3h0M570.2 315.6h0M581.5 312.2h0M592.7 309.8h0M603.8 307.2h0M614.8 303.1h0M625.8 299.9h0M636.7 295.9h0M647.7 291.5h0"/><path stroke="#c01078" stroke-width="6.2" stroke-linecap="round" d="M448.7 294.6h0M461.8 309.8h0M474.4 317h0M486.8 321.9h0M498.9 323.7h0M510.8 323.5h0M522.5 322.4h0M534.1 321.7h0M545.6 319.9h0M557 318.6h0M568.3 316.2h0M579.5 311.5h0M590.6 310.4h0M601.7 307.2h0M612.7 304.2h0M623.7 301.1h0M634.6 296.5h0M645.4 292.8h0"/><path stroke="#bf1173" stroke-width="6.2" stroke-linecap="round" d="M447.4 309.8h0M460.4 316.2h0M472.9 316.2h0M485.2 315.8h0M497.2 323.3h0M509.1 322.5h0M520.8 321.7h0M532.3 322.1h0M543.8 320.2h0M555.1 318.9h0M566.3 316.7h0M577.5 313.4h0M588.6 310.8h0M599.6 307.9h0M610.6 304.7h0M621.5 301.5h0M632.4 298.2h0M643.2 294.5h0M654 290.8h0"/><path stroke="#be116e" stroke-width="6.2" stroke-linecap="round" d="M446.1 301.3h0M458.9 313.1h0M471.4 315.1h0M483.6 321.4h0M495.6 321.2h0M507.4 324.6h0M519 323.4h0M530.5 321.5h0M541.9 320.7h0M553.1 318.9h0M564.3 316.4h0M575.4 313.3h0M586.5 311.5h0M597.5 308.3h0M608.4 305.1h0M619.3 301.8h0M630.1 298.7h0M640.9 294.5h0M651.7 288.9h0"/><path stroke="#bd1169" stroke-width="6.2" stroke-linecap="round" d="M444.7 302.6h0M457.5 315.3h0M469.9 318.5h0M482 322h0M493.9 320.3h0M505.6 318.3h0M517.2 323.6h0M528.6 321.4h0M539.9 320.6h0M551.2 319.2h0M562.3 317.2h0M573.4 314.4h0M584.4 312.8h0M595.3 309.3h0M606.2 305.8h0M617.1 300.6h0M627.9 299.7h0M638.7 296.1h0M649.4 289.7h0"/><path stroke="#bd1265" stroke-width="6.2" stroke-linecap="round" d="M443.4 319.5h0M456 324h0M468.3 323.8h0M480.4 322.5h0M492.2 322.6h0M503.8 323.3h0M515.3 322.2h0M526.7 321.7h0M538 320.8h0M549.1 319.5h0M560.2 318.1h0M571.3 314.7h0M582.2 312.4h0M593.1 310.4h0M604 306.5h0M614.8 303.2h0M625.6 300.1h0M636.3 296.1h0M647.1 292.7h0"/><path stroke="#bc1260" stroke-width="6.2" stroke-linecap="round" d="M442 283.8h0M454.5 307.6h0M466.8 318.8h0M478.7 323.5h0M490.5 321.9h0M502 324.7h0M513.5 323.3h0M524.8 323.5h0M536 320.4h0M547.1 319.8h0M558.2 317.6h0M569.1 315.8h0M580.1 312.7h0M590.9 310.2h0M601.8 307.5h0M612.5 305h0M623.3 300.7h0M634 297.9h0M644.7 293.3h0M655.3 285.9h0"/><path stroke="#bb125d" stroke-width="6.2" stroke-linecap="round" d="M453 308.1h0M465.1 324.7h0M477 319h0M488.7 324.2h0M500.2 317.8h0M511.6 322.7h0M522.8 321.1h0M534 321.6h0M545 319.7h0M556 318.5h0M567 315.5h0M577.9 314h0M588.7 310.8h0M599.5 307.9h0M610.2 305.2h0M620.9 301h0M631.6 298.4h0M642.3 294.6h0M652.9 290.6h0"/><path stroke="#bb1259" stroke-width="6.2" stroke-linecap="round" d="M451.5 310.3h0M463.5 325.7h0M475.3 324.3h0M486.9 317.5h0M498.3 322h0M509.6 323.2h0M520.8 322h0M531.9 321.2h0M542.9 319.9h0M553.9 319.2h0M564.8 317.2h0M575.6 314.7h0M586.4 311h0M597.2 308.4h0M607.9 305.8h0M618.6 303.2h0M629.2 299.1h0M639.8 294.5h0M650.4 289.8h0"/><path stroke="#ba1256" stroke-width="6.2" stroke-linecap="round" d="M449.9 309.8h0M461.8 319.9h0M473.5 316.3h0M485 319.6h0M496.4 324.3h0M507.7 323.4h0M518.8 322.5h0M529.8 320.9h0M540.8 321.3h0M551.7 319.3h0M562.6 317.6h0M573.4 314.9h0M584.1 312.6h0M594.8 309.1h0M605.5 306.8h0M616.1 303.4h0M626.8 298.4h0M637.4 296.2h0M647.9 292.8h0M658.5 284.5h0"/><path stroke="#b91253" stroke-width="6.2" stroke-linecap="round" d="M460.1 312.5h0M471.7 314.3h0M483.2 323.6h0M494.5 322.3h0M505.6 323.4h0M516.7 322.9h0M527.7 321.6h0M538.6 319.9h0M549.5 319.4h0M560.3 318.9h0M571.1 314.9h0M581.8 312.6h0M592.4 309.5h0M603.1 307.5h0M613.7 303.6h0M624.3 299.3h0M634.8 296.9h0M645.4 293.3h0M655.9 288.5h0"/><path stroke="#b9124f" stroke-width="6.2" stroke-linecap="round" d="M458.4 312.5h0M469.9 323.3h0M481.3 322.4h0M492.5 323.1h0M503.6 324.3h0M514.6 320.9h0M525.6 323.5h0M536.4 322.1h0M547.2 318.7h0M558 318.8h0M568.7 315.7h0M579.4 313h0M590 310.2h0M600.6 307.9h0M611.2 304.4h0M621.8 301.2h0M632.3 297.8h0M642.8 293.8h0M653.3 289.1h0"/><path stroke="#b8124c" stroke-width="6.2" stroke-linecap="round" d="M456.6 311.4h0M468 321.7h0M479.3 320.5h0M490.5 326.2h0M501.5 323.4h0M512.5 323.2h0M523.4 321h0M534.2 321.1h0M544.9 319.8h0M555.7 317.4h0M566.3 315.7h0M577 314.5h0M587.6 312h0M598.1 308.1h0M608.7 305.2h0M619.2 301.8h0M629.7 298.7h0M640.2 295.5h0M650.7 292.6h0M661.1 286.3h0"/><path stroke="#b71249" stroke-width="6.2" stroke-linecap="round" d="M466.1 313.1h0M477.3 322h0M488.4 324.4h0M499.4 322.7h0M510.3 322.7h0M521.1 322.8h0M531.9 322.2h0M542.6 320.9h0M553.3 319.7h0M563.9 317.5h0M574.5 314.1h0M585.1 312h0M595.6 309.2h0M606.1 306.4h0M616.6 303.6h0M627.1 299.4h0M637.5 297h0M648 291.8h0M658.4 287.9h0"/><path stroke="#b71245" stroke-width="6.2" stroke-linecap="round" d="M464.1 313.2h0M475.3 326.3h0M486.3 323.9h0M497.2 323.4h0M508 324.5h0M518.8 321.8h0M529.5 322.4h0M540.2 320.4h0M550.8 319.7h0M561.4 317.9h0M572 315.6h0M582.5 312.4h0M593 310.3h0M603.5 306.8h0M614 303.3h0M624.4 300.1h0M634.8 296.5h0M645.3 294.9h0M655.7 290.5h0"/><path stroke="#b61242" stroke-width="6.2" stroke-linecap="round" d="M462.1 313.6h0M473.2 314.7h0M484.1 321.6h0M495 322.1h0M505.8 322.8h0M516.5 323.7h0M527.2 322.3h0M537.8 320.8h0M548.4 320.2h0M558.9 318.5h0M569.4 315.3h0M579.9 313.5h0M590.4 310.1h0M600.9 307.8h0M611.3 302.9h0M621.7 301.5h0M632.1 298.8h0M642.5 295.2h0M652.9 291.5h0M663.2 285.5h0"/><path stroke="#b5123f" stroke-width="6.2" stroke-linecap="round" d="M471 315.5h0M481.9 323.4h0M492.7 322.7h0M503.4 325.1h0M514.1 322.1h0M524.7 322h0M535.3 321.6h0M545.8 319.2h0M556.3 318.3h0M566.8 316.4h0M577.3 314.2h0M587.7 311.4h0M598.2 309h0M608.6 305.3h0M618.9 301.9h0M629.3 298.7h0M639.7 297h0M650 291.6h0M660.4 286.7h0"/><path stroke="#b5123b" stroke-width="6.2" stroke-linecap="round" d="M468.8 321h0M479.6 319.1h0M490.4 322.8h0M501 321.8h0M511.6 323.9h0M522.2 322.5h0M532.7 320.8h0M543.3 320.5h0M553.7 318.2h0M564.2 316.9h0M574.6 314.5h0M585 312.7h0M595.4 310.1h0M605.8 306.6h0M616.1 303.3h0M626.5 300.2h0M636.8 295.5h0M647.2 291.8h0M657.5 288h0"/><path stroke="#b41238" stroke-width="6.2" stroke-linecap="round" d="M466.6 313.4h0M477.3 317.5h0M488 325.5h0M498.6 321.3h0M509.1 322.5h0M519.7 321.9h0M530.2 321.1h0M540.6 319.6h0M551 319.1h0M561.5 317.4h0M571.9 315.2h0M582.2 312.3h0M592.6 309.6h0M602.9 306.9h0M613.3 303.7h0M623.6 301.7h0M633.9 296.4h0M644.2 294.8h0M654.5 287.3h0M664.8 282.5h0"/><path stroke="#b31235" stroke-width="6.2" stroke-linecap="round" d="M474.9 323.2h0M485.5 320.9h0M496.1 324.6h0M506.6 323.8h0M517 323.1h0M527.5 321.8h0M537.9 319.3h0M548.3 319.5h0M558.7 318.4h0M569.1 314.6h0M579.4 313.4h0M589.7 311h0M600.1 308.5h0M610.4 304.2h0M620.7 301.7h0M631 298.1h0M641.3 294.5h0M651.5 291h0M661.8 286.3h0"/><path stroke="#b21233" stroke-width="6.2" stroke-linecap="round" d="M472.4 326.7h0M483 322.2h0M493.5 316.4h0M503.9 323.7h0M514.4 323.8h0M524.8 323h0M535.1 320.6h0M545.5 319.5h0M555.8 318.9h0M566.2 316.5h0M576.5 314h0M586.8 311.2h0M597.1 308.9h0M607.4 306.1h0M617.7 302.5h0M628 300h0M638.2 294.7h0M648.5 292h0M658.7 288.9h0"/><path stroke="#b11230" stroke-width="6.2" stroke-linecap="round" d="M469.9 318.2h0M480.4 319.9h0M490.8 325.8h0M501.2 322.4h0M511.6 322.8h0M522 322.4h0M532.3 319.7h0M542.6 319.9h0M552.9 318.4h0M563.2 317.8h0M573.5 314.7h0M583.8 311.7h0M594.1 309.7h0M604.4 306.8h0M614.6 303.9h0M624.9 299.7h0M635.1 297.5h0M645.4 293.8h0M655.6 288h0M665.9 283.5h0"/><path stroke="#b0122e" stroke-width="6.2" stroke-linecap="round" d="M467.2 318.1h0M477.7 317.8h0M488 322.3h0M498.4 321.4h0M508.7 324.5h0M519.1 322.1h0M529.4 322.1h0M539.7 320h0M550 320.1h0M560.2 316.7h0M570.5 315.6h0M580.8 311h0M591 310.4h0M601.3 308.1h0M611.5 303.3h0M621.7 300.5h0M632 298.2h0M642.2 294.8h0M652.4 290.7h0M662.7 285.2h0"/><path stroke="#af122b" stroke-width="6.2" stroke-linecap="round" d="M474.8 319.2h0M485.2 322.2h0M495.5 322.6h0M505.8 325.5h0M516.1 322.8h0M526.4 322h0M536.6 320.7h0M546.9 319.4h0M557.1 317.7h0M567.4 316.2h0M577.6 313.7h0M587.9 308.3h0M598.1 309.2h0M608.3 305.7h0M618.5 301.7h0M628.8 299.7h0M639 297.5h0M649.2 291.4h0M659.4 285.9h0M669.6 283.4h0"/><path stroke="#ae1228" stroke-width="6.2" stroke-linecap="round" d="M471.9 316.6h0M482.2 321.8h0M492.5 321.7h0M502.8 324.8h0M513 323.5h0M523.3 321.4h0M533.5 321.6h0M543.7 319.1h0M554 318.5h0M564.2 316.9h0M574.4 314.4h0M584.6 311.6h0M594.8 309.4h0M605 306.9h0M615.3 304.5h0M625.5 300.5h0M635.7 297h0M645.9 293.1h0M656.1 289.8h0M666.3 283.7h0"/><path stroke="#ad1226" stroke-width="6.2" stroke-linecap="round" d="M468.9 322.6h0M479.1 327.9h0M489.4 317.7h0M499.6 322h0M509.8 323.5h0M520.1 321.9h0M530.3 321.2h0M540.5 322h0M550.7 318.8h0M560.9 317.4h0M571.1 315.1h0M581.3 312.4h0M591.5 309.5h0M601.7 307.1h0M611.9 302.5h0M622.1 299.9h0M632.3 296.6h0M642.5 295.9h0M652.6 290.8h0M662.8 282.9h0"/><path stroke="#ac1223" stroke-width="6.2" stroke-linecap="round" d="M465.7 315h0M475.9 319.7h0M486.1 315.6h0M496.3 324.3h0M506.5 327.5h0M516.7 321.8h0M526.9 321.9h0M537.1 321.5h0M547.3 320.1h0M557.5 318.6h0M567.7 317h0M577.9 314.5h0M588 308.1h0M598.2 308.3h0M608.4 304.5h0M618.6 303.4h0M628.8 298.7h0M639 296.5h0M649.1 293.4h0M659.3 287.6h0M669.5 276.9h0"/><path stroke="#ab1221" stroke-width="6.2" stroke-linecap="round" d="M472.4 313.7h0M482.6 328.1h0M492.8 334.4h0M503 327.9h0M513.2 317.3h0M523.4 323.2h0M533.5 321.2h0M543.7 320h0M553.9 320.1h0M564.1 316.1h0M574.2 313.4h0M584.4 311.2h0M594.6 308.6h0M604.8 302.7h0M615 304.6h0M625.1 296.9h0M635.3 297.2h0M645.5 292.6h0M655.7 285.9h0M665.8 281.3h0"/><path stroke="#aa121e" stroke-width="6.2" stroke-linecap="round" d="M467.4 320.4h0M477.6 323.9h0M487.7 333.6h0M497.9 307.3h0M508.1 327.6h0M518.3 322.7h0M528.4 315.9h0M538.6 319.2h0M548.8 318.9h0M559 317.8h0M569.1 317h0M579.3 313.1h0M589.5 312.8h0M599.6 309.3h0M609.8 305.1h0M620 300.4h0M630.2 299.7h0M640.3 295.7h0M650.5 288h0M660.7 282.6h0M670.8 280h0"/><path stroke="#88f840" stroke-width="1.85" d="M452.5 304.3V312.1M448.2 304.3h8.6M448.2 312.1h8.6"/><path stroke="#88f840" stroke-width="1.85" d="M452.2 305.7V313.6M447.9 305.7h8.6M447.9 313.6h8.6"/><path stroke="#88f840" stroke-width="1.85" d="M452 304.5V312.5M447.7 304.5h8.6M447.7 312.5h8.6"/><path stroke="#88f840" stroke-width="1.85" d="M451.7 311.8V319.8M447.4 311.8h8.6M447.4 319.8h8.6"/><path stroke="#88f840" stroke-width="1.85" d="M451.5 308.7V316.8M447.2 308.7h8.6M447.2 316.8h8.6"/><path stroke="#88f840" stroke-width="1.85" d="M451.2 304.5V312.7M446.9 304.5h8.6M446.9 312.7h8.6"/><path stroke="#88f840" stroke-width="1.85" d="M451 305.9V314.2M446.7 305.9h8.6M446.7 314.2h8.6"/><path stroke="#88f840" stroke-width="1.85" d="M450.7 305.2V313.5M446.4 305.2h8.6M446.4 313.5h8.6"/><path stroke="#88f840" stroke-width="1.85" d="M450.5 304.4V312.8M446.2 304.4h8.6M446.2 312.8h8.6"/><path stroke="#88f840" stroke-width="1.85" d="M450.2 310.4V318.8M445.9 310.4h8.6M445.9 318.8h8.6"/><path stroke="#88f840" stroke-width="1.85" d="M449.9 303.7V312.2M445.6 303.7h8.6M445.6 312.2h8.6"/><path stroke="#88f840" stroke-width="1.85" d="M449.7 303.7V312.2M445.4 303.7h8.6M445.4 312.2h8.6"/><path stroke="#88f840" stroke-width="1.85" d="M449.4 306V314.6M445.1 306h8.6M445.1 314.6h8.6"/><path stroke="#88f840" stroke-width="1.85" d="M449.2 303.1V311.7M444.9 303.1h8.6M444.9 311.7h8.6"/><path stroke="#88f840" stroke-width="1.85" d="M448.9 296.9V305.5M444.6 296.9h8.6M444.6 305.5h8.6"/><path stroke="#88f840" stroke-width="1.85" d="M448.6 304.7V313.4M444.3 304.7h8.6M444.3 313.4h8.6"/><path stroke="#88f840" stroke-width="1.85" d="M448.4 306.6V315.4M444.1 306.6h8.6M444.1 315.4h8.6"/><path stroke="#88f840" stroke-width="1.85" d="M448.1 302.4V311.2M443.8 302.4h8.6M443.8 311.2h8.6"/><path stroke="#88f840" stroke-width="1.85" d="M447.9 299.5V308.4M443.6 299.5h8.6M443.6 308.4h8.6"/><path stroke="#88f840" stroke-width="1.85" d="M447.6 311.8V320.8M443.3 311.8h8.6M443.3 320.8h8.6"/><path stroke="#88f840" stroke-width="1.85" d="M447.3 298.7V307.8M443 298.7h8.6M443 307.8h8.6"/><path stroke="#88f840" stroke-width="1.85" d="M447.1 309.3V318.4M442.8 309.3h8.6M442.8 318.4h8.6"/><path stroke="#88f840" stroke-width="1.85" d="M490.9 321.7V323.5M486.6 321.7h8.6M486.6 323.5h8.6M446.8 308.8V318M442.5 308.8h8.6M442.5 318h8.6"/><path stroke="#84f745" stroke-width="1.85" d="M490.6 322V323.8M486.3 322h8.6M486.3 323.8h8.6M446.5 303V312.2M442.2 303h8.6M442.2 312.2h8.6"/><path stroke="#80f64a" stroke-width="1.85" d="M490.2 321.3V323.1M485.9 321.3h8.6M485.9 323.1h8.6M446.3 307.6V316.9M442 307.6h8.6M442 316.9h8.6"/><path stroke="#7cf64e" stroke-width="1.85" d="M489.9 322.1V324M485.6 322.1h8.6M485.6 324h8.6M446 301.7V311M441.7 301.7h8.6M441.7 311h8.6"/><path stroke="#78f553" stroke-width="1.85" d="M489.6 322.2V324.1M485.3 322.2h8.6M485.3 324.1h8.6M445.7 303.4V312.8M441.4 303.4h8.6M441.4 312.8h8.6"/><path stroke="#74f458" stroke-width="1.85" d="M489.2 321.7V323.6M484.9 321.7h8.6M484.9 323.6h8.6M445.5 305V314.4M441.2 305h8.6M441.2 314.4h8.6"/><path stroke="#70f35d" stroke-width="1.85" d="M488.9 320.9V322.7M484.6 320.9h8.6M484.6 322.7h8.6M445.2 301.1V310.6M440.9 301.1h8.6M440.9 310.6h8.6"/><path stroke="#6cf262" stroke-width="1.85" d="M488.5 321.8V323.6M484.2 321.8h8.6M484.2 323.6h8.6M444.9 303.5V313.1M440.6 303.5h8.6M440.6 313.1h8.6"/><path stroke="#68f266" stroke-width="1.85" d="M488.2 322.5V324.4M483.9 322.5h8.6M483.9 324.4h8.6M444.6 297.9V307.6M440.3 297.9h8.6M440.3 307.6h8.6"/><path stroke="#64f16b" stroke-width="1.85" d="M487.8 322.2V324.1M483.5 322.2h8.6M483.5 324.1h8.6M444.4 300.2V309.9M440.1 300.2h8.6M440.1 309.9h8.6"/><path stroke="#60f070" stroke-width="1.85" d="M487.5 321.8V323.6M483.2 321.8h8.6M483.2 323.6h8.6M444.1 298.4V308.2M439.8 298.4h8.6M439.8 308.2h8.6"/><path stroke="#5eef74" stroke-width="1.85" d="M487.1 322.2V324.1M482.8 322.2h8.6M482.8 324.1h8.6M443.8 299.8V309.6M439.5 299.8h8.6M439.5 309.6h8.6"/><path stroke="#5bef77" stroke-width="1.85" d="M486.8 322V323.9M482.5 322h8.6M482.5 323.9h8.6M443.6 295.2V305.1M439.3 295.2h8.6M439.3 305.1h8.6"/><path stroke="#59ee7b" stroke-width="1.85" d="M486.4 321.6V323.5M482.1 321.6h8.6M482.1 323.5h8.6M443.3 304V313.9M439 304h8.6M439 313.9h8.6"/><path stroke="#56ee7f" stroke-width="1.85" d="M486.1 322V323.9M481.8 322h8.6M481.8 323.9h8.6M443 301.7V311.7M438.7 301.7h8.6M438.7 311.7h8.6"/><path stroke="#54ed82" stroke-width="1.85" d="M485.7 321.7V323.6M481.4 321.7h8.6M481.4 323.6h8.6M442.7 298.9V309M438.4 298.9h8.6M438.4 309h8.6"/><path stroke="#51ec86" stroke-width="1.85" d="M485.4 322.3V324.2M481.1 322.3h8.6M481.1 324.2h8.6M442.5 307.6V317.8M438.2 307.6h8.6M438.2 317.8h8.6"/><path stroke="#4fec8a" stroke-width="1.85" d="M485 322.1V324.1M480.7 322.1h8.6M480.7 324.1h8.6M442.2 295.1V305.3M437.9 295.1h8.6M437.9 305.3h8.6"/><path stroke="#4ceb8e" stroke-width="1.85" d="M484.6 321.9V323.8M480.3 321.9h8.6M480.3 323.8h8.6M441.9 300.8V311.1M437.6 300.8h8.6M437.6 311.1h8.6"/><path stroke="#4aea91" stroke-width="1.85" d="M484.3 321.7V323.6M480 321.7h8.6M480 323.6h8.6M441.6 296.9V307.2M437.3 296.9h8.6M437.3 307.2h8.6"/><path stroke="#47ea95" stroke-width="1.85" d="M483.9 321.5V323.5M479.6 321.5h8.6M479.6 323.5h8.6M441.3 296.1V306.5M437 296.1h8.6M437 306.5h8.6"/><path stroke="#45e999" stroke-width="1.85" d="M483.6 321.9V323.8M479.3 321.9h8.6M479.3 323.8h8.6M512.9 322.3V324.1M508.6 322.3h8.6M508.6 324.1h8.6M441.1 297.9V308.4M436.8 297.9h8.6M436.8 308.4h8.6"/><path stroke="#42e99c" stroke-width="1.85" d="M483.2 322.2V324.1M478.9 322.2h8.6M478.9 324.1h8.6M512.4 323.1V324.8M508.1 323.1h8.6M508.1 324.8h8.6M440.8 285.7V296.2M436.5 285.7h8.6M436.5 296.2h8.6"/><path stroke="#40e8a0" stroke-width="1.85" d="M482.8 321.1V323.1M478.5 321.1h8.6M478.5 323.1h8.6M512 322.4V324.2M507.7 322.4h8.6M507.7 324.2h8.6M440.5 298.3V308.9M436.2 298.3h8.6M436.2 308.9h8.6"/><path stroke="#3ee7a2" stroke-width="1.85" d="M482.5 321.3V323.3M478.2 321.3h8.6M478.2 323.3h8.6M511.6 322.2V324M507.3 322.2h8.6M507.3 324h8.6M440.2 296.3V307M435.9 296.3h8.6M435.9 307h8.6"/><path stroke="#3ce6a4" stroke-width="1.85" d="M482.1 321.9V323.9M477.8 321.9h8.6M477.8 323.9h8.6M511.2 321.2V323M506.9 321.2h8.6M506.9 323h8.6M439.9 301.2V311.9M435.6 301.2h8.6M435.6 311.9h8.6"/><path stroke="#3ae6a6" stroke-width="1.85" d="M481.8 321V323M477.5 321h8.6M477.5 323h8.6M510.7 322V323.8M506.4 322h8.6M506.4 323.8h8.6M439.6 298.4V309.2M435.3 298.4h8.6M435.3 309.2h8.6"/><path stroke="#37e5a9" stroke-width="1.85" d="M481.4 322.2V324.2M477.1 322.2h8.6M477.1 324.2h8.6M510.3 323.2V324.9M506 323.2h8.6M506 324.9h8.6M439.4 296.5V307.3M435.1 296.5h8.6M435.1 307.3h8.6"/><path stroke="#35e4ab" stroke-width="1.85" d="M481 321V323M476.7 321h8.6M476.7 323h8.6M509.9 322.4V324.3M505.6 322.4h8.6M505.6 324.3h8.6M439.1 297.6V308.5M434.8 297.6h8.6M434.8 308.5h8.6"/><path stroke="#33e3ad" stroke-width="1.85" d="M480.7 320.9V322.9M476.4 320.9h8.6M476.4 322.9h8.6M509.4 323.2V325M505.1 323.2h8.6M505.1 325h8.6M438.8 294.7V305.7M434.5 294.7h8.6M434.5 305.7h8.6"/><path stroke="#31e2af" stroke-width="1.85" d="M480.3 321.2V323.2M476 321.2h8.6M476 323.2h8.6M509 322.9V324.7M504.7 322.9h8.6M504.7 324.7h8.6M534.6 320.5V321.9M530.3 320.5h8.6M530.3 321.9h8.6M438.5 298.9V309.9M434.2 298.9h8.6M434.2 309.9h8.6"/><path stroke="#2fe2b1" stroke-width="1.85" d="M479.9 321.1V323.2M475.6 321.1h8.6M475.6 323.2h8.6M508.6 322.2V324M504.3 322.2h8.6M504.3 324h8.6M534.1 320.4V321.9M529.8 320.4h8.6M529.8 321.9h8.6M438.2 295.1V306.2M433.9 295.1h8.6M433.9 306.2h8.6"/><path stroke="#2de1b3" stroke-width="1.85" d="M479.5 321.3V323.4M475.2 321.3h8.6M475.2 323.4h8.6M508.1 322.2V324.1M503.8 322.2h8.6M503.8 324.1h8.6M533.6 321V322.5M529.3 321h8.6M529.3 322.5h8.6M557.1 318.2V319.5M552.8 318.2h8.6M552.8 319.5h8.6M437.9 295.7V306.9M433.6 295.7h8.6M433.6 306.9h8.6"/><path stroke="#2be0b5" stroke-width="1.85" d="M479.2 321.4V323.6M474.9 321.4h8.6M474.9 323.6h8.6M507.7 321.8V323.7M503.4 321.8h8.6M503.4 323.7h8.6M533.1 320.4V321.9M528.8 320.4h8.6M528.8 321.9h8.6M556.6 318V319.3M552.3 318h8.6M552.3 319.3h8.6M578.5 311.9V313.2M574.2 311.9h8.6M574.2 313.2h8.6M437.6 295.1V306.3M433.3 295.1h8.6M433.3 306.3h8.6"/><path stroke="#29dfb7" stroke-width="1.85" d="M478.8 321.5V323.7M474.5 321.5h8.6M474.5 323.7h8.6M507.2 322.4V324.3M502.9 322.4h8.6M502.9 324.3h8.6M532.6 321.3V322.9M528.3 321.3h8.6M528.3 322.9h8.6M556 317.5V318.7M551.7 317.5h8.6M551.7 318.7h8.6M577.9 312.9V314.2M573.6 312.9h8.6M573.6 314.2h8.6M437.3 293.7V305M433 293.7h8.6M433 305h8.6"/><path stroke="#26deba" stroke-width="1.85" d="M478.4 321.3V323.5M474.1 321.3h8.6M474.1 323.5h8.6M506.8 322.4V324.3M502.5 322.4h8.6M502.5 324.3h8.6M532.1 321.2V322.7M527.8 321.2h8.6M527.8 322.7h8.6M555.4 318.3V319.5M551.1 318.3h8.6M551.1 319.5h8.6M577.3 312.4V313.8M573 312.4h8.6M573 313.8h8.6M437 294.9V306.2M432.7 294.9h8.6M432.7 306.2h8.6"/><path stroke="#24debc" stroke-width="1.85" d="M478 320V322.3M473.7 320h8.6M473.7 322.3h8.6M506.4 323.3V325.2M502.1 323.3h8.6M502.1 325.2h8.6M531.6 320.5V322.1M527.3 320.5h8.6M527.3 322.1h8.6M554.9 317.8V319.1M550.6 317.8h8.6M550.6 319.1h8.6M576.7 313.4V314.8M572.4 313.4h8.6M572.4 314.8h8.6M436.8 290.5V301.9M432.5 290.5h8.6M432.5 301.9h8.6"/><path stroke="#22ddbe" stroke-width="1.85" d="M477.7 319.3V321.6M473.4 319.3h8.6M473.4 321.6h8.6M505.9 322V324M501.6 322h8.6M501.6 324h8.6M531.1 321V322.6M526.8 321h8.6M526.8 322.6h8.6M554.3 318.3V319.6M550 318.3h8.6M550 319.6h8.6M576.1 314V315.3M571.8 314h8.6M571.8 315.3h8.6M436.5 296.7V308.2M432.2 296.7h8.6M432.2 308.2h8.6"/><path stroke="#20dcc0" stroke-width="1.85" d="M477.3 319.3V321.6M473 319.3h8.6M473 321.6h8.6M505.5 322.3V324.3M501.2 322.3h8.6M501.2 324.3h8.6M530.6 320.9V322.5M526.3 320.9h8.6M526.3 322.5h8.6M553.8 318.6V319.9M549.5 318.6h8.6M549.5 319.9h8.6M575.4 313.6V314.9M571.1 313.6h8.6M571.1 314.9h8.6M436.2 291.5V303.1M431.9 291.5h8.6M431.9 303.1h8.6"/><path stroke="#1fdbc1" stroke-width="1.85" d="M476.9 320.5V322.8M472.6 320.5h8.6M472.6 322.8h8.6M505 321.7V323.7M500.7 321.7h8.6M500.7 323.7h8.6M530.1 321.6V323.2M525.8 321.6h8.6M525.8 323.2h8.6M553.2 318.7V320M548.9 318.7h8.6M548.9 320h8.6M574.8 313.7V315M570.5 313.7h8.6M570.5 315h8.6M435.9 294.4V306M431.6 294.4h8.6M431.6 306h8.6"/><path stroke="#1edac2" stroke-width="1.85" d="M476.5 320V322.4M472.2 320h8.6M472.2 322.4h8.6M504.6 322.7V324.6M500.3 322.7h8.6M500.3 324.6h8.6M529.6 321.1V322.7M525.3 321.1h8.6M525.3 322.7h8.6M552.7 318.4V319.7M548.4 318.4h8.6M548.4 319.7h8.6M574.2 314.3V315.6M569.9 314.3h8.6M569.9 315.6h8.6M435.6 288.4V300.1M431.3 288.4h8.6M431.3 300.1h8.6"/><path stroke="#1dd9c3" stroke-width="1.85" d="M476.2 319.6V322M471.9 319.6h8.6M471.9 322h8.6M504.1 322.3V324.3M499.8 322.3h8.6M499.8 324.3h8.6M529.1 321.2V322.7M524.8 321.2h8.6M524.8 322.7h8.6M552.1 318.7V320M547.8 318.7h8.6M547.8 320h8.6M573.6 313.7V315.1M569.3 313.7h8.6M569.3 315.1h8.6M435.3 290.3V302M431 290.3h8.6M431 302h8.6"/><path stroke="#1bd7c5" stroke-width="1.85" d="M475.8 319.5V322M471.5 319.5h8.6M471.5 322h8.6M503.7 322V324M499.4 322h8.6M499.4 324h8.6M528.6 320.8V322.4M524.3 320.8h8.6M524.3 322.4h8.6M551.5 318.3V319.6M547.2 318.3h8.6M547.2 319.6h8.6M573 314.3V315.7M568.7 314.3h8.6M568.7 315.7h8.6M435 287.1V299M430.7 287.1h8.6M430.7 299h8.6"/><path stroke="#1ad6c6" stroke-width="1.85" d="M475.4 320V322.6M471.1 320h8.6M471.1 322.6h8.6M503.2 322.2V324.2M498.9 322.2h8.6M498.9 324.2h8.6M528.1 321.4V323M523.8 321.4h8.6M523.8 323h8.6M551 319.1V320.5M546.7 319.1h8.6M546.7 320.5h8.6M572.4 312.7V314.1M568.1 312.7h8.6M568.1 314.1h8.6M434.7 292.3V304.2M430.4 292.3h8.6M430.4 304.2h8.6"/><path stroke="#19d5c7" stroke-width="1.85" d="M475 320.2V322.8M470.7 320.2h8.6M470.7 322.8h8.6M502.8 322.5V324.6M498.5 322.5h8.6M498.5 324.6h8.6M527.6 320.5V322.1M523.3 320.5h8.6M523.3 322.1h8.6M550.4 318.5V319.8M546.1 318.5h8.6M546.1 319.8h8.6M571.8 313.7V315.1M567.5 313.7h8.6M567.5 315.1h8.6M434.4 290.9V302.9M430.1 290.9h8.6M430.1 302.9h8.6"/><path stroke="#18d4c8" stroke-width="1.85" d="M474.6 320.5V323.1M470.3 320.5h8.6M470.3 323.1h8.6M502.3 322V324M498 322h8.6M498 324h8.6M527.1 321.5V323.2M522.8 321.5h8.6M522.8 323.2h8.6M549.8 318.7V320.1M545.5 318.7h8.6M545.5 320.1h8.6M571.2 315.2V316.6M566.9 315.2h8.6M566.9 316.6h8.6M434.1 292V304.1M429.8 292h8.6M429.8 304.1h8.6"/><path stroke="#17d3c9" stroke-width="1.85" d="M474.2 319.5V322.2M469.9 319.5h8.6M469.9 322.2h8.6M501.8 322.1V324.2M497.5 322.1h8.6M497.5 324.2h8.6M526.5 321.1V322.7M522.2 321.1h8.6M522.2 322.7h8.6M549.3 319.5V320.8M545 319.5h8.6M545 320.8h8.6M570.5 314.7V316M566.2 314.7h8.6M566.2 316h8.6M433.8 291.9V304M429.5 291.9h8.6M429.5 304h8.6"/><path stroke="#16d2ca" stroke-width="1.85" d="M473.8 319.3V322M469.5 319.3h8.6M469.5 322h8.6M501.4 320.1V322.2M497.1 320.1h8.6M497.1 322.2h8.6M526 321.1V322.8M521.7 321.1h8.6M521.7 322.8h8.6M548.7 318.6V320M544.4 318.6h8.6M544.4 320h8.6M569.9 314.7V316M565.6 314.7h8.6M565.6 316h8.6M590.1 309.7V311.2M585.8 309.7h8.6M585.8 311.2h8.6M433.5 289.1V301.3M429.2 289.1h8.6M429.2 301.3h8.6"/><path stroke="#15d1cb" stroke-width="1.85" d="M473.4 319.4V322.2M469.1 319.4h8.6M469.1 322.2h8.6M500.9 322.3V324.4M496.6 322.3h8.6M496.6 324.4h8.6M525.5 321.6V323.3M521.2 321.6h8.6M521.2 323.3h8.6M548.1 318.8V320.2M543.8 318.8h8.6M543.8 320.2h8.6M569.3 315.3V316.6M565 315.3h8.6M565 316.6h8.6M589.4 309.6V311.1M585.1 309.6h8.6M585.1 311.1h8.6M433.2 295.5V307.8M428.9 295.5h8.6M428.9 307.8h8.6"/><path stroke="#13cfcd" stroke-width="1.85" d="M473.1 318.2V321M468.8 318.2h8.6M468.8 321h8.6M500.5 322.4V324.6M496.2 322.4h8.6M496.2 324.6h8.6M525 321.2V323M520.7 321.2h8.6M520.7 323h8.6M547.5 319.2V320.6M543.2 319.2h8.6M543.2 320.6h8.6M568.7 315.2V316.6M564.4 315.2h8.6M564.4 316.6h8.6M588.7 309.4V310.9M584.4 309.4h8.6M584.4 310.9h8.6M432.9 296.1V308.4M428.6 296.1h8.6M428.6 308.4h8.6"/><path stroke="#12cece" stroke-width="1.85" d="M472.7 319.5V322.4M468.4 319.5h8.6M468.4 322.4h8.6M500 322.2V324.3M495.7 322.2h8.6M495.7 324.3h8.6M524.5 321.4V323.1M520.2 321.4h8.6M520.2 323.1h8.6M547 319.3V320.8M542.7 319.3h8.6M542.7 320.8h8.6M568.1 315.2V316.5M563.8 315.2h8.6M563.8 316.5h8.6M588 310.1V311.6M583.7 310.1h8.6M583.7 311.6h8.6M432.6 288.1V300.5M428.3 288.1h8.6M428.3 300.5h8.6"/><path stroke="#11cdcf" stroke-width="1.85" d="M472.3 318.7V321.6M468 318.7h8.6M468 321.6h8.6M499.5 321.9V324M495.2 321.9h8.6M495.2 324h8.6M523.9 321.6V323.3M519.6 321.6h8.6M519.6 323.3h8.6M546.4 318.4V319.8M542.1 318.4h8.6M542.1 319.8h8.6M567.4 315.2V316.6M563.1 315.2h8.6M563.1 316.6h8.6M587.4 310.7V312.2M583.1 310.7h8.6M583.1 312.2h8.6M432.3 304.2V316.7M428 304.2h8.6M428 316.7h8.6"/><path stroke="#10ccd0" stroke-width="1.85" d="M471.9 319.3V322.3M467.6 319.3h8.6M467.6 322.3h8.6M499.1 321.4V323.6M494.8 321.4h8.6M494.8 323.6h8.6M523.4 320.8V322.6M519.1 320.8h8.6M519.1 322.6h8.6M545.8 319.5V321M541.5 319.5h8.6M541.5 321h8.6M566.8 315.8V317.1M562.5 315.8h8.6M562.5 317.1h8.6M586.7 310.7V312.2M582.4 310.7h8.6M582.4 312.2h8.6M431.9 293.1V305.6M427.6 293.1h8.6M427.6 305.6h8.6"/><path stroke="#12cbd1" stroke-width="1.85" d="M471.5 318.4V321.5M467.2 318.4h8.6M467.2 321.5h8.6M498.6 321.5V323.6M494.3 321.5h8.6M494.3 323.6h8.6M522.9 321.3V323.1M518.6 321.3h8.6M518.6 323.1h8.6M545.2 319.2V320.7M540.9 319.2h8.6M540.9 320.7h8.6M566.2 316.3V317.6M561.9 316.3h8.6M561.9 317.6h8.6M586 311.4V312.9M581.7 311.4h8.6M581.7 312.9h8.6M431.6 291.7V304.2M427.3 291.7h8.6M427.3 304.2h8.6"/><path stroke="#15cad2" stroke-width="1.85" d="M471.1 318.3V321.4M466.8 318.3h8.6M466.8 321.4h8.6M498.1 322.2V324.4M493.8 322.2h8.6M493.8 324.4h8.6M522.3 322.1V323.9M518 322.1h8.6M518 323.9h8.6M544.6 318.9V320.3M540.3 318.9h8.6M540.3 320.3h8.6M565.5 315.8V317.2M561.2 315.8h8.6M561.2 317.2h8.6M585.3 310.7V312.2M581 310.7h8.6M581 312.2h8.6M431.3 285.4V298M427 285.4h8.6M427 298h8.6"/><path stroke="#17c9d3" stroke-width="1.85" d="M470.7 317.3V320.5M466.4 317.3h8.6M466.4 320.5h8.6M497.7 322.9V325M493.4 322.9h8.6M493.4 325h8.6M521.8 321.6V323.4M517.5 321.6h8.6M517.5 323.4h8.6M544 318.9V320.4M539.7 318.9h8.6M539.7 320.4h8.6M564.9 316.8V318.2M560.6 316.8h8.6M560.6 318.2h8.6M584.6 311.8V313.3M580.3 311.8h8.6M580.3 313.3h8.6M431 287.1V299.9M426.7 287.1h8.6M426.7 299.9h8.6"/><path stroke="#19c8d5" stroke-width="1.85" d="M470.3 318.3V321.5M466 318.3h8.6M466 321.5h8.6M497.2 323.4V325.6M492.9 323.4h8.6M492.9 325.6h8.6M521.3 321.4V323.2M517 321.4h8.6M517 323.2h8.6M543.5 319.7V321.2M539.2 319.7h8.6M539.2 321.2h8.6M564.2 316.9V318.2M559.9 316.9h8.6M559.9 318.2h8.6M584 311.1V312.6M579.7 311.1h8.6M579.7 312.6h8.6M430.7 286.1V298.9M426.4 286.1h8.6M426.4 298.9h8.6"/><path stroke="#1bc7d6" stroke-width="1.85" d="M469.9 318.1V321.4M465.6 318.1h8.6M465.6 321.4h8.6M496.7 322.2V324.4M492.4 322.2h8.6M492.4 324.4h8.6M520.7 321.9V323.7M516.4 321.9h8.6M516.4 323.7h8.6M542.9 319.6V321.1M538.6 319.6h8.6M538.6 321.1h8.6M563.6 316.9V318.2M559.3 316.9h8.6M559.3 318.2h8.6M583.3 311.6V313.1M579 311.6h8.6M579 313.1h8.6M430.4 290.7V303.6M426.1 290.7h8.6M426.1 303.6h8.6"/><path stroke="#1ec6d7" stroke-width="1.85" d="M469.5 318.5V321.9M465.2 318.5h8.6M465.2 321.9h8.6M496.2 321.8V324M491.9 321.8h8.6M491.9 324h8.6M520.2 321.9V323.7M515.9 321.9h8.6M515.9 323.7h8.6M542.3 319.3V320.8M538 319.3h8.6M538 320.8h8.6M563 317.3V318.6M558.7 317.3h8.6M558.7 318.6h8.6M582.6 311.8V313.3M578.3 311.8h8.6M578.3 313.3h8.6M430.1 296.5V309.3M425.8 296.5h8.6M425.8 309.3h8.6"/><path stroke="#20c5d8" stroke-width="1.85" d="M469.1 318.4V321.8M464.8 318.4h8.6M464.8 321.8h8.6M495.8 322.9V325.1M491.5 322.9h8.6M491.5 325.1h8.6M519.7 321.7V323.6M515.4 321.7h8.6M515.4 323.6h8.6M541.7 319.6V321.1M537.4 319.6h8.6M537.4 321.1h8.6M562.3 316.9V318.2M558 316.9h8.6M558 318.2h8.6M581.9 312V313.5M577.6 312h8.6M577.6 313.5h8.6M429.8 288.3V301.1M425.5 288.3h8.6M425.5 301.1h8.6"/><path stroke="#22c4d9" stroke-width="1.85" d="M468.7 317.8V321.4M464.4 317.8h8.6M464.4 321.4h8.6M495.3 322.1V324.3M491 322.1h8.6M491 324.3h8.6M519.1 321.7V323.6M514.8 321.7h8.6M514.8 323.6h8.6M541.1 319.7V321.3M536.8 319.7h8.6M536.8 321.3h8.6M561.7 316.8V318.1M557.4 316.8h8.6M557.4 318.1h8.6M581.2 312V313.5M576.9 312h8.6M576.9 313.5h8.6M429.4 286.8V299.7M425.1 286.8h8.6M425.1 299.7h8.6"/><path stroke="#25c3da" stroke-width="1.85" d="M468.3 317.7V321.4M464 317.7h8.6M464 321.4h8.6M494.8 323.2V325.4M490.5 323.2h8.6M490.5 325.4h8.6M518.6 321.7V323.6M514.3 321.7h8.6M514.3 323.6h8.6M540.5 320V321.6M536.2 320h8.6M536.2 321.6h8.6M561 317.3V318.6M556.7 317.3h8.6M556.7 318.6h8.6M580.5 312.1V313.6M576.2 312.1h8.6M576.2 313.6h8.6M429.1 292.1V305M424.8 292.1h8.6M424.8 305h8.6"/><path stroke="#27c2db" stroke-width="1.85" d="M467.8 316.7V320.5M463.5 316.7h8.6M463.5 320.5h8.6M494.3 321.6V323.8M490 321.6h8.6M490 323.8h8.6M518 322.2V324.1M513.7 322.2h8.6M513.7 324.1h8.6M539.9 320V321.6M535.6 320h8.6M535.6 321.6h8.6M560.4 317.2V318.5M556.1 317.2h8.6M556.1 318.5h8.6M579.8 312.4V313.9M575.5 312.4h8.6M575.5 313.9h8.6M428.8 285.6V298.6M424.5 285.6h8.6M424.5 298.6h8.6"/><path stroke="#29c2dd" stroke-width="1.85" d="M467.4 316.7V320.6M463.1 316.7h8.6M463.1 320.6h8.6M493.8 322V324.3M489.5 322h8.6M489.5 324.3h8.6M517.5 322.2V324.1M513.2 322.2h8.6M513.2 324.1h8.6M539.3 320.6V322.2M535 320.6h8.6M535 322.2h8.6M559.7 317.5V318.8M555.4 317.5h8.6M555.4 318.8h8.6M579.1 313.2V314.7M574.8 313.2h8.6M574.8 314.7h8.6M428.5 293.8V306.7M424.2 293.8h8.6M424.2 306.7h8.6"/><path stroke="#2bc1de" stroke-width="1.85" d="M467 317V321.1M462.7 317h8.6M462.7 321.1h8.6M493.3 322.2V324.6M489 322.2h8.6M489 324.6h8.6M516.9 321.9V323.9M512.6 321.9h8.6M512.6 323.9h8.6M538.7 319.7V321.3M534.4 319.7h8.6M534.4 321.3h8.6M559 317.4V318.7M554.7 317.4h8.6M554.7 318.7h8.6M578.4 312.7V314.1M574.1 312.7h8.6M574.1 314.1h8.6M428.2 289.5V302.5M423.9 289.5h8.6M423.9 302.5h8.6"/><path stroke="#2ec0df" stroke-width="1.85" d="M466.6 318.3V322.5M462.3 318.3h8.6M462.3 322.5h8.6M492.9 322.3V324.6M488.6 322.3h8.6M488.6 324.6h8.6M516.4 322.1V324.1M512.1 322.1h8.6M512.1 324.1h8.6M538.1 319.9V321.6M533.8 319.9h8.6M533.8 321.6h8.6M558.4 318V319.4M554.1 318h8.6M554.1 319.4h8.6M577.7 311.5V312.9M573.4 311.5h8.6M573.4 312.9h8.6M427.8 292.4V305.3M423.5 292.4h8.6M423.5 305.3h8.6"/><path stroke="#30bfe0" stroke-width="1.85" d="M466.2 316.7V321.1M461.9 316.7h8.6M461.9 321.1h8.6M492.4 322V324.3M488.1 322h8.6M488.1 324.3h8.6M515.8 322.1V324.1M511.5 322.1h8.6M511.5 324.1h8.6M537.4 320.2V321.9M533.1 320.2h8.6M533.1 321.9h8.6M557.7 317.8V319.2M553.4 317.8h8.6M553.4 319.2h8.6M577 313.1V314.5M572.7 313.1h8.6M572.7 314.5h8.6M427.5 285V298M423.2 285h8.6M423.2 298h8.6"/><path stroke="#32bee1" stroke-width="1.85" d="M465.8 315.1V319.7M461.5 315.1h8.6M461.5 319.7h8.6M491.9 321.9V324.3M487.6 321.9h8.6M487.6 324.3h8.6M515.3 321.8V323.9M511 321.8h8.6M511 323.9h8.6M536.8 320.1V321.7M532.5 320.1h8.6M532.5 321.7h8.6M557.1 318.6V319.9M552.8 318.6h8.6M552.8 319.9h8.6M576.3 313.3V314.8M572 313.3h8.6M572 314.8h8.6M594.7 308.5V310.1M590.4 308.5h8.6M590.4 310.1h8.6M427.2 290V303M422.9 290h8.6M422.9 303h8.6"/><path stroke="#35bde2" stroke-width="1.85" d="M465.4 316.2V321M461.1 316.2h8.6M461.1 321h8.6M491.4 321.8V324.2M487.1 321.8h8.6M487.1 324.2h8.6M514.7 321.8V323.9M510.4 321.8h8.6M510.4 323.9h8.6M536.2 320.1V321.8M531.9 320.1h8.6M531.9 321.8h8.6M556.4 317.7V319.1M552.1 317.7h8.6M552.1 319.1h8.6M575.5 313.8V315.2M571.2 313.8h8.6M571.2 315.2h8.6M593.9 308.7V310.3M589.6 308.7h8.6M589.6 310.3h8.6M426.9 287.6V300.6M422.6 287.6h8.6M422.6 300.6h8.6"/><path stroke="#37bce3" stroke-width="1.85" d="M464.9 316.1V321M460.6 316.1h8.6M460.6 321h8.6M490.9 321.8V324.3M486.6 321.8h8.6M486.6 324.3h8.6M514.1 321.6V323.7M509.8 321.6h8.6M509.8 323.7h8.6M535.6 320.5V322.2M531.3 320.5h8.6M531.3 322.2h8.6M555.7 318.7V320.1M551.4 318.7h8.6M551.4 320.1h8.6M574.8 313V314.5M570.5 313h8.6M570.5 314.5h8.6M593.1 308.9V310.5M588.8 308.9h8.6M588.8 310.5h8.6M426.5 290.7V303.8M422.2 290.7h8.6M422.2 303.8h8.6"/><path stroke="#39bbe5" stroke-width="1.85" d="M464.5 314.3V319.4M460.2 314.3h8.6M460.2 319.4h8.6M490.4 322.6V325M486.1 322.6h8.6M486.1 325h8.6M513.6 322V324.1M509.3 322h8.6M509.3 324.1h8.6M535 320.2V321.9M530.7 320.2h8.6M530.7 321.9h8.6M555 318.6V320M550.7 318.6h8.6M550.7 320h8.6M574.1 314.5V315.9M569.8 314.5h8.6M569.8 315.9h8.6M592.4 309.3V310.9M588.1 309.3h8.6M588.1 310.9h8.6M426.2 253.9V370.2M421.9 253.9h8.6M421.9 370.2h8.6"/><path stroke="#3bbae6" stroke-width="1.85" d="M464.1 316.3V321.7M459.8 316.3h8.6M459.8 321.7h8.6M489.9 321.8V324.2M485.6 321.8h8.6M485.6 324.2h8.6M513 322.4V324.5M508.7 322.4h8.6M508.7 324.5h8.6M534.4 320.4V322.1M530.1 320.4h8.6M530.1 322.1h8.6M554.4 318.9V320.3M550.1 318.9h8.6M550.1 320.3h8.6M573.4 314.2V315.7M569.1 314.2h8.6M569.1 315.7h8.6M591.6 308.9V310.5M587.3 308.9h8.6M587.3 310.5h8.6M425.9 235V287.1M421.6 235h8.6M421.6 287.1h8.6"/><path stroke="#3eb9e7" stroke-width="1.85" d="M463.7 315.4V321.1M459.4 315.4h8.6M459.4 321.1h8.6M489.4 321.3V323.8M485.1 321.3h8.6M485.1 323.8h8.6M512.5 321.8V324M508.2 321.8h8.6M508.2 324h8.6M533.7 320.2V321.9M529.4 320.2h8.6M529.4 321.9h8.6M553.7 318.6V320M549.4 318.6h8.6M549.4 320h8.6M572.7 314.8V316.2M568.4 314.8h8.6M568.4 316.2h8.6M590.8 309.7V311.3M586.5 309.7h8.6M586.5 311.3h8.6M425.5 268V330.4M421.2 268h8.6M421.2 330.4h8.6"/><path stroke="#40b8e8" stroke-width="1.85" d="M463.2 313.9V319.9M458.9 313.9h8.6M458.9 319.9h8.6M488.9 322.1V324.6M484.6 322.1h8.6M484.6 324.6h8.6M511.9 322.2V324.4M507.6 322.2h8.6M507.6 324.4h8.6M533.1 320.6V322.3M528.8 320.6h8.6M528.8 322.3h8.6M553 318.9V320.3M548.7 318.9h8.6M548.7 320.3h8.6M571.9 315V316.4M567.6 315h8.6M567.6 316.4h8.6M590.1 309.4V310.9M585.8 309.4h8.6M585.8 310.9h8.6M425.2 248.5V294.9M420.9 248.5h8.6M420.9 294.9h8.6"/><path stroke="#42b7e9" stroke-width="1.85" d="M462.8 313.8V320.2M458.5 313.8h8.6M458.5 320.2h8.6M488.4 321V323.5M484.1 321h8.6M484.1 323.5h8.6M511.3 322V324.2M507 322h8.6M507 324.2h8.6M532.5 320.6V322.4M528.2 320.6h8.6M528.2 322.4h8.6M552.3 318.8V320.2M548 318.8h8.6M548 320.2h8.6M571.2 314.7V316.2M566.9 314.7h8.6M566.9 316.2h8.6M589.3 309.6V311.2M585 309.6h8.6M585 311.2h8.6M424.9 181.6V317.2M420.6 181.6h8.6M420.6 317.2h8.6"/><path stroke="#44b6e9" stroke-width="1.85" d="M462.4 313.4V320.2M458.1 313.4h8.6M458.1 320.2h8.6M487.9 321.4V323.9M483.6 321.4h8.6M483.6 323.9h8.6M510.7 323.1V325.4M506.4 323.1h8.6M506.4 325.4h8.6M531.8 320.1V321.9M527.5 320.1h8.6M527.5 321.9h8.6M551.7 318.6V320M547.4 318.6h8.6M547.4 320h8.6M570.5 315.1V316.5M566.2 315.1h8.6M566.2 316.5h8.6M588.5 310.4V312M584.2 310.4h8.6M584.2 312h8.6M424.5 260V315.6M420.2 260h8.6M420.2 315.6h8.6"/><path stroke="#46b5ea" stroke-width="1.85" d="M462 312.9V319.9M457.7 312.9h8.6M457.7 319.9h8.6M487.4 321.1V323.6M483.1 321.1h8.6M483.1 323.6h8.6M510.2 322V324.3M505.9 322h8.6M505.9 324.3h8.6M531.2 320.3V322.1M526.9 320.3h8.6M526.9 322.1h8.6M551 318.5V319.9M546.7 318.5h8.6M546.7 319.9h8.6M569.7 314.9V316.3M565.4 314.9h8.6M565.4 316.3h8.6M587.7 310.5V312.1M583.4 310.5h8.6M583.4 312.1h8.6M424.2 277.9V316M419.9 277.9h8.6M419.9 316h8.6"/><path stroke="#49b4ea" stroke-width="1.85" d="M461.5 312.8V320.2M457.2 312.8h8.6M457.2 320.2h8.6M486.9 322.2V324.7M482.6 322.2h8.6M482.6 324.7h8.6M509.6 322V324.3M505.3 322h8.6M505.3 324.3h8.6M530.6 320.5V322.3M526.3 320.5h8.6M526.3 322.3h8.6M550.3 318.4V319.9M546 318.4h8.6M546 319.9h8.6M569 314.8V316.2M564.7 314.8h8.6M564.7 316.2h8.6M586.9 311.2V312.8M582.6 311.2h8.6M582.6 312.8h8.6M423.9 195.8V292.6M419.6 195.8h8.6M419.6 292.6h8.6"/><path stroke="#4bb3eb" stroke-width="1.85" d="M461.1 310.8V318.5M456.8 310.8h8.6M456.8 318.5h8.6M486.3 321.5V324.1M482 321.5h8.6M482 324.1h8.6M509 321.6V323.9M504.7 321.6h8.6M504.7 323.9h8.6M529.9 319.1V320.9M525.6 319.1h8.6M525.6 320.9h8.6M549.6 318.9V320.4M545.3 318.9h8.6M545.3 320.4h8.6M568.3 314.8V316.2M564 314.8h8.6M564 316.2h8.6M586.1 310.8V312.3M581.8 310.8h8.6M581.8 312.3h8.6M423.5 238V351.1M419.2 238h8.6M419.2 351.1h8.6"/><path stroke="#4db2eb" stroke-width="1.85" d="M460.7 312V320.1M456.4 312h8.6M456.4 320.1h8.6M485.8 322.7V325.3M481.5 322.7h8.6M481.5 325.3h8.6M508.4 323.2V325.5M504.1 323.2h8.6M504.1 325.5h8.6M529.3 320.3V322.1M525 320.3h8.6M525 322.1h8.6M548.9 317.9V319.4M544.6 317.9h8.6M544.6 319.4h8.6M567.5 315.2V316.6M563.2 315.2h8.6M563.2 316.6h8.6M585.4 310.9V312.4M581.1 310.9h8.6M581.1 312.4h8.6M423.2 193.5V300.6M418.9 193.5h8.6M418.9 300.6h8.6"/><path stroke="#4fb1ec" stroke-width="1.85" d="M460.2 310.4V318.9M455.9 310.4h8.6M455.9 318.9h8.6M485.3 321.8V324.4M481 321.8h8.6M481 324.4h8.6M507.8 322.4V324.8M503.5 322.4h8.6M503.5 324.8h8.6M528.6 320.9V322.7M524.3 320.9h8.6M524.3 322.7h8.6M548.2 318.2V319.8M543.9 318.2h8.6M543.9 319.8h8.6M566.8 315.6V317M562.5 315.6h8.6M562.5 317h8.6M584.6 311.6V313.1M580.3 311.6h8.6M580.3 313.1h8.6M422.8 232.5V292.9M418.5 232.5h8.6M418.5 292.9h8.6"/><path stroke="#51afec" stroke-width="1.85" d="M459.8 311V319.9M455.5 311h8.6M455.5 319.9h8.6M484.8 321.8V324.4M480.5 321.8h8.6M480.5 324.4h8.6M507.3 321V323.3M503 321h8.6M503 323.3h8.6M528 321.5V323.3M523.7 321.5h8.6M523.7 323.3h8.6M547.5 318.5V320M543.2 318.5h8.6M543.2 320h8.6M566 314.5V315.9M561.7 314.5h8.6M561.7 315.9h8.6M583.8 311.2V312.8M579.5 311.2h8.6M579.5 312.8h8.6M600.9 306.9V308.6M596.6 306.9h8.6M596.6 308.6h8.6M422.5 223.5V286.3M418.2 223.5h8.6M418.2 286.3h8.6"/><path stroke="#53aeed" stroke-width="1.85" d="M459.3 314.3V323.7M455 314.3h8.6M455 323.7h8.6M484.3 322.1V324.7M480 322.1h8.6M480 324.7h8.6M506.7 322.1V324.5M502.4 322.1h8.6M502.4 324.5h8.6M527.3 320.9V322.8M523 320.9h8.6M523 322.8h8.6M546.8 319.1V320.6M542.5 319.1h8.6M542.5 320.6h8.6M565.3 316.7V318.1M561 316.7h8.6M561 318.1h8.6M583 311.2V312.7M578.7 311.2h8.6M578.7 312.7h8.6M600 306.9V308.6M595.7 306.9h8.6M595.7 308.6h8.6M422.2 251.1V348.9M417.9 251.1h8.6M417.9 348.9h8.6M419.7 137.4V265.5M415.4 137.4h8.6M415.4 265.5h8.6"/><path stroke="#55aded" stroke-width="1.85" d="M458.9 314.5V324.4M454.6 314.5h8.6M454.6 324.4h8.6M483.8 321.6V324.2M479.5 321.6h8.6M479.5 324.2h8.6M506.1 322.2V324.6M501.8 322.2h8.6M501.8 324.6h8.6M526.7 320.8V322.7M522.4 320.8h8.6M522.4 322.7h8.6M546.1 318.9V320.5M541.8 318.9h8.6M541.8 320.5h8.6M564.5 316.3V317.7M560.2 316.3h8.6M560.2 317.7h8.6M582.2 311.8V313.3M577.9 311.8h8.6M577.9 313.3h8.6M599.2 306.8V308.5M594.9 306.8h8.6M594.9 308.5h8.6M421.8 259.5V356.5M417.5 259.5h8.6M417.5 356.5h8.6"/><path stroke="#57acee" stroke-width="1.85" d="M458.5 309.3V319.7M454.2 309.3h8.6M454.2 319.7h8.6M483.2 321.1V323.8M478.9 321.1h8.6M478.9 323.8h8.6M505.5 323V325.4M501.2 323h8.6M501.2 325.4h8.6M526 322V323.9M521.7 322h8.6M521.7 323.9h8.6M545.4 319.3V320.9M541.1 319.3h8.6M541.1 320.9h8.6M563.7 314.7V316.1M559.4 314.7h8.6M559.4 316.1h8.6M581.3 311.5V313M577 311.5h8.6M577 313h8.6M598.3 307.6V309.2M594 307.6h8.6M594 309.2h8.6M421.5 264.2V335.1M417.2 264.2h8.6M417.2 335.1h8.6M420.1 137.4V385.1M415.8 137.4h8.6M415.8 385.1h8.6"/><path stroke="#5aabee" stroke-width="1.85" d="M458 307.6V318.7M453.7 307.6h8.6M453.7 318.7h8.6M482.7 322.2V324.9M478.4 322.2h8.6M478.4 324.9h8.6M504.9 321.7V324.1M500.6 321.7h8.6M500.6 324.1h8.6M525.4 321.6V323.5M521.1 321.6h8.6M521.1 323.5h8.6M544.7 319.2V320.8M540.4 319.2h8.6M540.4 320.8h8.6M563 316.8V318.2M558.7 316.8h8.6M558.7 318.2h8.6M580.5 312.2V313.7M576.2 312.2h8.6M576.2 313.7h8.6M597.5 307.8V309.5M593.2 307.8h8.6M593.2 309.5h8.6M421.1 206V319.5M416.8 206h8.6M416.8 319.5h8.6"/><path stroke="#5caaef" stroke-width="1.85" d="M457.6 308.5V320.2M453.3 308.5h8.6M453.3 320.2h8.6M482.2 320.8V323.5M477.9 320.8h8.6M477.9 323.5h8.6M504.3 322.1V324.5M500 322.1h8.6M500 324.5h8.6M524.7 321V323M520.4 321h8.6M520.4 323h8.6M543.9 319.3V320.9M539.6 319.3h8.6M539.6 320.9h8.6M562.2 317V318.4M557.9 317h8.6M557.9 318.4h8.6M579.7 312.6V314.2M575.4 312.6h8.6M575.4 314.2h8.6M596.6 307.9V309.5M592.3 307.9h8.6M592.3 309.5h8.6M420.8 233.2V304.2M416.5 233.2h8.6M416.5 304.2h8.6"/><path stroke="#5ea9ef" stroke-width="1.85" d="M457.1 306.2V318.7M452.8 306.2h8.6M452.8 318.7h8.6M481.6 320.8V323.6M477.3 320.8h8.6M477.3 323.6h8.6M503.7 322.6V325.1M499.4 322.6h8.6M499.4 325.1h8.6M524.1 320.2V322.2M519.8 320.2h8.6M519.8 322.2h8.6M543.2 319.2V320.8M538.9 319.2h8.6M538.9 320.8h8.6M561.4 317.1V318.5M557.1 317.1h8.6M557.1 318.5h8.6M578.9 311.4V312.9M574.6 311.4h8.6M574.6 312.9h8.6M595.8 308.1V309.8M591.5 308.1h8.6M591.5 309.8h8.6M420.4 246.3V310.2M416.1 246.3h8.6M416.1 310.2h8.6"/><path stroke="#60a8f0" stroke-width="1.85" d="M456.7 309.8V323.1M452.4 309.8h8.6M452.4 323.1h8.6M481.1 322V324.8M476.8 322h8.6M476.8 324.8h8.6M503.1 322.3V324.7M498.8 322.3h8.6M498.8 324.7h8.6M523.4 321.3V323.3M519.1 321.3h8.6M519.1 323.3h8.6M542.5 319.7V321.3M538.2 319.7h8.6M538.2 321.3h8.6M560.7 317.4V318.8M556.4 317.4h8.6M556.4 318.8h8.6M578.1 313V314.5M573.8 313h8.6M573.8 314.5h8.6M594.9 308.5V310.2M590.6 308.5h8.6M590.6 310.2h8.6M420.1 244V309.9M415.8 244h8.6M415.8 309.9h8.6"/><path stroke="#63a6f1" stroke-width="1.85" d="M456.2 306.8V321M451.9 306.8h8.6M451.9 321h8.6M480.6 321.1V323.9M476.3 321.1h8.6M476.3 323.9h8.6M502.5 322.5V324.9M498.2 322.5h8.6M498.2 324.9h8.6M522.7 318.8V320.9M518.4 318.8h8.6M518.4 320.9h8.6M541.8 320V321.7M537.5 320h8.6M537.5 321.7h8.6M559.9 317.1V318.6M555.6 317.1h8.6M555.6 318.6h8.6M577.3 312.9V314.4M573 312.9h8.6M573 314.4h8.6M594 308V309.7M589.7 308h8.6M589.7 309.7h8.6"/><path stroke="#65a5f1" stroke-width="1.85" d="M455.7 303.5V318.9M451.4 303.5h8.6M451.4 318.9h8.6M480 320.9V323.8M475.7 320.9h8.6M475.7 323.8h8.6M501.9 322.6V325.1M497.6 322.6h8.6M497.6 325.1h8.6M522.1 321.5V323.6M517.8 321.5h8.6M517.8 323.6h8.6M541 319.5V321.2M536.7 319.5h8.6M536.7 321.2h8.6M559.1 318.3V319.7M554.8 318.3h8.6M554.8 319.7h8.6M576.4 312.8V314.2M572.1 312.8h8.6M572.1 314.2h8.6M593.2 308.8V310.4M588.9 308.8h8.6M588.9 310.4h8.6"/><path stroke="#68a3f2" stroke-width="1.85" d="M455.3 312.6V328.8M451 312.6h8.6M451 328.8h8.6M479.5 320.4V323.4M475.2 320.4h8.6M475.2 323.4h8.6M501.3 322.4V324.9M497 322.4h8.6M497 324.9h8.6M521.4 320.9V323M517.1 320.9h8.6M517.1 323h8.6M540.3 319.7V321.4M536 319.7h8.6M536 321.4h8.6M558.3 317.8V319.2M554 317.8h8.6M554 319.2h8.6M575.6 313.2V314.7M571.3 313.2h8.6M571.3 314.7h8.6M592.3 309.9V311.5M588 309.9h8.6M588 311.5h8.6"/><path stroke="#6ba2f2" stroke-width="1.85" d="M454.8 307.6V324.2M450.5 307.6h8.6M450.5 324.2h8.6M478.9 320.2V323.2M474.6 320.2h8.6M474.6 323.2h8.6M500.6 322.3V324.8M496.3 322.3h8.6M496.3 324.8h8.6M520.7 321.5V323.7M516.4 321.5h8.6M516.4 323.7h8.6M539.6 320V321.7M535.3 320h8.6M535.3 321.7h8.6M557.5 317.7V319.2M553.2 317.7h8.6M553.2 319.2h8.6M574.8 313.6V315.1M570.5 313.6h8.6M570.5 315.1h8.6M591.4 309.4V311M587.1 309.4h8.6M587.1 311h8.6"/><path stroke="#6da0f3" stroke-width="1.85" d="M454.4 308V325.1M450.1 308h8.6M450.1 325.1h8.6M478.4 320.4V323.5M474.1 320.4h8.6M474.1 323.5h8.6M500 321.3V323.8M495.7 321.3h8.6M495.7 323.8h8.6M520 321.6V323.7M515.7 321.6h8.6M515.7 323.7h8.6M538.8 320.2V322M534.5 320.2h8.6M534.5 322h8.6M556.7 318.6V320.1M552.4 318.6h8.6M552.4 320.1h8.6M573.9 313.6V315.1M569.6 313.6h8.6M569.6 315.1h8.6M590.5 310.3V311.9M586.2 310.3h8.6M586.2 311.9h8.6M606.6 305.3V307.1M602.3 305.3h8.6M602.3 307.1h8.6"/><path stroke="#709ef3" stroke-width="1.85" d="M453.9 303.3V320.9M449.6 303.3h8.6M449.6 320.9h8.6M477.8 320.6V323.8M473.5 320.6h8.6M473.5 323.8h8.6M499.4 322.6V325.1M495.1 322.6h8.6M495.1 325.1h8.6M519.3 321.7V323.9M515 321.7h8.6M515 323.9h8.6M538.1 320.7V322.5M533.8 320.7h8.6M533.8 322.5h8.6M556 317.8V319.3M551.7 317.8h8.6M551.7 319.3h8.6M573.1 314.2V315.6M568.8 314.2h8.6M568.8 315.6h8.6M589.6 309.1V310.7M585.3 309.1h8.6M585.3 310.7h8.6M605.7 305.4V307.1M601.4 305.4h8.6M601.4 307.1h8.6"/><path stroke="#739df4" stroke-width="1.85" d="M453.4 299.6V317.7M449.1 299.6h8.6M449.1 317.7h8.6M477.3 319.6V322.9M473 319.6h8.6M473 322.9h8.6M498.8 321.8V324.4M494.5 321.8h8.6M494.5 324.4h8.6M518.7 322.5V324.7M514.4 322.5h8.6M514.4 324.7h8.6M537.4 319.7V321.5M533.1 319.7h8.6M533.1 321.5h8.6M555.2 318.4V319.9M550.9 318.4h8.6M550.9 319.9h8.6M572.2 314.1V315.5M567.9 314.1h8.6M567.9 315.5h8.6M588.7 310.1V311.7M584.4 310.1h8.6M584.4 311.7h8.6M604.7 305.4V307.2M600.4 305.4h8.6M600.4 307.2h8.6"/><path stroke="#759bf4" stroke-width="1.85" d="M453 306.5V325.2M448.7 306.5h8.6M448.7 325.2h8.6M476.7 319.1V322.5M472.4 319.1h8.6M472.4 322.5h8.6M498.2 322.4V325M493.9 322.4h8.6M493.9 325h8.6M518 321.5V323.8M513.7 321.5h8.6M513.7 323.8h8.6M536.6 319.9V321.7M532.3 319.9h8.6M532.3 321.7h8.6M554.4 318.4V319.9M550.1 318.4h8.6M550.1 319.9h8.6M571.4 314.3V315.8M567.1 314.3h8.6M567.1 315.8h8.6M587.8 310V311.6M583.5 310h8.6M583.5 311.6h8.6M603.8 306.2V308M599.5 306.2h8.6M599.5 308h8.6"/><path stroke="#789af5" stroke-width="1.85" d="M452.5 303.4V322.8M448.2 303.4h8.6M448.2 322.8h8.6M476.2 318.9V322.4M471.9 318.9h8.6M471.9 322.4h8.6M497.5 322.1V324.7M493.2 322.1h8.6M493.2 324.7h8.6M517.3 321.7V324M513 321.7h8.6M513 324h8.6M535.9 320V321.8M531.6 320h8.6M531.6 321.8h8.6M553.6 318.2V319.7M549.3 318.2h8.6M549.3 319.7h8.6M570.5 314.5V316M566.2 314.5h8.6M566.2 316h8.6M586.9 310.4V312M582.6 310.4h8.6M582.6 312h8.6M602.9 306.2V307.9M598.6 306.2h8.6M598.6 307.9h8.6"/><path stroke="#7b98f5" stroke-width="1.85" d="M452 302.9V323M447.7 302.9h8.6M447.7 323h8.6M475.6 320.1V323.7M471.3 320.1h8.6M471.3 323.7h8.6M496.9 322.2V324.8M492.6 322.2h8.6M492.6 324.8h8.6M516.6 321.2V323.5M512.3 321.2h8.6M512.3 323.5h8.6M535.1 320.4V322.2M530.8 320.4h8.6M530.8 322.2h8.6M552.7 318.8V320.3M548.4 318.8h8.6M548.4 320.3h8.6M569.7 315V316.5M565.4 315h8.6M565.4 316.5h8.6M586 311.4V313M581.7 311.4h8.6M581.7 313h8.6M601.9 306.7V308.5M597.6 306.7h8.6M597.6 308.5h8.6"/><path stroke="#7d96f6" stroke-width="1.85" d="M451.5 300.3V321.2M447.2 300.3h8.6M447.2 321.2h8.6M475.1 319.6V323.4M470.8 319.6h8.6M470.8 323.4h8.6M496.3 322.6V325.3M492 322.6h8.6M492 325.3h8.6M515.9 321.7V324M511.6 321.7h8.6M511.6 324h8.6M534.3 320.2V322.1M530 320.2h8.6M530 322.1h8.6M551.9 317.8V319.4M547.6 317.8h8.6M547.6 319.4h8.6M568.8 315.4V316.8M564.5 315.4h8.6M564.5 316.8h8.6M585.1 311.1V312.6M580.8 311.1h8.6M580.8 312.6h8.6M601 306.6V308.3M596.7 306.6h8.6M596.7 308.3h8.6"/><path stroke="#8095f6" stroke-width="1.85" d="M451.1 291.1V312.8M446.8 291.1h8.6M446.8 312.8h8.6M474.5 318.3V322.2M470.2 318.3h8.6M470.2 322.2h8.6M495.6 323V325.7M491.3 323h8.6M491.3 325.7h8.6M515.2 322.4V324.8M510.9 322.4h8.6M510.9 324.8h8.6M533.6 321V322.8M529.3 321h8.6M529.3 322.8h8.6M551.1 318.9V320.4M546.8 318.9h8.6M546.8 320.4h8.6M568 314.5V315.9M563.7 314.5h8.6M563.7 315.9h8.6M584.2 309.3V310.8M579.9 309.3h8.6M579.9 310.8h8.6M600 307.1V308.8M595.7 307.1h8.6M595.7 308.8h8.6"/><path stroke="#8393f7" stroke-width="1.85" d="M450.6 299.1V321.6M446.3 299.1h8.6M446.3 321.6h8.6M473.9 318.8V322.9M469.6 318.8h8.6M469.6 322.9h8.6M495 322.1V324.9M490.7 322.1h8.6M490.7 324.9h8.6M514.5 320.1V322.6M510.2 320.1h8.6M510.2 322.6h8.6M532.8 319.8V321.7M528.5 319.8h8.6M528.5 321.7h8.6M550.3 318.6V320.1M546 318.6h8.6M546 320.1h8.6M567.1 315.7V317.2M562.8 315.7h8.6M562.8 317.2h8.6M583.3 311.5V313.1M579 311.5h8.6M579 313.1h8.6M599 306.6V308.3M594.7 306.6h8.6M594.7 308.3h8.6"/><path stroke="#8592f7" stroke-width="1.85" d="M450.1 295V318.4M445.8 295h8.6M445.8 318.4h8.6M473.4 315.4V319.7M469.1 315.4h8.6M469.1 319.7h8.6M494.3 321.9V324.7M490 321.9h8.6M490 324.7h8.6M513.8 321.1V323.6M509.5 321.1h8.6M509.5 323.6h8.6M532 319.8V321.7M527.7 319.8h8.6M527.7 321.7h8.6M549.5 318.2V319.8M545.2 318.2h8.6M545.2 319.8h8.6M566.2 315.9V317.4M561.9 315.9h8.6M561.9 317.4h8.6M582.4 311.8V313.4M578.1 311.8h8.6M578.1 313.4h8.6M598.1 306.7V308.4M593.8 306.7h8.6M593.8 308.4h8.6"/><path stroke="#8890f8" stroke-width="1.85" d="M449.6 291.6V315.9M445.3 291.6h8.6M445.3 315.9h8.6M472.8 315.2V319.6M468.5 315.2h8.6M468.5 319.6h8.6M493.7 322.2V325M489.4 322.2h8.6M489.4 325h8.6M513 323V325.5M508.7 323h8.6M508.7 325.5h8.6M531.3 319.8V321.7M527 319.8h8.6M527 321.7h8.6M548.6 318.8V320.4M544.3 318.8h8.6M544.3 320.4h8.6M565.3 315.8V317.3M561 315.8h8.6M561 317.3h8.6M581.5 311.8V313.4M577.2 311.8h8.6M577.2 313.4h8.6M597.1 308.1V309.8M592.8 308.1h8.6M592.8 309.8h8.6"/><path stroke="#8a8ef8" stroke-width="1.85" d="M449.1 288.2V313.5M444.8 288.2h8.6M444.8 313.5h8.6M472.2 319.3V323.9M467.9 319.3h8.6M467.9 323.9h8.6M493 322V324.9M488.7 322h8.6M488.7 324.9h8.6M512.3 322.1V324.6M508 322.1h8.6M508 324.6h8.6M530.5 320.8V322.7M526.2 320.8h8.6M526.2 322.7h8.6M547.8 318.9V320.5M543.5 318.9h8.6M543.5 320.5h8.6M564.5 316.2V317.6M560.2 316.2h8.6M560.2 317.6h8.6M580.5 312.5V314M576.2 312.5h8.6M576.2 314h8.6M596.1 308.4V310.1M591.8 308.4h8.6M591.8 310.1h8.6"/><path stroke="#8b8cf8" stroke-width="1.85" d="M448.6 291.4V317.7M444.3 291.4h8.6M444.3 317.7h8.6M471.6 315.9V320.8M467.3 315.9h8.6M467.3 320.8h8.6M492.4 322.1V325M488.1 322.1h8.6M488.1 325h8.6M511.6 322.8V325.4M507.3 322.8h8.6M507.3 325.4h8.6M529.7 320V322M525.4 320h8.6M525.4 322h8.6M547 318.9V320.5M542.7 318.9h8.6M542.7 320.5h8.6M563.6 316.1V317.6M559.3 316.1h8.6M559.3 317.6h8.6M579.6 312.6V314.1M575.3 312.6h8.6M575.3 314.1h8.6M595.2 307.9V309.6M590.9 307.9h8.6M590.9 309.6h8.6M610.3 303.9V305.7M606 303.9h8.6M606 305.7h8.6"/><path stroke="#8d8af8" stroke-width="1.85" d="M448.1 294.6V322M443.8 294.6h8.6M443.8 322h8.6M471.1 315.6V320.9M466.8 315.6h8.6M466.8 320.9h8.6M491.7 321.9V324.8M487.4 321.9h8.6M487.4 324.8h8.6M510.9 320.3V322.8M506.6 320.3h8.6M506.6 322.8h8.6M528.9 320.5V322.5M524.6 320.5h8.6M524.6 322.5h8.6M546.1 318.7V320.4M541.8 318.7h8.6M541.8 320.4h8.6M562.7 316.8V318.3M558.4 316.8h8.6M558.4 318.3h8.6M578.7 313.3V314.9M574.4 313.3h8.6M574.4 314.9h8.6M594.2 308.7V310.4M589.9 308.7h8.6M589.9 310.4h8.6M609.3 304.1V305.9M605 304.1h8.6M605 305.9h8.6"/><path stroke="#8e87f8" stroke-width="1.85" d="M447.6 294.1V322.5M443.3 294.1h8.6M443.3 322.5h8.6M470.5 316.4V321.9M466.2 316.4h8.6M466.2 321.9h8.6M491.1 321.3V324.2M486.8 321.3h8.6M486.8 324.2h8.6M510.2 321.9V324.4M505.9 321.9h8.6M505.9 324.4h8.6M528.1 319.7V321.7M523.8 319.7h8.6M523.8 321.7h8.6M545.3 319V320.7M541 319h8.6M541 320.7h8.6M561.8 317.5V319M557.5 317.5h8.6M557.5 319h8.6M577.7 313.3V314.8M573.4 313.3h8.6M573.4 314.8h8.6M593.2 308.7V310.4M588.9 308.7h8.6M588.9 310.4h8.6M608.3 305.3V307.1M604 305.3h8.6M604 307.1h8.6"/><path stroke="#9085f8" stroke-width="1.85" d="M447.1 296.4V326M442.8 296.4h8.6M442.8 326h8.6M469.9 317.7V323.5M465.6 317.7h8.6M465.6 323.5h8.6M490.4 321.7V324.7M486.1 321.7h8.6M486.1 324.7h8.6M509.4 321.2V323.8M505.1 321.2h8.6M505.1 323.8h8.6M527.4 321.6V323.7M523.1 321.6h8.6M523.1 323.7h8.6M544.5 317.8V319.5M540.2 317.8h8.6M540.2 319.5h8.6M560.9 316.8V318.3M556.6 316.8h8.6M556.6 318.3h8.6M576.8 313V314.6M572.5 313h8.6M572.5 314.6h8.6M592.2 308.8V310.4M587.9 308.8h8.6M587.9 310.4h8.6M607.2 304.8V306.6M602.9 304.8h8.6M602.9 306.6h8.6"/><path stroke="#9283f8" stroke-width="1.85" d="M446.6 268.6V299.5M442.3 268.6h8.6M442.3 299.5h8.6M469.3 315.7V321.7M465 315.7h8.6M465 321.7h8.6M489.7 319.5V322.5M485.4 319.5h8.6M485.4 322.5h8.6M508.7 322.5V325.1M504.4 322.5h8.6M504.4 325.1h8.6M526.6 321.1V323.2M522.3 321.1h8.6M522.3 323.2h8.6M543.6 319.5V321.2M539.3 319.5h8.6M539.3 321.2h8.6M560 316.4V317.9M555.7 316.4h8.6M555.7 317.9h8.6M575.8 312.9V314.5M571.5 312.9h8.6M571.5 314.5h8.6M591.2 309.8V311.4M586.9 309.8h8.6M586.9 311.4h8.6M606.2 304.6V306.4M601.9 304.6h8.6M601.9 306.4h8.6"/><path stroke="#9381f8" stroke-width="1.85" d="M446.1 281.9V314.1M441.8 281.9h8.6M441.8 314.1h8.6M468.7 313.9V320.2M464.4 313.9h8.6M464.4 320.2h8.6M489.1 321.5V324.5M484.8 321.5h8.6M484.8 324.5h8.6M507.9 323V325.6M503.6 323h8.6M503.6 325.6h8.6M525.8 321.1V323.2M521.5 321.1h8.6M521.5 323.2h8.6M542.7 319.1V320.9M538.4 319.1h8.6M538.4 320.9h8.6M559.1 317.8V319.3M554.8 317.8h8.6M554.8 319.3h8.6M574.9 313.6V315.1M570.6 313.6h8.6M570.6 315.1h8.6M590.2 309.7V311.3M585.9 309.7h8.6M585.9 311.3h8.6M605.1 305.7V307.5M600.8 305.7h8.6M600.8 307.5h8.6"/><path stroke="#957ff8" stroke-width="1.85" d="M445.6 297.5V331.1M441.3 297.5h8.6M441.3 331.1h8.6M468.1 314.7V321.3M463.8 314.7h8.6M463.8 321.3h8.6M488.4 321.4V324.5M484.1 321.4h8.6M484.1 324.5h8.6M507.2 322.7V325.3M502.9 322.7h8.6M502.9 325.3h8.6M525 321V323.1M520.7 321h8.6M520.7 323.1h8.6M541.9 319V320.7M537.6 319h8.6M537.6 320.7h8.6M558.2 318.2V319.7M553.9 318.2h8.6M553.9 319.7h8.6M573.9 314V315.6M569.6 314h8.6M569.6 315.6h8.6M589.2 310.2V311.9M584.9 310.2h8.6M584.9 311.9h8.6M604.1 305.8V307.6M599.8 305.8h8.6M599.8 307.6h8.6"/><path stroke="#967df8" stroke-width="1.85" d="M445.1 281.9V316.4M440.8 281.9h8.6M440.8 316.4h8.6M467.5 314.5V321.6M463.2 314.5h8.6M463.2 321.6h8.6M487.7 320.5V323.6M483.4 320.5h8.6M483.4 323.6h8.6M506.5 321.8V324.5M502.2 321.8h8.6M502.2 324.5h8.6M524.1 321.7V323.9M519.8 321.7h8.6M519.8 323.9h8.6M541 319.6V321.4M536.7 319.6h8.6M536.7 321.4h8.6M557.2 317.7V319.2M552.9 317.7h8.6M552.9 319.2h8.6M572.9 312.8V314.4M568.6 312.8h8.6M568.6 314.4h8.6M588.2 310.3V312M583.9 310.3h8.6M583.9 312h8.6M603 306V307.7M598.7 306h8.6M598.7 307.7h8.6"/><path stroke="#987bf8" stroke-width="1.85" d="M444.6 275.8V311.2M440.3 275.8h8.6M440.3 311.2h8.6M466.9 315.9V323.4M462.6 315.9h8.6M462.6 323.4h8.6M487 322.5V325.6M482.7 322.5h8.6M482.7 325.6h8.6M505.7 319.5V322.2M501.4 319.5h8.6M501.4 322.2h8.6M523.3 321.1V323.4M519 321.1h8.6M519 323.4h8.6M540.1 319.7V321.5M535.8 319.7h8.6M535.8 321.5h8.6M556.3 317.8V319.3M552 317.8h8.6M552 319.3h8.6M572 313.9V315.4M567.7 313.9h8.6M567.7 315.4h8.6M587.2 310.9V312.6M582.9 310.9h8.6M582.9 312.6h8.6M602 306.2V307.9M597.7 306.2h8.6M597.7 307.9h8.6"/><path stroke="#9a79f8" stroke-width="1.85" d="M444.1 274V310.4M439.8 274h8.6M439.8 310.4h8.6M466.3 315.6V323.6M462 315.6h8.6M462 323.6h8.6M486.3 321.2V324.4M482 321.2h8.6M482 324.4h8.6M505 322.2V324.9M500.7 322.2h8.6M500.7 324.9h8.6M522.5 320.9V323.1M518.2 320.9h8.6M518.2 323.1h8.6M539.3 319.7V321.6M535 319.7h8.6M535 321.6h8.6M555.4 317.7V319.2M551.1 317.7h8.6M551.1 319.2h8.6M571 314.1V315.7M566.7 314.1h8.6M566.7 315.7h8.6M586.1 310.4V312M581.8 310.4h8.6M581.8 312h8.6M600.9 306.5V308.3M596.6 306.5h8.6M596.6 308.3h8.6"/><path stroke="#9b76f8" stroke-width="1.85" d="M443.6 284.8V322.2M439.3 284.8h8.6M439.3 322.2h8.6M465.7 308.3V316.9M461.4 308.3h8.6M461.4 316.9h8.6M485.7 321.5V324.7M481.4 321.5h8.6M481.4 324.7h8.6M504.2 321.9V324.7M499.9 321.9h8.6M499.9 324.7h8.6M521.7 321.1V323.4M517.4 321.1h8.6M517.4 323.4h8.6M538.4 319.7V321.5M534.1 319.7h8.6M534.1 321.5h8.6M554.5 318.3V319.9M550.2 318.3h8.6M550.2 319.9h8.6M570 314.1V315.7M565.7 314.1h8.6M565.7 315.7h8.6M585.1 310.6V312.2M580.8 310.6h8.6M580.8 312.2h8.6M599.8 308V309.7M595.5 308h8.6M595.5 309.7h8.6"/><path stroke="#9d74f8" stroke-width="1.85" d="M443 291.3V329.7M438.7 291.3h8.6M438.7 329.7h8.6M465.1 312.8V322.1M460.8 312.8h8.6M460.8 322.1h8.6M485 320.7V324M480.7 320.7h8.6M480.7 324h8.6M503.4 321.6V324.3M499.1 321.6h8.6M499.1 324.3h8.6M520.9 321.5V323.9M516.6 321.5h8.6M516.6 323.9h8.6M537.5 319.3V321.1M533.2 319.3h8.6M533.2 321.1h8.6M553.5 318.1V319.7M549.2 318.1h8.6M549.2 319.7h8.6M569 315.4V316.9M564.7 315.4h8.6M564.7 316.9h8.6M584.1 311.1V312.7M579.8 311.1h8.6M579.8 312.7h8.6M598.8 307.5V309.2M594.5 307.5h8.6M594.5 309.2h8.6"/><path stroke="#9e72f8" stroke-width="1.85" d="M442.5 287.5V326.9M438.2 287.5h8.6M438.2 326.9h8.6M464.4 312.9V322.9M460.1 312.9h8.6M460.1 322.9h8.6M484.3 319V322.2M480 319h8.6M480 322.2h8.6M502.7 322.1V324.9M498.4 322.1h8.6M498.4 324.9h8.6M520 321.6V323.9M515.7 321.6h8.6M515.7 323.9h8.6M536.6 320V322M532.3 320h8.6M532.3 322h8.6M552.6 317.7V319.2M548.3 317.7h8.6M548.3 319.2h8.6M568 314.9V316.4M563.7 314.9h8.6M563.7 316.4h8.6M583 311.1V312.7M578.7 311.1h8.6M578.7 312.7h8.6M597.7 307.9V309.7M593.4 307.9h8.6M593.4 309.7h8.6"/><path stroke="#a070f8" stroke-width="1.85" d="M442 301.9V342.4M437.7 301.9h8.6M437.7 342.4h8.6M463.8 309.5V320.3M459.5 309.5h8.6M459.5 320.3h8.6M483.6 320.6V323.9M479.3 320.6h8.6M479.3 323.9h8.6M501.9 323.1V325.9M497.6 323.1h8.6M497.6 325.9h8.6M519.2 322.1V324.5M514.9 322.1h8.6M514.9 324.5h8.6M535.7 319.2V321.1M531.4 319.2h8.6M531.4 321.1h8.6M551.6 318V319.6M547.3 318h8.6M547.3 319.6h8.6M567 315.7V317.2M562.7 315.7h8.6M562.7 317.2h8.6M582 311.9V313.5M577.7 311.9h8.6M577.7 313.5h8.6M596.6 308.3V310M592.3 308.3h8.6M592.3 310h8.6"/><path stroke="#a26ef7" stroke-width="1.85" d="M441.5 283.1V324.7M437.2 283.1h8.6M437.2 324.7h8.6M463.2 309.5V321.4M458.9 309.5h8.6M458.9 321.4h8.6M482.9 319.6V322.9M478.6 319.6h8.6M478.6 322.9h8.6M501.1 322.5V325.3M496.8 322.5h8.6M496.8 325.3h8.6M518.4 322.2V324.7M514.1 322.2h8.6M514.1 324.7h8.6M534.8 319.8V321.8M530.5 319.8h8.6M530.5 321.8h8.6M550.7 318.5V320.1M546.4 318.5h8.6M546.4 320.1h8.6M566 315.9V317.4M561.7 315.9h8.6M561.7 317.4h8.6M580.9 311.7V313.2M576.6 311.7h8.6M576.6 313.2h8.6M595.5 308.4V310.1M591.2 308.4h8.6M591.2 310.1h8.6"/><path stroke="#a36bf7" stroke-width="1.85" d="M440.9 285V327.7M436.6 285h8.6M436.6 327.7h8.6M462.6 313.4V326.5M458.3 313.4h8.6M458.3 326.5h8.6M482.1 320.9V324.4M477.8 320.9h8.6M477.8 324.4h8.6M500.3 321.3V324.2M496 321.3h8.6M496 324.2h8.6M517.5 321.9V324.4M513.2 321.9h8.6M513.2 324.4h8.6M533.9 320.2V322.2M529.6 320.2h8.6M529.6 322.2h8.6M549.7 318.7V320.4M545.4 318.7h8.6M545.4 320.4h8.6M565 315.7V317.2M560.7 315.7h8.6M560.7 317.2h8.6M579.9 312.7V314.3M575.6 312.7h8.6M575.6 314.3h8.6M594.4 309.2V310.9M590.1 309.2h8.6M590.1 310.9h8.6M608.6 304.5V306.3M604.3 304.5h8.6M604.3 306.3h8.6"/><path stroke="#a569f6" stroke-width="1.85" d="M440.4 291.1V335M436.1 291.1h8.6M436.1 335h8.6M461.9 313.9V327.6M457.6 313.9h8.6M457.6 327.6h8.6M481.4 320.9V324.5M477.1 320.9h8.6M477.1 324.5h8.6M499.5 321.2V324.1M495.2 321.2h8.6M495.2 324.1h8.6M516.7 320.5V323.1M512.4 320.5h8.6M512.4 323.1h8.6M533 321V323M528.7 321h8.6M528.7 323h8.6M548.7 318.4V320.1M544.4 318.4h8.6M544.4 320.1h8.6M564 316.4V317.9M559.7 316.4h8.6M559.7 317.9h8.6M578.8 312.5V314.1M574.5 312.5h8.6M574.5 314.1h8.6M593.3 308.2V309.9M589 308.2h8.6M589 309.9h8.6M607.4 303.5V305.4M603.1 303.5h8.6M603.1 305.4h8.6"/><path stroke="#a767f6" stroke-width="1.85" d="M439.9 289.9V334.9M435.6 289.9h8.6M435.6 334.9h8.6M461.3 315.4V329.6M457 315.4h8.6M457 329.6h8.6M480.7 319.3V322.9M476.4 319.3h8.6M476.4 322.9h8.6M498.8 321.5V324.5M494.5 321.5h8.6M494.5 324.5h8.6M515.8 321.8V324.4M511.5 321.8h8.6M511.5 324.4h8.6M532.1 320.5V322.5M527.8 320.5h8.6M527.8 322.5h8.6M547.8 319V320.7M543.5 319h8.6M543.5 320.7h8.6M563 317.3V318.8M558.7 317.3h8.6M558.7 318.8h8.6M577.7 312.6V314.2M573.4 312.6h8.6M573.4 314.2h8.6M592.2 309.4V311.1M587.9 309.4h8.6M587.9 311.1h8.6M606.3 304.6V306.5M602 304.6h8.6M602 306.5h8.6"/><path stroke="#a965f5" stroke-width="1.85" d="M439.3 266.9V313.1M435 266.9h8.6M435 313.1h8.6M460.7 312.9V327.7M456.4 312.9h8.6M456.4 327.7h8.6M480 320.2V323.9M475.7 320.2h8.6M475.7 323.9h8.6M498 323.2V326.2M493.7 323.2h8.6M493.7 326.2h8.6M514.9 321.8V324.5M510.6 321.8h8.6M510.6 324.5h8.6M531.2 320V322.1M526.9 320h8.6M526.9 322.1h8.6M546.8 318.4V320.1M542.5 318.4h8.6M542.5 320.1h8.6M561.9 316.6V318.1M557.6 316.6h8.6M557.6 318.1h8.6M576.7 313.2V314.8M572.4 313.2h8.6M572.4 314.8h8.6M591 310.2V311.9M586.7 310.2h8.6M586.7 311.9h8.6M605.1 305.6V307.4M600.8 305.6h8.6M600.8 307.4h8.6"/><path stroke="#aa62f5" stroke-width="1.85" d="M438.8 299.1V346.7M434.5 299.1h8.6M434.5 346.7h8.6M460 308V323.3M455.7 308h8.6M455.7 323.3h8.6M479.3 318.6V322.6M475 318.6h8.6M475 322.6h8.6M497.2 322.4V325.4M492.9 322.4h8.6M492.9 325.4h8.6M514.1 322V324.7M509.8 322h8.6M509.8 324.7h8.6M530.2 320.4V322.6M525.9 320.4h8.6M525.9 322.6h8.6M545.8 319.4V321.1M541.5 319.4h8.6M541.5 321.1h8.6M560.9 316.7V318.2M556.6 316.7h8.6M556.6 318.2h8.6M575.6 313.4V315M571.3 313.4h8.6M571.3 315h8.6M589.9 309.8V311.5M585.6 309.8h8.6M585.6 311.5h8.6M603.9 306V307.8M599.6 306h8.6M599.6 307.8h8.6"/><path stroke="#ac60f4" stroke-width="1.85" d="M438.2 275V323.8M433.9 275h8.6M433.9 323.8h8.6M459.4 307.6V323.5M455.1 307.6h8.6M455.1 323.5h8.6M478.5 318.6V322.8M474.2 318.6h8.6M474.2 322.8h8.6M496.4 323.3V326.4M492.1 323.3h8.6M492.1 326.4h8.6M513.2 321.6V324.3M508.9 321.6h8.6M508.9 324.3h8.6M529.3 320.4V322.5M525 320.4h8.6M525 322.5h8.6M544.8 319.3V321.1M540.5 319.3h8.6M540.5 321.1h8.6M559.9 317V318.6M555.6 317h8.6M555.6 318.6h8.6M574.5 313.7V315.3M570.2 313.7h8.6M570.2 315.3h8.6M588.8 309.5V311.2M584.5 309.5h8.6M584.5 311.2h8.6M602.8 306.3V308.1M598.5 306.3h8.6M598.5 308.1h8.6"/><path stroke="#ae5ef3" stroke-width="1.85" d="M437.7 280.1V330.1M433.4 280.1h8.6M433.4 330.1h8.6M458.7 306.5V323M454.4 306.5h8.6M454.4 323h8.6M477.8 318.2V322.6M473.5 318.2h8.6M473.5 322.6h8.6M495.5 322.9V326.1M491.2 322.9h8.6M491.2 326.1h8.6M512.3 322.4V325.1M508 322.4h8.6M508 325.1h8.6M528.4 321V323.2M524.1 321h8.6M524.1 323.2h8.6M543.8 319.3V321.1M539.5 319.3h8.6M539.5 321.1h8.6M558.8 317.6V319.1M554.5 317.6h8.6M554.5 319.1h8.6M573.4 313.6V315.2M569.1 313.6h8.6M569.1 315.2h8.6M587.6 311.1V312.7M583.3 311.1h8.6M583.3 312.7h8.6M601.6 306.1V307.9M597.3 306.1h8.6M597.3 307.9h8.6"/><path stroke="#af5bf3" stroke-width="1.85" d="M437.1 272.4V323.6M432.8 272.4h8.6M432.8 323.6h8.6M458.1 313.8V331M453.8 313.8h8.6M453.8 331h8.6M477.1 318.3V323M472.8 318.3h8.6M472.8 323h8.6M494.7 320.5V323.7M490.4 320.5h8.6M490.4 323.7h8.6M511.4 322.7V325.5M507.1 322.7h8.6M507.1 325.5h8.6M527.4 321.9V324.1M523.1 321.9h8.6M523.1 324.1h8.6M542.8 319.4V321.2M538.5 319.4h8.6M538.5 321.2h8.6M557.8 317.9V319.5M553.5 317.9h8.6M553.5 319.5h8.6M572.3 313.7V315.3M568 313.7h8.6M568 315.3h8.6M586.5 310.3V312M582.2 310.3h8.6M582.2 312h8.6M600.4 306.6V308.4M596.1 306.6h8.6M596.1 308.4h8.6"/><path stroke="#b159f2" stroke-width="1.85" d="M436.5 274.1V326.6M432.2 274.1h8.6M432.2 326.6h8.6M457.4 300.4V318.3M453.1 300.4h8.6M453.1 318.3h8.6M476.3 315.6V320.6M472 315.6h8.6M472 320.6h8.6M493.9 323.1V326.3M489.6 323.1h8.6M489.6 326.3h8.6M510.6 323.1V325.9M506.3 323.1h8.6M506.3 325.9h8.6M526.5 320.8V323M522.2 320.8h8.6M522.2 323h8.6M541.8 320.2V322M537.5 320.2h8.6M537.5 322h8.6M556.7 318.1V319.7M552.4 318.1h8.6M552.4 319.7h8.6M571.2 314.5V316.1M566.9 314.5h8.6M566.9 316.1h8.6M585.3 311.4V313M581 311.4h8.6M581 313h8.6M599.2 307.1V308.9M594.9 307.1h8.6M594.9 308.9h8.6"/><path stroke="#b357f2" stroke-width="1.85" d="M436 264.8V318.5M431.7 264.8h8.6M431.7 318.5h8.6M456.7 313.1V331.7M452.4 313.1h8.6M452.4 331.7h8.6M475.6 318.4V323.8M471.3 318.4h8.6M471.3 323.8h8.6M493.1 321.3V324.6M488.8 321.3h8.6M488.8 324.6h8.6M509.7 321.8V324.6M505.4 321.8h8.6M505.4 324.6h8.6M525.5 321.1V323.4M521.2 321.1h8.6M521.2 323.4h8.6M540.8 319.6V321.4M536.5 319.6h8.6M536.5 321.4h8.6M555.6 318.2V319.8M551.3 318.2h8.6M551.3 319.8h8.6M570.1 314.8V316.3M565.8 314.8h8.6M565.8 316.3h8.6M584.2 311.1V312.8M579.9 311.1h8.6M579.9 312.8h8.6M598 307.2V308.9M593.7 307.2h8.6M593.7 308.9h8.6"/><path stroke="#b555f1" stroke-width="1.85" d="M435.4 268V323M431.1 268h8.6M431.1 323h8.6M456.1 306.5V325.9M451.8 306.5h8.6M451.8 325.9h8.6M474.8 318.2V323.8M470.5 318.2h8.6M470.5 323.8h8.6M492.2 321.9V325.3M487.9 321.9h8.6M487.9 325.3h8.6M508.8 322.6V325.4M504.5 322.6h8.6M504.5 325.4h8.6M524.6 321.7V324M520.3 321.7h8.6M520.3 324h8.6M539.8 319.5V321.4M535.5 319.5h8.6M535.5 321.4h8.6M554.6 318.4V320M550.3 318.4h8.6M550.3 320h8.6M568.9 314.7V316.2M564.6 314.7h8.6M564.6 316.2h8.6M583 312V313.6M578.7 312h8.6M578.7 313.6h8.6M596.8 308V309.7M592.5 308h8.6M592.5 309.7h8.6M610.3 303.4V305.3M606 303.4h8.6M606 305.3h8.6"/><path stroke="#b652f1" stroke-width="1.85" d="M434.8 276.6V332.9M430.5 276.6h8.6M430.5 332.9h8.6M455.4 306.7V326.9M451.1 306.7h8.6M451.1 326.9h8.6M474 320.3V326.3M469.7 320.3h8.6M469.7 326.3h8.6M491.4 321.4V324.8M487.1 321.4h8.6M487.1 324.8h8.6M507.8 322V324.8M503.5 322h8.6M503.5 324.8h8.6M523.6 321V323.4M519.3 321h8.6M519.3 323.4h8.6M538.8 320.6V322.6M534.5 320.6h8.6M534.5 322.6h8.6M553.5 318V319.6M549.2 318h8.6M549.2 319.6h8.6M567.8 315.5V317.1M563.5 315.5h8.6M563.5 317.1h8.6M581.8 311.7V313.3M577.5 311.7h8.6M577.5 313.3h8.6M595.5 308.2V309.9M591.2 308.2h8.6M591.2 309.9h8.6M609 304.5V306.4M604.7 304.5h8.6M604.7 306.4h8.6"/><path stroke="#b850f0" stroke-width="1.85" d="M434.3 281.3V339.1M430 281.3h8.6M430 339.1h8.6M454.7 294.7V315.9M450.4 294.7h8.6M450.4 315.9h8.6M473.3 317.6V323.9M469 317.6h8.6M469 323.9h8.6M490.6 323V326.4M486.3 323h8.6M486.3 326.4h8.6M506.9 321.3V324.2M502.6 321.3h8.6M502.6 324.2h8.6M522.6 321.7V324.1M518.3 321.7h8.6M518.3 324.1h8.6M537.7 320.5V322.5M533.4 320.5h8.6M533.4 322.5h8.6M552.4 318.1V319.7M548.1 318.1h8.6M548.1 319.7h8.6M566.7 316.4V317.9M562.4 316.4h8.6M562.4 317.9h8.6M580.6 312.8V314.5M576.3 312.8h8.6M576.3 314.5h8.6M594.3 308.1V309.8M590 308.1h8.6M590 309.8h8.6M607.7 303.9V305.8M603.4 303.9h8.6M603.4 305.8h8.6"/><path stroke="#b94dee" stroke-width="1.85" d="M433.7 271.6V330.8M429.4 271.6h8.6M429.4 330.8h8.6M454 309.4V331.5M449.7 309.4h8.6M449.7 331.5h8.6M472.5 316V322.7M468.2 316h8.6M468.2 322.7h8.6M489.7 322.5V326M485.4 322.5h8.6M485.4 326h8.6M506 322.4V325.4M501.7 322.4h8.6M501.7 325.4h8.6M521.6 321.9V324.4M517.3 321.9h8.6M517.3 324.4h8.6M536.7 320.1V322.1M532.4 320.1h8.6M532.4 322.1h8.6M551.3 318.1V319.7M547 318.1h8.6M547 319.7h8.6M565.5 315.9V317.4M561.2 315.9h8.6M561.2 317.4h8.6M579.4 311.9V313.6M575.1 311.9h8.6M575.1 313.6h8.6M593.1 308.5V310.2M588.8 308.5h8.6M588.8 310.2h8.6M606.5 303.4V305.3M602.2 303.4h8.6M602.2 305.3h8.6"/><path stroke="#ba4aec" stroke-width="1.85" d="M433.1 266.4V327.1M428.8 266.4h8.6M428.8 327.1h8.6M453.3 298.9V322M449 298.9h8.6M449 322h8.6M471.7 315.3V322.4M467.4 315.3h8.6M467.4 322.4h8.6M488.9 320.7V324.3M484.6 320.7h8.6M484.6 324.3h8.6M505.1 322.3V325.3M500.8 322.3h8.6M500.8 325.3h8.6M520.6 322.4V325M516.3 322.4h8.6M516.3 325h8.6M535.6 319.8V321.8M531.3 319.8h8.6M531.3 321.8h8.6M550.2 319.3V321M545.9 319.3h8.6M545.9 321h8.6M564.4 316.5V318.1M560.1 316.5h8.6M560.1 318.1h8.6M578.2 312.3V314M573.9 312.3h8.6M573.9 314h8.6M591.8 309.4V311.1M587.5 309.4h8.6M587.5 311.1h8.6M605.2 305.8V307.7M600.9 305.8h8.6M600.9 307.7h8.6M430.7 336.4V432.1M426.4 336.4h8.6M426.4 432.1h8.6"/><path stroke="#bc48ea" stroke-width="1.85" d="M432.5 291.5V353.7M428.2 291.5h8.6M428.2 353.7h8.6M452.6 310.8V335.2M448.3 310.8h8.6M448.3 335.2h8.6M470.9 315V322.6M466.6 315h8.6M466.6 322.6h8.6M488 320.9V324.6M483.7 320.9h8.6M483.7 324.6h8.6M504.2 322V325.1M499.9 322h8.6M499.9 325.1h8.6M519.6 322.5V325M515.3 322.5h8.6M515.3 325h8.6M534.6 319.9V322M530.3 319.9h8.6M530.3 322h8.6M549.1 318.9V320.6M544.8 318.9h8.6M544.8 320.6h8.6M563.2 316.1V317.6M558.9 316.1h8.6M558.9 317.6h8.6M577 313V314.6M572.7 313h8.6M572.7 314.6h8.6M590.6 309V310.7M586.3 309h8.6M586.3 310.7h8.6M603.9 305.9V307.7M599.6 305.9h8.6M599.6 307.7h8.6"/><path stroke="#bd45e9" stroke-width="1.85" d="M431.9 275.4V339.2M427.6 275.4h8.6M427.6 339.2h8.6M451.9 292.4V318.3M447.6 292.4h8.6M447.6 318.3h8.6M470.1 316.8V324.9M465.8 316.8h8.6M465.8 324.9h8.6M487.1 321.6V325.3M482.8 321.6h8.6M482.8 325.3h8.6M503.2 322V325.1M498.9 322h8.6M498.9 325.1h8.6M518.6 319.9V322.5M514.3 319.9h8.6M514.3 322.5h8.6M533.5 320.3V322.5M529.2 320.3h8.6M529.2 322.5h8.6M548 318.9V320.7M543.7 318.9h8.6M543.7 320.7h8.6M562 316.4V318M557.7 316.4h8.6M557.7 318h8.6M575.8 313.5V315.1M571.5 313.5h8.6M571.5 315.1h8.6M589.3 309.6V311.2M585 309.6h8.6M585 311.2h8.6M602.6 306.6V308.4M598.3 306.6h8.6M598.3 308.4h8.6"/><path stroke="#be42e7" stroke-width="1.85" d="M431.3 292.6V358M427 292.6h8.6M427 358h8.6M451.2 283V310.2M446.9 283h8.6M446.9 310.2h8.6M469.4 315.1V323.8M465.1 315.1h8.6M465.1 323.8h8.6M486.3 320.6V324.4M482 320.6h8.6M482 324.4h8.6M502.3 323.2V326.4M498 323.2h8.6M498 326.4h8.6M517.6 321.1V323.8M513.3 321.1h8.6M513.3 323.8h8.6M532.4 321.3V323.5M528.1 321.3h8.6M528.1 323.5h8.6M546.8 319.4V321.1M542.5 319.4h8.6M542.5 321.1h8.6M560.8 316.7V318.3M556.5 316.7h8.6M556.5 318.3h8.6M574.6 314.1V315.7M570.3 314.1h8.6M570.3 315.7h8.6M588 310.1V311.8M583.7 310.1h8.6M583.7 311.8h8.6M601.2 307.6V309.4M596.9 307.6h8.6M596.9 309.4h8.6"/><path stroke="#bf3fe5" stroke-width="1.85" d="M430.7 269.4V336.5M426.4 269.4h8.6M426.4 336.5h8.6M450.5 291.6V319.9M446.2 291.6h8.6M446.2 319.9h8.6M468.6 316.2V325.7M464.3 316.2h8.6M464.3 325.7h8.6M485.4 319.8V323.7M481.1 319.8h8.6M481.1 323.7h8.6M501.3 321V324.2M497 321h8.6M497 324.2h8.6M516.6 321.4V324.1M512.3 321.4h8.6M512.3 324.1h8.6M531.4 319.9V322.1M527.1 319.9h8.6M527.1 322.1h8.6M545.7 319.2V321M541.4 319.2h8.6M541.4 321h8.6M559.7 317.5V319M555.4 317.5h8.6M555.4 319h8.6M573.3 314.4V316M569 314.4h8.6M569 316h8.6M586.7 310.2V311.9M582.4 310.2h8.6M582.4 311.9h8.6M599.9 307.2V309M595.6 307.2h8.6M595.6 309h8.6M612.9 303.2V305.1M608.6 303.2h8.6M608.6 305.1h8.6"/><path stroke="#c13de3" stroke-width="1.85" d="M430.1 281.2V349.5M425.8 281.2h8.6M425.8 349.5h8.6M449.8 300.2V329.6M445.5 300.2h8.6M445.5 329.6h8.6M467.7 311.6V322.2M463.4 311.6h8.6M463.4 322.2h8.6M484.5 319.8V323.7M480.2 319.8h8.6M480.2 323.7h8.6M500.4 322V325.2M496.1 322h8.6M496.1 325.2h8.6M515.6 321.1V323.9M511.3 321.1h8.6M511.3 323.9h8.6M530.3 319.6V321.9M526 319.6h8.6M526 321.9h8.6M544.6 319V320.8M540.3 319h8.6M540.3 320.8h8.6M558.5 316.9V318.5M554.2 316.9h8.6M554.2 318.5h8.6M572.1 314V315.6M567.8 314h8.6M567.8 315.6h8.6M585.4 310.2V311.9M581.1 310.2h8.6M581.1 311.9h8.6M598.6 307.5V309.3M594.3 307.5h8.6M594.3 309.3h8.6M611.5 303.2V305.2M607.2 303.2h8.6M607.2 305.2h8.6"/><path stroke="#c23ae1" stroke-width="1.85" d="M429.5 266.8V336.3M425.2 266.8h8.6M425.2 336.3h8.6M449.1 288.7V319.3M444.8 288.7h8.6M444.8 319.3h8.6M466.9 312.1V323.9M462.6 312.1h8.6M462.6 323.9h8.6M483.6 319.6V323.7M479.3 319.6h8.6M479.3 323.7h8.6M499.4 321.6V324.9M495.1 321.6h8.6M495.1 324.9h8.6M514.6 322.1V325M510.3 322.1h8.6M510.3 325h8.6M529.2 320.2V322.5M524.9 320.2h8.6M524.9 322.5h8.6M543.4 319.7V321.6M539.1 319.7h8.6M539.1 321.6h8.6M557.3 317.7V319.3M553 317.7h8.6M553 319.3h8.6M570.8 314.9V316.5M566.5 314.9h8.6M566.5 316.5h8.6M584.1 311.9V313.6M579.8 311.9h8.6M579.8 313.6h8.6M597.2 307.5V309.3M592.9 307.5h8.6M592.9 309.3h8.6M610.1 304.1V306M605.8 304.1h8.6M605.8 306h8.6M622.8 299.9V302.1M618.5 299.9h8.6M618.5 302.1h8.6"/><path stroke="#c337df" stroke-width="1.85" d="M428.9 254.6V325.5M424.6 254.6h8.6M424.6 325.5h8.6M448.4 307.2V339M444.1 307.2h8.6M444.1 339h8.6M466.1 309.5V321.8M461.8 309.5h8.6M461.8 321.8h8.6M482.7 318.1V322.3M478.4 318.1h8.6M478.4 322.3h8.6M498.4 321.7V325M494.1 321.7h8.6M494.1 325h8.6M513.5 321.4V324.3M509.2 321.4h8.6M509.2 324.3h8.6M528.1 320.8V323.1M523.8 320.8h8.6M523.8 323.1h8.6M542.2 319.4V321.4M537.9 319.4h8.6M537.9 321.4h8.6M556.1 317.4V319M551.8 317.4h8.6M551.8 319h8.6M569.6 315.3V316.9M565.3 315.3h8.6M565.3 316.9h8.6M582.8 311.8V313.4M578.5 311.8h8.6M578.5 313.4h8.6M595.9 308.3V310M591.6 308.3h8.6M591.6 310h8.6M608.7 304.2V306.1M604.4 304.2h8.6M604.4 306.1h8.6M621.4 300.9V303M617.1 300.9h8.6M617.1 303h8.6"/><path stroke="#c434de" stroke-width="1.85" d="M428.3 249.4V321.6M424 249.4h8.6M424 321.6h8.6M447.6 293.6V326.7M443.3 293.6h8.6M443.3 326.7h8.6M465.3 310.5V323.4M461 310.5h8.6M461 323.4h8.6M481.8 320.2V324.6M477.5 320.2h8.6M477.5 324.6h8.6M497.4 321.4V324.8M493.1 321.4h8.6M493.1 324.8h8.6M512.5 321.7V324.7M508.2 321.7h8.6M508.2 324.7h8.6M527 321V323.4M522.7 321h8.6M522.7 323.4h8.6M541.1 319.5V321.5M536.8 319.5h8.6M536.8 321.5h8.6M554.8 317.8V319.4M550.5 317.8h8.6M550.5 319.4h8.6M568.3 315.3V316.8M564 315.3h8.6M564 316.8h8.6M581.5 311.7V313.3M577.2 311.7h8.6M577.2 313.3h8.6M594.5 308.8V310.5M590.2 308.8h8.6M590.2 310.5h8.6M607.3 305.3V307.2M603 305.3h8.6M603 307.2h8.6M620 300.7V302.8M615.7 300.7h8.6M615.7 302.8h8.6"/><path stroke="#c632dc" stroke-width="1.85" d="M427.6 271.1V344.6M423.3 271.1h8.6M423.3 344.6h8.6M446.9 305.9V340.3M442.6 305.9h8.6M442.6 340.3h8.6M464.5 310.2V323.8M460.2 310.2h8.6M460.2 323.8h8.6M480.9 319.4V324.1M476.6 319.4h8.6M476.6 324.1h8.6M496.5 321.5V325M492.2 321.5h8.6M492.2 325h8.6M511.4 322.3V325.3M507.1 322.3h8.6M507.1 325.3h8.6M525.9 320.1V322.5M521.6 320.1h8.6M521.6 322.5h8.6M539.9 320.1V322.1M535.6 320.1h8.6M535.6 322.1h8.6M553.6 317.6V319.2M549.3 317.6h8.6M549.3 319.2h8.6M567 315.5V317.1M562.7 315.5h8.6M562.7 317.1h8.6M580.2 312.6V314.3M575.9 312.6h8.6M575.9 314.3h8.6M593.1 308.7V310.4M588.8 308.7h8.6M588.8 310.4h8.6M605.9 305V306.9M601.6 305h8.6M601.6 306.9h8.6M618.5 301V303.1M614.2 301h8.6M614.2 303.1h8.6M631 297.1V299.6M626.7 297.1h8.6M626.7 299.6h8.6"/><path stroke="#c72fda" stroke-width="1.85" d="M427 288.1V363M422.7 288.1h8.6M422.7 363h8.6M446.2 288.1V323.9M441.9 288.1h8.6M441.9 323.9h8.6M463.6 311.8V326M459.3 311.8h8.6M459.3 326h8.6M479.9 319.7V324.8M475.6 319.7h8.6M475.6 324.8h8.6M495.5 321.6V325.2M491.2 321.6h8.6M491.2 325.2h8.6M510.3 322.8V325.9M506 322.8h8.6M506 325.9h8.6M524.7 321.3V323.8M520.4 321.3h8.6M520.4 323.8h8.6M538.7 320V322M534.4 320h8.6M534.4 322h8.6M552.4 317.7V319.4M548.1 317.7h8.6M548.1 319.4h8.6M565.7 315.5V317.1M561.4 315.5h8.6M561.4 317.1h8.6M578.8 312.6V314.3M574.5 312.6h8.6M574.5 314.3h8.6M591.8 308.8V310.5M587.5 308.8h8.6M587.5 310.5h8.6M604.5 304.9V306.7M600.2 304.9h8.6M600.2 306.7h8.6M617 302.6V304.6M612.7 302.6h8.6M612.7 304.6h8.6M629.5 297.9V300.3M625.2 297.9h8.6M625.2 300.3h8.6"/><path stroke="#c82cd8" stroke-width="1.85" d="M426.4 266.4V342.8M422.1 266.4h8.6M422.1 342.8h8.6M445.4 284V321.2M441.1 284h8.6M441.1 321.2h8.6M462.8 305.9V320.9M458.5 305.9h8.6M458.5 320.9h8.6M479 321.5V326.8M474.7 321.5h8.6M474.7 326.8h8.6M494.4 322.9V326.5M490.1 322.9h8.6M490.1 326.5h8.6M509.3 322.4V325.5M505 322.4h8.6M505 325.5h8.6M523.6 320.6V323.1M519.3 320.6h8.6M519.3 323.1h8.6M537.5 319.8V321.9M533.2 319.8h8.6M533.2 321.9h8.6M551.1 318.4V320.1M546.8 318.4h8.6M546.8 320.1h8.6M564.4 316.9V318.5M560.1 316.9h8.6M560.1 318.5h8.6M577.5 312.9V314.5M573.2 312.9h8.6M573.2 314.5h8.6M590.4 310V311.8M586.1 310h8.6M586.1 311.8h8.6M603 305.8V307.6M598.7 305.8h8.6M598.7 307.6h8.6M615.6 302.1V304.1M611.3 302.1h8.6M611.3 304.1h8.6M627.9 297.8V300.2M623.6 297.8h8.6M623.6 300.2h8.6"/><path stroke="#c829d5" stroke-width="1.85" d="M425.7 229V307M421.4 229h8.6M421.4 307h8.6M444.6 284.6V323.3M440.3 284.6h8.6M440.3 323.3h8.6M461.9 308.3V324.1M457.6 308.3h8.6M457.6 324.1h8.6M478.1 318.4V324.1M473.8 318.4h8.6M473.8 324.1h8.6M493.4 323V326.7M489.1 323h8.6M489.1 326.7h8.6M508.2 320.6V323.8M503.9 320.6h8.6M503.9 323.8h8.6M522.4 321.7V324.3M518.1 321.7h8.6M518.1 324.3h8.6M536.3 319.9V322.1M532 319.9h8.6M532 322.1h8.6M549.8 318.9V320.7M545.5 318.9h8.6M545.5 320.7h8.6M563.1 317.3V318.9M558.8 317.3h8.6M558.8 318.9h8.6M576.1 313.6V315.3M571.8 313.6h8.6M571.8 315.3h8.6M589 310.2V311.9M584.7 310.2h8.6M584.7 311.9h8.6M601.6 306.5V308.3M597.3 306.5h8.6M597.3 308.3h8.6M614.1 302.8V304.8M609.8 302.8h8.6M609.8 304.8h8.6M626.4 299.4V301.7M622.1 299.4h8.6M622.1 301.7h8.6"/><path stroke="#c827d3" stroke-width="1.85" d="M425.1 268.8V348.3M420.8 268.8h8.6M420.8 348.3h8.6M443.9 284.7V324.9M439.6 284.7h8.6M439.6 324.9h8.6M461.1 306.8V323.4M456.8 306.8h8.6M456.8 323.4h8.6M477.1 318.5V324.6M472.8 318.5h8.6M472.8 324.6h8.6M492.4 320.7V324.5M488.1 320.7h8.6M488.1 324.5h8.6M507.1 321.5V324.7M502.8 321.5h8.6M502.8 324.7h8.6M521.3 321.4V324.1M517 321.4h8.6M517 324.1h8.6M535.1 320.1V322.3M530.8 320.1h8.6M530.8 322.3h8.6M548.6 319.2V321M544.3 319.2h8.6M544.3 321h8.6M561.8 317.1V318.7M557.5 317.1h8.6M557.5 318.7h8.6M574.8 314V315.6M570.5 314h8.6M570.5 315.6h8.6M587.5 310.3V312M583.2 310.3h8.6M583.2 312h8.6M600.1 306.8V308.6M595.8 306.8h8.6M595.8 308.6h8.6M612.6 302.6V304.6M608.3 302.6h8.6M608.3 304.6h8.6M624.9 297.9V300.2M620.6 297.9h8.6M620.6 300.2h8.6M637 295.5V298.3M632.7 295.5h8.6M632.7 298.3h8.6"/><path stroke="#c824d0" stroke-width="1.85" d="M424.4 248.3V329.4M420.1 248.3h8.6M420.1 329.4h8.6M443.1 284.8V326.7M438.8 284.8h8.6M438.8 326.7h8.6M460.2 294.5V312M455.9 294.5h8.6M455.9 312h8.6M476.2 318.3V324.9M471.9 318.3h8.6M471.9 324.9h8.6M491.4 322.3V326.2M487.1 322.3h8.6M487.1 326.2h8.6M506 322.6V325.9M501.7 322.6h8.6M501.7 325.9h8.6M520.1 321.5V324.2M515.8 321.5h8.6M515.8 324.2h8.6M533.9 319.1V321.3M529.6 319.1h8.6M529.6 321.3h8.6M547.3 318.7V320.5M543 318.7h8.6M543 320.5h8.6M560.5 316.6V318.3M556.2 316.6h8.6M556.2 318.3h8.6M573.4 313.1V314.7M569.1 313.1h8.6M569.1 314.7h8.6M586.1 311V312.7M581.8 311h8.6M581.8 312.7h8.6M598.7 307.2V309M594.4 307.2h8.6M594.4 309h8.6M611.1 304.3V306.2M606.8 304.3h8.6M606.8 306.2h8.6M623.3 299.5V301.7M619 299.5h8.6M619 301.7h8.6M635.4 295.2V297.9M631.1 295.2h8.6M631.1 297.9h8.6"/><path stroke="#c821cd" stroke-width="1.85" d="M423.7 281.3V364.2M419.4 281.3h8.6M419.4 364.2h8.6M442.3 271.5V315.1M438 271.5h8.6M438 315.1h8.6M459.3 301.9V320.4M455 301.9h8.6M455 320.4h8.6M475.2 317.1V324.1M470.9 317.1h8.6M470.9 324.1h8.6M490.3 320.9V324.9M486 320.9h8.6M486 324.9h8.6M504.9 321.9V325.2M500.6 321.9h8.6M500.6 325.2h8.6M518.9 321.2V324M514.6 321.2h8.6M514.6 324h8.6M532.6 320.7V322.9M528.3 320.7h8.6M528.3 322.9h8.6M546 318.2V320.1M541.7 318.2h8.6M541.7 320.1h8.6M559.1 317.8V319.5M554.8 317.8h8.6M554.8 319.5h8.6M572 314.2V315.9M567.7 314.2h8.6M567.7 315.9h8.6M584.7 310.8V312.5M580.4 310.8h8.6M580.4 312.5h8.6M597.2 308.2V310M592.9 308.2h8.6M592.9 310h8.6M609.5 303.5V305.4M605.2 303.5h8.6M605.2 305.4h8.6M621.7 301.1V303.3M617.4 301.1h8.6M617.4 303.3h8.6M633.8 295.5V298.1M629.5 295.5h8.6M629.5 298.1h8.6"/><path stroke="#c81fcb" stroke-width="1.85" d="M441.5 268.2V313.5M437.2 268.2h8.6M437.2 313.5h8.6M458.4 308.4V328M454.1 308.4h8.6M454.1 328h8.6M474.2 315.9V323.5M469.9 315.9h8.6M469.9 323.5h8.6M489.3 321.8V325.9M485 321.8h8.6M485 325.9h8.6M503.8 322.2V325.6M499.5 322.2h8.6M499.5 325.6h8.6M517.8 320.5V323.3M513.5 320.5h8.6M513.5 323.3h8.6M531.4 321.4V323.8M527.1 321.4h8.6M527.1 323.8h8.6M544.7 318.8V320.7M540.4 318.8h8.6M540.4 320.7h8.6M557.8 317.6V319.2M553.5 317.6h8.6M553.5 319.2h8.6M570.6 314.6V316.2M566.3 314.6h8.6M566.3 316.2h8.6M583.2 311.7V313.4M578.9 311.7h8.6M578.9 313.4h8.6M595.7 308.3V310.1M591.4 308.3h8.6M591.4 310.1h8.6M608 304.4V306.3M603.7 304.4h8.6M603.7 306.3h8.6M620.2 300.7V302.8M615.9 300.7h8.6M615.9 302.8h8.6M632.2 296.5V299.1M627.9 296.5h8.6M627.9 299.1h8.6"/><path stroke="#c81cc8" stroke-width="1.85" d="M440.8 274V321.1M436.5 274h8.6M436.5 321.1h8.6M457.5 303.1V323.9M453.2 303.1h8.6M453.2 323.9h8.6M473.3 320V328.3M469 320h8.6M469 328.3h8.6M488.2 321.9V326.2M483.9 321.9h8.6M483.9 326.2h8.6M502.6 321.5V324.9M498.3 321.5h8.6M498.3 324.9h8.6M516.6 322.6V325.5M512.3 322.6h8.6M512.3 325.5h8.6M530.1 320.4V322.7M525.8 320.4h8.6M525.8 322.7h8.6M543.4 319V321M539.1 319h8.6M539.1 321h8.6M556.4 318V319.6M552.1 318h8.6M552.1 319.6h8.6M569.2 315.1V316.7M564.9 315.1h8.6M564.9 316.7h8.6M581.8 311.6V313.3M577.5 311.6h8.6M577.5 313.3h8.6M594.2 306.4V308.2M589.9 306.4h8.6M589.9 308.2h8.6M606.4 305.1V306.9M602.1 305.1h8.6M602.1 306.9h8.6M618.6 301V303.1M614.3 301h8.6M614.3 303.1h8.6M630.6 298.1V300.6M626.3 298.1h8.6M626.3 300.6h8.6"/><path stroke="#c819c5" stroke-width="1.85" d="M440 299.9V349.1M435.7 299.9h8.6M435.7 349.1h8.6M456.6 290.1V312.1M452.3 290.1h8.6M452.3 312.1h8.6M472.3 314.7V323.9M468 314.7h8.6M468 323.9h8.6M487.2 319.8V324.2M482.9 319.8h8.6M482.9 324.2h8.6M501.5 323.3V326.8M497.2 323.3h8.6M497.2 326.8h8.6M515.4 321.3V324.3M511.1 321.3h8.6M511.1 324.3h8.6M528.9 319.8V322.2M524.6 319.8h8.6M524.6 322.2h8.6M542.1 319.3V321.3M537.8 319.3h8.6M537.8 321.3h8.6M555 317.7V319.4M550.7 317.7h8.6M550.7 319.4h8.6M567.7 315.9V317.5M563.4 315.9h8.6M563.4 317.5h8.6M580.3 312.3V314M576 312.3h8.6M576 314h8.6M592.6 309.2V310.9M588.3 309.2h8.6M588.3 310.9h8.6M604.9 304.8V306.7M600.6 304.8h8.6M600.6 306.7h8.6M617 302.6V304.7M612.7 302.6h8.6M612.7 304.7h8.6M628.9 297.1V299.5M624.6 297.1h8.6M624.6 299.5h8.6"/><path stroke="#c817c3" stroke-width="1.85" d="M439.1 271.5V322.7M434.8 271.5h8.6M434.8 322.7h8.6M455.7 301.3V324.7M451.4 301.3h8.6M451.4 324.7h8.6M471.3 315.6V325.8M467 315.6h8.6M467 325.8h8.6M486.1 319V323.5M481.8 319h8.6M481.8 323.5h8.6M500.3 319.7V323.3M496 319.7h8.6M496 323.3h8.6M514.1 321.5V324.6M509.8 321.5h8.6M509.8 324.6h8.6M527.6 321.4V323.9M523.3 321.4h8.6M523.3 323.9h8.6M540.7 320.4V322.4M536.4 320.4h8.6M536.4 322.4h8.6M553.6 318.4V320.1M549.3 318.4h8.6M549.3 320.1h8.6M566.3 315V316.6M562 315h8.6M562 316.6h8.6M578.8 311.5V313.2M574.5 311.5h8.6M574.5 313.2h8.6M591.1 309.8V311.6M586.8 309.8h8.6M586.8 311.6h8.6M603.3 306.5V308.3M599 306.5h8.6M599 308.3h8.6M615.3 303.1V305.2M611 303.1h8.6M611 305.2h8.6M627.3 297.4V299.7M623 297.4h8.6M623 299.7h8.6M639.1 295V298M634.8 295h8.6M634.8 298h8.6M428.3 157.9V321.9M424 157.9h8.6M424 321.9h8.6"/><path stroke="#c814c0" stroke-width="1.85" d="M438.3 268.2V321.5M434 268.2h8.6M434 321.5h8.6M454.8 293.2V317.4M450.5 293.2h8.6M450.5 317.4h8.6M470.3 318.9V330M466 318.9h8.6M466 330h8.6M485 318.4V323.2M480.7 318.4h8.6M480.7 323.2h8.6M499.2 321V324.6M494.9 321h8.6M494.9 324.6h8.6M512.9 323V326.2M508.6 323h8.6M508.6 326.2h8.6M526.3 321.4V323.9M522 321.4h8.6M522 323.9h8.6M539.4 319.9V322M535.1 319.9h8.6M535.1 322h8.6M552.2 318.3V320M547.9 318.3h8.6M547.9 320h8.6M564.8 316.5V318.1M560.5 316.5h8.6M560.5 318.1h8.6M577.3 312.5V314.2M573 312.5h8.6M573 314.2h8.6M589.6 309.4V311.1M585.3 309.4h8.6M585.3 311.1h8.6M601.7 306.2V308M597.4 306.2h8.6M597.4 308h8.6M613.7 302.3V304.3M609.4 302.3h8.6M609.4 304.3h8.6M625.6 298.4V300.6M621.3 298.4h8.6M621.3 300.6h8.6M637.4 293.5V296.4M633.1 293.5h8.6M633.1 296.4h8.6"/><path stroke="#c811bd" stroke-width="1.85" d="M437.5 266.2V321.4M433.2 266.2h8.6M433.2 321.4h8.6M453.9 299V324.1M449.6 299h8.6M449.6 324.1h8.6M469.2 318.9V330.5M464.9 318.9h8.6M464.9 330.5h8.6M483.9 319.1V324.2M479.6 319.1h8.6M479.6 324.2h8.6M498 322V325.7M493.7 322h8.6M493.7 325.7h8.6M511.7 321.3V324.5M507.4 321.3h8.6M507.4 324.5h8.6M525 321.3V324M520.7 321.3h8.6M520.7 324h8.6M538 319.9V322.1M533.7 319.9h8.6M533.7 322.1h8.6M550.8 318V319.8M546.5 318h8.6M546.5 319.8h8.6M563.4 317.2V318.8M559.1 317.2h8.6M559.1 318.8h8.6M575.8 313.4V315M571.5 313.4h8.6M571.5 315h8.6M588 309.2V310.9M583.7 309.2h8.6M583.7 310.9h8.6M600.1 307.9V309.7M595.8 307.9h8.6M595.8 309.7h8.6M612.1 303.8V305.8M607.8 303.8h8.6M607.8 305.8h8.6M623.9 299.4V301.6M619.6 299.4h8.6M619.6 301.6h8.6M635.7 295.3V298M631.4 295.3h8.6M631.4 298h8.6M426.8 146.7V324.4M422.5 146.7h8.6M422.5 324.4h8.6"/><path stroke="#c80fbb" stroke-width="1.85" d="M436.7 277.6V334.9M432.4 277.6h8.6M432.4 334.9h8.6M452.9 292.4V318.6M448.6 292.4h8.6M448.6 318.6h8.6M468.2 313.1V325.1M463.9 313.1h8.6M463.9 325.1h8.6M482.8 321.3V326.6M478.5 321.3h8.6M478.5 326.6h8.6M496.8 322.1V325.9M492.5 322.1h8.6M492.5 325.9h8.6M510.4 322.9V326.2M506.1 322.9h8.6M506.1 326.2h8.6M523.7 319.7V322.3M519.4 319.7h8.6M519.4 322.3h8.6M536.6 320.3V322.5M532.3 320.3h8.6M532.3 322.5h8.6M549.4 318.5V320.3M545.1 318.5h8.6M545.1 320.3h8.6M561.9 316.8V318.4M557.6 316.8h8.6M557.6 318.4h8.6M574.2 314V315.7M569.9 314h8.6M569.9 315.7h8.6M586.4 310.3V312M582.1 310.3h8.6M582.1 312h8.6M598.5 308.3V310.1M594.2 308.3h8.6M594.2 310.1h8.6M610.4 303.6V305.5M606.1 303.6h8.6M606.1 305.5h8.6M622.2 298.8V301M617.9 298.8h8.6M617.9 301h8.6M634 297V299.7M629.7 297h8.6M629.7 299.7h8.6"/><path stroke="#c80cb8" stroke-width="1.85" d="M435.8 260.3V319.6M431.5 260.3h8.6M431.5 319.6h8.6M452 298.7V326.4M447.7 298.7h8.6M447.7 326.4h8.6M467.2 313.3V326.1M462.9 313.3h8.6M462.9 326.1h8.6M481.7 321.8V327.3M477.4 321.8h8.6M477.4 327.3h8.6M495.6 321.2V325.1M491.3 321.2h8.6M491.3 325.1h8.6M509.1 321.6V325M504.8 321.6h8.6M504.8 325h8.6M522.3 320.7V323.5M518 320.7h8.6M518 323.5h8.6M535.2 319.3V321.5M530.9 319.3h8.6M530.9 321.5h8.6M547.9 318.6V320.5M543.6 318.6h8.6M543.6 320.5h8.6M560.4 317.4V319M556.1 317.4h8.6M556.1 319h8.6M572.7 314.1V315.8M568.4 314.1h8.6M568.4 315.8h8.6M584.8 311.2V312.9M580.5 311.2h8.6M580.5 312.9h8.6M596.8 308.3V310.1M592.5 308.3h8.6M592.5 310.1h8.6M608.7 304.2V306.2M604.4 304.2h8.6M604.4 306.2h8.6M620.5 299.8V302M616.2 299.8h8.6M616.2 302h8.6M632.2 296.5V299.1M627.9 296.5h8.6M627.9 299.1h8.6M643.8 292.9V296.2M639.5 292.9h8.6M639.5 296.2h8.6"/><path stroke="#c80cb4" stroke-width="1.85" d="M435 295.6V357.1M430.7 295.6h8.6M430.7 357.1h8.6M451 309V338.2M446.7 309h8.6M446.7 338.2h8.6M466.1 312.9V326.5M461.8 312.9h8.6M461.8 326.5h8.6M480.5 319.3V325.1M476.2 319.3h8.6M476.2 325.1h8.6M494.4 321.4V325.5M490.1 321.4h8.6M490.1 325.5h8.6M507.9 321.7V325.2M503.6 321.7h8.6M503.6 325.2h8.6M521 322.4V325.2M516.7 322.4h8.6M516.7 325.2h8.6M533.8 320.1V322.4M529.5 320.1h8.6M529.5 322.4h8.6M546.5 319.8V321.7M542.2 319.8h8.6M542.2 321.7h8.6M558.9 317.1V318.8M554.6 317.1h8.6M554.6 318.8h8.6M571.1 314.4V316.1M566.8 314.4h8.6M566.8 316.1h8.6M583.2 311.5V313.2M578.9 311.5h8.6M578.9 313.2h8.6M595.2 306.1V307.9M590.9 306.1h8.6M590.9 307.9h8.6M607 304V305.9M602.7 304h8.6M602.7 305.9h8.6M618.8 300.9V303M614.5 300.9h8.6M614.5 303h8.6M630.4 298V300.5M626.1 298h8.6M626.1 300.5h8.6M642 293V296.1M637.7 293h8.6M637.7 296.1h8.6"/><path stroke="#c70cb1" stroke-width="1.85" d="M434.1 258.1V321.9M429.8 258.1h8.6M429.8 321.9h8.6M450.1 286.2V317M445.8 286.2h8.6M445.8 317h8.6M465.1 307.5V322.1M460.8 307.5h8.6M460.8 322.1h8.6M479.4 317.1V323.4M475.1 317.1h8.6M475.1 323.4h8.6M493.2 322.8V327M488.9 322.8h8.6M488.9 327h8.6M506.6 321.1V324.6M502.3 321.1h8.6M502.3 324.6h8.6M519.6 321.7V324.6M515.3 321.7h8.6M515.3 324.6h8.6M532.4 320.1V322.5M528.1 320.1h8.6M528.1 322.5h8.6M545 319.6V321.5M540.7 319.6h8.6M540.7 321.5h8.6M557.4 317.8V319.4M553.1 317.8h8.6M553.1 319.4h8.6M569.6 314.6V316.2M565.3 314.6h8.6M565.3 316.2h8.6M581.6 312.2V313.9M577.3 312.2h8.6M577.3 313.9h8.6M593.5 308.9V310.6M589.2 308.9h8.6M589.2 310.6h8.6M605.3 305.5V307.4M601 305.5h8.6M601 307.4h8.6M617 302.6V304.7M612.7 302.6h8.6M612.7 304.7h8.6M628.7 298.2V300.6M624.4 298.2h8.6M624.4 300.6h8.6M640.2 294.9V298M635.9 294.9h8.6M635.9 298h8.6"/><path stroke="#c70dad" stroke-width="1.85" d="M433.2 263V329.3M428.9 263h8.6M428.9 329.3h8.6M449.1 297V329.5M444.8 297h8.6M444.8 329.5h8.6M464 311.3V326.8M459.7 311.3h8.6M459.7 326.8h8.6M478.2 315.5V322.3M473.9 315.5h8.6M473.9 322.3h8.6M491.9 322.8V327.1M487.6 322.8h8.6M487.6 327.1h8.6M505.3 321.3V324.9M501 321.3h8.6M501 324.9h8.6M518.3 321.5V324.5M514 321.5h8.6M514 324.5h8.6M531 320.1V322.6M526.7 320.1h8.6M526.7 322.6h8.6M543.5 319.3V321.3M539.2 319.3h8.6M539.2 321.3h8.6M555.8 317.9V319.6M551.5 317.9h8.6M551.5 319.6h8.6M568 315.6V317.3M563.7 315.6h8.6M563.7 317.3h8.6M580 311.7V313.4M575.7 311.7h8.6M575.7 313.4h8.6M591.9 309V310.8M587.6 309h8.6M587.6 310.8h8.6M603.6 305.9V307.8M599.3 305.9h8.6M599.3 307.8h8.6M615.3 303.2V305.2M611 303.2h8.6M611 305.2h8.6M626.9 299.5V301.9M622.6 299.5h8.6M622.6 301.9h8.6M638.3 295.2V298.1M634 295.2h8.6M634 298.1h8.6"/><path stroke="#c60daa" stroke-width="1.85" d="M432.4 266.1V334.9M428.1 266.1h8.6M428.1 334.9h8.6M448.1 295.5V329.8M443.8 295.5h8.6M443.8 329.8h8.6M462.9 314.9V331.5M458.6 314.9h8.6M458.6 331.5h8.6M477 315.7V323.3M472.7 315.7h8.6M472.7 323.3h8.6M490.7 320.4V325M486.4 320.4h8.6M486.4 325h8.6M503.9 323.2V326.9M499.6 323.2h8.6M499.6 326.9h8.6M516.9 321.2V324.3M512.6 321.2h8.6M512.6 324.3h8.6M529.5 320.7V323.2M525.2 320.7h8.6M525.2 323.2h8.6M542 319.5V321.6M537.7 319.5h8.6M537.7 321.6h8.6M554.3 318.1V319.9M550 318.1h8.6M550 319.9h8.6M566.4 316.4V318.1M562.1 316.4h8.6M562.1 318.1h8.6M578.3 311.6V313.3M574 311.6h8.6M574 313.3h8.6M590.2 309.6V311.4M585.9 309.6h8.6M585.9 311.4h8.6M601.9 306.1V307.9M597.6 306.1h8.6M597.6 307.9h8.6M613.5 302.8V304.8M609.2 302.8h8.6M609.2 304.8h8.6M625 298.9V301.2M620.7 298.9h8.6M620.7 301.2h8.6M636.5 295.4V298.2M632.2 295.4h8.6M632.2 298.2h8.6"/><path stroke="#c60da6" stroke-width="1.85" d="M431.5 281.7V353.2M427.2 281.7h8.6M427.2 353.2h8.6M447.1 291.8V328M442.8 291.8h8.6M442.8 328h8.6M461.8 306.5V324.3M457.5 306.5h8.6M457.5 324.3h8.6M475.8 320.6V329M471.5 320.6h8.6M471.5 329h8.6M489.4 321.4V326.2M485.1 321.4h8.6M485.1 326.2h8.6M502.6 321.9V325.6M498.3 321.9h8.6M498.3 325.6h8.6M515.5 321V324.2M511.2 321h8.6M511.2 324.2h8.6M528.1 320.5V323.1M523.8 320.5h8.6M523.8 323.1h8.6M540.5 319.5V321.6M536.2 319.5h8.6M536.2 321.6h8.6M552.7 318.7V320.5M548.4 318.7h8.6M548.4 320.5h8.6M564.7 316.3V317.9M560.4 316.3h8.6M560.4 317.9h8.6M576.6 312.6V314.3M572.3 312.6h8.6M572.3 314.3h8.6M588.4 310V311.7M584.1 310h8.6M584.1 311.7h8.6M600.1 306.8V308.6M595.8 306.8h8.6M595.8 308.6h8.6M611.7 303.7V305.6M607.4 303.7h8.6M607.4 305.6h8.6M623.2 299.4V301.6M618.9 299.4h8.6M618.9 301.6h8.6M634.6 295.9V298.6M630.3 295.9h8.6M630.3 298.6h8.6M646 292.4V296M641.7 292.4h8.6M641.7 296h8.6"/><path stroke="#c60da2" stroke-width="1.85" d="M430.6 269V343.2M426.3 269h8.6M426.3 343.2h8.6M446.1 295V333.2M441.8 295h8.6M441.8 333.2h8.6M460.7 306.1V325.2M456.4 306.1h8.6M456.4 325.2h8.6M474.6 317.9V327.4M470.3 317.9h8.6M470.3 327.4h8.6M488.1 319V324M483.8 319h8.6M483.8 324h8.6M501.2 321.5V325.3M496.9 321.5h8.6M496.9 325.3h8.6M514.1 321.9V325.2M509.8 321.9h8.6M509.8 325.2h8.6M526.6 321.1V323.8M522.3 321.1h8.6M522.3 323.8h8.6M538.9 319.2V321.4M534.6 319.2h8.6M534.6 321.4h8.6M551.1 318.2V320M546.8 318.2h8.6M546.8 320h8.6M563.1 316.2V317.8M558.8 316.2h8.6M558.8 317.8h8.6M575 312.9V314.6M570.7 312.9h8.6M570.7 314.6h8.6M586.7 309.6V311.3M582.4 309.6h8.6M582.4 311.3h8.6M598.3 307.7V309.5M594 307.7h8.6M594 309.5h8.6M609.9 303.9V305.9M605.6 303.9h8.6M605.6 305.9h8.6M621.3 301.2V303.4M617 301.2h8.6M617 303.4h8.6M632.7 295.1V297.8M628.4 295.1h8.6M628.4 297.8h8.6M644 292.2V295.5M639.7 292.2h8.6M639.7 295.5h8.6"/><path stroke="#c50d9f" stroke-width="1.85" d="M429.6 274.8V351.1M425.3 274.8h8.6M425.3 351.1h8.6M445 280.1V320.4M440.7 280.1h8.6M440.7 320.4h8.6M459.5 307.1V327.7M455.2 307.1h8.6M455.2 327.7h8.6M473.4 317.8V328.5M469.1 317.8h8.6M469.1 328.5h8.6M486.8 321.4V326.8M482.5 321.4h8.6M482.5 326.8h8.6M499.9 322.4V326.2M495.6 322.4h8.6M495.6 326.2h8.6M512.6 321.7V325.1M508.3 321.7h8.6M508.3 325.1h8.6M525.1 320V322.7M520.8 320h8.6M520.8 322.7h8.6M537.4 319.4V321.7M533.1 319.4h8.6M533.1 321.7h8.6M549.5 318.3V320.2M545.2 318.3h8.6M545.2 320.2h8.6M561.4 316.8V318.5M557.1 316.8h8.6M557.1 318.5h8.6M573.3 314.1V315.8M569 314.1h8.6M569 315.8h8.6M585 311.2V313M580.7 311.2h8.6M580.7 313h8.6M596.6 307.3V309.1M592.3 307.3h8.6M592.3 309.1h8.6M608.1 304.7V306.6M603.8 304.7h8.6M603.8 306.6h8.6M619.5 300.9V303M615.2 300.9h8.6M615.2 303h8.6M630.8 297.2V299.7M626.5 297.2h8.6M626.5 299.7h8.6M642.1 292.4V295.6M637.8 292.4h8.6M637.8 295.6h8.6"/><path stroke="#c50e9b" stroke-width="1.85" d="M444 269.8V312.3M439.7 269.8h8.6M439.7 312.3h8.6M458.4 290.9V312.8M454.1 290.9h8.6M454.1 312.8h8.6M472.2 310.7V321.9M467.9 310.7h8.6M467.9 321.9h8.6M485.5 320.9V326.7M481.2 320.9h8.6M481.2 326.7h8.6M498.5 321.3V325.3M494.2 321.3h8.6M494.2 325.3h8.6M511.2 321.3V324.8M506.9 321.3h8.6M506.9 324.8h8.6M523.6 320.9V323.7M519.3 320.9h8.6M519.3 323.7h8.6M535.8 320.1V322.5M531.5 320.1h8.6M531.5 322.5h8.6M547.9 318.8V320.7M543.6 318.8h8.6M543.6 320.7h8.6M559.8 317.1V318.8M555.5 317.1h8.6M555.5 318.8h8.6M571.5 314.5V316.2M567.2 314.5h8.6M567.2 316.2h8.6M583.2 311.3V313M578.9 311.3h8.6M578.9 313h8.6M594.7 309.1V310.9M590.4 309.1h8.6M590.4 310.9h8.6M606.2 304.9V306.8M601.9 304.9h8.6M601.9 306.8h8.6M617.6 301.6V303.7M613.3 301.6h8.6M613.3 303.7h8.6M628.9 298.3V300.8M624.6 298.3h8.6M624.6 300.8h8.6M640.1 292V295M635.8 292h8.6M635.8 295h8.6"/><path stroke="#c40e98" stroke-width="1.85" d="M442.9 273.4V318.3M438.6 273.4h8.6M438.6 318.3h8.6M457.3 298.7V321.6M453 298.7h8.6M453 321.6h8.6M471 319V330.7M466.7 319h8.6M466.7 330.7h8.6M484.2 318.4V324.3M479.9 318.4h8.6M479.9 324.3h8.6M497.1 321.8V326M492.8 321.8h8.6M492.8 326h8.6M509.7 322.4V326M505.4 322.4h8.6M505.4 326h8.6M522.1 320.5V323.4M517.8 320.5h8.6M517.8 323.4h8.6M534.2 320.3V322.7M529.9 320.3h8.6M529.9 322.7h8.6M546.2 318.7V320.7M541.9 318.7h8.6M541.9 320.7h8.6M558.1 317.1V318.8M553.8 317.1h8.6M553.8 318.8h8.6M569.8 314.5V316.1M565.5 314.5h8.6M565.5 316.1h8.6M581.4 310.5V312.2M577.1 310.5h8.6M577.1 312.2h8.6M592.9 308.4V310.2M588.6 308.4h8.6M588.6 310.2h8.6M604.3 305.6V307.5M600 305.6h8.6M600 307.5h8.6M615.7 302.1V304.1M611.4 302.1h8.6M611.4 304.1h8.6M626.9 299.2V301.5M622.6 299.2h8.6M622.6 301.5h8.6M638.2 295V297.9M633.9 295h8.6M633.9 297.9h8.6M649.3 287.5V291.3M645 287.5h8.6M645 291.3h8.6"/><path stroke="#c40e94" stroke-width="1.85" d="M441.9 282.9V330.4M437.6 282.9h8.6M437.6 330.4h8.6M456.1 295.4V319.5M451.8 295.4h8.6M451.8 319.5h8.6M469.7 315.7V328M465.4 315.7h8.6M465.4 328h8.6M482.9 318.7V324.8M478.6 318.7h8.6M478.6 324.8h8.6M495.7 321.6V325.9M491.4 321.6h8.6M491.4 325.9h8.6M508.2 321.6V325.3M503.9 321.6h8.6M503.9 325.3h8.6M520.5 320.9V323.9M516.2 320.9h8.6M516.2 323.9h8.6M532.6 321.3V323.8M528.3 321.3h8.6M528.3 323.8h8.6M544.6 319.1V321.1M540.3 319.1h8.6M540.3 321.1h8.6M556.4 316.8V318.5M552.1 316.8h8.6M552.1 318.5h8.6M568 315.5V317.2M563.7 315.5h8.6M563.7 317.2h8.6M579.6 312.7V314.4M575.3 312.7h8.6M575.3 314.4h8.6M591.1 309.9V311.7M586.8 309.9h8.6M586.8 311.7h8.6M602.4 305.8V307.6M598.1 305.8h8.6M598.1 307.6h8.6M613.7 302.4V304.4M609.4 302.4h8.6M609.4 304.4h8.6M625 299.5V301.8M620.7 299.5h8.6M620.7 301.8h8.6M636.2 295.4V298.2M631.9 295.4h8.6M631.9 298.2h8.6M647.3 291V294.6M643 291h8.6M643 294.6h8.6"/><path stroke="#c30e8f" stroke-width="1.85" d="M440.8 275.6V325.7M436.5 275.6h8.6M436.5 325.7h8.6M454.9 302.9V328.1M450.6 302.9h8.6M450.6 328.1h8.6M468.4 312.3V325.2M464.1 312.3h8.6M464.1 325.2h8.6M481.5 313.6V320.1M477.2 313.6h8.6M477.2 320.1h8.6M494.2 322.4V326.9M489.9 322.4h8.6M489.9 326.9h8.6M506.7 322V325.7M502.4 322h8.6M502.4 325.7h8.6M518.9 321.3V324.4M514.6 321.3h8.6M514.6 324.4h8.6M531 320V322.6M526.7 320h8.6M526.7 322.6h8.6M542.9 318.9V321M538.6 318.9h8.6M538.6 321h8.6M554.6 317.5V319.3M550.3 317.5h8.6M550.3 319.3h8.6M566.2 316.5V318.1M561.9 316.5h8.6M561.9 318.1h8.6M577.8 312.1V313.9M573.5 312.1h8.6M573.5 313.9h8.6M589.2 309.6V311.4M584.9 309.6h8.6M584.9 311.4h8.6M600.5 306.9V308.8M596.2 306.9h8.6M596.2 308.8h8.6M611.8 303.5V305.5M607.5 303.5h8.6M607.5 305.5h8.6M623 300V302.2M618.7 300h8.6M618.7 302.2h8.6M634.1 295.5V298.2M629.8 295.5h8.6M629.8 298.2h8.6M645.2 290.2V293.7M640.9 290.2h8.6M640.9 293.7h8.6"/><path stroke="#c30f8b" stroke-width="1.85" d="M439.7 265.1V318.1M435.4 265.1h8.6M435.4 318.1h8.6M453.7 299.9V326.3M449.4 299.9h8.6M449.4 326.3h8.6M467.1 309V322.9M462.8 309h8.6M462.8 322.9h8.6M480.1 321.6V328.7M475.8 321.6h8.6M475.8 328.7h8.6M492.8 320.3V325.1M488.5 320.3h8.6M488.5 325.1h8.6M505.2 321.7V325.5M500.9 321.7h8.6M500.9 325.5h8.6M517.4 320.2V323.4M513.1 320.2h8.6M513.1 323.4h8.6M529.3 319.8V322.4M525 319.8h8.6M525 322.4h8.6M541.2 319.9V322.1M536.9 319.9h8.6M536.9 322.1h8.6M552.9 317.3V319.1M548.6 317.3h8.6M548.6 319.1h8.6M564.4 316V317.7M560.1 316h8.6M560.1 317.7h8.6M575.9 311.6V313.4M571.6 311.6h8.6M571.6 313.4h8.6M587.3 311.1V312.9M583 311.1h8.6M583 312.9h8.6M598.6 307.9V309.7M594.3 307.9h8.6M594.3 309.7h8.6M609.8 304.9V306.9M605.5 304.9h8.6M605.5 306.9h8.6M621 299.8V302M616.7 299.8h8.6M616.7 302h8.6M632.1 296.6V299.2M627.8 296.6h8.6M627.8 299.2h8.6M643.1 290.1V293.3M638.8 290.1h8.6M638.8 293.3h8.6"/><path stroke="#c20f86" stroke-width="1.85" d="M438.6 239.4V295.4M434.3 239.4h8.6M434.3 295.4h8.6M452.5 294.8V322.9M448.2 294.8h8.6M448.2 322.9h8.6M465.8 316.1V331.3M461.5 316.1h8.6M461.5 331.3h8.6M478.7 317V324.9M474.4 317h8.6M474.4 324.9h8.6M491.3 321.3V326.4M487 321.3h8.6M487 326.4h8.6M503.6 320.2V324.1M499.3 320.2h8.6M499.3 324.1h8.6M515.8 320.3V323.7M511.5 320.3h8.6M511.5 323.7h8.6M527.7 320.6V323.3M523.4 320.6h8.6M523.4 323.3h8.6M539.5 319.5V321.8M535.2 319.5h8.6M535.2 321.8h8.6M551.1 317.7V319.5M546.8 317.7h8.6M546.8 319.5h8.6M562.6 316.4V318.1M558.3 316.4h8.6M558.3 318.1h8.6M574 314.1V315.9M569.7 314.1h8.6M569.7 315.9h8.6M585.4 310.7V312.5M581.1 310.7h8.6M581.1 312.5h8.6M596.6 308.4V310.2M592.3 308.4h8.6M592.3 310.2h8.6M607.8 304.3V306.2M603.5 304.3h8.6M603.5 306.2h8.6M618.9 301.4V303.5M614.6 301.4h8.6M614.6 303.5h8.6M630 297.4V299.9M625.7 297.4h8.6M625.7 299.9h8.6M641 292.6V295.7M636.7 292.6h8.6M636.7 295.7h8.6M652 287.2V291.4M647.7 287.2h8.6M647.7 291.4h8.6M432.3 23.7V196.3M428 23.7h8.6M428 196.3h8.6"/><path stroke="#c10f81" stroke-width="1.85" d="M437.4 268.4V327.5M433.1 268.4h8.6M433.1 327.5h8.6M451.2 293.9V324.1M446.9 293.9h8.6M446.9 324.1h8.6M464.5 310.1V326.6M460.2 310.1h8.6M460.2 326.6h8.6M477.3 320.9V330M473 320.9h8.6M473 330h8.6M489.8 318.8V324.3M485.5 318.8h8.6M485.5 324.3h8.6M502.1 321.1V325.1M497.8 321.1h8.6M497.8 325.1h8.6M514.1 321.5V325.1M509.8 321.5h8.6M509.8 325.1h8.6M526 319.6V322.4M521.7 319.6h8.6M521.7 322.4h8.6M537.7 319.3V321.6M533.4 319.3h8.6M533.4 321.6h8.6M549.3 318.1V320M545 318.1h8.6M545 320h8.6M560.8 317.4V319.1M556.5 317.4h8.6M556.5 319.1h8.6M572.1 314.7V316.4M567.8 314.7h8.6M567.8 316.4h8.6M583.4 311.1V312.9M579.1 311.1h8.6M579.1 312.9h8.6M594.7 308.2V310M590.4 308.2h8.6M590.4 310h8.6M605.8 305.2V307.1M601.5 305.2h8.6M601.5 307.1h8.6M616.9 301.9V304M612.6 301.9h8.6M612.6 304h8.6M627.9 298.2V300.6M623.6 298.2h8.6M623.6 300.6h8.6M638.9 294.5V297.5M634.6 294.5h8.6M634.6 297.5h8.6M649.8 290.4V294.4M645.5 290.4h8.6M645.5 294.4h8.6"/><path stroke="#c0107c" stroke-width="1.85" d="M436.3 251.1V313.2M432 251.1h8.6M432 313.2h8.6M450 292.7V325M445.7 292.7h8.6M445.7 325h8.6M463.1 299.8V317.8M458.8 299.8h8.6M458.8 317.8h8.6M475.9 311.7V322.2M471.6 311.7h8.6M471.6 322.2h8.6M488.3 318.6V324.6M484 318.6h8.6M484 324.6h8.6M500.5 321.9V326.1M496.2 321.9h8.6M496.2 326.1h8.6M512.5 322V325.6M508.2 322h8.6M508.2 325.6h8.6M524.3 321.4V324.3M520 321.4h8.6M520 324.3h8.6M535.9 319.8V322.2M531.6 319.8h8.6M531.6 322.2h8.6M547.5 318.4V320.4M543.2 318.4h8.6M543.2 320.4h8.6M558.9 317.4V319.1M554.6 317.4h8.6M554.6 319.1h8.6M570.2 314.7V316.4M565.9 314.7h8.6M565.9 316.4h8.6M581.5 311.3V313.1M577.2 311.3h8.6M577.2 313.1h8.6M592.7 308.8V310.7M588.4 308.8h8.6M588.4 310.7h8.6M603.8 306.3V308.2M599.5 306.3h8.6M599.5 308.2h8.6M614.8 302.1V304.2M610.5 302.1h8.6M610.5 304.2h8.6M625.8 298.7V301.1M621.5 298.7h8.6M621.5 301.1h8.6M636.7 294.4V297.3M632.4 294.4h8.6M632.4 297.3h8.6M647.7 289.6V293.3M643.4 289.6h8.6M643.4 293.3h8.6"/><path stroke="#c01078" stroke-width="1.85" d="M448.7 277.2V311.9M444.4 277.2h8.6M444.4 311.9h8.6M461.8 300V319.7M457.5 300h8.6M457.5 319.7h8.6M474.4 311.4V322.5M470.1 311.4h8.6M470.1 322.5h8.6M486.8 318.8V325M482.5 318.8h8.6M482.5 325h8.6M498.9 321.5V325.9M494.6 321.5h8.6M494.6 325.9h8.6M510.8 321.7V325.4M506.5 321.7h8.6M506.5 325.4h8.6M522.5 320.9V323.8M518.2 320.9h8.6M518.2 323.8h8.6M534.1 320.5V323M529.8 320.5h8.6M529.8 323h8.6M545.6 318.8V320.9M541.3 318.8h8.6M541.3 320.9h8.6M557 317.7V319.5M552.7 317.7h8.6M552.7 319.5h8.6M568.3 315.3V317M564 315.3h8.6M564 317h8.6M579.5 310.6V312.3M575.2 310.6h8.6M575.2 312.3h8.6M590.6 309.5V311.3M586.3 309.5h8.6M586.3 311.3h8.6M601.7 306.2V308.1M597.4 306.2h8.6M597.4 308.1h8.6M612.7 303.2V305.2M608.4 303.2h8.6M608.4 305.2h8.6M623.7 299.9V302.2M619.4 299.9h8.6M619.4 302.2h8.6M634.6 295.2V297.9M630.3 295.2h8.6M630.3 297.9h8.6M645.4 291.1V294.6M641.1 291.1h8.6M641.1 294.6h8.6"/><path stroke="#bf1173" stroke-width="1.85" d="M447.4 291.2V328.4M443.1 291.2h8.6M443.1 328.4h8.6M460.4 305.7V326.7M456.1 305.7h8.6M456.1 326.7h8.6M472.9 310.4V322M468.6 310.4h8.6M468.6 322h8.6M485.2 312.6V319.1M480.9 312.6h8.6M480.9 319.1h8.6M497.2 321V325.5M492.9 321h8.6M492.9 325.5h8.6M509.1 320.6V324.4M504.8 320.6h8.6M504.8 324.4h8.6M520.8 320.1V323.2M516.5 320.1h8.6M516.5 323.2h8.6M532.3 320.9V323.4M528 320.9h8.6M528 323.4h8.6M543.8 319.1V321.3M539.5 319.1h8.6M539.5 321.3h8.6M555.1 318V319.8M550.8 318h8.6M550.8 319.8h8.6M566.3 315.8V317.5M562 315.8h8.6M562 317.5h8.6M577.5 312.6V314.3M573.2 312.6h8.6M573.2 314.3h8.6M588.6 309.9V311.7M584.3 309.9h8.6M584.3 311.7h8.6M599.6 307V308.8M595.3 307h8.6M595.3 308.8h8.6M610.6 303.7V305.7M606.3 303.7h8.6M606.3 305.7h8.6M621.5 300.4V302.6M617.2 300.4h8.6M617.2 302.6h8.6M632.4 296.9V299.5M628.1 296.9h8.6M628.1 299.5h8.6M643.2 292.8V296.1M638.9 292.8h8.6M638.9 296.1h8.6M654 288.6V293M649.7 288.6h8.6M649.7 293h8.6"/><path stroke="#be116e" stroke-width="1.85" d="M446.1 281.3V321.3M441.8 281.3h8.6M441.8 321.3h8.6M458.9 302V324.2M454.6 302h8.6M454.6 324.2h8.6M471.4 308.9V321.3M467.1 308.9h8.6M467.1 321.3h8.6M483.6 317.9V324.8M479.3 317.9h8.6M479.3 324.8h8.6M495.6 318.8V323.6M491.3 318.8h8.6M491.3 323.6h8.6M507.4 322.6V326.6M503.1 322.6h8.6M503.1 326.6h8.6M519 321.8V325M514.7 321.8h8.6M514.7 325h8.6M530.5 320.2V322.8M526.2 320.2h8.6M526.2 322.8h8.6M541.9 319.5V321.8M537.6 319.5h8.6M537.6 321.8h8.6M553.1 318V319.9M548.8 318h8.6M548.8 319.9h8.6M564.3 315.5V317.2M560 315.5h8.6M560 317.2h8.6M575.4 312.4V314.2M571.1 312.4h8.6M571.1 314.2h8.6M586.5 310.6V312.4M582.2 310.6h8.6M582.2 312.4h8.6M597.5 307.4V309.3M593.2 307.4h8.6M593.2 309.3h8.6M608.4 304.1V306.1M604.1 304.1h8.6M604.1 306.1h8.6M619.3 300.7V302.8M615 300.7h8.6M615 302.8h8.6M630.1 297.5V300M625.8 297.5h8.6M625.8 300h8.6M640.9 293V296.1M636.6 293h8.6M636.6 296.1h8.6M651.7 286.8V291M647.4 286.8h8.6M647.4 291h8.6"/><path stroke="#bd1169" stroke-width="1.85" d="M444.7 281.2V324.1M440.4 281.2h8.6M440.4 324.1h8.6M457.5 303.5V327M453.2 303.5h8.6M453.2 327h8.6M469.9 312V325.1M465.6 312h8.6M465.6 325.1h8.6M482 318.2V325.7M477.7 318.2h8.6M477.7 325.7h8.6M493.9 317.7V322.9M489.6 317.7h8.6M489.6 322.9h8.6M505.6 316.3V320.3M501.3 316.3h8.6M501.3 320.3h8.6M517.2 321.9V325.3M512.9 321.9h8.6M512.9 325.3h8.6M528.6 320V322.8M524.3 320h8.6M524.3 322.8h8.6M539.9 319.4V321.7M535.6 319.4h8.6M535.6 321.7h8.6M551.2 318.2V320.1M546.9 318.2h8.6M546.9 320.1h8.6M562.3 316.4V318.1M558 316.4h8.6M558 318.1h8.6M573.4 313.5V315.3M569.1 313.5h8.6M569.1 315.3h8.6M584.4 311.9V313.7M580.1 311.9h8.6M580.1 313.7h8.6M595.3 308.4V310.2M591 308.4h8.6M591 310.2h8.6M606.2 304.9V306.8M601.9 304.9h8.6M601.9 306.8h8.6M617.1 299.5V301.6M612.8 299.5h8.6M612.8 301.6h8.6M627.9 298.5V300.9M623.6 298.5h8.6M623.6 300.9h8.6M638.7 294.6V297.6M634.4 294.6h8.6M634.4 297.6h8.6M649.4 287.8V291.7M645.1 287.8h8.6M645.1 291.7h8.6"/><path stroke="#bd1265" stroke-width="1.85" d="M443.4 296.4V342.5M439.1 296.4h8.6M439.1 342.5h8.6M456 311.5V336.5M451.7 311.5h8.6M451.7 336.5h8.6M468.3 316.9V330.8M464 316.9h8.6M464 330.8h8.6M480.4 318.4V326.6M476.1 318.4h8.6M476.1 326.6h8.6M492.2 319.8V325.4M487.9 319.8h8.6M487.9 325.4h8.6M503.8 321.2V325.4M499.5 321.2h8.6M499.5 325.4h8.6M515.3 320.4V324M511 320.4h8.6M511 324h8.6M526.7 320.3V323.1M522.4 320.3h8.6M522.4 323.1h8.6M538 319.6V322M533.7 319.6h8.6M533.7 322h8.6M549.1 318.5V320.5M544.8 318.5h8.6M544.8 320.5h8.6M560.2 317.3V319M555.9 317.3h8.6M555.9 319h8.6M571.3 313.8V315.6M567 313.8h8.6M567 315.6h8.6M582.2 311.5V313.3M577.9 311.5h8.6M577.9 313.3h8.6M593.1 309.4V311.3M588.8 309.4h8.6M588.8 311.3h8.6M604 305.5V307.4M599.7 305.5h8.6M599.7 307.4h8.6M614.8 302.2V304.2M610.5 302.2h8.6M610.5 304.2h8.6M625.6 298.9V301.2M621.3 298.9h8.6M621.3 301.2h8.6M636.3 294.6V297.5M632 294.6h8.6M632 297.5h8.6M647.1 290.9V294.6M642.8 290.9h8.6M642.8 294.6h8.6"/><path stroke="#bc1260" stroke-width="1.85" d="M442 259V308.5M437.7 259h8.6M437.7 308.5h8.6M454.5 294.3V320.8M450.2 294.3h8.6M450.2 320.8h8.6M466.8 311.1V326.5M462.5 311.1h8.6M462.5 326.5h8.6M478.7 318.6V328.4M474.4 318.6h8.6M474.4 328.4h8.6M490.5 318.8V325.1M486.2 318.8h8.6M486.2 325.1h8.6M502 322.5V326.9M497.7 322.5h8.6M497.7 326.9h8.6M513.5 321.4V325.2M509.2 321.4h8.6M509.2 325.2h8.6M524.8 322V325M520.5 322h8.6M520.5 325h8.6M536 319.1V321.6M531.7 319.1h8.6M531.7 321.6h8.6M547.1 318.8V320.8M542.8 318.8h8.6M542.8 320.8h8.6M558.2 316.7V318.5M553.9 316.7h8.6M553.9 318.5h8.6M569.1 314.9V316.6M564.8 314.9h8.6M564.8 316.6h8.6M580.1 311.8V313.6M575.8 311.8h8.6M575.8 313.6h8.6M590.9 309.3V311.1M586.6 309.3h8.6M586.6 311.1h8.6M601.8 306.6V308.5M597.5 306.6h8.6M597.5 308.5h8.6M612.5 304V306M608.2 304h8.6M608.2 306h8.6M623.3 299.6V301.9M619 299.6h8.6M619 301.9h8.6M634 296.6V299.3M629.7 296.6h8.6M629.7 299.3h8.6M644.7 291.6V295.1M640.4 291.6h8.6M640.4 295.1h8.6M655.3 283.6V288.2M651 283.6h8.6M651 288.2h8.6"/><path stroke="#bb125d" stroke-width="1.85" d="M453 293.9V322.2M448.7 293.9h8.6M448.7 322.2h8.6M465.1 316.1V333.2M460.8 316.1h8.6M460.8 333.2h8.6M477 313.7V324.4M472.7 313.7h8.6M472.7 324.4h8.6M488.7 320.9V327.5M484.4 320.9h8.6M484.4 327.5h8.6M500.2 315.5V320.1M495.9 315.5h8.6M495.9 320.1h8.6M511.6 320.8V324.7M507.3 320.8h8.6M507.3 324.7h8.6M522.8 319.5V322.7M518.5 319.5h8.6M518.5 322.7h8.6M534 320.3V322.9M529.7 320.3h8.6M529.7 322.9h8.6M545 318.6V320.7M540.7 318.6h8.6M540.7 320.7h8.6M556 317.6V319.4M551.7 317.6h8.6M551.7 319.4h8.6M567 314.6V316.3M562.7 314.6h8.6M562.7 316.3h8.6M577.9 313.1V314.8M573.6 313.1h8.6M573.6 314.8h8.6M588.7 309.9V311.7M584.4 309.9h8.6M584.4 311.7h8.6M599.5 307V308.9M595.2 307h8.6M595.2 308.9h8.6M610.2 304.2V306.2M605.9 304.2h8.6M605.9 306.2h8.6M620.9 299.9V302.1M616.6 299.9h8.6M616.6 302.1h8.6M631.6 297.1V299.7M627.3 297.1h8.6M627.3 299.7h8.6M642.3 293V296.3M638 293h8.6M638 296.3h8.6M652.9 288.5V292.8M648.6 288.5h8.6M648.6 292.8h8.6"/><path stroke="#bb1259" stroke-width="1.85" d="M451.5 294.9V325.8M447.2 294.9h8.6M447.2 325.8h8.6M463.5 316.2V335.2M459.2 316.2h8.6M459.2 335.2h8.6M475.3 318.6V330M471 318.6h8.6M471 330h8.6M486.9 314V321M482.6 314h8.6M482.6 321h8.6M498.3 319.6V324.4M494 319.6h8.6M494 324.4h8.6M509.6 321.1V325.2M505.3 321.1h8.6M505.3 325.2h8.6M520.8 320.4V323.6M516.5 320.4h8.6M516.5 323.6h8.6M531.9 319.8V322.5M527.6 319.8h8.6M527.6 322.5h8.6M542.9 318.8V321M538.6 318.8h8.6M538.6 321h8.6M553.9 318.3V320.1M549.6 318.3h8.6M549.6 320.1h8.6M564.8 316.4V318.1M560.5 316.4h8.6M560.5 318.1h8.6M575.6 313.8V315.5M571.3 313.8h8.6M571.3 315.5h8.6M586.4 310.1V311.9M582.1 310.1h8.6M582.1 311.9h8.6M597.2 307.4V309.3M592.9 307.4h8.6M592.9 309.3h8.6M607.9 304.8V306.8M603.6 304.8h8.6M603.6 306.8h8.6M618.6 302.1V304.3M614.3 302.1h8.6M614.3 304.3h8.6M629.2 297.8V300.3M624.9 297.8h8.6M624.9 300.3h8.6M639.8 292.9V296M635.5 292.9h8.6M635.5 296h8.6M650.4 287.8V291.8M646.1 287.8h8.6M646.1 291.8h8.6"/><path stroke="#ba1256" stroke-width="1.85" d="M449.9 292.9V326.7M445.6 292.9h8.6M445.6 326.7h8.6M461.8 309.7V330.1M457.5 309.7h8.6M457.5 330.1h8.6M473.5 310.2V322.4M469.2 310.2h8.6M469.2 322.4h8.6M485 315.9V323.4M480.7 315.9h8.6M480.7 323.4h8.6M496.4 321.7V326.9M492.1 321.7h8.6M492.1 326.9h8.6M507.7 321.3V325.5M503.4 321.3h8.6M503.4 325.5h8.6M518.8 320.8V324.2M514.5 320.8h8.6M514.5 324.2h8.6M529.8 319.5V322.3M525.5 319.5h8.6M525.5 322.3h8.6M540.8 320.1V322.5M536.5 320.1h8.6M536.5 322.5h8.6M551.7 318.3V320.3M547.4 318.3h8.6M547.4 320.3h8.6M562.6 316.7V318.4M558.3 316.7h8.6M558.3 318.4h8.6M573.4 314V315.8M569.1 314h8.6M569.1 315.8h8.6M584.1 311.7V313.5M579.8 311.7h8.6M579.8 313.5h8.6M594.8 308.2V310.1M590.5 308.2h8.6M590.5 310.1h8.6M605.5 305.8V307.8M601.2 305.8h8.6M601.2 307.8h8.6M616.1 302.3V304.4M611.8 302.3h8.6M611.8 304.4h8.6M626.8 297.2V299.6M622.5 297.2h8.6M622.5 299.6h8.6M637.4 294.7V297.6M633.1 294.7h8.6M633.1 297.6h8.6M647.9 290.9V294.7M643.6 290.9h8.6M643.6 294.7h8.6M658.5 282V287M654.2 282h8.6M654.2 287h8.6"/><path stroke="#b91253" stroke-width="1.85" d="M460.1 301.6V323.4M455.8 301.6h8.6M455.8 323.4h8.6M471.7 307.8V320.8M467.4 307.8h8.6M467.4 320.8h8.6M483.2 319.6V327.7M478.9 319.6h8.6M478.9 327.7h8.6M494.5 319.5V325.2M490.2 319.5h8.6M490.2 325.2h8.6M505.6 321.3V325.6M501.3 321.3h8.6M501.3 325.6h8.6M516.7 321.1V324.8M512.4 321.1h8.6M512.4 324.8h8.6M527.7 320.2V323.1M523.4 320.2h8.6M523.4 323.1h8.6M538.6 318.7V321.2M534.3 318.7h8.6M534.3 321.2h8.6M549.5 318.4V320.4M545.2 318.4h8.6M545.2 320.4h8.6M560.3 318V319.7M556 318h8.6M556 319.7h8.6M571.1 314.1V315.8M566.8 314.1h8.6M566.8 315.8h8.6M581.8 311.7V313.5M577.5 311.7h8.6M577.5 313.5h8.6M592.4 308.6V310.5M588.1 308.6h8.6M588.1 310.5h8.6M603.1 306.5V308.4M598.8 306.5h8.6M598.8 308.4h8.6M613.7 302.6V304.7M609.4 302.6h8.6M609.4 304.7h8.6M624.3 298.2V300.5M620 298.2h8.6M620 300.5h8.6M634.8 295.5V298.2M630.5 295.5h8.6M630.5 298.2h8.6M645.4 291.5V295.1M641.1 291.5h8.6M641.1 295.1h8.6M655.9 286.2V290.9M651.6 286.2h8.6M651.6 290.9h8.6"/><path stroke="#b9124f" stroke-width="1.85" d="M458.4 300.7V324.2M454.1 300.7h8.6M454.1 324.2h8.6M469.9 316.3V330.3M465.6 316.3h8.6M465.6 330.3h8.6M481.3 317.8V327M477 317.8h8.6M477 327h8.6M492.5 319.9V326.4M488.2 319.9h8.6M488.2 326.4h8.6M503.6 322V326.6M499.3 322h8.6M499.3 326.6h8.6M514.6 319V322.9M510.3 319h8.6M510.3 322.9h8.6M525.6 322V325M521.3 322h8.6M521.3 325h8.6M536.4 320.8V323.3M532.1 320.8h8.6M532.1 323.3h8.6M547.2 317.7V319.8M542.9 317.7h8.6M542.9 319.8h8.6M558 317.9V319.7M553.7 317.9h8.6M553.7 319.7h8.6M568.7 314.9V316.6M564.4 314.9h8.6M564.4 316.6h8.6M579.4 312.1V313.9M575.1 312.1h8.6M575.1 313.9h8.6M590 309.3V311.1M585.7 309.3h8.6M585.7 311.1h8.6M600.6 306.9V308.8M596.3 306.9h8.6M596.3 308.8h8.6M611.2 303.4V305.4M606.9 303.4h8.6M606.9 305.4h8.6M621.8 300.1V302.3M617.5 300.1h8.6M617.5 302.3h8.6M632.3 296.5V299.2M628 296.5h8.6M628 299.2h8.6M642.8 292.2V295.5M638.5 292.2h8.6M638.5 295.5h8.6M653.3 286.9V291.3M649 286.9h8.6M649 291.3h8.6"/><path stroke="#b8124c" stroke-width="1.85" d="M456.6 298.8V324M452.3 298.8h8.6M452.3 324h8.6M468 314.1V329.4M463.7 314.1h8.6M463.7 329.4h8.6M479.3 315.3V325.7M475 315.3h8.6M475 325.7h8.6M490.5 322.7V329.7M486.2 322.7h8.6M486.2 329.7h8.6M501.5 321V325.8M497.2 321h8.6M497.2 325.8h8.6M512.5 321.1V325.2M508.2 321.1h8.6M508.2 325.2h8.6M523.4 319.4V322.6M519.1 319.4h8.6M519.1 322.6h8.6M534.2 319.8V322.4M529.9 319.8h8.6M529.9 322.4h8.6M544.9 318.7V320.9M540.6 318.7h8.6M540.6 320.9h8.6M555.7 316.5V318.3M551.4 316.5h8.6M551.4 318.3h8.6M566.3 314.8V316.5M562 314.8h8.6M562 316.5h8.6M577 313.7V315.4M572.7 313.7h8.6M572.7 315.4h8.6M587.6 311.1V312.9M583.3 311.1h8.6M583.3 312.9h8.6M598.1 307.1V309M593.8 307.1h8.6M593.8 309h8.6M608.7 304.2V306.2M604.4 304.2h8.6M604.4 306.2h8.6M619.2 300.7V302.9M614.9 300.7h8.6M614.9 302.9h8.6M629.7 297.4V299.9M625.4 297.4h8.6M625.4 299.9h8.6M640.2 293.9V297.1M635.9 293.9h8.6M635.9 297.1h8.6M650.7 290.5V294.6M646.4 290.5h8.6M646.4 294.6h8.6M661.1 283.6V289.1M656.8 283.6h8.6M656.8 289.1h8.6"/><path stroke="#b71249" stroke-width="1.85" d="M466.1 304.4V321.8M461.8 304.4h8.6M461.8 321.8h8.6M477.3 316.4V327.5M473 316.4h8.6M473 327.5h8.6M488.4 320.7V328.1M484.1 320.7h8.6M484.1 328.1h8.6M499.4 320.2V325.3M495.1 320.2h8.6M495.1 325.3h8.6M510.3 320.5V324.8M506 320.5h8.6M506 324.8h8.6M521.1 321.1V324.5M516.8 321.1h8.6M516.8 324.5h8.6M531.9 320.8V323.6M527.6 320.8h8.6M527.6 323.6h8.6M542.6 319.7V322M538.3 319.7h8.6M538.3 322h8.6M553.3 318.7V320.6M549 318.7h8.6M549 320.6h8.6M563.9 316.6V318.4M559.6 316.6h8.6M559.6 318.4h8.6M574.5 313.2V315M570.2 313.2h8.6M570.2 315h8.6M585.1 311.1V312.9M580.8 311.1h8.6M580.8 312.9h8.6M595.6 308.2V310.1M591.3 308.2h8.6M591.3 310.1h8.6M606.1 305.4V307.4M601.8 305.4h8.6M601.8 307.4h8.6M616.6 302.6V304.7M612.3 302.6h8.6M612.3 304.7h8.6M627.1 298.2V300.6M622.8 298.2h8.6M622.8 300.6h8.6M637.5 295.5V298.5M633.2 295.5h8.6M633.2 298.5h8.6M648 289.9V293.7M643.7 289.9h8.6M643.7 293.7h8.6M658.4 285.4V290.5M654.1 285.4h8.6M654.1 290.5h8.6"/><path stroke="#b71245" stroke-width="1.85" d="M464.1 303.7V322.7M459.8 303.7h8.6M459.8 322.7h8.6M475.3 320.3V332.3M471 320.3h8.6M471 332.3h8.6M486.3 319.8V327.9M482 319.8h8.6M482 327.9h8.6M497.2 320.6V326.2M492.9 320.6h8.6M492.9 326.2h8.6M508 322.3V326.7M503.7 322.3h8.6M503.7 326.7h8.6M518.8 319.9V323.6M514.5 319.9h8.6M514.5 323.6h8.6M529.5 320.9V323.8M525.2 320.9h8.6M525.2 323.8h8.6M540.2 319.2V321.7M535.9 319.2h8.6M535.9 321.7h8.6M550.8 318.6V320.7M546.5 318.6h8.6M546.5 320.7h8.6M561.4 317V318.8M557.1 317h8.6M557.1 318.8h8.6M572 314.7V316.5M567.7 314.7h8.6M567.7 316.5h8.6M582.5 311.5V313.3M578.2 311.5h8.6M578.2 313.3h8.6M593 309.3V311.2M588.7 309.3h8.6M588.7 311.2h8.6M603.5 305.8V307.8M599.2 305.8h8.6M599.2 307.8h8.6M614 302.3V304.3M609.7 302.3h8.6M609.7 304.3h8.6M624.4 298.9V301.3M620.1 298.9h8.6M620.1 301.3h8.6M634.8 295.1V297.9M630.5 295.1h8.6M630.5 297.9h8.6M645.3 293.1V296.6M641 293.1h8.6M641 296.6h8.6M655.7 288.1V292.8M651.4 288.1h8.6M651.4 292.8h8.6"/><path stroke="#b61242" stroke-width="1.85" d="M462.1 303.3V324M457.8 303.3h8.6M457.8 324h8.6M473.2 308.2V321.2M468.9 308.2h8.6M468.9 321.2h8.6M484.1 317.1V326.1M479.8 317.1h8.6M479.8 326.1h8.6M495 319V325.3M490.7 319h8.6M490.7 325.3h8.6M505.8 320.5V325.1M501.5 320.5h8.6M501.5 325.1h8.6M516.5 321.8V325.7M512.2 321.8h8.6M512.2 325.7h8.6M527.2 320.7V323.8M522.9 320.7h8.6M522.9 323.8h8.6M537.8 319.5V322.1M533.5 319.5h8.6M533.5 322.1h8.6M548.4 319.1V321.3M544.1 319.1h8.6M544.1 321.3h8.6M558.9 317.6V319.4M554.6 317.6h8.6M554.6 319.4h8.6M569.4 314.4V316.2M565.1 314.4h8.6M565.1 316.2h8.6M579.9 312.6V314.4M575.6 312.6h8.6M575.6 314.4h8.6M590.4 309.2V311.1M586.1 309.2h8.6M586.1 311.1h8.6M600.9 306.8V308.8M596.6 306.8h8.6M596.6 308.8h8.6M611.3 301.9V304M607 301.9h8.6M607 304h8.6M621.7 300.4V302.7M617.4 300.4h8.6M617.4 302.7h8.6M632.1 297.4V300.1M627.8 297.4h8.6M627.8 300.1h8.6M642.5 293.6V296.9M638.2 293.6h8.6M638.2 296.9h8.6M652.9 289.3V293.7M648.6 289.3h8.6M648.6 293.7h8.6M663.2 282.6V288.4M658.9 282.6h8.6M658.9 288.4h8.6"/><path stroke="#b5123f" stroke-width="1.85" d="M471 308.3V322.6M466.7 308.3h8.6M466.7 322.6h8.6M481.9 318.2V328.6M477.6 318.2h8.6M477.6 328.6h8.6M492.7 319.2V326.3M488.4 319.2h8.6M488.4 326.3h8.6M503.4 322.6V327.5M499.1 322.6h8.6M499.1 327.5h8.6M514.1 320V324.2M509.8 320h8.6M509.8 324.2h8.6M524.7 320.4V323.7M520.4 320.4h8.6M520.4 323.7h8.6M535.3 320.2V322.9M531 320.2h8.6M531 322.9h8.6M545.8 318.1V320.3M541.5 318.1h8.6M541.5 320.3h8.6M556.3 317.4V319.2M552 317.4h8.6M552 319.2h8.6M566.8 315.6V317.3M562.5 315.6h8.6M562.5 317.3h8.6M577.3 313.3V315.2M573 313.3h8.6M573 315.2h8.6M587.7 310.4V312.3M583.4 310.4h8.6M583.4 312.3h8.6M598.2 308.1V310M593.9 308.1h8.6M593.9 310h8.6M608.6 304.3V306.3M604.3 304.3h8.6M604.3 306.3h8.6M618.9 300.8V303M614.6 300.8h8.6M614.6 303h8.6M629.3 297.4V299.9M625 297.4h8.6M625 299.9h8.6M639.7 295.4V298.5M635.4 295.4h8.6M635.4 298.5h8.6M650 289.6V293.7M645.7 289.6h8.6M645.7 293.7h8.6M660.4 284V289.4M656.1 284h8.6M656.1 289.4h8.6"/><path stroke="#b5123b" stroke-width="1.85" d="M468.8 313.2V328.8M464.5 313.2h8.6M464.5 328.8h8.6M479.6 313.7V324.5M475.3 313.7h8.6M475.3 324.5h8.6M490.4 318.9V326.7M486.1 318.9h8.6M486.1 326.7h8.6M501 319.2V324.5M496.7 319.2h8.6M496.7 324.5h8.6M511.6 321.8V326.1M507.3 321.8h8.6M507.3 326.1h8.6M522.2 320.8V324.3M517.9 320.8h8.6M517.9 324.3h8.6M532.7 319.4V322.2M528.4 319.4h8.6M528.4 322.2h8.6M543.3 319.3V321.7M539 319.3h8.6M539 321.7h8.6M553.7 317.2V319.2M549.4 317.2h8.6M549.4 319.2h8.6M564.2 316V317.8M559.9 316h8.6M559.9 317.8h8.6M574.6 313.6V315.4M570.3 313.6h8.6M570.3 315.4h8.6M585 311.7V313.6M580.7 311.7h8.6M580.7 313.6h8.6M595.4 309.1V311M591.1 309.1h8.6M591.1 311h8.6M605.8 305.6V307.6M601.5 305.6h8.6M601.5 307.6h8.6M616.1 302.2V304.3M611.8 302.2h8.6M611.8 304.3h8.6M626.5 299V301.5M622.2 299h8.6M622.2 301.5h8.6M636.8 294V297M632.5 294h8.6M632.5 297h8.6M647.2 289.9V293.7M642.9 289.9h8.6M642.9 293.7h8.6M657.5 285.5V290.5M653.2 285.5h8.6M653.2 290.5h8.6"/><path stroke="#b41238" stroke-width="1.85" d="M466.6 304.7V322.2M462.3 304.7h8.6M462.3 322.2h8.6M477.3 311.6V323.3M473 311.6h8.6M473 323.3h8.6M488 321.3V329.8M483.7 321.3h8.6M483.7 329.8h8.6M498.6 318.4V324.3M494.3 318.4h8.6M494.3 324.3h8.6M509.1 320.2V324.8M504.8 320.2h8.6M504.8 324.8h8.6M519.7 320V323.8M515.4 320h8.6M515.4 323.8h8.6M530.2 319.6V322.6M525.9 319.6h8.6M525.9 322.6h8.6M540.6 318.3V320.9M536.3 318.3h8.6M536.3 320.9h8.6M551 318V320.1M546.7 318h8.6M546.7 320.1h8.6M561.5 316.5V318.3M557.2 316.5h8.6M557.2 318.3h8.6M571.9 314.3V316.1M567.6 314.3h8.6M567.6 316.1h8.6M582.2 311.4V313.3M577.9 311.4h8.6M577.9 313.3h8.6M592.6 308.6V310.5M588.3 308.6h8.6M588.3 310.5h8.6M602.9 305.9V307.9M598.6 305.9h8.6M598.6 307.9h8.6M613.3 302.6V304.7M609 302.6h8.6M609 304.7h8.6M623.6 300.5V302.9M619.3 300.5h8.6M619.3 302.9h8.6M633.9 295V297.8M629.6 295h8.6M629.6 297.8h8.6M644.2 293V296.5M639.9 293h8.6M639.9 296.5h8.6M654.5 285V289.7M650.2 285h8.6M650.2 289.7h8.6M664.8 279.4V285.6M660.5 279.4h8.6M660.5 285.6h8.6"/><path stroke="#b31235" stroke-width="1.85" d="M474.9 316.7V329.6M470.6 316.7h8.6M470.6 329.6h8.6M485.5 316V325.8M481.2 316h8.6M481.2 325.8h8.6M496.1 321.2V328M491.8 321.2h8.6M491.8 328h8.6M506.6 321.3V326.2M502.3 321.3h8.6M502.3 326.2h8.6M517 321V325.1M512.7 321h8.6M512.7 325.1h8.6M527.5 320.2V323.4M523.2 320.2h8.6M523.2 323.4h8.6M537.9 318V320.6M533.6 318h8.6M533.6 320.6h8.6M548.3 318.4V320.6M544 318.4h8.6M544 320.6h8.6M558.7 317.4V319.3M554.4 317.4h8.6M554.4 319.3h8.6M569.1 313.7V315.5M564.8 313.7h8.6M564.8 315.5h8.6M579.4 312.4V314.3M575.1 312.4h8.6M575.1 314.3h8.6M589.7 310V312M585.4 310h8.6M585.4 312h8.6M600.1 307.5V309.5M595.8 307.5h8.6M595.8 309.5h8.6M610.4 303.2V305.3M606.1 303.2h8.6M606.1 305.3h8.6M620.7 300.6V302.9M616.4 300.6h8.6M616.4 302.9h8.6M631 296.8V299.5M626.7 296.8h8.6M626.7 299.5h8.6M641.3 292.9V296.2M637 292.9h8.6M637 296.2h8.6M651.5 288.8V293.1M647.2 288.8h8.6M647.2 293.1h8.6M661.8 283.4V289.2M657.5 283.4h8.6M657.5 289.2h8.6"/><path stroke="#b21233" stroke-width="1.85" d="M472.4 319.5V333.8M468.1 319.5h8.6M468.1 333.8h8.6M483 316.8V327.7M478.7 316.8h8.6M478.7 327.7h8.6M493.5 312.6V320.2M489.2 312.6h8.6M489.2 320.2h8.6M503.9 321V326.4M499.6 321h8.6M499.6 326.4h8.6M514.4 321.6V326M510.1 321.6h8.6M510.1 326h8.6M524.8 321.3V324.8M520.5 321.3h8.6M520.5 324.8h8.6M535.1 319.2V322.1M530.8 319.2h8.6M530.8 322.1h8.6M545.5 318.3V320.7M541.2 318.3h8.6M541.2 320.7h8.6M555.8 317.9V319.9M551.5 317.9h8.6M551.5 319.9h8.6M566.2 315.6V317.4M561.9 315.6h8.6M561.9 317.4h8.6M576.5 313.1V315M572.2 313.1h8.6M572.2 315h8.6M586.8 310.3V312.2M582.5 310.3h8.6M582.5 312.2h8.6M597.1 307.9V309.9M592.8 307.9h8.6M592.8 309.9h8.6M607.4 305V307.1M603.1 305h8.6M603.1 307.1h8.6M617.7 301.4V303.6M613.4 301.4h8.6M613.4 303.6h8.6M628 298.7V301.3M623.7 298.7h8.6M623.7 301.3h8.6M638.2 293.1V296.2M633.9 293.1h8.6M633.9 296.2h8.6M648.5 290V294.1M644.2 290h8.6M644.2 294.1h8.6M658.7 286.2V291.6M654.4 286.2h8.6M654.4 291.6h8.6"/><path stroke="#b11230" stroke-width="1.85" d="M469.9 310.2V326.2M465.6 310.2h8.6M465.6 326.2h8.6M480.4 314.3V325.5M476.1 314.3h8.6M476.1 325.5h8.6M490.8 321.5V330.1M486.5 321.5h8.6M486.5 330.1h8.6M501.2 319.5V325.4M496.9 319.5h8.6M496.9 325.4h8.6M511.6 320.4V325.1M507.3 320.4h8.6M507.3 325.1h8.6M522 320.5V324.4M517.7 320.5h8.6M517.7 324.4h8.6M532.3 318.2V321.2M528 318.2h8.6M528 321.2h8.6M542.6 318.7V321.2M538.3 318.7h8.6M538.3 321.2h8.6M552.9 317.4V319.5M548.6 317.4h8.6M548.6 319.5h8.6M563.2 316.9V318.8M558.9 316.9h8.6M558.9 318.8h8.6M573.5 313.8V315.7M569.2 313.8h8.6M569.2 315.7h8.6M583.8 310.7V312.7M579.5 310.7h8.6M579.5 312.7h8.6M594.1 308.6V310.7M589.8 308.6h8.6M589.8 310.7h8.6M604.4 305.8V307.9M600.1 305.8h8.6M600.1 307.9h8.6M614.6 302.8V305M610.3 302.8h8.6M610.3 305h8.6M624.9 298.5V301M620.6 298.5h8.6M620.6 301h8.6M635.1 296V299M630.8 296h8.6M630.8 299h8.6M645.4 291.8V295.7M641.1 291.8h8.6M641.1 295.7h8.6M655.6 285.4V290.6M651.3 285.4h8.6M651.3 290.6h8.6M665.9 280.1V286.9M661.6 280.1h8.6M661.6 286.9h8.6"/><path stroke="#b0122e" stroke-width="1.85" d="M467.2 309.3V326.8M462.9 309.3h8.6M462.9 326.8h8.6M477.7 311.6V324M473.4 311.6h8.6M473.4 324h8.6M488 317.3V327.3M483.7 317.3h8.6M483.7 327.3h8.6M498.4 317.9V324.9M494.1 317.9h8.6M494.1 324.9h8.6M508.7 321.9V327M504.4 321.9h8.6M504.4 327h8.6M519.1 320.1V324.2M514.8 320.1h8.6M514.8 324.2h8.6M529.4 320.4V323.7M525.1 320.4h8.6M525.1 323.7h8.6M539.7 318.6V321.3M535.4 318.6h8.6M535.4 321.3h8.6M550 318.9V321.2M545.7 318.9h8.6M545.7 321.2h8.6M560.2 315.7V317.7M555.9 315.7h8.6M555.9 317.7h8.6M570.5 314.7V316.6M566.2 314.7h8.6M566.2 316.6h8.6M580.8 310V312M576.5 310h8.6M576.5 312h8.6M591 309.3V311.5M586.7 309.3h8.6M586.7 311.5h8.6M601.3 307V309.2M597 307h8.6M597 309.2h8.6M611.5 302.2V304.5M607.2 302.2h8.6M607.2 304.5h8.6M621.7 299.3V301.8M617.4 299.3h8.6M617.4 301.8h8.6M632 296.7V299.7M627.7 296.7h8.6M627.7 299.7h8.6M642.2 293V296.7M637.9 293h8.6M637.9 296.7h8.6M652.4 288.2V293.1M648.1 288.2h8.6M648.1 293.1h8.6M662.7 281.9V288.5M658.4 281.9h8.6M658.4 288.5h8.6"/><path stroke="#af122b" stroke-width="1.85" d="M474.8 312.3V326.2M470.5 312.3h8.6M470.5 326.2h8.6M485.2 316.2V328.2M480.9 316.2h8.6M480.9 328.2h8.6M495.5 318.5V326.7M491.2 318.5h8.6M491.2 326.7h8.6M505.8 322.6V328.4M501.5 322.6h8.6M501.5 328.4h8.6M516.1 320.5V325.1M511.8 320.5h8.6M511.8 325.1h8.6M526.4 320.1V323.8M522.1 320.1h8.6M522.1 323.8h8.6M536.6 319.1V322.2M532.3 319.1h8.6M532.3 322.2h8.6M546.9 318.2V320.7M542.6 318.2h8.6M542.6 320.7h8.6M557.1 316.7V318.8M552.8 316.7h8.6M552.8 318.8h8.6M567.4 315.2V317.2M563.1 315.2h8.6M563.1 317.2h8.6M577.6 312.6V314.7M573.3 312.6h8.6M573.3 314.7h8.6M587.9 307.2V309.4M583.6 307.2h8.6M583.6 309.4h8.6M598.1 308V310.3M593.8 308h8.6M593.8 310.3h8.6M608.3 304.5V306.9M604 304.5h8.6M604 306.9h8.6M618.5 300.4V303M614.2 300.4h8.6M614.2 303h8.6M628.8 298.2V301.2M624.5 298.2h8.6M624.5 301.2h8.6M639 295.6V299.4M634.7 295.6h8.6M634.7 299.4h8.6M649.2 289V293.9M644.9 289h8.6M644.9 293.9h8.6M659.4 282.7V289.2M655.1 282.7h8.6M655.1 289.2h8.6M669.6 279.3V287.6M665.3 279.3h8.6M665.3 287.6h8.6"/><path stroke="#ae1228" stroke-width="1.85" d="M471.9 308.7V324.6M467.6 308.7h8.6M467.6 324.6h8.6M482.2 315.6V328.1M477.9 315.6h8.6M477.9 328.1h8.6M492.5 316.7V326.7M488.2 316.7h8.6M488.2 326.7h8.6M502.8 321.3V328.2M498.5 321.3h8.6M498.5 328.2h8.6M513 320.8V326.2M508.7 320.8h8.6M508.7 326.2h8.6M523.3 319.2V323.6M519 319.2h8.6M519 323.6h8.6M533.5 319.9V323.3M529.2 319.9h8.6M529.2 323.3h8.6M543.7 317.7V320.5M539.4 317.7h8.6M539.4 320.5h8.6M554 317.3V319.7M549.7 317.3h8.6M549.7 319.7h8.6M564.2 315.8V318M559.9 315.8h8.6M559.9 318h8.6M574.4 313.3V315.5M570.1 313.3h8.6M570.1 315.5h8.6M584.6 310.4V312.8M580.3 310.4h8.6M580.3 312.8h8.6M594.8 308.1V310.6M590.5 308.1h8.6M590.5 310.6h8.6M605 305.6V308.2M600.7 305.6h8.6M600.7 308.2h8.6M615.3 303.1V305.9M611 303.1h8.6M611 305.9h8.6M625.5 298.9V302.1M621.2 298.9h8.6M621.2 302.1h8.6M635.7 295V298.9M631.4 295h8.6M631.4 298.9h8.6M645.9 290.6V295.6M641.6 290.6h8.6M641.6 295.6h8.6M656.1 286.4V293.1M651.8 286.4h8.6M651.8 293.1h8.6M666.3 279.7V287.8M662 279.7h8.6M662 287.8h8.6"/><path stroke="#ad1226" stroke-width="1.85" d="M468.9 313.9V331.3M464.6 313.9h8.6M464.6 331.3h8.6M479.1 321.1V334.8M474.8 321.1h8.6M474.8 334.8h8.6M489.4 310.9V324.5M485.1 310.9h8.6M485.1 324.5h8.6M499.6 317.3V326.6M495.3 317.3h8.6M495.3 326.6h8.6M509.8 320.2V326.8M505.5 320.2h8.6M505.5 326.8h8.6M520.1 319.2V324.5M515.8 319.2h8.6M515.8 324.5h8.6M530.3 319.1V323.2M526 319.1h8.6M526 323.2h8.6M540.5 320.4V323.6M536.2 320.4h8.6M536.2 323.6h8.6M550.7 317.4V320.2M546.4 317.4h8.6M546.4 320.2h8.6M560.9 316.1V318.6M556.6 316.1h8.6M556.6 318.6h8.6M571.1 313.8V316.4M566.8 313.8h8.6M566.8 316.4h8.6M581.3 311.1V313.8M577 311.1h8.6M577 313.8h8.6M591.5 308.1V310.9M587.2 308.1h8.6M587.2 310.9h8.6M601.7 305.6V308.5M597.4 305.6h8.6M597.4 308.5h8.6M611.9 300.9V304.1M607.6 300.9h8.6M607.6 304.1h8.6M622.1 298.1V301.6M617.8 298.1h8.6M617.8 301.6h8.6M632.3 294.5V298.8M628 294.5h8.6M628 298.8h8.6M642.5 293.2V298.5M638.2 293.2h8.6M638.2 298.5h8.6M652.6 287.2V294.4M648.3 287.2h8.6M648.3 294.4h8.6M662.8 279V286.9M658.5 279h8.6M658.5 286.9h8.6"/><path stroke="#ac1223" stroke-width="1.85" d="M465.7 304.9V325.1M461.4 304.9h8.6M461.4 325.1h8.6M475.9 312.3V327.2M471.6 312.3h8.6M471.6 327.2h8.6M486.1 306.3V324.9M481.8 306.3h8.6M481.8 324.9h8.6M496.3 317.6V331.1M492 317.6h8.6M492 331.1h8.6M506.5 322.9V332.1M502.2 322.9h8.6M502.2 332.1h8.6M516.7 318.3V325.4M512.4 318.3h8.6M512.4 325.4h8.6M526.9 319.2V324.6M522.6 319.2h8.6M522.6 324.6h8.6M537.1 319.4V323.5M532.8 319.4h8.6M532.8 323.5h8.6M547.3 318.4V321.8M543 318.4h8.6M543 321.8h8.6M557.5 317.1V320.1M553.2 317.1h8.6M553.2 320.1h8.6M567.7 315.5V318.5M563.4 315.5h8.6M563.4 318.5h8.6M577.9 312.9V316.1M573.6 312.9h8.6M573.6 316.1h8.6M588 306.4V309.8M583.7 306.4h8.6M583.7 309.8h8.6M598.2 306.5V310M593.9 306.5h8.6M593.9 310h8.6M608.4 302.6V306.4M604.1 302.6h8.6M604.1 306.4h8.6M618.6 301.4V305.5M614.3 301.4h8.6M614.3 305.5h8.6M628.8 296.2V301.1M624.5 296.2h8.6M624.5 301.1h8.6M639 293.5V299.5M634.7 293.5h8.6M634.7 299.5h8.6M649.1 289.8V296.9M644.8 289.8h8.6M644.8 296.9h8.6M659.3 283.7V291.4M655 283.7h8.6M655 291.4h8.6M669.5 272.7V281M665.2 272.7h8.6M665.2 281h8.6"/><path stroke="#ab1221" stroke-width="1.85" d="M472.4 304.9V322.4M468.1 304.9h8.6M468.1 322.4h8.6M482.6 316.3V339.8M478.3 316.3h8.6M478.3 339.8h8.6M492.8 321.9V346.9M488.5 321.9h8.6M488.5 346.9h8.6M503 320V335.9M498.7 320h8.6M498.7 335.9h8.6M513.2 311.8V322.8M508.9 311.8h8.6M508.9 322.8h8.6M523.4 319V327.4M519.1 319h8.6M519.1 327.4h8.6M533.5 318.3V324.1M529.2 318.3h8.6M529.2 324.1h8.6M543.7 318V322.1M539.4 318h8.6M539.4 322.1h8.6M553.9 318.2V322M549.6 318.2h8.6M549.6 322h8.6M564.1 314.2V317.9M559.8 314.2h8.6M559.8 317.9h8.6M574.2 311.5V315.4M569.9 311.5h8.6M569.9 315.4h8.6M584.4 309.1V313.3M580.1 309.1h8.6M580.1 313.3h8.6M594.6 306.4V310.8M590.3 306.4h8.6M590.3 310.8h8.6M604.8 300.3V305M600.5 300.3h8.6M600.5 305h8.6M615 302.1V307.2M610.7 302.1h8.6M610.7 307.2h8.6M625.1 293.9V299.8M620.8 293.9h8.6M620.8 299.8h8.6M635.3 294.1V300.4M631 294.1h8.6M631 300.4h8.6M645.5 289.2V296M641.2 289.2h8.6M641.2 296h8.6M655.7 282.1V289.6M651.4 282.1h8.6M651.4 289.6h8.6M665.8 277.2V285.3M661.5 277.2h8.6M661.5 285.3h8.6"/><path stroke="#aa121e" stroke-width="1.85" d="M467.4 310.2V330.5M463.1 310.2h8.6M463.1 330.5h8.6M477.6 312.1V335.7M473.3 312.1h8.6M473.3 335.7h8.6M487.7 308.2V358.9M483.4 308.2h8.6M483.4 358.9h8.6M497.9 289.4V325.2M493.6 289.4h8.6M493.6 325.2h8.6M508.1 316.3V338.9M503.8 316.3h8.6M503.8 338.9h8.6M518.3 314.7V330.7M514 314.7h8.6M514 330.7h8.6M528.4 310.8V321.1M524.1 310.8h8.6M524.1 321.1h8.6M538.6 316.2V322.2M534.3 316.2h8.6M534.3 322.2h8.6M548.8 316.8V321M544.5 316.8h8.6M544.5 321h8.6M559 315.8V319.7M554.7 315.8h8.6M554.7 319.7h8.6M569.1 315V319M564.8 315h8.6M564.8 319h8.6M579.3 310.9V315.2M575 310.9h8.6M575 315.2h8.6M589.5 310.5V315.1M585.2 310.5h8.6M585.2 315.1h8.6M599.6 306.8V311.7M595.3 306.8h8.6M595.3 311.7h8.6M609.8 302.5V307.8M605.5 302.5h8.6M605.5 307.8h8.6M620 297.6V303.3M615.7 297.6h8.6M615.7 303.3h8.6M630.2 296.7V302.8M625.9 296.7h8.6M625.9 302.8h8.6M640.3 292.4V299M636 292.4h8.6M636 299h8.6M650.5 284.5V291.6M646.2 284.5h8.6M646.2 291.6h8.6M660.7 278.7V286.5M656.4 278.7h8.6M656.4 286.5h8.6M670.8 275.8V284.2M666.5 275.8h8.6M666.5 284.2h8.6"/></g><rect x="48.0" y="3.5" width="274.30" height="449.50" fill="none" stroke="#000" stroke-width="1.1"/><rect x="407.5" y="3.5" width="274.40" height="449.50" fill="none" stroke="#000" stroke-width="1.1"/><path d="M55.90 453.0v4.9 M415.60 453.0v4.9 M131.07 453.0v4.9 M490.95 453.0v4.9 M206.24 453.0v4.9 M566.30 453.0v4.9 M281.41 453.0v4.9 M641.65 453.0v4.9 M48.0 428.90h-4.9 M48.0 336.06h-4.9 M48.0 243.22h-4.9 M48.0 150.38h-4.9 M48.0 57.54h-4.9 M407.5 423.53h-4.9 M407.5 338.10h-4.9 M407.5 252.68h-4.9 M407.5 167.25h-4.9 M407.5 81.82h-4.9 M634.40 407.9v4.9 M669.00 407.9v4.9" stroke="#000" stroke-width="1.1" fill="none"/><rect x="600.1" y="394.4" width="69.10" height="13.50" fill="url(#cm)" stroke="#000" stroke-width="1.1"/><g font-family="Liberation Sans" font-size="17" fill="#000"><text x="55.90" y="476" text-anchor="middle">1000</text><text x="415.60" y="476" text-anchor="middle">1000</text><text x="131.07" y="476" text-anchor="middle">2000</text><text x="490.95" y="476" text-anchor="middle">2000</text><text x="206.24" y="476" text-anchor="middle">3000</text><text x="566.30" y="476" text-anchor="middle">3000</text><text x="281.41" y="476" text-anchor="middle">4000</text><text x="641.65" y="476" text-anchor="middle">4000</text><text x="37.2" y="435.00" text-anchor="end">0</text><text x="37.2" y="342.16" text-anchor="end">2</text><text x="37.2" y="249.32" text-anchor="end">4</text><text x="37.2" y="156.48" text-anchor="end">6</text><text x="37.2" y="63.64" text-anchor="end">8</text><text x="396.8" y="429.63" text-anchor="end">10</text><rect x="365.8" y="423.48" width="9.5" height="1.35" fill="#000"/><text x="396.8" y="344.20" text-anchor="end">0</text><text x="396.8" y="258.78" text-anchor="end">10</text><text x="396.8" y="173.35" text-anchor="end">20</text><text x="396.8" y="87.92" text-anchor="end">30</text><text x="185.15" y="497.3" text-anchor="middle"><tspan font-style="italic">ν</tspan> [<tspan font-style="italic">μ</tspan>Hz]</text><text x="544.70" y="497.3" text-anchor="middle"><tspan font-style="italic">ν</tspan> [<tspan font-style="italic">μ</tspan>Hz]</text><text transform="translate(17.8,228.2) rotate(-90)" text-anchor="middle"><tspan font-style="italic">S</tspan><tspan font-style="italic" font-size="12" dy="3">nl</tspan><tspan dy="-3"> [nHz/RFU]</tspan></text><text transform="translate(354.2,228.2) rotate(-90)" text-anchor="middle"><tspan font-style="italic">I</tspan><tspan font-style="italic" font-size="12" dy="3">nl</tspan><tspan font-style="italic" dy="-3">S</tspan><tspan font-style="italic" font-size="12" dy="3">nl</tspan><tspan dy="-3"> [nHz/RFU]</tspan></text><text x="634.40" y="428" font-size="13.5" text-anchor="middle">100</text><text x="669.00" y="428" font-size="13.5" text-anchor="middle">200</text><text x="634.7" y="448.5" font-style="italic" text-anchor="middle">l</text></g></svg></body></html>
